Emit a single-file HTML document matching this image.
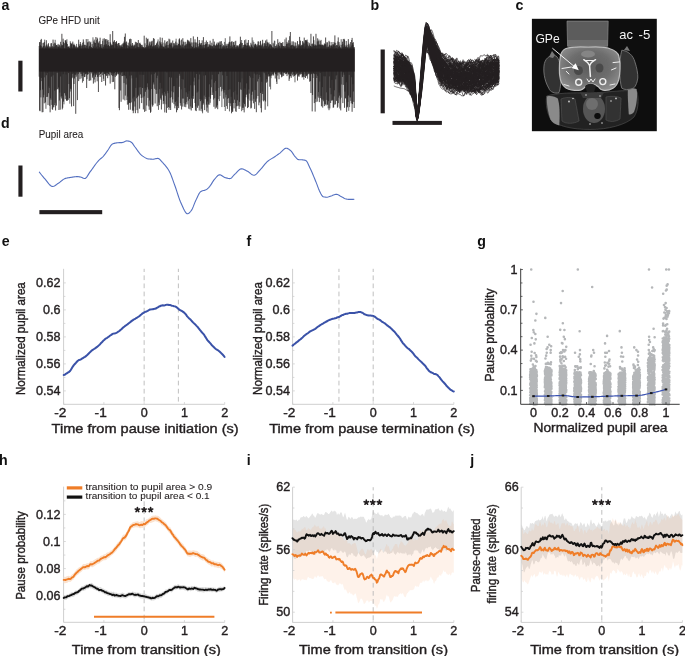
<!DOCTYPE html><html><head><meta charset="utf-8"><style>html,body{margin:0;padding:0;background:#fff;width:685px;height:656px;overflow:hidden;position:relative}</style></head><body><svg width="685" height="656" viewBox="0 0 685 656" style="position:absolute;left:0;top:0;font-family:'Liberation Sans', sans-serif;will-change:transform">
<rect width="685" height="656" fill="#fff"/>
<text x="1.60" y="10.20" font-size="14.2" text-anchor="start" font-weight="bold" fill="#111">a</text>
<text x="370.60" y="10.00" font-size="14.2" text-anchor="start" font-weight="bold" fill="#111">b</text>
<text x="515.50" y="10.20" font-size="14.2" text-anchor="start" font-weight="bold" fill="#111">c</text>
<text x="0.90" y="128.20" font-size="14.2" text-anchor="start" font-weight="bold" fill="#111">d</text>
<text x="1.80" y="246.30" font-size="14.2" text-anchor="start" font-weight="bold" fill="#111">e</text>
<text x="246.40" y="246.30" font-size="14.2" text-anchor="start" font-weight="bold" fill="#111">f</text>
<text x="477.20" y="246.30" font-size="14.2" text-anchor="start" font-weight="bold" fill="#111">g</text>
<text x="-1.00" y="464.80" font-size="14.2" text-anchor="start" font-weight="bold" fill="#111">h</text>
<text x="246.80" y="464.80" font-size="14.2" text-anchor="start" font-weight="bold" fill="#111">i</text>
<text x="470.20" y="464.80" font-size="14.2" text-anchor="start" font-weight="bold" fill="#111">j</text>
<text x="38.40" y="24.10" font-size="10" text-anchor="start" font-weight="normal" fill="#231f20" textLength="61.3" lengthAdjust="spacingAndGlyphs" stroke="#231f20" stroke-width="0.08">GPe HFD unit</text>
<rect x="18.3" y="60.7" width="4.2" height="30.8" fill="#231f20"/>
<path d="M39.20,46.0V76.7M41.72,46.1V81.1M43.82,43.1V94.8M44.66,39.6V77.4M45.08,45.5V72.9M45.92,45.9V108.8M48.86,48.3V86.5M49.28,46.4V88.0M50.54,47.4V98.3M51.80,46.8V104.9M53.48,46.9V107.3M53.90,44.0V107.2M55.16,39.8V102.8M56.00,45.8V89.8M56.84,45.0V72.9M57.68,45.5V72.8M61.46,44.5V98.5M63.98,43.3V104.3M64.40,43.3V93.0M66.08,40.1V74.5M66.92,39.2V100.3M68.18,46.6V100.0M69.86,46.8V103.7M70.28,41.2V91.6M72.38,47.4V73.9M74.90,45.3V74.4M76.58,43.9V73.5M77.00,47.6V75.4M81.20,47.4V78.4M81.62,45.4V73.9M82.46,42.7V82.7M83.72,41.8V72.9M87.08,48.1V79.2M87.92,39.0V74.2M88.34,46.6V74.2M88.76,41.8V71.7M90.86,41.7V80.4M92.96,37.3V75.8M97.58,38.8V77.1M98.00,46.0V76.6M102.20,47.5V72.6M102.62,40.8V75.2M103.46,46.9V78.8M108.92,42.1V71.8M118.16,47.2V74.5M119.84,45.3V72.6M122.78,43.4V72.2M125.72,42.3V76.1M127.40,45.3V104.7M131.18,39.1V102.1M132.02,45.2V78.4M132.86,45.3V98.5M134.54,45.4V101.4M145.04,43.3V87.9M150.08,45.9V90.5M158.06,39.4V93.7M158.48,44.7V109.9M163.10,42.6V104.2M164.36,47.3V91.9M165.62,45.7V93.7M166.04,45.6V104.3M166.88,45.2V72.6M171.92,46.1V91.4M174.44,43.2V86.1M176.12,38.7V101.0M176.96,42.7V78.1M178.22,43.9V97.2M181.16,46.3V89.4M184.10,42.2V103.2M184.52,46.1V106.8M186.62,45.4V102.2M187.88,41.2V93.8M190.40,44.1V106.5M193.76,45.4V81.6M194.18,42.3V85.4M198.80,46.0V79.5M200.90,43.2V110.8M202.58,45.3V113.3M203.84,44.9V75.6M209.72,44.4V104.7M211.40,45.6V87.3M213.50,44.6V99.6M215.60,45.7V80.9M216.86,42.7V106.4M218.96,43.0V88.0M219.38,41.5V101.1M219.80,45.2V96.0M221.06,44.8V86.2M221.48,41.1V91.4M221.90,46.7V107.1M222.32,43.7V89.1M224.42,41.9V107.0M225.26,38.2V111.0M225.68,45.6V97.5M226.52,45.6V106.1M229.46,41.7V111.4M230.30,42.2V106.2M231.14,47.6V96.8M232.82,45.3V111.6M233.66,42.2V92.2M234.92,41.5V90.8M235.34,47.0V103.0M236.18,47.1V112.0M237.02,47.0V94.5M238.28,47.4V105.5M241.64,40.0V111.2M242.06,47.5V78.4M242.48,43.0V107.8M250.46,47.3V77.5M252.14,37.4V100.7M252.98,40.4V78.1M253.82,42.0V98.9M258.44,41.4V78.9M260.12,41.7V77.1M262.22,43.5V91.7M263.06,43.5V100.4M263.48,47.1V101.4M264.74,43.6V73.3M266.00,43.7V75.2M267.68,42.9V106.3M270.62,44.5V89.4M271.04,45.0V78.2M272.30,46.8V75.5M273.98,44.1V73.3M274.40,40.7V72.4M274.82,40.9V72.2M276.50,44.4V81.7M277.34,46.5V72.7M280.28,47.7V71.6M282.38,45.4V76.6M284.06,48.0V72.5M284.90,39.3V72.1M289.52,36.2V78.7M290.78,45.6V76.3M292.46,45.2V75.3M292.88,44.8V72.0M294.98,42.2V82.3M295.40,46.3V74.8M296.66,48.4V74.2M297.92,47.6V72.6M303.80,41.7V79.7M304.64,43.4V72.1M307.58,44.5V78.7M308.00,42.1V72.1M313.04,44.6V78.0M316.40,45.4V74.3M318.50,41.2V92.1M319.76,44.6V81.6M323.54,46.1V101.3M326.06,44.5V105.5M326.48,46.7V92.4M328.16,47.1V108.4M329.42,45.0V76.4M334.46,43.1V90.3M336.98,45.0V74.9M337.40,45.5V107.9M340.34,47.3V99.4M341.18,39.2V97.7M341.60,44.9V84.5M342.02,47.1V74.6M348.74,43.5V110.8M349.58,46.5V107.1" stroke="#444" stroke-width="0.8" fill="none"/>
<path d="M39.62,42.2V110.6M40.04,42.0V111.2M40.46,45.3V90.2M40.88,40.0V97.4M41.30,38.9V77.9M42.14,47.8V112.3M42.56,47.4V89.6M42.98,42.9V112.1M43.40,46.1V97.4M44.24,42.0V103.3M45.50,47.3V102.5M46.34,40.2V75.3M46.76,44.6V97.0M47.18,47.1V73.0M47.60,46.3V96.8M48.02,44.5V105.1M48.44,43.2V93.2M49.70,47.4V105.8M50.12,46.4V112.3M50.96,43.4V99.8M51.38,43.1V76.7M52.22,47.6V109.2M52.64,46.2V109.8M53.06,39.6V75.4M54.32,42.7V105.1M54.74,46.6V90.6M55.58,43.4V110.5M56.42,45.0V105.6M57.26,46.8V89.1M58.10,43.9V89.4M58.52,47.0V87.6M58.94,45.4V110.0M59.36,44.7V100.5M59.78,46.4V92.6M60.20,47.7V109.7M60.62,41.8V76.5M61.04,46.2V96.7M61.88,33.8V96.1M62.30,45.6V109.4M62.72,45.0V107.8M63.14,38.7V74.2M63.56,41.9V101.6M64.82,48.2V93.3M65.24,40.2V99.2M65.66,40.7V95.6M66.50,42.4V100.7M67.34,44.0V100.8M67.76,47.0V99.4M68.60,46.9V73.1M69.02,45.9V84.0M69.44,48.0V98.2M70.70,42.8V88.7M71.12,44.5V89.4M71.54,44.0V106.5M71.96,43.1V78.3M72.80,41.6V77.5M73.22,44.5V73.4M73.64,45.2V106.1M74.06,43.7V84.0M74.48,45.2V78.5M75.32,47.6V74.8M75.74,46.5V113.8M76.16,46.5V76.8M77.42,48.1V100.1M77.84,46.8V72.4M78.26,47.4V73.9M78.68,39.7V81.1M79.10,44.2V71.7M79.52,46.0V72.3M79.94,45.6V79.2M80.36,42.0V71.8M80.78,44.0V73.7M82.04,46.1V76.2M82.88,45.0V75.7M83.30,39.4V81.1M84.14,47.7V72.4M84.56,44.8V77.1M84.98,44.8V76.8M85.40,47.5V74.3M85.82,45.2V73.6M86.24,39.1V73.6M86.66,45.7V88.0M87.50,42.3V74.7M89.18,41.3V81.0M89.60,46.3V72.6M90.02,45.7V80.3M90.44,42.5V71.8M91.28,47.0V73.4M91.70,47.6V71.9M92.12,44.1V71.9M92.54,48.0V77.7M93.38,46.4V83.6M93.80,41.3V75.1M94.22,39.6V79.5M94.64,42.5V73.5M95.06,47.8V82.4M95.48,42.9V76.9M95.90,37.0V73.6M96.32,46.6V74.9M96.74,40.1V73.4M97.16,37.7V81.3M98.42,42.5V92.0M98.84,43.6V72.4M99.26,41.2V75.1M99.68,47.1V72.0M100.10,37.7V77.0M100.52,44.2V74.0M100.94,45.6V73.7M101.36,47.6V72.7M101.78,44.0V82.0M103.04,38.7V71.9M103.88,45.3V81.0M104.30,38.3V73.5M104.72,44.6V74.1M105.14,40.2V73.9M105.56,39.1V85.5M105.98,45.9V75.2M106.40,44.2V75.9M106.82,39.1V72.9M107.24,40.7V73.1M107.66,45.6V78.2M108.08,40.0V75.6M108.50,45.1V74.0M109.34,46.3V75.6M109.76,46.2V72.2M110.18,34.2V83.6M110.60,42.4V72.2M111.02,43.9V73.3M111.44,45.3V75.2M111.86,45.5V73.1M112.28,45.0V82.1M112.70,31.0V76.1M113.12,45.3V73.5M113.54,41.8V81.9M113.96,41.5V75.5M114.38,40.1V73.2M114.80,47.6V89.3M115.22,44.1V77.0M115.64,42.2V71.9M116.06,42.3V75.2M116.48,41.1V75.7M116.90,43.8V74.4M117.32,45.7V72.1M117.74,43.7V73.6M118.58,43.0V73.8M119.00,43.0V108.0M119.42,45.4V110.2M120.26,47.2V74.7M120.68,45.7V90.5M121.10,45.1V101.8M121.52,46.5V72.5M121.94,44.3V76.1M122.36,46.9V76.0M123.20,44.5V99.5M123.62,43.2V75.7M124.04,41.6V83.1M124.46,36.8V75.5M124.88,43.1V100.4M125.30,33.5V95.6M126.14,44.2V84.5M126.56,41.5V78.5M126.98,45.3V100.0M127.82,47.9V96.6M128.24,42.6V104.3M128.66,45.6V109.8M129.08,46.4V102.7M129.50,39.2V102.9M129.92,47.1V75.7M130.34,38.7V109.7M130.76,44.4V103.1M131.60,46.0V75.4M132.44,43.0V110.6M133.28,45.8V113.2M133.70,46.7V110.6M134.12,44.5V96.7M134.96,45.3V106.6M135.38,41.8V113.2M135.80,47.9V87.9M136.22,43.5V77.6M136.64,42.2V98.3M137.06,46.7V110.1M137.48,43.0V97.1M137.90,46.8V113.2M138.32,40.0V94.9M138.74,47.2V96.3M139.16,47.2V87.4M139.58,43.2V108.7M140.00,42.7V74.7M140.42,44.0V94.4M140.84,45.4V87.1M141.26,46.9V98.0M141.68,44.9V103.1M142.10,44.8V74.8M142.52,46.5V88.0M142.94,47.4V97.6M143.36,47.3V109.4M143.78,47.3V74.9M144.20,35.7V96.3M144.62,48.2V111.9M145.46,47.4V91.8M145.88,47.2V111.1M146.30,37.7V89.8M146.72,45.2V105.5M147.14,46.9V87.3M147.56,39.2V83.4M147.98,38.6V97.9M148.40,45.5V89.5M148.82,46.7V106.4M149.24,43.5V109.8M149.66,41.6V100.5M150.50,45.3V112.8M150.92,41.7V111.8M151.34,43.6V74.5M151.76,41.4V89.0M152.18,40.7V104.5M152.60,46.4V106.6M153.02,46.5V105.2M153.44,38.1V82.5M153.86,45.6V84.5M154.28,38.8V73.9M154.70,46.3V88.8M155.12,45.2V103.5M155.54,45.1V72.6M155.96,47.2V89.9M156.38,43.9V93.9M156.80,42.8V78.1M157.22,46.6V106.2M157.64,41.5V75.7M158.90,47.6V102.6M159.32,46.3V105.1M159.74,41.3V89.1M160.16,37.4V82.9M160.58,43.3V98.5M161.00,42.2V100.0M161.42,45.6V109.5M161.84,44.2V88.3M162.26,37.8V93.5M162.68,46.3V95.4M163.52,46.9V101.0M163.94,46.5V103.6M164.78,40.3V112.4M165.20,43.4V95.8M166.46,41.9V112.8M167.30,41.1V107.9M167.72,47.5V91.1M168.14,45.0V93.2M168.56,47.7V107.0M168.98,38.7V109.9M169.40,43.6V77.2M169.82,39.4V107.8M170.24,44.8V97.9M170.66,42.7V110.0M171.08,44.1V97.2M171.50,42.7V77.6M172.34,47.7V102.7M172.76,40.5V99.4M173.18,47.1V92.3M173.60,43.2V86.3M174.02,45.9V104.2M174.86,44.5V108.3M175.28,45.4V102.0M175.70,41.6V105.8M176.54,45.3V112.3M177.38,45.1V110.1M177.80,46.2V106.1M178.64,43.8V108.1M179.06,39.4V86.8M179.48,38.4V73.8M179.90,40.5V75.7M180.32,45.8V103.1M180.74,44.8V105.7M181.58,39.6V109.5M182.00,47.4V78.9M182.42,44.4V98.6M182.84,38.2V106.6M183.26,47.3V79.5M183.68,41.5V98.6M184.94,45.2V87.9M185.36,45.4V104.4M185.78,41.8V107.2M186.20,44.1V92.3M187.04,43.6V104.4M187.46,39.8V96.9M188.30,41.5V100.7M188.72,40.3V108.7M189.14,43.9V91.2M189.56,41.5V99.0M189.98,42.8V109.3M190.82,38.1V85.3M191.24,42.4V110.5M191.66,46.1V98.5M192.08,47.7V107.6M192.50,46.8V108.0M192.92,42.5V96.0M193.34,36.4V98.8M194.60,47.7V77.7M195.02,39.3V103.0M195.44,42.4V110.5M195.86,46.9V106.5M196.28,47.3V111.1M196.70,42.5V74.0M197.12,47.6V92.6M197.54,36.9V107.8M197.96,43.8V91.6M198.38,47.2V105.7M199.22,40.0V110.6M199.64,42.7V74.5M200.06,44.2V99.1M200.48,44.9V101.2M201.32,43.0V108.8M201.74,45.4V99.7M202.16,40.3V111.5M203.00,47.3V104.9M203.42,37.1V103.5M204.26,44.9V95.6M204.68,47.6V110.1M205.10,42.1V99.2M205.52,44.4V75.3M205.94,43.9V97.2M206.36,40.5V104.7M206.78,43.8V111.5M207.20,47.3V107.6M207.62,42.0V101.5M208.04,46.9V112.8M208.46,46.6V104.6M208.88,44.2V96.8M209.30,45.3V84.3M210.14,40.7V102.8M210.56,45.3V98.7M210.98,46.3V95.0M211.82,42.7V79.5M212.24,46.5V74.8M212.66,46.1V95.0M213.08,38.9V92.5M213.92,47.6V106.8M214.34,41.6V82.7M214.76,44.7V98.3M215.18,45.7V108.7M216.02,45.5V91.0M216.44,44.1V107.7M217.28,45.5V105.1M217.70,44.7V109.2M218.12,42.3V99.2M218.54,43.4V74.2M220.22,44.9V72.1M220.64,41.4V87.0M222.74,46.3V75.3M223.16,47.5V90.7M223.58,45.2V98.7M224.00,45.7V92.6M224.84,46.6V90.0M226.10,43.8V94.8M226.94,45.9V76.0M227.36,48.2V108.9M227.78,43.8V98.9M228.20,45.2V89.9M228.62,43.8V98.0M229.04,42.3V103.0M229.88,36.4V89.3M230.72,45.7V103.4M231.56,41.8V113.3M231.98,41.1V109.7M232.40,46.7V111.8M233.24,41.9V103.0M234.08,45.5V108.4M234.50,44.8V99.7M235.76,40.8V111.2M236.60,45.4V106.3M237.44,45.7V100.3M237.86,45.4V106.1M238.70,46.4V81.9M239.12,45.2V109.0M239.54,43.9V101.9M239.96,45.7V106.5M240.38,36.7V82.4M240.80,42.3V89.3M241.22,43.2V89.9M242.90,47.5V110.0M243.32,45.1V107.8M243.74,46.9V102.7M244.16,44.9V112.4M244.58,40.2V104.1M245.00,44.5V88.5M245.42,44.6V106.6M245.84,39.5V97.3M246.26,46.1V94.7M246.68,45.3V83.4M247.10,42.8V94.4M247.52,45.5V108.1M247.94,42.8V98.8M248.36,40.0V107.2M248.78,45.3V89.5M249.20,47.1V93.6M249.62,45.6V75.9M250.04,46.8V100.6M250.88,42.8V108.5M251.30,45.4V107.8M251.72,44.4V94.9M252.56,46.6V91.7M253.40,47.5V103.3M254.24,44.7V73.6M254.66,45.8V108.9M255.08,44.0V90.1M255.50,43.7V101.8M255.92,44.9V74.7M256.34,46.8V112.2M256.76,45.4V98.6M257.18,44.3V74.2M257.60,46.4V81.5M258.02,41.5V96.0M258.86,45.4V105.3M259.28,45.3V74.8M259.70,45.5V102.5M260.54,40.8V93.0M260.96,45.6V108.1M261.38,46.3V112.4M261.80,44.7V81.8M262.64,39.8V94.0M263.90,45.9V72.6M264.32,42.9V100.4M265.16,45.6V109.8M265.58,40.5V101.5M266.42,46.1V82.7M266.84,39.5V79.1M267.26,41.9V81.7M268.10,43.3V76.3M268.52,46.6V74.4M268.94,42.4V76.6M269.36,45.4V76.1M269.78,44.1V86.7M270.20,44.2V76.3M271.46,45.7V75.6M271.88,31.0V72.0M272.72,47.5V73.9M273.14,42.8V74.4M273.56,47.6V75.5M275.24,46.0V78.5M275.66,47.7V74.1M276.08,45.9V74.4M276.92,47.8V84.0M277.76,39.2V75.6M278.18,44.9V71.6M278.60,42.8V72.6M279.02,47.3V79.2M279.44,45.8V72.1M279.86,41.8V73.5M280.70,43.0V74.7M281.12,46.2V73.9M281.54,43.1V77.3M281.96,43.2V75.5M282.80,42.0V71.5M283.22,46.1V72.8M283.64,46.1V75.9M284.48,46.4V72.9M285.32,45.9V74.2M285.74,47.5V72.5M286.16,37.6V73.7M286.58,44.1V73.7M287.00,41.9V76.1M287.42,43.5V72.4M287.84,46.7V72.4M288.26,43.2V74.3M288.68,40.3V74.4M289.10,47.1V80.9M289.94,43.2V73.9M290.36,32.0V76.1M291.20,45.9V77.9M291.62,44.9V73.7M292.04,41.4V71.8M293.30,41.4V76.6M293.72,46.1V73.9M294.14,45.5V74.8M294.56,46.6V76.0M295.82,42.7V75.2M296.24,45.6V73.7M297.08,47.5V73.0M297.50,41.1V80.6M298.34,45.7V76.4M298.76,44.3V75.0M299.18,44.7V76.7M299.60,36.9V74.3M300.02,46.3V72.6M300.44,40.6V74.5M300.86,45.8V73.5M301.28,46.3V72.2M301.70,44.8V74.1M302.12,45.1V77.5M302.54,41.1V76.9M302.96,45.5V74.9M303.38,43.3V76.6M304.22,37.6V77.0M305.06,46.6V74.3M305.48,40.2V78.0M305.90,40.3V72.4M306.32,40.2V76.2M306.74,41.4V75.7M307.16,39.6V74.7M308.42,45.8V74.2M308.84,47.3V72.9M309.26,42.8V73.7M309.68,44.5V81.7M310.10,46.5V74.5M310.52,45.9V81.1M310.94,33.8V93.0M311.36,46.6V74.2M311.78,43.8V73.5M312.20,46.6V111.4M312.62,43.6V95.0M313.46,36.4V73.2M313.88,40.2V73.9M314.30,44.4V103.1M314.72,45.9V74.1M315.14,46.0V111.6M315.56,44.6V98.8M315.98,33.8V102.1M316.82,45.7V78.0M317.24,41.4V101.6M317.66,38.3V75.8M318.08,44.9V96.6M318.92,39.6V97.9M319.34,44.5V102.1M320.18,41.0V73.0M320.60,44.8V98.1M321.02,39.9V95.9M321.44,44.7V106.3M321.86,46.3V99.3M322.28,44.6V87.2M322.70,45.1V107.6M323.12,44.8V99.7M323.96,45.4V76.2M324.38,43.4V106.1M324.80,44.6V104.0M325.22,44.0V76.4M325.64,37.5V104.5M326.90,42.4V99.9M327.32,42.3V104.5M327.74,47.2V104.8M328.58,46.5V101.2M329.00,40.8V110.2M329.84,41.9V108.4M330.26,45.7V87.9M330.68,47.5V103.0M331.10,45.4V94.3M331.52,45.5V100.6M331.94,42.0V79.9M332.36,46.5V100.5M332.78,44.6V99.8M333.20,44.0V107.8M333.62,45.1V107.3M334.04,42.0V96.4M334.88,35.4V104.8M335.30,46.1V104.1M335.72,42.8V79.4M336.14,48.0V75.6M336.56,45.2V100.9M337.82,41.4V106.8M338.24,37.4V103.1M338.66,46.8V97.6M339.08,42.1V92.6M339.50,46.2V95.7M339.92,44.7V108.5M340.76,47.7V110.4M342.44,41.7V76.9M342.86,44.1V103.1M343.28,39.0V84.9M343.70,46.7V72.5M344.12,38.8V74.8M344.54,39.7V107.8M344.96,45.2V91.6M345.38,46.6V98.0M345.80,47.1V98.6M346.22,41.0V82.3M346.64,46.3V111.9M347.06,44.8V107.5M347.48,47.5V106.8M347.90,47.2V102.0M348.32,39.1V95.6M349.16,44.4V74.9M350.00,48.2V97.4M350.42,42.1V97.4M350.84,47.0V100.9M351.26,45.6V103.4M351.68,40.0V77.3M352.10,37.9V111.8M352.52,43.1V104.1M352.94,45.0V84.3M353.36,42.2V91.5M353.78,47.3V101.9M354.20,47.1V108.0" stroke="#231f20" stroke-width="0.8" fill="none"/>
<rect x="39.2" y="48.6" width="315.4" height="23" fill="#231f20"/>
<rect x="380.6" y="49.5" width="4.2" height="63.8" fill="#231f20"/>
<rect x="392.5" y="120.9" width="49.4" height="4.0" fill="#231f20"/>
<path d="M393.8,71.8 L394.7,71.6 L395.6,72.9 L396.5,73.3 L397.4,73.3 L398.3,74.0 L399.2,72.6 L400.1,74.1 L401.0,77.5 L401.9,79.2 L402.8,77.7 L403.7,75.1 L404.6,74.9 L405.5,74.1 L406.4,77.7 L407.3,79.5 L408.2,78.8 L409.1,80.6 L410.0,84.7 L410.9,87.6 L411.8,86.7 L412.7,87.8 L413.6,93.5 L414.5,97.3 L415.4,102.4 L416.3,113.7 L417.2,119.2 L418.1,115.6 L419.0,107.7 L419.9,97.8 L420.8,90.0 L421.7,78.4 L422.6,69.2 L423.5,61.7 L424.4,54.5 L425.3,47.1 L426.2,40.0 L427.1,40.5 L428.0,44.9 L428.9,43.8 L429.8,45.9 L430.7,49.8 L431.6,52.0 L432.5,54.8 L433.4,55.5 L434.3,57.0 L435.2,62.7 L436.1,65.9 L437.0,68.3 L437.9,71.6 L438.8,72.7 L439.7,72.6 L440.6,74.4 L441.5,73.9 L442.4,73.8 L443.3,73.3 L444.2,75.0 L445.1,79.0 L446.0,78.6 L446.9,80.1 L447.8,79.9 L448.7,79.0 L449.6,80.1 L450.5,79.1 L451.4,79.4 L452.3,82.8 L453.2,80.3 L454.1,80.0 L455.0,82.0 L455.9,83.2 L456.8,84.8 L457.7,84.1 L458.6,85.0 L459.5,84.5 L460.4,82.4 L461.3,84.3 L462.2,85.4 L463.1,85.4 L464.0,87.6 L464.9,86.5 L465.8,85.5 L466.7,87.8 L467.6,87.5 L468.5,84.4 L469.4,82.1 L470.3,82.1 L471.2,84.8 L472.1,85.7 L473.0,85.2 L473.9,86.1 L474.8,86.0 L475.7,84.5 L476.6,85.2 L477.5,84.0 L478.4,83.4 L479.3,86.7 L480.2,88.9 L481.1,82.7 L482.0,81.7 L482.9,82.8 L483.8,84.0 L484.7,83.7 L485.6,81.2 L486.5,79.9 L487.4,80.9 L488.3,83.2 L489.2,82.0 L490.1,81.4 L491.0,81.3 L491.9,81.3 L492.8,80.1 L493.7,78.7 L494.6,81.2 L495.5,80.7 L496.4,78.1 L497.3,78.7 L498.2,77.8 L499.1,76.0 M393.8,56.7 L394.7,59.4 L395.6,59.0 L396.5,60.0 L397.4,60.1 L398.3,58.4 L399.2,59.2 L400.1,56.7 L401.0,55.5 L401.9,58.3 L402.8,57.7 L403.7,57.4 L404.6,58.2 L405.5,57.8 L406.4,62.0 L407.3,64.3 L408.2,61.5 L409.1,63.5 L410.0,64.3 L410.9,65.9 L411.8,67.9 L412.7,71.3 L413.6,72.5 L414.5,74.9 L415.4,86.2 L416.3,104.3 L417.2,114.2 L418.1,107.4 L419.0,97.5 L419.9,88.5 L420.8,76.9 L421.7,66.2 L422.6,56.4 L423.5,44.5 L424.4,35.5 L425.3,29.9 L426.2,27.1 L427.1,29.2 L428.0,32.4 L428.9,33.1 L429.8,36.0 L430.7,41.1 L431.6,39.7 L432.5,39.1 L433.4,42.0 L434.3,46.2 L435.2,50.4 L436.1,49.0 L437.0,47.7 L437.9,49.9 L438.8,51.1 L439.7,52.5 L440.6,55.0 L441.5,56.1 L442.4,58.7 L443.3,61.8 L444.2,59.3 L445.1,57.7 L446.0,58.8 L446.9,62.3 L447.8,62.0 L448.7,59.2 L449.6,61.2 L450.5,62.9 L451.4,62.8 L452.3,64.4 L453.2,65.2 L454.1,63.6 L455.0,63.4 L455.9,63.8 L456.8,65.8 L457.7,65.2 L458.6,66.1 L459.5,67.3 L460.4,66.7 L461.3,66.8 L462.2,69.0 L463.1,70.4 L464.0,69.9 L464.9,70.5 L465.8,68.6 L466.7,65.0 L467.6,66.6 L468.5,70.5 L469.4,70.4 L470.3,69.3 L471.2,69.8 L472.1,67.0 L473.0,64.9 L473.9,68.0 L474.8,66.8 L475.7,61.6 L476.6,62.9 L477.5,63.7 L478.4,64.3 L479.3,62.6 L480.2,61.6 L481.1,60.8 L482.0,61.3 L482.9,64.9 L483.8,65.4 L484.7,60.8 L485.6,59.3 L486.5,57.4 L487.4,57.0 L488.3,60.9 L489.2,60.0 L490.1,59.7 L491.0,61.2 L491.9,61.2 L492.8,61.6 L493.7,61.0 L494.6,57.9 L495.5,55.8 L496.4,57.6 L497.3,59.1 L498.2,59.9 L499.1,61.4 M393.8,56.1 L394.7,54.5 L395.6,56.2 L396.5,59.7 L397.4,56.9 L398.3,56.3 L399.2,60.1 L400.1,59.2 L401.0,60.5 L401.9,62.0 L402.8,60.9 L403.7,63.2 L404.6,64.8 L405.5,62.9 L406.4,64.6 L407.3,65.2 L408.2,67.7 L409.1,70.0 L410.0,69.9 L410.9,71.9 L411.8,74.1 L412.7,77.1 L413.6,79.1 L414.5,83.4 L415.4,91.6 L416.3,106.6 L417.2,115.1 L418.1,108.4 L419.0,97.6 L419.9,88.8 L420.8,78.2 L421.7,67.6 L422.6,58.7 L423.5,45.5 L424.4,35.0 L425.3,27.3 L426.2,26.1 L427.1,26.5 L428.0,27.1 L428.9,30.2 L429.8,30.7 L430.7,29.8 L431.6,34.3 L432.5,40.6 L433.4,43.1 L434.3,42.9 L435.2,45.0 L436.1,47.7 L437.0,51.1 L437.9,51.6 L438.8,52.0 L439.7,54.1 L440.6,58.3 L441.5,61.2 L442.4,64.5 L443.3,63.8 L444.2,61.8 L445.1,62.8 L446.0,63.7 L446.9,64.2 L447.8,64.7 L448.7,64.8 L449.6,66.8 L450.5,66.6 L451.4,66.6 L452.3,65.0 L453.2,66.3 L454.1,66.9 L455.0,67.3 L455.9,68.0 L456.8,71.0 L457.7,69.6 L458.6,67.6 L459.5,65.5 L460.4,66.4 L461.3,70.3 L462.2,68.7 L463.1,67.0 L464.0,69.9 L464.9,68.1 L465.8,65.8 L466.7,66.3 L467.6,65.7 L468.5,64.3 L469.4,67.0 L470.3,63.6 L471.2,62.1 L472.1,63.9 L473.0,65.9 L473.9,66.7 L474.8,66.4 L475.7,63.8 L476.6,60.9 L477.5,61.0 L478.4,62.5 L479.3,62.3 L480.2,61.4 L481.1,62.7 L482.0,63.8 L482.9,63.1 L483.8,63.1 L484.7,61.9 L485.6,61.4 L486.5,62.9 L487.4,65.0 L488.3,68.4 L489.2,67.1 L490.1,64.5 L491.0,66.1 L491.9,64.2 L492.8,62.7 L493.7,62.8 L494.6,63.2 L495.5,65.9 L496.4,64.5 L497.3,61.8 L498.2,62.8 L499.1,63.3 M393.8,62.6 L394.7,61.8 L395.6,59.3 L396.5,60.6 L397.4,62.3 L398.3,60.6 L399.2,62.4 L400.1,61.6 L401.0,59.8 L401.9,59.2 L402.8,61.2 L403.7,64.4 L404.6,65.9 L405.5,66.0 L406.4,67.7 L407.3,67.4 L408.2,68.2 L409.1,71.9 L410.0,74.7 L410.9,71.9 L411.8,72.0 L412.7,78.7 L413.6,82.9 L414.5,85.5 L415.4,95.4 L416.3,108.8 L417.2,116.3 L418.1,111.3 L419.0,101.6 L419.9,91.6 L420.8,82.3 L421.7,71.0 L422.6,62.8 L423.5,53.9 L424.4,44.2 L425.3,37.3 L426.2,31.9 L427.1,30.3 L428.0,33.2 L428.9,37.2 L429.8,41.8 L430.7,43.6 L431.6,43.7 L432.5,44.5 L433.4,48.1 L434.3,47.5 L435.2,48.2 L436.1,52.9 L437.0,56.8 L437.9,57.9 L438.8,60.1 L439.7,62.4 L440.6,63.7 L441.5,64.0 L442.4,64.2 L443.3,65.8 L444.2,68.0 L445.1,70.7 L446.0,72.3 L446.9,70.4 L447.8,70.5 L448.7,71.1 L449.6,70.6 L450.5,70.8 L451.4,72.3 L452.3,72.6 L453.2,72.4 L454.1,72.6 L455.0,75.0 L455.9,73.1 L456.8,72.5 L457.7,73.6 L458.6,74.0 L459.5,73.6 L460.4,72.2 L461.3,74.1 L462.2,75.0 L463.1,72.1 L464.0,74.9 L464.9,73.0 L465.8,73.1 L466.7,75.7 L467.6,75.4 L468.5,74.4 L469.4,72.1 L470.3,68.8 L471.2,72.5 L472.1,72.7 L473.0,70.7 L473.9,71.5 L474.8,71.1 L475.7,69.2 L476.6,70.4 L477.5,70.3 L478.4,69.9 L479.3,68.6 L480.2,71.0 L481.1,71.5 L482.0,66.3 L482.9,63.5 L483.8,67.2 L484.7,68.6 L485.6,68.9 L486.5,69.1 L487.4,68.5 L488.3,69.0 L489.2,70.3 L490.1,70.3 L491.0,71.0 L491.9,71.4 L492.8,71.6 L493.7,69.4 L494.6,70.1 L495.5,70.7 L496.4,68.1 L497.3,69.5 L498.2,71.3 L499.1,70.4 M393.8,79.6 L394.7,80.3 L395.6,79.5 L396.5,76.9 L397.4,76.8 L398.3,78.0 L399.2,80.3 L400.1,81.0 L401.0,80.3 L401.9,80.8 L402.8,82.2 L403.7,82.5 L404.6,81.5 L405.5,80.5 L406.4,83.7 L407.3,85.1 L408.2,85.3 L409.1,87.9 L410.0,89.3 L410.9,90.7 L411.8,92.6 L412.7,95.2 L413.6,99.7 L414.5,102.3 L415.4,108.5 L416.3,116.3 L417.2,120.0 L418.1,116.9 L419.0,110.5 L419.9,103.3 L420.8,96.6 L421.7,89.2 L422.6,79.9 L423.5,72.4 L424.4,65.9 L425.3,54.3 L426.2,48.2 L427.1,50.6 L428.0,49.6 L428.9,50.2 L429.8,53.2 L430.7,53.2 L431.6,60.7 L432.5,64.6 L433.4,66.1 L434.3,68.1 L435.2,68.0 L436.1,70.6 L437.0,72.1 L437.9,74.3 L438.8,76.7 L439.7,79.3 L440.6,80.3 L441.5,79.3 L442.4,79.7 L443.3,80.4 L444.2,80.9 L445.1,81.5 L446.0,83.3 L446.9,83.0 L447.8,84.4 L448.7,86.4 L449.6,87.8 L450.5,86.4 L451.4,87.4 L452.3,87.4 L453.2,88.1 L454.1,88.5 L455.0,88.9 L455.9,91.0 L456.8,90.4 L457.7,87.7 L458.6,89.3 L459.5,93.1 L460.4,91.2 L461.3,88.3 L462.2,87.9 L463.1,89.9 L464.0,90.8 L464.9,91.1 L465.8,89.7 L466.7,88.8 L467.6,92.3 L468.5,92.8 L469.4,90.6 L470.3,91.5 L471.2,92.2 L472.1,91.7 L473.0,91.5 L473.9,90.4 L474.8,90.5 L475.7,90.7 L476.6,89.9 L477.5,89.6 L478.4,89.5 L479.3,90.5 L480.2,89.2 L481.1,88.8 L482.0,86.4 L482.9,84.1 L483.8,85.4 L484.7,87.1 L485.6,88.2 L486.5,85.6 L487.4,84.8 L488.3,86.7 L489.2,86.1 L490.1,84.8 L491.0,83.1 L491.9,79.7 L492.8,81.2 L493.7,84.9 L494.6,83.4 L495.5,81.0 L496.4,80.2 L497.3,80.1 L498.2,79.4 L499.1,77.9 M393.8,61.1 L394.7,60.5 L395.6,59.7 L396.5,61.9 L397.4,62.9 L398.3,62.7 L399.2,62.5 L400.1,61.2 L401.0,62.1 L401.9,60.6 L402.8,60.3 L403.7,61.5 L404.6,63.6 L405.5,65.6 L406.4,65.8 L407.3,68.3 L408.2,70.0 L409.1,73.3 L410.0,73.6 L410.9,73.9 L411.8,77.0 L412.7,81.3 L413.6,84.0 L414.5,87.8 L415.4,95.8 L416.3,109.6 L417.2,116.6 L418.1,111.0 L419.0,100.9 L419.9,93.4 L420.8,82.8 L421.7,72.2 L422.6,62.9 L423.5,50.8 L424.4,42.6 L425.3,34.4 L426.2,29.8 L427.1,33.5 L428.0,37.8 L428.9,39.7 L429.8,38.0 L430.7,39.3 L431.6,45.4 L432.5,46.2 L433.4,47.0 L434.3,47.8 L435.2,46.1 L436.1,47.7 L437.0,49.8 L437.9,54.2 L438.8,55.5 L439.7,56.4 L440.6,59.1 L441.5,59.8 L442.4,59.4 L443.3,59.5 L444.2,62.9 L445.1,62.3 L446.0,62.8 L446.9,67.2 L447.8,67.0 L448.7,68.3 L449.6,64.5 L450.5,62.7 L451.4,66.1 L452.3,65.9 L453.2,68.1 L454.1,69.9 L455.0,70.0 L455.9,71.4 L456.8,70.2 L457.7,70.6 L458.6,71.8 L459.5,69.2 L460.4,67.2 L461.3,67.6 L462.2,69.1 L463.1,71.4 L464.0,73.6 L464.9,74.0 L465.8,71.6 L466.7,68.5 L467.6,69.7 L468.5,69.9 L469.4,70.0 L470.3,71.0 L471.2,74.2 L472.1,72.1 L473.0,69.3 L473.9,73.6 L474.8,73.0 L475.7,69.4 L476.6,71.6 L477.5,69.4 L478.4,64.5 L479.3,63.6 L480.2,65.3 L481.1,67.7 L482.0,67.9 L482.9,68.6 L483.8,68.5 L484.7,66.4 L485.6,66.7 L486.5,67.0 L487.4,67.6 L488.3,65.3 L489.2,66.9 L490.1,69.5 L491.0,69.7 L491.9,67.8 L492.8,67.4 L493.7,68.5 L494.6,68.5 L495.5,67.2 L496.4,67.6 L497.3,68.2 L498.2,66.5 L499.1,65.9 M393.8,74.9 L394.7,75.7 L395.6,75.2 L396.5,76.4 L397.4,75.4 L398.3,75.2 L399.2,76.1 L400.1,76.5 L401.0,76.7 L401.9,77.1 L402.8,78.0 L403.7,76.3 L404.6,76.5 L405.5,76.6 L406.4,78.7 L407.3,80.7 L408.2,79.3 L409.1,83.9 L410.0,85.5 L410.9,84.0 L411.8,84.4 L412.7,87.9 L413.6,92.2 L414.5,96.7 L415.4,103.5 L416.3,112.9 L417.2,118.5 L418.1,114.7 L419.0,107.2 L419.9,101.6 L420.8,94.0 L421.7,82.5 L422.6,76.3 L423.5,65.3 L424.4,55.4 L425.3,46.6 L426.2,42.6 L427.1,40.7 L428.0,41.3 L428.9,45.6 L429.8,47.2 L430.7,50.3 L431.6,53.9 L432.5,55.7 L433.4,58.1 L434.3,61.4 L435.2,62.0 L436.1,62.2 L437.0,66.6 L437.9,69.1 L438.8,70.7 L439.7,74.1 L440.6,74.6 L441.5,77.7 L442.4,80.8 L443.3,79.8 L444.2,77.1 L445.1,77.3 L446.0,78.0 L446.9,80.0 L447.8,83.9 L448.7,81.6 L449.6,83.2 L450.5,83.9 L451.4,79.8 L452.3,82.2 L453.2,84.6 L454.1,83.5 L455.0,81.2 L455.9,82.3 L456.8,82.9 L457.7,81.7 L458.6,82.6 L459.5,83.6 L460.4,82.7 L461.3,80.0 L462.2,82.8 L463.1,81.0 L464.0,81.5 L464.9,84.4 L465.8,83.8 L466.7,83.9 L467.6,83.7 L468.5,84.4 L469.4,82.6 L470.3,81.1 L471.2,82.6 L472.1,81.3 L473.0,80.0 L473.9,83.0 L474.8,85.1 L475.7,82.3 L476.6,82.0 L477.5,82.0 L478.4,82.9 L479.3,85.2 L480.2,81.8 L481.1,79.5 L482.0,82.7 L482.9,85.0 L483.8,82.9 L484.7,80.2 L485.6,80.3 L486.5,81.5 L487.4,81.4 L488.3,80.3 L489.2,80.1 L490.1,81.5 L491.0,81.7 L491.9,79.0 L492.8,74.4 L493.7,73.2 L494.6,75.8 L495.5,75.7 L496.4,74.8 L497.3,78.2 L498.2,76.1 L499.1,73.6 M393.8,68.2 L394.7,67.9 L395.6,66.0 L396.5,63.4 L397.4,66.2 L398.3,68.7 L399.2,67.8 L400.1,66.8 L401.0,65.9 L401.9,70.1 L402.8,71.7 L403.7,68.7 L404.6,69.2 L405.5,71.9 L406.4,73.5 L407.3,72.8 L408.2,75.1 L409.1,75.7 L410.0,78.9 L410.9,79.0 L411.8,79.0 L412.7,82.7 L413.6,84.9 L414.5,88.4 L415.4,97.0 L416.3,110.3 L417.2,116.8 L418.1,111.5 L419.0,102.4 L419.9,93.3 L420.8,84.8 L421.7,75.4 L422.6,65.9 L423.5,56.7 L424.4,47.5 L425.3,39.5 L426.2,35.8 L427.1,33.7 L428.0,37.6 L428.9,39.9 L429.8,40.8 L430.7,43.3 L431.6,48.4 L432.5,51.3 L433.4,52.3 L434.3,54.1 L435.2,58.3 L436.1,60.6 L437.0,62.3 L437.9,66.8 L438.8,68.4 L439.7,67.6 L440.6,69.1 L441.5,70.4 L442.4,71.4 L443.3,71.3 L444.2,73.3 L445.1,75.1 L446.0,76.2 L446.9,76.1 L447.8,77.2 L448.7,76.3 L449.6,78.6 L450.5,83.5 L451.4,81.2 L452.3,79.7 L453.2,80.2 L454.1,79.9 L455.0,79.3 L455.9,77.1 L456.8,79.0 L457.7,80.0 L458.6,79.6 L459.5,79.7 L460.4,78.1 L461.3,79.1 L462.2,82.1 L463.1,80.5 L464.0,78.3 L464.9,78.6 L465.8,77.7 L466.7,76.2 L467.6,76.4 L468.5,75.8 L469.4,75.0 L470.3,76.6 L471.2,76.3 L472.1,74.4 L473.0,73.5 L473.9,76.0 L474.8,79.2 L475.7,79.4 L476.6,78.5 L477.5,76.5 L478.4,76.4 L479.3,78.5 L480.2,76.8 L481.1,78.5 L482.0,77.1 L482.9,78.3 L483.8,78.1 L484.7,75.4 L485.6,76.2 L486.5,74.6 L487.4,74.4 L488.3,75.3 L489.2,72.9 L490.1,71.9 L491.0,71.1 L491.9,71.7 L492.8,73.4 L493.7,72.8 L494.6,71.0 L495.5,72.0 L496.4,70.3 L497.3,70.1 L498.2,69.6 L499.1,68.6 M393.8,64.5 L394.7,65.0 L395.6,66.2 L396.5,68.1 L397.4,66.9 L398.3,65.7 L399.2,68.9 L400.1,70.3 L401.0,69.4 L401.9,67.1 L402.8,65.1 L403.7,66.4 L404.6,68.9 L405.5,70.5 L406.4,74.2 L407.3,73.7 L408.2,71.7 L409.1,75.5 L410.0,77.6 L410.9,80.4 L411.8,81.6 L412.7,81.2 L413.6,85.7 L414.5,93.0 L415.4,97.3 L416.3,110.7 L417.2,117.5 L418.1,111.7 L419.0,103.9 L419.9,97.6 L420.8,86.7 L421.7,76.0 L422.6,68.7 L423.5,60.9 L424.4,50.2 L425.3,38.9 L426.2,34.1 L427.1,39.5 L428.0,43.1 L428.9,42.8 L429.8,40.5 L430.7,43.6 L431.6,49.5 L432.5,52.9 L433.4,54.9 L434.3,56.5 L435.2,57.9 L436.1,59.1 L437.0,61.9 L437.9,63.9 L438.8,66.5 L439.7,70.0 L440.6,68.8 L441.5,70.5 L442.4,71.2 L443.3,70.3 L444.2,74.3 L445.1,72.3 L446.0,68.9 L446.9,70.6 L447.8,73.8 L448.7,75.8 L449.6,76.3 L450.5,74.5 L451.4,73.9 L452.3,75.3 L453.2,77.5 L454.1,77.8 L455.0,78.4 L455.9,78.7 L456.8,77.9 L457.7,77.0 L458.6,75.7 L459.5,75.9 L460.4,75.4 L461.3,75.8 L462.2,75.2 L463.1,76.8 L464.0,78.9 L464.9,80.0 L465.8,79.1 L466.7,78.3 L467.6,78.4 L468.5,78.9 L469.4,78.2 L470.3,79.0 L471.2,77.8 L472.1,76.7 L473.0,76.1 L473.9,78.2 L474.8,79.5 L475.7,77.7 L476.6,79.2 L477.5,78.5 L478.4,75.5 L479.3,73.7 L480.2,75.6 L481.1,79.8 L482.0,80.2 L482.9,79.5 L483.8,80.7 L484.7,77.8 L485.6,74.9 L486.5,74.9 L487.4,76.8 L488.3,75.3 L489.2,74.3 L490.1,74.3 L491.0,73.8 L491.9,72.0 L492.8,71.7 L493.7,73.1 L494.6,72.6 L495.5,69.4 L496.4,68.6 L497.3,68.7 L498.2,69.7 L499.1,69.7 M393.8,66.6 L394.7,66.9 L395.6,67.9 L396.5,67.3 L397.4,64.8 L398.3,63.7 L399.2,63.4 L400.1,64.4 L401.0,65.7 L401.9,68.7 L402.8,71.1 L403.7,71.5 L404.6,69.5 L405.5,68.7 L406.4,73.1 L407.3,76.0 L408.2,76.4 L409.1,78.0 L410.0,80.8 L410.9,83.2 L411.8,85.6 L412.7,88.7 L413.6,91.9 L414.5,95.9 L415.4,102.1 L416.3,112.9 L417.2,118.0 L418.1,113.2 L419.0,105.6 L419.9,97.6 L420.8,87.2 L421.7,76.6 L422.6,67.2 L423.5,56.4 L424.4,50.2 L425.3,43.3 L426.2,38.1 L427.1,38.9 L428.0,40.2 L428.9,41.2 L429.8,45.4 L430.7,50.6 L431.6,51.0 L432.5,53.2 L433.4,56.6 L434.3,56.0 L435.2,58.4 L436.1,62.5 L437.0,64.3 L437.9,63.8 L438.8,64.5 L439.7,62.6 L440.6,67.1 L441.5,69.5 L442.4,69.5 L443.3,71.8 L444.2,72.6 L445.1,75.5 L446.0,72.9 L446.9,71.6 L447.8,73.9 L448.7,76.6 L449.6,77.3 L450.5,74.5 L451.4,74.4 L452.3,77.5 L453.2,78.4 L454.1,75.6 L455.0,77.1 L455.9,76.3 L456.8,74.7 L457.7,72.9 L458.6,72.8 L459.5,74.9 L460.4,75.3 L461.3,72.5 L462.2,73.8 L463.1,74.7 L464.0,72.8 L464.9,76.7 L465.8,78.3 L466.7,75.9 L467.6,76.7 L468.5,77.6 L469.4,76.8 L470.3,75.6 L471.2,75.7 L472.1,76.7 L473.0,79.3 L473.9,79.3 L474.8,78.6 L475.7,76.3 L476.6,74.5 L477.5,77.9 L478.4,78.3 L479.3,76.9 L480.2,77.6 L481.1,77.5 L482.0,75.0 L482.9,74.0 L483.8,71.8 L484.7,72.9 L485.6,76.5 L486.5,76.9 L487.4,75.1 L488.3,73.2 L489.2,74.7 L490.1,76.3 L491.0,76.6 L491.9,74.5 L492.8,73.2 L493.7,73.1 L494.6,72.4 L495.5,72.4 L496.4,72.7 L497.3,70.3 L498.2,70.3 L499.1,71.6 M393.8,73.0 L394.7,75.9 L395.6,74.8 L396.5,73.1 L397.4,73.1 L398.3,72.4 L399.2,74.8 L400.1,75.4 L401.0,73.6 L401.9,74.3 L402.8,75.1 L403.7,77.7 L404.6,79.8 L405.5,80.0 L406.4,80.2 L407.3,81.3 L408.2,82.6 L409.1,85.1 L410.0,84.2 L410.9,86.9 L411.8,89.7 L412.7,91.8 L413.6,91.9 L414.5,96.4 L415.4,104.9 L416.3,113.2 L417.2,117.6 L418.1,112.9 L419.0,106.1 L419.9,97.2 L420.8,86.6 L421.7,80.0 L422.6,70.7 L423.5,61.7 L424.4,55.2 L425.3,46.2 L426.2,42.2 L427.1,43.5 L428.0,45.8 L428.9,45.6 L429.8,44.5 L430.7,48.6 L431.6,53.6 L432.5,55.1 L433.4,55.6 L434.3,59.5 L435.2,61.3 L436.1,63.1 L437.0,67.9 L437.9,69.3 L438.8,71.8 L439.7,72.9 L440.6,72.8 L441.5,73.4 L442.4,75.0 L443.3,77.3 L444.2,78.6 L445.1,77.4 L446.0,75.5 L446.9,78.2 L447.8,80.9 L448.7,78.9 L449.6,77.1 L450.5,78.4 L451.4,80.0 L452.3,82.4 L453.2,82.9 L454.1,82.9 L455.0,82.8 L455.9,84.9 L456.8,84.5 L457.7,85.1 L458.6,85.1 L459.5,83.0 L460.4,81.6 L461.3,81.2 L462.2,83.1 L463.1,83.1 L464.0,83.9 L464.9,83.8 L465.8,81.9 L466.7,80.7 L467.6,79.3 L468.5,83.0 L469.4,84.7 L470.3,83.6 L471.2,82.4 L472.1,81.4 L473.0,84.1 L473.9,85.4 L474.8,84.3 L475.7,82.9 L476.6,82.1 L477.5,81.8 L478.4,80.6 L479.3,82.9 L480.2,81.9 L481.1,83.0 L482.0,83.6 L482.9,81.2 L483.8,78.3 L484.7,75.7 L485.6,74.8 L486.5,76.4 L487.4,79.2 L488.3,78.9 L489.2,77.6 L490.1,77.9 L491.0,76.8 L491.9,76.1 L492.8,75.4 L493.7,73.8 L494.6,73.4 L495.5,72.4 L496.4,71.0 L497.3,73.7 L498.2,73.6 L499.1,73.9 M393.8,70.5 L394.7,71.6 L395.6,70.9 L396.5,69.7 L397.4,71.3 L398.3,72.0 L399.2,71.0 L400.1,69.2 L401.0,70.1 L401.9,73.5 L402.8,74.4 L403.7,72.3 L404.6,72.5 L405.5,73.0 L406.4,75.1 L407.3,76.5 L408.2,77.0 L409.1,77.7 L410.0,82.6 L410.9,85.5 L411.8,84.9 L412.7,86.6 L413.6,91.9 L414.5,97.0 L415.4,103.0 L416.3,112.7 L417.2,118.2 L418.1,112.7 L419.0,104.1 L419.9,98.1 L420.8,90.3 L421.7,79.9 L422.6,69.1 L423.5,58.2 L424.4,52.0 L425.3,43.7 L426.2,41.1 L427.1,39.7 L428.0,39.6 L428.9,41.3 L429.8,42.1 L430.7,47.3 L431.6,51.5 L432.5,50.9 L433.4,49.0 L434.3,51.1 L435.2,55.5 L436.1,57.0 L437.0,57.1 L437.9,60.7 L438.8,63.2 L439.7,64.2 L440.6,66.6 L441.5,66.8 L442.4,69.9 L443.3,70.0 L444.2,69.2 L445.1,71.4 L446.0,74.0 L446.9,75.7 L447.8,75.7 L448.7,74.9 L449.6,76.3 L450.5,77.8 L451.4,77.1 L452.3,76.4 L453.2,75.7 L454.1,80.2 L455.0,80.3 L455.9,81.2 L456.8,84.3 L457.7,84.7 L458.6,82.6 L459.5,79.2 L460.4,77.7 L461.3,79.7 L462.2,79.3 L463.1,81.1 L464.0,80.8 L464.9,82.2 L465.8,84.0 L466.7,80.6 L467.6,78.9 L468.5,81.6 L469.4,81.7 L470.3,80.5 L471.2,81.1 L472.1,82.6 L473.0,82.4 L473.9,82.1 L474.8,80.2 L475.7,81.7 L476.6,80.1 L477.5,78.2 L478.4,76.9 L479.3,77.4 L480.2,78.7 L481.1,77.3 L482.0,76.4 L482.9,78.1 L483.8,77.9 L484.7,78.0 L485.6,76.1 L486.5,75.3 L487.4,73.4 L488.3,73.7 L489.2,75.8 L490.1,74.1 L491.0,73.7 L491.9,75.9 L492.8,76.9 L493.7,77.4 L494.6,76.6 L495.5,74.5 L496.4,74.7 L497.3,74.9 L498.2,71.5 L499.1,72.6 M393.8,63.5 L394.7,62.1 L395.6,63.2 L396.5,63.9 L397.4,64.4 L398.3,64.5 L399.2,63.9 L400.1,66.4 L401.0,69.3 L401.9,70.1 L402.8,68.4 L403.7,68.8 L404.6,69.8 L405.5,73.1 L406.4,76.1 L407.3,75.9 L408.2,79.5 L409.1,81.8 L410.0,81.5 L410.9,80.2 L411.8,81.3 L412.7,82.9 L413.6,88.9 L414.5,93.9 L415.4,99.8 L416.3,112.5 L417.2,117.8 L418.1,112.6 L419.0,104.2 L419.9,95.6 L420.8,86.0 L421.7,76.8 L422.6,66.6 L423.5,56.5 L424.4,49.3 L425.3,40.5 L426.2,37.1 L427.1,35.7 L428.0,36.2 L428.9,40.1 L429.8,45.4 L430.7,47.8 L431.6,48.5 L432.5,52.6 L433.4,55.6 L434.3,55.6 L435.2,57.4 L436.1,62.9 L437.0,66.4 L437.9,65.9 L438.8,65.2 L439.7,66.9 L440.6,68.7 L441.5,69.4 L442.4,72.9 L443.3,72.1 L444.2,72.2 L445.1,74.2 L446.0,75.0 L446.9,76.5 L447.8,76.7 L448.7,76.7 L449.6,77.0 L450.5,75.4 L451.4,76.1 L452.3,77.9 L453.2,77.7 L454.1,74.8 L455.0,75.2 L455.9,77.4 L456.8,78.5 L457.7,75.8 L458.6,73.7 L459.5,73.6 L460.4,73.5 L461.3,74.6 L462.2,74.7 L463.1,72.6 L464.0,74.9 L464.9,76.2 L465.8,75.8 L466.7,75.1 L467.6,75.1 L468.5,75.8 L469.4,75.4 L470.3,75.9 L471.2,76.8 L472.1,76.4 L473.0,77.5 L473.9,78.0 L474.8,76.5 L475.7,76.7 L476.6,76.8 L477.5,77.8 L478.4,78.8 L479.3,76.1 L480.2,75.4 L481.1,77.5 L482.0,76.1 L482.9,73.1 L483.8,74.1 L484.7,76.1 L485.6,76.1 L486.5,74.6 L487.4,72.7 L488.3,70.8 L489.2,71.5 L490.1,73.3 L491.0,72.7 L491.9,73.5 L492.8,72.5 L493.7,72.5 L494.6,72.4 L495.5,70.1 L496.4,70.5 L497.3,68.6 L498.2,70.3 L499.1,71.9 M393.8,72.9 L394.7,71.6 L395.6,72.8 L396.5,73.6 L397.4,70.0 L398.3,71.3 L399.2,74.7 L400.1,75.0 L401.0,72.0 L401.9,72.8 L402.8,74.3 L403.7,77.1 L404.6,76.2 L405.5,77.2 L406.4,78.9 L407.3,79.5 L408.2,79.1 L409.1,80.7 L410.0,82.0 L410.9,85.4 L411.8,86.4 L412.7,87.7 L413.6,91.0 L414.5,98.3 L415.4,103.5 L416.3,114.3 L417.2,119.3 L418.1,114.2 L419.0,106.0 L419.9,99.2 L420.8,89.8 L421.7,81.2 L422.6,72.1 L423.5,64.8 L424.4,54.3 L425.3,45.2 L426.2,42.4 L427.1,43.7 L428.0,46.0 L428.9,44.5 L429.8,46.8 L430.7,52.0 L431.6,54.4 L432.5,55.7 L433.4,55.7 L434.3,57.9 L435.2,61.1 L436.1,63.2 L437.0,66.4 L437.9,69.7 L438.8,72.2 L439.7,73.3 L440.6,72.8 L441.5,73.1 L442.4,75.1 L443.3,73.9 L444.2,74.7 L445.1,77.2 L446.0,76.4 L446.9,78.3 L447.8,79.6 L448.7,79.6 L449.6,82.6 L450.5,82.7 L451.4,81.6 L452.3,81.5 L453.2,78.9 L454.1,77.4 L455.0,79.7 L455.9,84.9 L456.8,85.3 L457.7,82.7 L458.6,84.0 L459.5,85.9 L460.4,86.3 L461.3,85.2 L462.2,86.3 L463.1,84.8 L464.0,84.5 L464.9,82.9 L465.8,82.4 L466.7,84.2 L467.6,84.9 L468.5,85.2 L469.4,83.4 L470.3,81.3 L471.2,84.1 L472.1,83.6 L473.0,82.6 L473.9,84.1 L474.8,84.6 L475.7,81.7 L476.6,82.1 L477.5,81.4 L478.4,81.4 L479.3,83.4 L480.2,81.0 L481.1,80.3 L482.0,81.2 L482.9,79.3 L483.8,78.0 L484.7,77.0 L485.6,76.7 L486.5,79.2 L487.4,77.1 L488.3,76.4 L489.2,76.1 L490.1,75.9 L491.0,78.5 L491.9,77.3 L492.8,75.7 L493.7,75.2 L494.6,76.8 L495.5,77.9 L496.4,75.6 L497.3,75.6 L498.2,75.9 L499.1,75.7 M393.8,62.5 L394.7,62.0 L395.6,62.2 L396.5,62.6 L397.4,60.4 L398.3,61.9 L399.2,62.2 L400.1,60.6 L401.0,61.3 L401.9,61.2 L402.8,63.5 L403.7,64.9 L404.6,66.0 L405.5,66.4 L406.4,66.8 L407.3,68.7 L408.2,68.9 L409.1,68.9 L410.0,73.3 L410.9,75.4 L411.8,76.6 L412.7,79.1 L413.6,83.1 L414.5,88.1 L415.4,96.4 L416.3,110.3 L417.2,116.8 L418.1,110.8 L419.0,101.3 L419.9,92.5 L420.8,84.1 L421.7,73.1 L422.6,61.8 L423.5,51.4 L424.4,44.7 L425.3,35.5 L426.2,30.8 L427.1,32.6 L428.0,35.1 L428.9,35.6 L429.8,37.1 L430.7,40.0 L431.6,43.3 L432.5,47.2 L433.4,48.2 L434.3,49.5 L435.2,52.9 L436.1,53.5 L437.0,58.1 L437.9,61.0 L438.8,61.5 L439.7,59.8 L440.6,61.0 L441.5,65.6 L442.4,68.0 L443.3,67.3 L444.2,68.9 L445.1,68.6 L446.0,68.4 L446.9,71.4 L447.8,76.6 L448.7,74.0 L449.6,73.1 L450.5,75.2 L451.4,75.1 L452.3,73.5 L453.2,74.8 L454.1,74.3 L455.0,71.8 L455.9,73.3 L456.8,72.9 L457.7,74.2 L458.6,78.4 L459.5,74.8 L460.4,76.1 L461.3,76.3 L462.2,75.0 L463.1,73.3 L464.0,71.7 L464.9,73.6 L465.8,72.5 L466.7,69.6 L467.6,69.9 L468.5,71.6 L469.4,75.1 L470.3,75.3 L471.2,71.2 L472.1,70.4 L473.0,70.9 L473.9,67.8 L474.8,69.0 L475.7,70.5 L476.6,69.8 L477.5,72.8 L478.4,74.5 L479.3,74.1 L480.2,72.3 L481.1,71.7 L482.0,71.9 L482.9,70.8 L483.8,71.5 L484.7,71.7 L485.6,72.9 L486.5,71.7 L487.4,71.8 L488.3,72.8 L489.2,70.2 L490.1,71.1 L491.0,71.5 L491.9,69.8 L492.8,71.3 L493.7,70.3 L494.6,73.3 L495.5,71.8 L496.4,65.4 L497.3,67.1 L498.2,67.1 L499.1,64.9 M393.8,66.5 L394.7,65.9 L395.6,67.4 L396.5,66.7 L397.4,64.6 L398.3,67.4 L399.2,69.3 L400.1,69.2 L401.0,69.5 L401.9,68.4 L402.8,67.6 L403.7,68.9 L404.6,65.3 L405.5,64.7 L406.4,67.5 L407.3,69.5 L408.2,71.1 L409.1,71.1 L410.0,72.2 L410.9,75.3 L411.8,76.4 L412.7,77.6 L413.6,81.8 L414.5,86.8 L415.4,94.9 L416.3,109.9 L417.2,116.3 L418.1,109.9 L419.0,99.7 L419.9,91.5 L420.8,82.5 L421.7,72.9 L422.6,64.1 L423.5,55.9 L424.4,47.4 L425.3,36.5 L426.2,33.3 L427.1,35.6 L428.0,38.9 L428.9,43.2 L429.8,42.1 L430.7,43.0 L431.6,47.4 L432.5,51.1 L433.4,52.6 L434.3,56.5 L435.2,57.1 L436.1,60.4 L437.0,60.8 L437.9,60.7 L438.8,62.4 L439.7,66.5 L440.6,67.2 L441.5,67.4 L442.4,68.4 L443.3,71.3 L444.2,71.4 L445.1,71.3 L446.0,70.5 L446.9,69.1 L447.8,68.8 L448.7,70.5 L449.6,70.0 L450.5,74.8 L451.4,75.6 L452.3,75.2 L453.2,74.1 L454.1,74.9 L455.0,72.5 L455.9,73.3 L456.8,75.4 L457.7,75.9 L458.6,76.9 L459.5,74.5 L460.4,74.2 L461.3,76.1 L462.2,75.7 L463.1,76.7 L464.0,75.5 L464.9,75.7 L465.8,74.9 L466.7,76.4 L467.6,78.9 L468.5,77.6 L469.4,74.3 L470.3,73.3 L471.2,75.5 L472.1,72.8 L473.0,73.4 L473.9,75.2 L474.8,75.4 L475.7,75.6 L476.6,76.7 L477.5,74.0 L478.4,74.9 L479.3,75.0 L480.2,72.7 L481.1,73.1 L482.0,73.5 L482.9,74.4 L483.8,75.8 L484.7,70.2 L485.6,68.5 L486.5,68.2 L487.4,69.8 L488.3,71.4 L489.2,70.3 L490.1,70.0 L491.0,67.9 L491.9,65.9 L492.8,68.9 L493.7,68.2 L494.6,67.4 L495.5,67.7 L496.4,69.2 L497.3,71.7 L498.2,69.1 L499.1,67.0 M393.8,79.3 L394.7,79.4 L395.6,77.7 L396.5,76.5 L397.4,78.1 L398.3,77.2 L399.2,77.7 L400.1,80.6 L401.0,79.7 L401.9,79.9 L402.8,80.5 L403.7,82.0 L404.6,82.6 L405.5,83.5 L406.4,83.9 L407.3,85.6 L408.2,89.4 L409.1,91.4 L410.0,94.6 L410.9,93.9 L411.8,95.5 L412.7,97.3 L413.6,101.2 L414.5,103.4 L415.4,106.0 L416.3,115.8 L417.2,119.9 L418.1,115.4 L419.0,109.0 L419.9,101.8 L420.8,92.9 L421.7,83.9 L422.6,74.9 L423.5,67.5 L424.4,58.8 L425.3,47.2 L426.2,41.3 L427.1,42.8 L428.0,46.0 L428.9,49.6 L429.8,51.3 L430.7,53.7 L431.6,57.3 L432.5,60.3 L433.4,63.3 L434.3,65.6 L435.2,70.2 L436.1,71.6 L437.0,72.9 L437.9,74.7 L438.8,75.4 L439.7,78.2 L440.6,80.1 L441.5,82.1 L442.4,83.3 L443.3,82.5 L444.2,81.8 L445.1,85.3 L446.0,86.0 L446.9,84.8 L447.8,85.9 L448.7,86.8 L449.6,85.5 L450.5,85.9 L451.4,86.9 L452.3,88.9 L453.2,87.0 L454.1,83.6 L455.0,84.7 L455.9,89.2 L456.8,88.4 L457.7,88.7 L458.6,88.9 L459.5,90.1 L460.4,90.5 L461.3,90.1 L462.2,92.9 L463.1,95.3 L464.0,95.6 L464.9,94.4 L465.8,92.0 L466.7,94.5 L467.6,91.5 L468.5,87.8 L469.4,91.4 L470.3,92.3 L471.2,88.8 L472.1,88.5 L473.0,90.5 L473.9,92.5 L474.8,92.7 L475.7,90.2 L476.6,89.0 L477.5,90.2 L478.4,89.2 L479.3,89.3 L480.2,86.7 L481.1,86.8 L482.0,87.7 L482.9,86.3 L483.8,84.6 L484.7,81.3 L485.6,81.9 L486.5,83.0 L487.4,82.4 L488.3,82.2 L489.2,83.7 L490.1,83.0 L491.0,83.7 L491.9,84.1 L492.8,81.5 L493.7,79.8 L494.6,83.4 L495.5,82.6 L496.4,78.7 L497.3,78.3 L498.2,78.7 L499.1,79.7 M393.8,53.0 L394.7,53.5 L395.6,52.4 L396.5,54.7 L397.4,53.4 L398.3,51.0 L399.2,52.4 L400.1,54.7 L401.0,55.4 L401.9,53.6 L402.8,56.3 L403.7,57.6 L404.6,57.5 L405.5,60.5 L406.4,61.9 L407.3,61.1 L408.2,61.0 L409.1,62.6 L410.0,65.7 L410.9,66.0 L411.8,64.7 L412.7,67.1 L413.6,73.5 L414.5,78.7 L415.4,87.7 L416.3,105.5 L417.2,114.4 L418.1,107.2 L419.0,96.4 L419.9,85.7 L420.8,73.9 L421.7,64.0 L422.6,54.6 L423.5,43.4 L424.4,34.9 L425.3,27.1 L426.2,24.3 L427.1,23.4 L428.0,24.1 L428.9,28.4 L429.8,30.6 L430.7,32.6 L431.6,34.1 L432.5,35.0 L433.4,37.8 L434.3,41.5 L435.2,42.1 L436.1,47.2 L437.0,50.7 L437.9,51.6 L438.8,52.1 L439.7,55.0 L440.6,59.2 L441.5,59.1 L442.4,58.4 L443.3,60.5 L444.2,61.8 L445.1,62.5 L446.0,62.3 L446.9,61.3 L447.8,59.4 L448.7,59.4 L449.6,60.0 L450.5,60.0 L451.4,58.2 L452.3,58.4 L453.2,59.9 L454.1,60.3 L455.0,62.6 L455.9,63.5 L456.8,63.9 L457.7,61.8 L458.6,61.9 L459.5,62.4 L460.4,60.7 L461.3,63.0 L462.2,63.7 L463.1,63.1 L464.0,63.5 L464.9,62.2 L465.8,62.3 L466.7,62.0 L467.6,63.8 L468.5,65.2 L469.4,62.5 L470.3,62.2 L471.2,64.2 L472.1,64.8 L473.0,64.3 L473.9,63.9 L474.8,63.0 L475.7,65.0 L476.6,64.5 L477.5,62.5 L478.4,62.5 L479.3,62.4 L480.2,62.5 L481.1,63.6 L482.0,60.0 L482.9,60.3 L483.8,61.4 L484.7,58.4 L485.6,59.9 L486.5,59.9 L487.4,55.0 L488.3,56.5 L489.2,57.9 L490.1,55.1 L491.0,56.0 L491.9,56.4 L492.8,55.2 L493.7,54.6 L494.6,54.6 L495.5,56.8 L496.4,57.5 L497.3,56.9 L498.2,57.6 L499.1,57.1 M393.8,64.5 L394.7,65.7 L395.6,67.8 L396.5,65.6 L397.4,66.3 L398.3,68.0 L399.2,67.9 L400.1,67.0 L401.0,69.1 L401.9,70.8 L402.8,66.9 L403.7,69.6 L404.6,73.3 L405.5,72.3 L406.4,70.6 L407.3,73.1 L408.2,75.4 L409.1,75.3 L410.0,76.7 L410.9,77.3 L411.8,83.0 L412.7,87.3 L413.6,89.4 L414.5,92.8 L415.4,99.8 L416.3,111.0 L417.2,116.5 L418.1,110.4 L419.0,101.7 L419.9,95.8 L420.8,86.6 L421.7,74.4 L422.6,63.9 L423.5,56.3 L424.4,48.6 L425.3,41.1 L426.2,35.6 L427.1,35.1 L428.0,38.4 L428.9,40.5 L429.8,39.9 L430.7,41.1 L431.6,44.5 L432.5,46.5 L433.4,48.3 L434.3,50.6 L435.2,53.6 L436.1,57.5 L437.0,59.6 L437.9,61.6 L438.8,64.5 L439.7,66.3 L440.6,66.0 L441.5,66.0 L442.4,67.5 L443.3,72.0 L444.2,70.8 L445.1,70.8 L446.0,72.7 L446.9,71.2 L447.8,70.0 L448.7,72.3 L449.6,71.0 L450.5,70.9 L451.4,70.5 L452.3,71.8 L453.2,73.4 L454.1,74.5 L455.0,73.3 L455.9,76.3 L456.8,76.6 L457.7,74.5 L458.6,75.2 L459.5,73.5 L460.4,73.9 L461.3,74.5 L462.2,72.4 L463.1,73.6 L464.0,74.1 L464.9,72.2 L465.8,72.6 L466.7,74.7 L467.6,74.4 L468.5,74.1 L469.4,75.4 L470.3,76.0 L471.2,75.9 L472.1,74.0 L473.0,73.7 L473.9,72.6 L474.8,75.0 L475.7,74.9 L476.6,73.7 L477.5,74.3 L478.4,73.7 L479.3,74.0 L480.2,72.8 L481.1,74.0 L482.0,73.5 L482.9,72.4 L483.8,72.8 L484.7,70.1 L485.6,71.1 L486.5,71.6 L487.4,72.0 L488.3,69.2 L489.2,66.4 L490.1,68.6 L491.0,69.1 L491.9,67.0 L492.8,67.6 L493.7,68.0 L494.6,68.7 L495.5,66.8 L496.4,66.6 L497.3,69.7 L498.2,67.9 L499.1,65.6 M393.8,75.1 L394.7,75.1 L395.6,77.4 L396.5,78.1 L397.4,79.9 L398.3,80.7 L399.2,78.3 L400.1,77.6 L401.0,77.6 L401.9,75.6 L402.8,77.5 L403.7,79.5 L404.6,80.9 L405.5,80.6 L406.4,81.4 L407.3,82.3 L408.2,83.5 L409.1,84.7 L410.0,85.9 L410.9,87.5 L411.8,89.1 L412.7,90.7 L413.6,94.6 L414.5,96.4 L415.4,105.5 L416.3,115.3 L417.2,119.3 L418.1,114.8 L419.0,106.0 L419.9,98.9 L420.8,90.6 L421.7,79.5 L422.6,72.2 L423.5,62.8 L424.4,57.0 L425.3,47.6 L426.2,40.9 L427.1,41.3 L428.0,43.2 L428.9,47.4 L429.8,50.7 L430.7,52.0 L431.6,52.8 L432.5,57.1 L433.4,59.4 L434.3,60.1 L435.2,63.7 L436.1,67.9 L437.0,71.2 L437.9,73.2 L438.8,74.4 L439.7,77.4 L440.6,76.4 L441.5,77.7 L442.4,78.4 L443.3,77.0 L444.2,79.6 L445.1,79.7 L446.0,79.9 L446.9,82.1 L447.8,82.5 L448.7,84.1 L449.6,82.0 L450.5,82.2 L451.4,84.5 L452.3,85.0 L453.2,86.5 L454.1,85.0 L455.0,83.4 L455.9,84.0 L456.8,86.4 L457.7,87.4 L458.6,88.4 L459.5,87.2 L460.4,86.0 L461.3,86.0 L462.2,86.0 L463.1,85.9 L464.0,83.7 L464.9,85.4 L465.8,85.1 L466.7,84.7 L467.6,88.9 L468.5,87.3 L469.4,84.2 L470.3,85.6 L471.2,83.7 L472.1,83.2 L473.0,84.3 L473.9,81.5 L474.8,83.1 L475.7,85.5 L476.6,86.6 L477.5,88.4 L478.4,88.1 L479.3,86.7 L480.2,84.2 L481.1,85.3 L482.0,83.5 L482.9,83.5 L483.8,86.0 L484.7,86.8 L485.6,85.7 L486.5,82.4 L487.4,82.4 L488.3,82.0 L489.2,80.9 L490.1,81.0 L491.0,79.1 L491.9,79.0 L492.8,80.3 L493.7,80.7 L494.6,80.3 L495.5,77.5 L496.4,77.4 L497.3,78.2 L498.2,76.9 L499.1,77.9 M393.8,61.8 L394.7,63.2 L395.6,62.3 L396.5,59.2 L397.4,60.5 L398.3,64.3 L399.2,63.9 L400.1,60.2 L401.0,60.0 L401.9,63.3 L402.8,63.1 L403.7,62.0 L404.6,60.2 L405.5,62.2 L406.4,66.3 L407.3,65.5 L408.2,66.0 L409.1,69.1 L410.0,72.2 L410.9,74.3 L411.8,70.8 L412.7,71.9 L413.6,80.2 L414.5,85.1 L415.4,89.7 L416.3,108.0 L417.2,115.8 L418.1,108.7 L419.0,99.4 L419.9,89.5 L420.8,79.1 L421.7,73.4 L422.6,60.5 L423.5,47.1 L424.4,37.7 L425.3,30.2 L426.2,30.1 L427.1,30.9 L428.0,29.8 L428.9,31.2 L429.8,31.5 L430.7,36.0 L431.6,39.8 L432.5,41.2 L433.4,42.0 L434.3,42.8 L435.2,45.4 L436.1,47.4 L437.0,51.3 L437.9,55.5 L438.8,55.0 L439.7,55.9 L440.6,57.7 L441.5,61.2 L442.4,63.2 L443.3,59.6 L444.2,60.2 L445.1,64.1 L446.0,65.1 L446.9,67.4 L447.8,66.9 L448.7,66.3 L449.6,66.2 L450.5,64.4 L451.4,65.1 L452.3,68.6 L453.2,70.3 L454.1,68.7 L455.0,66.7 L455.9,68.8 L456.8,71.0 L457.7,68.9 L458.6,69.5 L459.5,71.3 L460.4,69.5 L461.3,69.0 L462.2,69.3 L463.1,71.6 L464.0,74.1 L464.9,74.1 L465.8,74.6 L466.7,73.1 L467.6,72.8 L468.5,72.7 L469.4,70.0 L470.3,70.2 L471.2,72.0 L472.1,71.0 L473.0,70.3 L473.9,70.8 L474.8,70.9 L475.7,70.2 L476.6,70.9 L477.5,71.4 L478.4,71.1 L479.3,68.3 L480.2,65.0 L481.1,65.0 L482.0,65.4 L482.9,64.7 L483.8,64.7 L484.7,64.4 L485.6,64.2 L486.5,66.2 L487.4,65.5 L488.3,62.6 L489.2,63.6 L490.1,63.8 L491.0,63.0 L491.9,62.9 L492.8,62.2 L493.7,60.6 L494.6,60.9 L495.5,63.3 L496.4,63.0 L497.3,60.0 L498.2,60.7 L499.1,63.0 M393.8,58.6 L394.7,57.0 L395.6,56.1 L396.5,59.5 L397.4,56.8 L398.3,54.9 L399.2,55.5 L400.1,57.5 L401.0,57.5 L401.9,54.3 L402.8,54.4 L403.7,57.0 L404.6,57.7 L405.5,60.0 L406.4,62.9 L407.3,63.7 L408.2,64.1 L409.1,65.0 L410.0,65.7 L410.9,66.1 L411.8,69.0 L412.7,73.3 L413.6,77.4 L414.5,83.8 L415.4,90.7 L416.3,106.3 L417.2,115.5 L418.1,108.9 L419.0,99.8 L419.9,91.0 L420.8,80.5 L421.7,70.4 L422.6,58.7 L423.5,46.3 L424.4,36.9 L425.3,29.2 L426.2,26.2 L427.1,27.9 L428.0,30.4 L428.9,31.3 L429.8,31.5 L430.7,35.9 L431.6,39.5 L432.5,40.2 L433.4,40.8 L434.3,44.2 L435.2,46.5 L436.1,47.2 L437.0,51.1 L437.9,55.4 L438.8,56.3 L439.7,57.7 L440.6,59.5 L441.5,60.7 L442.4,62.1 L443.3,60.0 L444.2,61.2 L445.1,64.2 L446.0,63.8 L446.9,63.8 L447.8,64.2 L448.7,64.1 L449.6,63.6 L450.5,64.2 L451.4,66.2 L452.3,66.1 L453.2,65.1 L454.1,67.4 L455.0,68.4 L455.9,66.9 L456.8,65.4 L457.7,65.0 L458.6,67.6 L459.5,67.2 L460.4,64.0 L461.3,63.8 L462.2,65.4 L463.1,66.9 L464.0,65.9 L464.9,65.6 L465.8,64.9 L466.7,64.4 L467.6,63.4 L468.5,63.3 L469.4,62.1 L470.3,58.9 L471.2,60.8 L472.1,62.8 L473.0,64.5 L473.9,64.3 L474.8,65.1 L475.7,64.9 L476.6,63.7 L477.5,67.2 L478.4,66.1 L479.3,63.7 L480.2,64.7 L481.1,66.3 L482.0,64.9 L482.9,66.2 L483.8,70.7 L484.7,69.0 L485.6,66.5 L486.5,67.8 L487.4,66.5 L488.3,66.1 L489.2,66.7 L490.1,65.5 L491.0,64.2 L491.9,62.7 L492.8,59.7 L493.7,59.4 L494.6,59.9 L495.5,63.0 L496.4,60.5 L497.3,58.8 L498.2,60.0 L499.1,60.3 M393.8,77.8 L394.7,80.1 L395.6,78.4 L396.5,77.1 L397.4,78.9 L398.3,80.1 L399.2,80.8 L400.1,79.3 L401.0,78.6 L401.9,78.1 L402.8,76.5 L403.7,78.4 L404.6,78.2 L405.5,76.6 L406.4,79.5 L407.3,82.3 L408.2,84.1 L409.1,87.7 L410.0,88.9 L410.9,92.0 L411.8,93.3 L412.7,95.2 L413.6,97.3 L414.5,102.9 L415.4,107.5 L416.3,115.9 L417.2,120.4 L418.1,117.6 L419.0,112.2 L419.9,103.0 L420.8,92.6 L421.7,85.7 L422.6,75.9 L423.5,64.2 L424.4,56.2 L425.3,46.7 L426.2,41.2 L427.1,43.7 L428.0,43.1 L428.9,41.8 L429.8,46.8 L430.7,48.8 L431.6,49.9 L432.5,53.7 L433.4,57.0 L434.3,60.0 L435.2,63.0 L436.1,67.4 L437.0,69.5 L437.9,70.3 L438.8,71.3 L439.7,73.9 L440.6,72.9 L441.5,70.8 L442.4,74.1 L443.3,77.4 L444.2,79.5 L445.1,81.9 L446.0,78.8 L446.9,77.4 L447.8,77.6 L448.7,78.8 L449.6,79.9 L450.5,79.8 L451.4,80.9 L452.3,83.4 L453.2,85.3 L454.1,82.8 L455.0,82.8 L455.9,86.2 L456.8,84.5 L457.7,84.0 L458.6,87.8 L459.5,90.4 L460.4,87.3 L461.3,85.8 L462.2,87.0 L463.1,87.9 L464.0,86.0 L464.9,88.0 L465.8,89.7 L466.7,86.3 L467.6,87.9 L468.5,87.9 L469.4,88.1 L470.3,89.2 L471.2,86.9 L472.1,84.8 L473.0,84.7 L473.9,88.8 L474.8,89.4 L475.7,86.6 L476.6,85.2 L477.5,85.8 L478.4,86.5 L479.3,87.2 L480.2,85.9 L481.1,86.0 L482.0,87.0 L482.9,86.2 L483.8,85.7 L484.7,85.0 L485.6,84.6 L486.5,82.1 L487.4,80.7 L488.3,81.1 L489.2,84.3 L490.1,82.9 L491.0,79.3 L491.9,79.5 L492.8,80.1 L493.7,79.2 L494.6,77.2 L495.5,75.7 L496.4,75.3 L497.3,76.6 L498.2,76.8 L499.1,76.2 M393.8,66.5 L394.7,65.0 L395.6,65.5 L396.5,66.8 L397.4,70.3 L398.3,71.7 L399.2,68.8 L400.1,68.4 L401.0,70.3 L401.9,69.8 L402.8,69.1 L403.7,69.9 L404.6,71.4 L405.5,72.6 L406.4,71.4 L407.3,72.1 L408.2,76.4 L409.1,75.8 L410.0,73.8 L410.9,79.4 L411.8,82.5 L412.7,83.5 L413.6,86.5 L414.5,89.9 L415.4,98.1 L416.3,111.4 L417.2,117.4 L418.1,111.4 L419.0,102.1 L419.9,94.2 L420.8,84.6 L421.7,74.8 L422.6,63.6 L423.5,56.1 L424.4,46.0 L425.3,36.8 L426.2,35.4 L427.1,35.8 L428.0,37.6 L428.9,38.3 L429.8,39.2 L430.7,43.7 L431.6,47.1 L432.5,51.0 L433.4,53.5 L434.3,53.0 L435.2,56.5 L436.1,59.7 L437.0,60.7 L437.9,64.2 L438.8,67.3 L439.7,70.5 L440.6,71.0 L441.5,69.4 L442.4,67.1 L443.3,69.3 L444.2,70.1 L445.1,73.9 L446.0,74.6 L446.9,72.6 L447.8,72.4 L448.7,74.8 L449.6,75.2 L450.5,73.6 L451.4,75.8 L452.3,78.0 L453.2,77.9 L454.1,77.4 L455.0,76.9 L455.9,77.3 L456.8,75.9 L457.7,76.1 L458.6,73.5 L459.5,74.9 L460.4,78.9 L461.3,76.7 L462.2,76.6 L463.1,77.4 L464.0,75.5 L464.9,76.5 L465.8,77.5 L466.7,75.8 L467.6,75.4 L468.5,74.7 L469.4,73.7 L470.3,75.6 L471.2,77.8 L472.1,77.7 L473.0,73.7 L473.9,74.1 L474.8,78.5 L475.7,75.5 L476.6,74.6 L477.5,73.9 L478.4,75.5 L479.3,75.6 L480.2,76.2 L481.1,77.0 L482.0,76.7 L482.9,74.9 L483.8,75.2 L484.7,75.6 L485.6,72.3 L486.5,73.3 L487.4,72.0 L488.3,74.3 L489.2,75.2 L490.1,73.8 L491.0,73.7 L491.9,72.5 L492.8,73.4 L493.7,72.7 L494.6,72.9 L495.5,74.9 L496.4,73.2 L497.3,70.6 L498.2,72.5 L499.1,72.7 M393.8,68.1 L394.7,69.7 L395.6,66.2 L396.5,65.8 L397.4,66.6 L398.3,64.9 L399.2,66.2 L400.1,67.7 L401.0,67.1 L401.9,64.8 L402.8,64.4 L403.7,66.1 L404.6,67.7 L405.5,69.0 L406.4,69.2 L407.3,72.4 L408.2,73.8 L409.1,75.9 L410.0,77.4 L410.9,79.9 L411.8,84.2 L412.7,84.1 L413.6,86.2 L414.5,91.3 L415.4,99.8 L416.3,112.3 L417.2,118.5 L418.1,113.7 L419.0,106.3 L419.9,97.3 L420.8,87.1 L421.7,78.9 L422.6,68.3 L423.5,58.9 L424.4,51.5 L425.3,40.3 L426.2,33.8 L427.1,35.8 L428.0,41.6 L428.9,42.1 L429.8,42.7 L430.7,44.7 L431.6,46.9 L432.5,49.8 L433.4,51.0 L434.3,53.7 L435.2,55.5 L436.1,60.6 L437.0,62.3 L437.9,64.2 L438.8,62.8 L439.7,63.9 L440.6,66.0 L441.5,67.1 L442.4,68.8 L443.3,69.5 L444.2,72.9 L445.1,74.8 L446.0,77.0 L446.9,77.0 L447.8,73.3 L448.7,75.1 L449.6,74.7 L450.5,74.4 L451.4,74.6 L452.3,75.2 L453.2,76.4 L454.1,75.1 L455.0,73.8 L455.9,74.4 L456.8,73.8 L457.7,73.5 L458.6,75.0 L459.5,77.8 L460.4,79.1 L461.3,75.7 L462.2,75.8 L463.1,77.6 L464.0,79.1 L464.9,78.9 L465.8,75.9 L466.7,76.3 L467.6,78.7 L468.5,79.7 L469.4,78.3 L470.3,79.8 L471.2,80.3 L472.1,79.6 L473.0,79.9 L473.9,75.5 L474.8,73.3 L475.7,75.1 L476.6,73.2 L477.5,76.1 L478.4,76.1 L479.3,75.4 L480.2,75.4 L481.1,76.2 L482.0,77.8 L482.9,74.2 L483.8,73.0 L484.7,73.7 L485.6,75.1 L486.5,77.0 L487.4,76.3 L488.3,75.8 L489.2,76.7 L490.1,76.3 L491.0,73.0 L491.9,73.7 L492.8,74.2 L493.7,71.7 L494.6,73.8 L495.5,74.1 L496.4,74.7 L497.3,72.3 L498.2,70.6 L499.1,71.6 M393.8,68.6 L394.7,67.0 L395.6,68.6 L396.5,73.1 L397.4,73.1 L398.3,71.1 L399.2,70.1 L400.1,70.0 L401.0,70.3 L401.9,70.4 L402.8,72.4 L403.7,74.0 L404.6,75.7 L405.5,77.6 L406.4,76.9 L407.3,76.8 L408.2,78.9 L409.1,80.3 L410.0,81.8 L410.9,83.0 L411.8,85.8 L412.7,88.7 L413.6,89.8 L414.5,96.0 L415.4,103.1 L416.3,112.5 L417.2,118.1 L418.1,113.5 L419.0,105.1 L419.9,97.0 L420.8,88.2 L421.7,79.9 L422.6,73.7 L423.5,62.5 L424.4,49.4 L425.3,42.1 L426.2,39.6 L427.1,38.7 L428.0,39.7 L428.9,42.4 L429.8,46.4 L430.7,47.3 L431.6,48.7 L432.5,51.4 L433.4,54.5 L434.3,55.6 L435.2,56.6 L436.1,59.6 L437.0,62.3 L437.9,61.8 L438.8,64.0 L439.7,67.6 L440.6,69.9 L441.5,70.6 L442.4,68.6 L443.3,68.0 L444.2,69.8 L445.1,71.8 L446.0,70.9 L446.9,69.0 L447.8,71.1 L448.7,73.0 L449.6,74.9 L450.5,76.4 L451.4,78.0 L452.3,78.9 L453.2,79.4 L454.1,79.2 L455.0,77.4 L455.9,77.6 L456.8,76.6 L457.7,78.2 L458.6,81.9 L459.5,81.3 L460.4,78.0 L461.3,79.4 L462.2,81.4 L463.1,79.9 L464.0,79.9 L464.9,79.4 L465.8,79.4 L466.7,78.8 L467.6,79.1 L468.5,77.6 L469.4,75.1 L470.3,75.9 L471.2,78.5 L472.1,79.1 L473.0,78.4 L473.9,79.3 L474.8,79.5 L475.7,80.7 L476.6,81.4 L477.5,80.1 L478.4,78.9 L479.3,77.4 L480.2,76.9 L481.1,78.6 L482.0,80.6 L482.9,79.3 L483.8,81.4 L484.7,81.7 L485.6,76.5 L486.5,79.2 L487.4,82.3 L488.3,78.7 L489.2,73.2 L490.1,77.3 L491.0,80.2 L491.9,77.6 L492.8,75.3 L493.7,77.3 L494.6,80.1 L495.5,79.0 L496.4,77.5 L497.3,74.5 L498.2,73.6 L499.1,75.3 M393.8,50.0 L394.7,52.2 L395.6,52.6 L396.5,50.3 L397.4,50.9 L398.3,51.0 L399.2,52.1 L400.1,53.0 L401.0,54.2 L401.9,54.8 L402.8,54.2 L403.7,56.1 L404.6,57.0 L405.5,59.2 L406.4,60.5 L407.3,59.9 L408.2,61.8 L409.1,63.6 L410.0,67.2 L410.9,69.4 L411.8,70.6 L412.7,71.6 L413.6,74.6 L414.5,79.1 L415.4,89.7 L416.3,106.8 L417.2,114.3 L418.1,106.9 L419.0,96.7 L419.9,87.9 L420.8,77.5 L421.7,67.2 L422.6,53.9 L423.5,43.8 L424.4,37.0 L425.3,27.9 L426.2,25.5 L427.1,23.6 L428.0,26.0 L428.9,28.9 L429.8,31.5 L430.7,35.1 L431.6,36.1 L432.5,38.3 L433.4,39.3 L434.3,41.3 L435.2,44.6 L436.1,45.6 L437.0,47.4 L437.9,50.4 L438.8,50.7 L439.7,53.4 L440.6,57.6 L441.5,60.5 L442.4,59.1 L443.3,57.1 L444.2,58.3 L445.1,58.5 L446.0,58.2 L446.9,60.1 L447.8,61.2 L448.7,61.3 L449.6,60.0 L450.5,60.3 L451.4,59.8 L452.3,57.5 L453.2,58.3 L454.1,61.6 L455.0,60.9 L455.9,60.0 L456.8,61.7 L457.7,64.3 L458.6,62.9 L459.5,62.2 L460.4,64.4 L461.3,63.5 L462.2,63.7 L463.1,63.2 L464.0,61.9 L464.9,63.3 L465.8,63.5 L466.7,66.0 L467.6,65.0 L468.5,62.2 L469.4,65.3 L470.3,65.7 L471.2,61.5 L472.1,59.7 L473.0,60.8 L473.9,62.4 L474.8,62.2 L475.7,61.9 L476.6,61.4 L477.5,57.8 L478.4,57.5 L479.3,61.3 L480.2,61.9 L481.1,60.9 L482.0,62.0 L482.9,61.6 L483.8,60.8 L484.7,60.6 L485.6,59.1 L486.5,58.9 L487.4,61.1 L488.3,59.4 L489.2,56.8 L490.1,56.8 L491.0,60.6 L491.9,58.3 L492.8,58.1 L493.7,57.9 L494.6,56.4 L495.5,54.2 L496.4,55.6 L497.3,58.7 L498.2,59.0 L499.1,60.5 M393.8,56.2 L394.7,56.6 L395.6,56.6 L396.5,56.0 L397.4,53.9 L398.3,55.0 L399.2,56.8 L400.1,58.1 L401.0,56.7 L401.9,54.6 L402.8,55.6 L403.7,56.4 L404.6,56.5 L405.5,58.1 L406.4,58.7 L407.3,61.4 L408.2,63.0 L409.1,64.1 L410.0,64.6 L410.9,64.9 L411.8,67.5 L412.7,71.2 L413.6,73.6 L414.5,79.2 L415.4,90.5 L416.3,106.7 L417.2,114.5 L418.1,107.5 L419.0,96.6 L419.9,87.0 L420.8,73.9 L421.7,61.6 L422.6,51.8 L423.5,41.6 L424.4,34.6 L425.3,27.7 L426.2,22.3 L427.1,23.8 L428.0,26.4 L428.9,28.1 L429.8,30.3 L430.7,32.0 L431.6,33.4 L432.5,35.3 L433.4,38.2 L434.3,39.4 L435.2,39.1 L436.1,41.2 L437.0,44.1 L437.9,47.6 L438.8,50.0 L439.7,51.5 L440.6,52.5 L441.5,53.2 L442.4,55.6 L443.3,56.9 L444.2,56.4 L445.1,56.0 L446.0,60.0 L446.9,61.0 L447.8,59.1 L448.7,57.2 L449.6,55.7 L450.5,58.8 L451.4,59.8 L452.3,60.6 L453.2,60.6 L454.1,61.5 L455.0,63.1 L455.9,63.5 L456.8,64.1 L457.7,65.8 L458.6,67.4 L459.5,65.1 L460.4,63.3 L461.3,65.8 L462.2,65.6 L463.1,65.1 L464.0,64.4 L464.9,65.2 L465.8,65.3 L466.7,63.4 L467.6,62.7 L468.5,63.0 L469.4,62.2 L470.3,62.5 L471.2,60.5 L472.1,60.3 L473.0,61.3 L473.9,60.3 L474.8,59.4 L475.7,60.2 L476.6,59.8 L477.5,59.7 L478.4,61.3 L479.3,63.2 L480.2,62.8 L481.1,61.6 L482.0,63.3 L482.9,63.9 L483.8,62.2 L484.7,60.7 L485.6,60.4 L486.5,62.5 L487.4,62.3 L488.3,61.9 L489.2,63.0 L490.1,62.1 L491.0,60.6 L491.9,59.5 L492.8,59.0 L493.7,61.5 L494.6,61.8 L495.5,60.0 L496.4,58.7 L497.3,60.3 L498.2,60.7 L499.1,59.1 M393.8,74.7 L394.7,74.5 L395.6,75.3 L396.5,78.2 L397.4,79.6 L398.3,78.6 L399.2,80.4 L400.1,79.2 L401.0,79.4 L401.9,81.1 L402.8,80.4 L403.7,78.5 L404.6,77.0 L405.5,80.0 L406.4,81.3 L407.3,80.6 L408.2,81.7 L409.1,83.0 L410.0,87.2 L410.9,89.0 L411.8,91.0 L412.7,90.9 L413.6,92.0 L414.5,96.6 L415.4,104.3 L416.3,114.6 L417.2,119.0 L418.1,114.4 L419.0,105.9 L419.9,98.2 L420.8,92.0 L421.7,84.3 L422.6,73.6 L423.5,63.5 L424.4,55.8 L425.3,44.6 L426.2,41.2 L427.1,41.6 L428.0,43.0 L428.9,46.7 L429.8,48.5 L430.7,50.9 L431.6,55.6 L432.5,55.5 L433.4,55.6 L434.3,57.4 L435.2,61.9 L436.1,67.3 L437.0,68.0 L437.9,69.4 L438.8,71.7 L439.7,77.2 L440.6,78.9 L441.5,77.1 L442.4,79.2 L443.3,79.3 L444.2,80.2 L445.1,81.0 L446.0,78.2 L446.9,78.3 L447.8,82.7 L448.7,84.9 L449.6,85.6 L450.5,86.2 L451.4,85.4 L452.3,82.4 L453.2,81.4 L454.1,84.9 L455.0,86.4 L455.9,83.4 L456.8,84.8 L457.7,86.0 L458.6,85.8 L459.5,88.0 L460.4,88.9 L461.3,87.3 L462.2,87.3 L463.1,86.0 L464.0,88.0 L464.9,89.5 L465.8,87.9 L466.7,89.3 L467.6,88.0 L468.5,84.8 L469.4,86.7 L470.3,88.4 L471.2,87.5 L472.1,85.5 L473.0,83.8 L473.9,83.5 L474.8,82.3 L475.7,83.2 L476.6,85.1 L477.5,80.4 L478.4,80.9 L479.3,83.9 L480.2,82.5 L481.1,82.9 L482.0,83.1 L482.9,82.8 L483.8,80.5 L484.7,80.2 L485.6,82.7 L486.5,79.2 L487.4,79.2 L488.3,83.4 L489.2,82.6 L490.1,79.9 L491.0,81.6 L491.9,82.5 L492.8,82.4 L493.7,80.3 L494.6,77.4 L495.5,79.4 L496.4,78.2 L497.3,76.6 L498.2,75.7 L499.1,78.6 M393.8,70.8 L394.7,70.0 L395.6,70.1 L396.5,72.1 L397.4,71.9 L398.3,71.4 L399.2,71.8 L400.1,72.3 L401.0,72.3 L401.9,69.9 L402.8,67.8 L403.7,68.7 L404.6,70.1 L405.5,73.3 L406.4,72.7 L407.3,73.7 L408.2,72.6 L409.1,74.6 L410.0,78.8 L410.9,82.8 L411.8,82.7 L412.7,85.3 L413.6,89.8 L414.5,92.2 L415.4,100.5 L416.3,112.7 L417.2,118.1 L418.1,113.0 L419.0,105.1 L419.9,96.0 L420.8,83.2 L421.7,76.0 L422.6,66.8 L423.5,56.3 L424.4,48.8 L425.3,40.4 L426.2,36.3 L427.1,38.3 L428.0,38.8 L428.9,39.5 L429.8,41.2 L430.7,43.0 L431.6,47.5 L432.5,52.8 L433.4,55.6 L434.3,58.2 L435.2,58.6 L436.1,60.5 L437.0,63.3 L437.9,63.7 L438.8,63.4 L439.7,67.5 L440.6,71.7 L441.5,71.3 L442.4,72.1 L443.3,72.0 L444.2,72.8 L445.1,72.0 L446.0,74.5 L446.9,77.7 L447.8,74.5 L448.7,75.1 L449.6,76.8 L450.5,75.8 L451.4,74.3 L452.3,75.9 L453.2,78.3 L454.1,77.3 L455.0,75.8 L455.9,77.2 L456.8,79.2 L457.7,76.2 L458.6,78.2 L459.5,77.7 L460.4,75.1 L461.3,78.9 L462.2,82.4 L463.1,79.3 L464.0,79.0 L464.9,82.0 L465.8,80.7 L466.7,80.2 L467.6,79.7 L468.5,82.5 L469.4,82.1 L470.3,76.5 L471.2,76.8 L472.1,80.7 L473.0,80.1 L473.9,75.6 L474.8,71.7 L475.7,73.2 L476.6,76.7 L477.5,76.3 L478.4,77.5 L479.3,77.6 L480.2,75.1 L481.1,75.3 L482.0,73.7 L482.9,74.4 L483.8,74.1 L484.7,74.4 L485.6,75.4 L486.5,73.4 L487.4,72.5 L488.3,74.2 L489.2,74.2 L490.1,72.2 L491.0,73.9 L491.9,73.0 L492.8,70.8 L493.7,70.6 L494.6,70.1 L495.5,70.0 L496.4,70.1 L497.3,70.9 L498.2,71.2 L499.1,70.1 M393.8,59.9 L394.7,60.2 L395.6,58.6 L396.5,59.9 L397.4,62.6 L398.3,62.0 L399.2,63.3 L400.1,64.9 L401.0,62.1 L401.9,62.6 L402.8,64.3 L403.7,65.6 L404.6,63.7 L405.5,63.1 L406.4,65.8 L407.3,68.6 L408.2,69.8 L409.1,72.7 L410.0,75.2 L410.9,77.8 L411.8,75.7 L412.7,78.7 L413.6,82.7 L414.5,84.6 L415.4,92.4 L416.3,108.6 L417.2,115.8 L418.1,109.4 L419.0,99.9 L419.9,92.3 L420.8,82.0 L421.7,68.2 L422.6,54.7 L423.5,48.6 L424.4,41.4 L425.3,33.9 L426.2,31.8 L427.1,30.4 L428.0,31.5 L428.9,32.5 L429.8,35.2 L430.7,36.1 L431.6,38.6 L432.5,41.1 L433.4,43.0 L434.3,45.4 L435.2,46.3 L436.1,48.5 L437.0,50.5 L437.9,52.9 L438.8,56.7 L439.7,58.1 L440.6,59.8 L441.5,61.4 L442.4,63.1 L443.3,62.5 L444.2,65.4 L445.1,67.1 L446.0,65.5 L446.9,65.7 L447.8,67.2 L448.7,66.3 L449.6,64.8 L450.5,65.6 L451.4,69.4 L452.3,70.5 L453.2,70.9 L454.1,72.1 L455.0,73.5 L455.9,73.9 L456.8,75.6 L457.7,76.0 L458.6,73.8 L459.5,73.6 L460.4,74.2 L461.3,74.6 L462.2,77.4 L463.1,80.2 L464.0,79.5 L464.9,77.2 L465.8,74.8 L466.7,74.0 L467.6,73.0 L468.5,72.7 L469.4,74.2 L470.3,74.9 L471.2,73.8 L472.1,69.6 L473.0,70.2 L473.9,72.5 L474.8,69.2 L475.7,71.2 L476.6,71.7 L477.5,69.8 L478.4,69.9 L479.3,71.3 L480.2,69.4 L481.1,68.4 L482.0,70.2 L482.9,72.0 L483.8,68.8 L484.7,64.8 L485.6,65.5 L486.5,68.3 L487.4,66.4 L488.3,65.3 L489.2,64.3 L490.1,63.8 L491.0,60.6 L491.9,60.6 L492.8,62.7 L493.7,63.7 L494.6,64.5 L495.5,61.0 L496.4,60.4 L497.3,61.2 L498.2,63.7 L499.1,65.6 M393.8,61.5 L394.7,61.6 L395.6,64.3 L396.5,63.3 L397.4,61.5 L398.3,64.8 L399.2,65.2 L400.1,65.3 L401.0,66.2 L401.9,64.6 L402.8,62.9 L403.7,64.0 L404.6,66.0 L405.5,68.3 L406.4,70.4 L407.3,70.9 L408.2,70.3 L409.1,72.6 L410.0,74.9 L410.9,78.5 L411.8,81.8 L412.7,82.2 L413.6,86.0 L414.5,91.4 L415.4,96.9 L416.3,110.2 L417.2,116.6 L418.1,110.6 L419.0,101.4 L419.9,91.6 L420.8,84.0 L421.7,76.2 L422.6,65.4 L423.5,54.1 L424.4,43.1 L425.3,36.3 L426.2,33.1 L427.1,35.6 L428.0,39.3 L428.9,37.7 L429.8,39.6 L430.7,44.8 L431.6,47.2 L432.5,49.7 L433.4,51.3 L434.3,54.3 L435.2,57.5 L436.1,57.8 L437.0,60.1 L437.9,60.5 L438.8,59.1 L439.7,60.6 L440.6,62.7 L441.5,62.3 L442.4,66.7 L443.3,68.5 L444.2,65.8 L445.1,66.1 L446.0,69.3 L446.9,70.9 L447.8,71.1 L448.7,71.6 L449.6,70.8 L450.5,70.4 L451.4,69.6 L452.3,68.6 L453.2,68.9 L454.1,70.0 L455.0,73.1 L455.9,74.0 L456.8,73.5 L457.7,72.9 L458.6,74.1 L459.5,75.4 L460.4,74.3 L461.3,75.0 L462.2,75.1 L463.1,74.5 L464.0,75.7 L464.9,77.4 L465.8,73.9 L466.7,73.8 L467.6,76.8 L468.5,75.5 L469.4,75.2 L470.3,75.3 L471.2,73.2 L472.1,74.2 L473.0,76.8 L473.9,74.2 L474.8,74.2 L475.7,74.8 L476.6,73.8 L477.5,72.3 L478.4,70.9 L479.3,73.1 L480.2,74.1 L481.1,71.6 L482.0,70.0 L482.9,69.3 L483.8,70.4 L484.7,70.4 L485.6,69.9 L486.5,69.6 L487.4,70.5 L488.3,70.4 L489.2,68.4 L490.1,68.1 L491.0,68.0 L491.9,67.2 L492.8,66.9 L493.7,68.2 L494.6,67.0 L495.5,67.6 L496.4,68.4 L497.3,66.7 L498.2,66.8 L499.1,67.8 M393.8,58.4 L394.7,60.3 L395.6,64.0 L396.5,64.3 L397.4,63.7 L398.3,63.9 L399.2,62.6 L400.1,62.2 L401.0,63.5 L401.9,64.2 L402.8,66.3 L403.7,66.4 L404.6,64.6 L405.5,65.9 L406.4,69.4 L407.3,70.6 L408.2,69.8 L409.1,71.1 L410.0,71.4 L410.9,71.4 L411.8,75.5 L412.7,80.2 L413.6,79.9 L414.5,84.3 L415.4,94.4 L416.3,109.4 L417.2,116.4 L418.1,111.4 L419.0,102.9 L419.9,94.1 L420.8,83.9 L421.7,74.8 L422.6,64.4 L423.5,53.1 L424.4,45.0 L425.3,37.3 L426.2,33.3 L427.1,33.2 L428.0,32.4 L428.9,34.0 L429.8,35.6 L430.7,38.4 L431.6,39.0 L432.5,41.1 L433.4,46.1 L434.3,48.2 L435.2,51.6 L436.1,53.9 L437.0,54.9 L437.9,55.2 L438.8,57.2 L439.7,64.5 L440.6,66.2 L441.5,65.7 L442.4,67.4 L443.3,67.5 L444.2,68.7 L445.1,70.0 L446.0,67.9 L446.9,69.8 L447.8,69.5 L448.7,68.7 L449.6,70.7 L450.5,72.0 L451.4,72.4 L452.3,71.0 L453.2,70.9 L454.1,70.8 L455.0,73.2 L455.9,74.7 L456.8,75.7 L457.7,77.3 L458.6,75.0 L459.5,73.4 L460.4,73.6 L461.3,72.1 L462.2,75.2 L463.1,77.5 L464.0,71.9 L464.9,71.5 L465.8,73.5 L466.7,73.0 L467.6,75.2 L468.5,73.7 L469.4,69.1 L470.3,69.4 L471.2,68.2 L472.1,67.0 L473.0,67.8 L473.9,68.6 L474.8,67.8 L475.7,67.8 L476.6,70.4 L477.5,71.6 L478.4,70.9 L479.3,68.2 L480.2,65.8 L481.1,67.3 L482.0,67.9 L482.9,67.5 L483.8,68.6 L484.7,68.9 L485.6,67.0 L486.5,69.1 L487.4,66.6 L488.3,63.4 L489.2,63.6 L490.1,63.3 L491.0,61.2 L491.9,62.0 L492.8,62.4 L493.7,62.4 L494.6,64.5 L495.5,64.6 L496.4,62.4 L497.3,62.2 L498.2,62.1 L499.1,64.4 M393.8,60.2 L394.7,61.0 L395.6,62.2 L396.5,60.5 L397.4,58.9 L398.3,63.7 L399.2,62.9 L400.1,59.4 L401.0,60.1 L401.9,61.9 L402.8,64.1 L403.7,62.1 L404.6,59.9 L405.5,62.9 L406.4,63.7 L407.3,61.7 L408.2,65.0 L409.1,70.0 L410.0,71.2 L410.9,68.5 L411.8,71.9 L412.7,75.6 L413.6,77.3 L414.5,81.8 L415.4,91.6 L416.3,108.5 L417.2,115.6 L418.1,108.8 L419.0,98.5 L419.9,89.6 L420.8,79.2 L421.7,69.2 L422.6,59.3 L423.5,50.6 L424.4,41.4 L425.3,29.4 L426.2,25.4 L427.1,28.2 L428.0,31.6 L428.9,31.6 L429.8,35.9 L430.7,37.4 L431.6,37.8 L432.5,40.2 L433.4,43.4 L434.3,45.3 L435.2,47.6 L436.1,50.6 L437.0,52.3 L437.9,51.1 L438.8,53.7 L439.7,55.9 L440.6,58.1 L441.5,60.2 L442.4,61.7 L443.3,63.4 L444.2,66.1 L445.1,63.3 L446.0,63.6 L446.9,66.4 L447.8,67.3 L448.7,67.4 L449.6,68.4 L450.5,69.4 L451.4,70.9 L452.3,65.5 L453.2,65.5 L454.1,67.1 L455.0,68.6 L455.9,68.6 L456.8,66.8 L457.7,68.5 L458.6,68.5 L459.5,65.9 L460.4,69.0 L461.3,70.5 L462.2,69.4 L463.1,69.8 L464.0,72.2 L464.9,69.8 L465.8,68.8 L466.7,67.2 L467.6,67.5 L468.5,67.7 L469.4,69.4 L470.3,70.9 L471.2,69.4 L472.1,70.7 L473.0,71.9 L473.9,70.3 L474.8,68.9 L475.7,69.0 L476.6,69.7 L477.5,69.2 L478.4,66.1 L479.3,66.8 L480.2,70.3 L481.1,69.7 L482.0,71.2 L482.9,70.5 L483.8,68.9 L484.7,68.4 L485.6,68.5 L486.5,68.5 L487.4,67.5 L488.3,66.2 L489.2,65.4 L490.1,66.3 L491.0,65.4 L491.9,65.4 L492.8,64.4 L493.7,64.4 L494.6,64.4 L495.5,62.5 L496.4,63.1 L497.3,64.2 L498.2,62.8 L499.1,60.7 M393.8,76.7 L394.7,76.8 L395.6,77.9 L396.5,78.6 L397.4,78.7 L398.3,78.3 L399.2,77.6 L400.1,77.7 L401.0,76.3 L401.9,75.2 L402.8,75.1 L403.7,78.4 L404.6,82.3 L405.5,80.1 L406.4,79.6 L407.3,80.0 L408.2,77.5 L409.1,81.0 L410.0,86.1 L410.9,88.3 L411.8,89.7 L412.7,91.0 L413.6,91.1 L414.5,98.0 L415.4,106.0 L416.3,114.9 L417.2,119.3 L418.1,114.6 L419.0,107.2 L419.9,99.6 L420.8,91.8 L421.7,84.5 L422.6,74.4 L423.5,66.5 L424.4,56.3 L425.3,46.7 L426.2,42.9 L427.1,42.3 L428.0,43.4 L428.9,47.0 L429.8,50.7 L430.7,53.0 L431.6,55.0 L432.5,55.0 L433.4,56.2 L434.3,61.3 L435.2,64.2 L436.1,66.5 L437.0,68.7 L437.9,70.7 L438.8,71.3 L439.7,72.1 L440.6,74.1 L441.5,78.2 L442.4,78.9 L443.3,77.6 L444.2,78.2 L445.1,76.8 L446.0,78.5 L446.9,79.5 L447.8,80.8 L448.7,81.2 L449.6,81.3 L450.5,82.0 L451.4,82.8 L452.3,85.6 L453.2,84.0 L454.1,83.6 L455.0,85.5 L455.9,84.0 L456.8,84.3 L457.7,84.9 L458.6,85.3 L459.5,83.9 L460.4,86.4 L461.3,87.5 L462.2,85.6 L463.1,86.5 L464.0,88.8 L464.9,87.7 L465.8,85.9 L466.7,85.2 L467.6,83.6 L468.5,84.6 L469.4,84.5 L470.3,83.2 L471.2,85.3 L472.1,87.0 L473.0,84.8 L473.9,84.0 L474.8,86.2 L475.7,84.1 L476.6,81.8 L477.5,81.4 L478.4,83.6 L479.3,84.2 L480.2,83.7 L481.1,81.5 L482.0,80.7 L482.9,84.1 L483.8,83.8 L484.7,83.3 L485.6,82.7 L486.5,81.7 L487.4,81.0 L488.3,80.1 L489.2,80.5 L490.1,78.4 L491.0,78.6 L491.9,80.8 L492.8,81.5 L493.7,80.6 L494.6,80.7 L495.5,79.3 L496.4,78.9 L497.3,76.3 L498.2,75.8 L499.1,75.8 M393.8,55.6 L394.7,56.7 L395.6,55.5 L396.5,54.1 L397.4,53.2 L398.3,54.0 L399.2,56.0 L400.1,55.4 L401.0,55.9 L401.9,55.6 L402.8,55.3 L403.7,58.4 L404.6,63.5 L405.5,61.6 L406.4,60.1 L407.3,63.8 L408.2,64.4 L409.1,64.3 L410.0,67.6 L410.9,73.7 L411.8,74.3 L412.7,74.2 L413.6,80.3 L414.5,83.5 L415.4,89.4 L416.3,106.4 L417.2,115.5 L418.1,108.2 L419.0,98.7 L419.9,88.2 L420.8,76.4 L421.7,68.2 L422.6,56.9 L423.5,47.2 L424.4,39.5 L425.3,32.0 L426.2,29.3 L427.1,28.8 L428.0,29.6 L428.9,31.9 L429.8,36.0 L430.7,36.4 L431.6,40.0 L432.5,42.3 L433.4,43.7 L434.3,41.8 L435.2,43.0 L436.1,47.5 L437.0,48.1 L437.9,49.6 L438.8,53.7 L439.7,54.0 L440.6,53.9 L441.5,53.8 L442.4,52.8 L443.3,56.9 L444.2,61.2 L445.1,61.9 L446.0,60.2 L446.9,60.5 L447.8,61.5 L448.7,62.6 L449.6,61.9 L450.5,63.7 L451.4,64.5 L452.3,66.1 L453.2,66.4 L454.1,63.9 L455.0,66.1 L455.9,67.0 L456.8,66.0 L457.7,66.7 L458.6,65.4 L459.5,66.2 L460.4,64.8 L461.3,64.3 L462.2,64.9 L463.1,63.5 L464.0,65.1 L464.9,68.1 L465.8,67.7 L466.7,66.8 L467.6,62.4 L468.5,59.5 L469.4,60.9 L470.3,62.5 L471.2,62.9 L472.1,63.2 L473.0,62.3 L473.9,63.0 L474.8,65.0 L475.7,64.1 L476.6,63.9 L477.5,66.1 L478.4,64.1 L479.3,64.5 L480.2,67.7 L481.1,67.9 L482.0,66.6 L482.9,67.2 L483.8,65.6 L484.7,62.4 L485.6,62.7 L486.5,62.9 L487.4,63.5 L488.3,62.7 L489.2,60.3 L490.1,61.7 L491.0,63.5 L491.9,62.1 L492.8,60.9 L493.7,59.0 L494.6,61.3 L495.5,64.3 L496.4,60.8 L497.3,59.3 L498.2,59.7 L499.1,61.2 M393.8,72.4 L394.7,73.9 L395.6,74.6 L396.5,72.6 L397.4,70.4 L398.3,71.6 L399.2,73.4 L400.1,76.8 L401.0,76.7 L401.9,74.9 L402.8,74.7 L403.7,75.8 L404.6,75.8 L405.5,76.2 L406.4,77.3 L407.3,79.2 L408.2,82.3 L409.1,84.6 L410.0,85.5 L410.9,85.9 L411.8,89.2 L412.7,97.0 L413.6,99.1 L414.5,98.1 L415.4,103.6 L416.3,114.1 L417.2,119.2 L418.1,115.4 L419.0,108.2 L419.9,100.1 L420.8,90.8 L421.7,83.8 L422.6,74.6 L423.5,61.1 L424.4,51.3 L425.3,44.8 L426.2,42.3 L427.1,39.6 L428.0,42.9 L428.9,44.8 L429.8,45.4 L430.7,47.9 L431.6,52.2 L432.5,54.3 L433.4,51.9 L434.3,56.1 L435.2,61.9 L436.1,64.6 L437.0,68.6 L437.9,70.2 L438.8,74.2 L439.7,72.0 L440.6,72.2 L441.5,75.2 L442.4,76.6 L443.3,75.9 L444.2,76.4 L445.1,78.1 L446.0,76.1 L446.9,77.6 L447.8,76.8 L448.7,77.8 L449.6,80.7 L450.5,79.7 L451.4,79.8 L452.3,82.3 L453.2,84.2 L454.1,82.6 L455.0,82.9 L455.9,85.7 L456.8,84.6 L457.7,81.8 L458.6,81.7 L459.5,80.0 L460.4,78.2 L461.3,79.6 L462.2,80.5 L463.1,77.6 L464.0,78.0 L464.9,79.8 L465.8,77.8 L466.7,77.6 L467.6,78.1 L468.5,77.2 L469.4,77.0 L470.3,77.5 L471.2,78.1 L472.1,76.7 L473.0,77.8 L473.9,78.2 L474.8,78.3 L475.7,79.5 L476.6,79.1 L477.5,79.3 L478.4,77.2 L479.3,76.3 L480.2,80.1 L481.1,80.6 L482.0,78.8 L482.9,78.7 L483.8,79.8 L484.7,80.8 L485.6,79.1 L486.5,77.8 L487.4,79.8 L488.3,77.5 L489.2,76.9 L490.1,78.6 L491.0,79.0 L491.9,77.4 L492.8,75.0 L493.7,75.8 L494.6,77.5 L495.5,74.7 L496.4,74.4 L497.3,76.0 L498.2,73.2 L499.1,72.3 M393.8,77.6 L394.7,76.7 L395.6,78.1 L396.5,78.7 L397.4,79.5 L398.3,78.9 L399.2,78.0 L400.1,78.1 L401.0,77.5 L401.9,76.8 L402.8,77.0 L403.7,77.5 L404.6,79.3 L405.5,80.3 L406.4,81.4 L407.3,83.3 L408.2,81.5 L409.1,84.0 L410.0,87.7 L410.9,87.1 L411.8,89.5 L412.7,91.3 L413.6,93.0 L414.5,98.5 L415.4,107.9 L416.3,116.9 L417.2,120.0 L418.1,115.7 L419.0,109.1 L419.9,100.6 L420.8,91.1 L421.7,82.3 L422.6,72.1 L423.5,64.2 L424.4,55.7 L425.3,46.4 L426.2,43.2 L427.1,42.3 L428.0,45.2 L428.9,48.9 L429.8,50.7 L430.7,52.3 L431.6,56.1 L432.5,58.7 L433.4,61.1 L434.3,66.3 L435.2,71.8 L436.1,70.4 L437.0,72.1 L437.9,77.4 L438.8,74.7 L439.7,79.6 L440.6,86.0 L441.5,84.5 L442.4,82.3 L443.3,82.4 L444.2,84.3 L445.1,84.5 L446.0,86.4 L446.9,88.2 L447.8,87.0 L448.7,86.1 L449.6,88.3 L450.5,88.3 L451.4,89.4 L452.3,93.2 L453.2,93.3 L454.1,88.3 L455.0,88.2 L455.9,88.6 L456.8,87.0 L457.7,88.4 L458.6,88.4 L459.5,85.9 L460.4,85.8 L461.3,86.1 L462.2,85.3 L463.1,85.7 L464.0,88.8 L464.9,86.7 L465.8,85.7 L466.7,86.6 L467.6,86.6 L468.5,85.3 L469.4,84.3 L470.3,87.2 L471.2,89.8 L472.1,89.7 L473.0,86.7 L473.9,85.9 L474.8,90.5 L475.7,93.2 L476.6,92.2 L477.5,90.5 L478.4,89.3 L479.3,90.5 L480.2,90.8 L481.1,88.4 L482.0,87.3 L482.9,88.0 L483.8,87.4 L484.7,86.9 L485.6,86.4 L486.5,87.6 L487.4,87.7 L488.3,84.8 L489.2,83.8 L490.1,83.9 L491.0,80.7 L491.9,81.1 L492.8,82.5 L493.7,82.3 L494.6,81.5 L495.5,78.8 L496.4,81.0 L497.3,82.9 L498.2,80.1 L499.1,78.1 M393.8,58.4 L394.7,57.9 L395.6,57.0 L396.5,58.1 L397.4,59.4 L398.3,58.9 L399.2,56.5 L400.1,58.0 L401.0,57.8 L401.9,56.7 L402.8,58.8 L403.7,59.8 L404.6,60.8 L405.5,60.0 L406.4,61.7 L407.3,66.5 L408.2,66.2 L409.1,65.2 L410.0,67.1 L410.9,68.5 L411.8,69.5 L412.7,72.4 L413.6,76.2 L414.5,81.2 L415.4,90.3 L416.3,107.4 L417.2,115.3 L418.1,108.3 L419.0,98.4 L419.9,88.7 L420.8,79.0 L421.7,69.6 L422.6,57.3 L423.5,46.0 L424.4,35.9 L425.3,27.8 L426.2,26.8 L427.1,26.7 L428.0,26.8 L428.9,27.4 L429.8,29.6 L430.7,35.2 L431.6,36.9 L432.5,37.9 L433.4,39.0 L434.3,40.0 L435.2,41.5 L436.1,44.3 L437.0,46.4 L437.9,49.6 L438.8,51.9 L439.7,54.2 L440.6,56.1 L441.5,57.3 L442.4,60.2 L443.3,61.2 L444.2,58.6 L445.1,59.4 L446.0,63.4 L446.9,64.2 L447.8,66.3 L448.7,64.5 L449.6,63.4 L450.5,65.0 L451.4,62.0 L452.3,60.8 L453.2,62.2 L454.1,66.4 L455.0,64.8 L455.9,63.5 L456.8,65.4 L457.7,67.3 L458.6,66.9 L459.5,63.9 L460.4,63.8 L461.3,67.2 L462.2,71.5 L463.1,69.8 L464.0,68.4 L464.9,67.2 L465.8,67.5 L466.7,68.5 L467.6,68.1 L468.5,67.3 L469.4,66.0 L470.3,65.0 L471.2,65.6 L472.1,68.6 L473.0,69.2 L473.9,65.8 L474.8,65.6 L475.7,67.1 L476.6,69.7 L477.5,70.0 L478.4,66.3 L479.3,64.7 L480.2,65.1 L481.1,66.7 L482.0,67.2 L482.9,65.4 L483.8,62.2 L484.7,62.9 L485.6,62.1 L486.5,59.6 L487.4,61.5 L488.3,62.3 L489.2,61.2 L490.1,62.9 L491.0,64.1 L491.9,61.4 L492.8,64.6 L493.7,65.3 L494.6,64.5 L495.5,63.5 L496.4,64.0 L497.3,66.1 L498.2,63.1 L499.1,62.9 M393.8,62.2 L394.7,62.3 L395.6,64.6 L396.5,63.4 L397.4,64.3 L398.3,67.0 L399.2,66.9 L400.1,66.7 L401.0,69.5 L401.9,71.0 L402.8,71.2 L403.7,66.8 L404.6,65.5 L405.5,69.5 L406.4,68.6 L407.3,70.0 L408.2,73.2 L409.1,72.1 L410.0,71.5 L410.9,73.9 L411.8,79.3 L412.7,83.0 L413.6,84.3 L414.5,88.0 L415.4,95.2 L416.3,110.0 L417.2,117.2 L418.1,111.6 L419.0,101.9 L419.9,91.9 L420.8,79.5 L421.7,69.3 L422.6,62.7 L423.5,54.2 L424.4,45.1 L425.3,37.3 L426.2,33.3 L427.1,34.1 L428.0,35.5 L428.9,35.7 L429.8,38.2 L430.7,40.4 L431.6,42.4 L432.5,45.6 L433.4,49.0 L434.3,47.9 L435.2,48.1 L436.1,51.8 L437.0,55.6 L437.9,55.0 L438.8,57.3 L439.7,58.1 L440.6,58.9 L441.5,60.1 L442.4,62.4 L443.3,64.3 L444.2,62.0 L445.1,62.5 L446.0,63.3 L446.9,67.1 L447.8,70.1 L448.7,70.2 L449.6,70.4 L450.5,69.5 L451.4,70.6 L452.3,69.7 L453.2,70.6 L454.1,69.8 L455.0,68.4 L455.9,70.6 L456.8,69.9 L457.7,68.4 L458.6,68.7 L459.5,69.8 L460.4,71.8 L461.3,73.5 L462.2,74.2 L463.1,74.1 L464.0,74.6 L464.9,75.6 L465.8,76.3 L466.7,74.1 L467.6,72.1 L468.5,73.4 L469.4,73.5 L470.3,69.7 L471.2,69.7 L472.1,70.6 L473.0,70.1 L473.9,70.2 L474.8,71.4 L475.7,71.9 L476.6,71.7 L477.5,70.7 L478.4,71.1 L479.3,71.9 L480.2,72.6 L481.1,74.0 L482.0,74.0 L482.9,72.1 L483.8,73.5 L484.7,73.9 L485.6,72.5 L486.5,73.0 L487.4,74.4 L488.3,73.3 L489.2,71.9 L490.1,69.7 L491.0,69.8 L491.9,67.0 L492.8,66.6 L493.7,67.1 L494.6,67.9 L495.5,64.6 L496.4,64.9 L497.3,65.9 L498.2,65.4 L499.1,66.8 M393.8,72.1 L394.7,69.5 L395.6,68.8 L396.5,72.8 L397.4,74.5 L398.3,71.6 L399.2,71.2 L400.1,71.9 L401.0,74.2 L401.9,73.5 L402.8,73.4 L403.7,74.4 L404.6,75.5 L405.5,77.1 L406.4,79.3 L407.3,79.6 L408.2,82.5 L409.1,84.4 L410.0,84.4 L410.9,84.6 L411.8,88.0 L412.7,92.6 L413.6,94.9 L414.5,99.8 L415.4,106.5 L416.3,115.0 L417.2,119.5 L418.1,115.3 L419.0,107.2 L419.9,98.4 L420.8,90.1 L421.7,83.7 L422.6,74.1 L423.5,64.9 L424.4,58.0 L425.3,46.3 L426.2,40.4 L427.1,42.7 L428.0,43.1 L428.9,46.4 L429.8,48.7 L430.7,52.6 L431.6,56.5 L432.5,57.4 L433.4,60.8 L434.3,62.7 L435.2,65.6 L436.1,66.3 L437.0,70.0 L437.9,73.1 L438.8,71.4 L439.7,73.5 L440.6,77.0 L441.5,77.6 L442.4,77.2 L443.3,77.6 L444.2,77.9 L445.1,77.5 L446.0,79.5 L446.9,80.2 L447.8,79.8 L448.7,81.8 L449.6,81.9 L450.5,81.2 L451.4,81.1 L452.3,79.9 L453.2,80.7 L454.1,81.8 L455.0,82.2 L455.9,79.6 L456.8,80.6 L457.7,81.1 L458.6,79.9 L459.5,82.2 L460.4,83.7 L461.3,83.1 L462.2,84.8 L463.1,87.5 L464.0,86.4 L464.9,85.5 L465.8,85.1 L466.7,84.4 L467.6,81.7 L468.5,82.0 L469.4,84.6 L470.3,84.3 L471.2,84.7 L472.1,85.6 L473.0,84.7 L473.9,86.1 L474.8,85.8 L475.7,83.4 L476.6,84.0 L477.5,84.8 L478.4,85.1 L479.3,85.4 L480.2,86.0 L481.1,84.9 L482.0,85.0 L482.9,83.9 L483.8,83.1 L484.7,84.5 L485.6,82.0 L486.5,81.0 L487.4,82.9 L488.3,83.9 L489.2,85.6 L490.1,84.6 L491.0,82.6 L491.9,81.1 L492.8,79.9 L493.7,80.1 L494.6,81.1 L495.5,79.3 L496.4,77.0 L497.3,77.7 L498.2,78.3 L499.1,77.4 M393.8,69.7 L394.7,67.7 L395.6,67.1 L396.5,69.2 L397.4,70.5 L398.3,71.1 L399.2,69.6 L400.1,70.5 L401.0,71.0 L401.9,72.3 L402.8,72.7 L403.7,71.5 L404.6,72.9 L405.5,74.2 L406.4,76.3 L407.3,77.9 L408.2,77.7 L409.1,76.2 L410.0,76.6 L410.9,78.2 L411.8,78.3 L412.7,80.2 L413.6,82.3 L414.5,89.2 L415.4,96.9 L416.3,110.5 L417.2,117.4 L418.1,111.3 L419.0,102.2 L419.9,94.0 L420.8,84.8 L421.7,75.2 L422.6,64.7 L423.5,54.7 L424.4,47.9 L425.3,38.6 L426.2,36.0 L427.1,36.4 L428.0,35.9 L428.9,38.4 L429.8,43.4 L430.7,46.8 L431.6,48.0 L432.5,49.8 L433.4,50.9 L434.3,52.5 L435.2,53.9 L436.1,54.1 L437.0,57.4 L437.9,60.1 L438.8,60.1 L439.7,66.6 L440.6,69.1 L441.5,67.0 L442.4,70.7 L443.3,74.0 L444.2,73.9 L445.1,72.1 L446.0,72.5 L446.9,75.8 L447.8,77.4 L448.7,77.2 L449.6,73.5 L450.5,72.9 L451.4,75.3 L452.3,76.9 L453.2,77.9 L454.1,78.9 L455.0,74.8 L455.9,74.4 L456.8,75.8 L457.7,78.7 L458.6,76.5 L459.5,75.7 L460.4,75.9 L461.3,77.0 L462.2,79.2 L463.1,78.3 L464.0,77.3 L464.9,79.6 L465.8,80.1 L466.7,77.1 L467.6,78.0 L468.5,80.6 L469.4,79.6 L470.3,80.2 L471.2,78.9 L472.1,77.8 L473.0,76.5 L473.9,77.7 L474.8,78.5 L475.7,78.5 L476.6,78.6 L477.5,78.4 L478.4,79.4 L479.3,78.3 L480.2,76.4 L481.1,77.1 L482.0,78.5 L482.9,78.9 L483.8,75.7 L484.7,75.2 L485.6,74.4 L486.5,72.5 L487.4,75.1 L488.3,76.0 L489.2,74.1 L490.1,74.1 L491.0,75.7 L491.9,74.1 L492.8,71.7 L493.7,72.5 L494.6,73.1 L495.5,73.0 L496.4,69.9 L497.3,68.5 L498.2,69.8 L499.1,71.3 M393.8,75.5 L394.7,77.3 L395.6,77.7 L396.5,76.6 L397.4,74.5 L398.3,75.7 L399.2,76.5 L400.1,76.5 L401.0,78.7 L401.9,77.0 L402.8,75.0 L403.7,74.5 L404.6,76.9 L405.5,81.0 L406.4,84.7 L407.3,87.8 L408.2,88.3 L409.1,88.2 L410.0,88.8 L410.9,93.6 L411.8,94.6 L412.7,95.1 L413.6,97.4 L414.5,99.3 L415.4,104.9 L416.3,116.1 L417.2,120.5 L418.1,116.0 L419.0,109.4 L419.9,102.9 L420.8,95.3 L421.7,86.4 L422.6,74.0 L423.5,65.3 L424.4,59.5 L425.3,47.2 L426.2,41.9 L427.1,43.6 L428.0,46.9 L428.9,51.1 L429.8,54.1 L430.7,54.5 L431.6,54.8 L432.5,59.2 L433.4,60.1 L434.3,61.2 L435.2,65.9 L436.1,69.5 L437.0,71.4 L437.9,74.8 L438.8,77.4 L439.7,77.8 L440.6,80.8 L441.5,81.8 L442.4,82.1 L443.3,80.6 L444.2,79.6 L445.1,80.9 L446.0,83.8 L446.9,84.1 L447.8,84.3 L448.7,85.7 L449.6,84.4 L450.5,83.5 L451.4,83.7 L452.3,84.1 L453.2,86.0 L454.1,86.2 L455.0,83.7 L455.9,86.0 L456.8,88.3 L457.7,86.8 L458.6,87.2 L459.5,89.3 L460.4,90.4 L461.3,89.4 L462.2,89.0 L463.1,89.2 L464.0,89.0 L464.9,87.8 L465.8,89.1 L466.7,90.7 L467.6,90.3 L468.5,89.9 L469.4,88.8 L470.3,89.8 L471.2,89.9 L472.1,89.0 L473.0,88.3 L473.9,86.6 L474.8,85.2 L475.7,85.9 L476.6,85.5 L477.5,85.2 L478.4,89.0 L479.3,91.0 L480.2,89.1 L481.1,88.9 L482.0,89.4 L482.9,87.6 L483.8,90.3 L484.7,88.8 L485.6,86.5 L486.5,85.0 L487.4,84.2 L488.3,86.3 L489.2,86.9 L490.1,82.5 L491.0,78.9 L491.9,79.3 L492.8,80.5 L493.7,81.5 L494.6,80.5 L495.5,80.7 L496.4,82.2 L497.3,80.3 L498.2,79.4 L499.1,78.5 M393.8,76.7 L394.7,76.9 L395.6,76.5 L396.5,76.8 L397.4,79.9 L398.3,81.0 L399.2,79.7 L400.1,79.1 L401.0,77.9 L401.9,77.1 L402.8,76.8 L403.7,77.4 L404.6,79.3 L405.5,79.1 L406.4,79.9 L407.3,79.9 L408.2,80.5 L409.1,83.9 L410.0,86.2 L410.9,87.9 L411.8,88.6 L412.7,88.5 L413.6,91.2 L414.5,96.5 L415.4,102.1 L416.3,113.6 L417.2,119.2 L418.1,114.3 L419.0,105.8 L419.9,98.9 L420.8,92.4 L421.7,82.8 L422.6,72.4 L423.5,65.8 L424.4,55.7 L425.3,45.4 L426.2,41.9 L427.1,44.0 L428.0,45.6 L428.9,46.1 L429.8,49.0 L430.7,52.7 L431.6,55.9 L432.5,57.5 L433.4,61.4 L434.3,61.9 L435.2,64.5 L436.1,68.9 L437.0,70.0 L437.9,73.8 L438.8,74.7 L439.7,72.1 L440.6,74.4 L441.5,78.8 L442.4,81.1 L443.3,79.7 L444.2,79.2 L445.1,80.8 L446.0,82.4 L446.9,83.3 L447.8,82.0 L448.7,82.1 L449.6,83.6 L450.5,86.4 L451.4,87.9 L452.3,83.4 L453.2,79.8 L454.1,82.1 L455.0,81.9 L455.9,81.7 L456.8,81.8 L457.7,81.3 L458.6,80.8 L459.5,82.5 L460.4,85.0 L461.3,84.4 L462.2,83.7 L463.1,81.8 L464.0,80.3 L464.9,83.2 L465.8,86.5 L466.7,84.6 L467.6,83.8 L468.5,84.7 L469.4,84.2 L470.3,84.2 L471.2,85.2 L472.1,82.8 L473.0,84.0 L473.9,85.2 L474.8,85.1 L475.7,83.3 L476.6,82.0 L477.5,84.6 L478.4,85.2 L479.3,84.3 L480.2,83.1 L481.1,81.7 L482.0,82.6 L482.9,82.8 L483.8,82.4 L484.7,81.0 L485.6,80.9 L486.5,78.7 L487.4,77.7 L488.3,79.8 L489.2,78.6 L490.1,79.1 L491.0,79.8 L491.9,80.8 L492.8,81.9 L493.7,80.8 L494.6,75.5 L495.5,74.0 L496.4,78.8 L497.3,79.3 L498.2,77.2 L499.1,76.0 M393.8,60.3 L394.7,60.6 L395.6,56.0 L396.5,54.6 L397.4,57.2 L398.3,57.7 L399.2,56.6 L400.1,59.0 L401.0,60.8 L401.9,61.0 L402.8,60.9 L403.7,61.2 L404.6,61.5 L405.5,63.0 L406.4,66.1 L407.3,66.5 L408.2,64.9 L409.1,64.7 L410.0,69.0 L410.9,70.4 L411.8,74.5 L412.7,79.9 L413.6,80.8 L414.5,85.5 L415.4,94.1 L416.3,108.6 L417.2,116.1 L418.1,110.9 L419.0,102.9 L419.9,92.9 L420.8,82.9 L421.7,71.3 L422.6,60.7 L423.5,49.6 L424.4,42.1 L425.3,36.1 L426.2,31.7 L427.1,34.7 L428.0,36.9 L428.9,36.2 L429.8,35.7 L430.7,35.1 L431.6,39.2 L432.5,39.8 L433.4,42.6 L434.3,45.0 L435.2,45.0 L436.1,46.4 L437.0,48.7 L437.9,54.2 L438.8,56.0 L439.7,55.3 L440.6,56.9 L441.5,58.9 L442.4,61.4 L443.3,63.1 L444.2,66.0 L445.1,66.0 L446.0,66.0 L446.9,67.0 L447.8,65.7 L448.7,65.8 L449.6,67.0 L450.5,66.9 L451.4,68.3 L452.3,71.3 L453.2,71.2 L454.1,68.7 L455.0,70.2 L455.9,72.8 L456.8,73.9 L457.7,73.5 L458.6,71.7 L459.5,73.0 L460.4,74.6 L461.3,73.3 L462.2,74.6 L463.1,75.5 L464.0,72.0 L464.9,72.3 L465.8,72.2 L466.7,72.8 L467.6,70.5 L468.5,69.3 L469.4,69.5 L470.3,71.3 L471.2,70.5 L472.1,69.8 L473.0,69.0 L473.9,68.6 L474.8,68.1 L475.7,67.9 L476.6,67.2 L477.5,66.8 L478.4,66.3 L479.3,67.9 L480.2,66.8 L481.1,67.9 L482.0,69.8 L482.9,68.0 L483.8,66.6 L484.7,67.8 L485.6,64.9 L486.5,65.5 L487.4,66.3 L488.3,68.5 L489.2,67.8 L490.1,64.2 L491.0,64.4 L491.9,64.6 L492.8,61.8 L493.7,63.3 L494.6,60.9 L495.5,59.6 L496.4,59.9 L497.3,60.5 L498.2,60.5 L499.1,63.3 M393.8,59.1 L394.7,59.8 L395.6,61.1 L396.5,61.7 L397.4,60.0 L398.3,58.6 L399.2,59.3 L400.1,60.6 L401.0,63.4 L401.9,61.3 L402.8,58.5 L403.7,59.3 L404.6,60.5 L405.5,60.9 L406.4,60.3 L407.3,61.6 L408.2,64.5 L409.1,65.9 L410.0,64.7 L410.9,69.3 L411.8,71.9 L412.7,70.7 L413.6,75.9 L414.5,81.8 L415.4,91.0 L416.3,106.8 L417.2,114.8 L418.1,107.7 L419.0,98.1 L419.9,89.6 L420.8,77.9 L421.7,67.8 L422.6,57.3 L423.5,46.9 L424.4,37.8 L425.3,27.6 L426.2,28.4 L427.1,31.0 L428.0,32.7 L428.9,34.8 L429.8,35.4 L430.7,39.5 L431.6,42.8 L432.5,43.4 L433.4,44.2 L434.3,44.9 L435.2,46.7 L436.1,50.7 L437.0,53.3 L437.9,53.1 L438.8,53.9 L439.7,52.8 L440.6,56.2 L441.5,59.7 L442.4,59.1 L443.3,59.5 L444.2,60.8 L445.1,63.0 L446.0,63.8 L446.9,63.5 L447.8,62.6 L448.7,63.4 L449.6,63.2 L450.5,64.0 L451.4,66.5 L452.3,68.1 L453.2,66.8 L454.1,69.5 L455.0,72.0 L455.9,71.3 L456.8,71.1 L457.7,70.0 L458.6,69.8 L459.5,70.8 L460.4,71.0 L461.3,70.1 L462.2,68.2 L463.1,70.8 L464.0,69.8 L464.9,69.6 L465.8,67.9 L466.7,67.8 L467.6,70.2 L468.5,69.6 L469.4,68.6 L470.3,67.7 L471.2,68.7 L472.1,68.7 L473.0,67.2 L473.9,67.9 L474.8,69.8 L475.7,67.7 L476.6,67.2 L477.5,68.0 L478.4,69.9 L479.3,72.0 L480.2,69.1 L481.1,70.0 L482.0,71.0 L482.9,69.0 L483.8,65.6 L484.7,65.2 L485.6,67.8 L486.5,66.7 L487.4,64.3 L488.3,62.1 L489.2,63.7 L490.1,68.0 L491.0,67.1 L491.9,65.9 L492.8,63.8 L493.7,63.0 L494.6,65.1 L495.5,66.6 L496.4,64.7 L497.3,65.1 L498.2,66.1 L499.1,66.4 M393.8,61.6 L394.7,63.2 L395.6,64.7 L396.5,64.1 L397.4,64.6 L398.3,62.7 L399.2,62.9 L400.1,63.5 L401.0,63.2 L401.9,64.3 L402.8,64.5 L403.7,65.8 L404.6,65.0 L405.5,65.0 L406.4,67.5 L407.3,66.1 L408.2,68.9 L409.1,70.7 L410.0,72.7 L410.9,73.7 L411.8,75.5 L412.7,76.6 L413.6,80.0 L414.5,85.1 L415.4,94.3 L416.3,108.8 L417.2,115.6 L418.1,108.1 L419.0,97.8 L419.9,91.0 L420.8,81.1 L421.7,69.5 L422.6,60.6 L423.5,47.4 L424.4,41.5 L425.3,35.7 L426.2,30.2 L427.1,30.0 L428.0,33.6 L428.9,32.3 L429.8,34.4 L430.7,38.6 L431.6,39.4 L432.5,41.7 L433.4,40.0 L434.3,42.7 L435.2,47.6 L436.1,46.9 L437.0,48.9 L437.9,52.5 L438.8,56.7 L439.7,56.3 L440.6,55.7 L441.5,59.8 L442.4,61.6 L443.3,62.3 L444.2,63.9 L445.1,63.8 L446.0,66.7 L446.9,70.0 L447.8,69.9 L448.7,69.9 L449.6,71.2 L450.5,72.3 L451.4,70.9 L452.3,69.7 L453.2,71.7 L454.1,73.3 L455.0,73.3 L455.9,72.7 L456.8,72.1 L457.7,71.4 L458.6,70.9 L459.5,71.0 L460.4,71.1 L461.3,73.3 L462.2,72.6 L463.1,68.8 L464.0,70.0 L464.9,72.4 L465.8,72.1 L466.7,73.1 L467.6,73.7 L468.5,72.9 L469.4,74.4 L470.3,76.0 L471.2,74.1 L472.1,70.4 L473.0,70.8 L473.9,71.4 L474.8,70.7 L475.7,71.0 L476.6,70.0 L477.5,69.7 L478.4,69.9 L479.3,68.9 L480.2,68.2 L481.1,69.9 L482.0,69.9 L482.9,68.5 L483.8,70.3 L484.7,68.1 L485.6,67.9 L486.5,71.0 L487.4,71.3 L488.3,70.0 L489.2,69.9 L490.1,69.6 L491.0,68.3 L491.9,67.2 L492.8,67.7 L493.7,68.0 L494.6,67.6 L495.5,67.2 L496.4,66.4 L497.3,66.6 L498.2,67.0 L499.1,65.9 M393.8,74.5 L394.7,74.5 L395.6,74.2 L396.5,74.7 L397.4,76.8 L398.3,77.0 L399.2,76.5 L400.1,78.6 L401.0,80.7 L401.9,81.9 L402.8,82.6 L403.7,79.8 L404.6,81.2 L405.5,84.2 L406.4,86.9 L407.3,90.3 L408.2,91.4 L409.1,89.8 L410.0,90.9 L410.9,94.1 L411.8,93.6 L412.7,96.0 L413.6,99.1 L414.5,101.0 L415.4,105.6 L416.3,115.9 L417.2,120.0 L418.1,114.4 L419.0,107.3 L419.9,102.7 L420.8,97.5 L421.7,88.1 L422.6,78.8 L423.5,68.3 L424.4,57.8 L425.3,50.8 L426.2,45.5 L427.1,48.1 L428.0,49.3 L428.9,51.0 L429.8,54.1 L430.7,57.6 L431.6,62.5 L432.5,62.9 L433.4,65.2 L434.3,67.1 L435.2,71.3 L436.1,75.8 L437.0,76.8 L437.9,77.6 L438.8,80.3 L439.7,81.7 L440.6,79.1 L441.5,82.3 L442.4,83.2 L443.3,84.6 L444.2,85.2 L445.1,83.6 L446.0,83.9 L446.9,86.8 L447.8,87.9 L448.7,86.0 L449.6,89.7 L450.5,89.5 L451.4,86.3 L452.3,87.7 L453.2,86.0 L454.1,84.6 L455.0,89.1 L455.9,90.4 L456.8,89.8 L457.7,90.5 L458.6,88.3 L459.5,88.0 L460.4,88.2 L461.3,87.4 L462.2,87.4 L463.1,89.5 L464.0,90.9 L464.9,90.0 L465.8,90.0 L466.7,86.7 L467.6,86.9 L468.5,87.7 L469.4,86.2 L470.3,86.0 L471.2,85.5 L472.1,86.7 L473.0,85.5 L473.9,86.9 L474.8,90.4 L475.7,90.5 L476.6,87.6 L477.5,86.1 L478.4,85.0 L479.3,83.1 L480.2,82.9 L481.1,86.2 L482.0,83.8 L482.9,82.0 L483.8,84.7 L484.7,85.6 L485.6,86.6 L486.5,88.2 L487.4,86.4 L488.3,83.3 L489.2,82.8 L490.1,81.8 L491.0,81.6 L491.9,83.8 L492.8,82.6 L493.7,80.6 L494.6,81.2 L495.5,82.7 L496.4,81.8 L497.3,80.6 L498.2,83.2 L499.1,82.6 M393.8,70.7 L394.7,69.1 L395.6,68.2 L396.5,69.8 L397.4,69.5 L398.3,69.2 L399.2,70.2 L400.1,70.5 L401.0,71.1 L401.9,72.3 L402.8,71.9 L403.7,70.6 L404.6,73.0 L405.5,75.4 L406.4,74.9 L407.3,76.2 L408.2,77.6 L409.1,80.6 L410.0,82.7 L410.9,84.3 L411.8,84.4 L412.7,87.1 L413.6,92.7 L414.5,98.6 L415.4,104.5 L416.3,115.3 L417.2,119.3 L418.1,115.4 L419.0,109.2 L419.9,100.3 L420.8,89.9 L421.7,81.6 L422.6,73.3 L423.5,61.5 L424.4,52.8 L425.3,44.1 L426.2,37.8 L427.1,38.6 L428.0,41.8 L428.9,42.5 L429.8,42.7 L430.7,46.9 L431.6,52.6 L432.5,54.8 L433.4,56.3 L434.3,57.5 L435.2,60.3 L436.1,62.1 L437.0,63.0 L437.9,67.0 L438.8,67.0 L439.7,67.1 L440.6,69.8 L441.5,71.3 L442.4,72.3 L443.3,72.5 L444.2,74.2 L445.1,75.0 L446.0,76.5 L446.9,76.4 L447.8,78.2 L448.7,78.7 L449.6,76.1 L450.5,78.3 L451.4,81.6 L452.3,80.1 L453.2,77.8 L454.1,78.4 L455.0,80.8 L455.9,80.5 L456.8,83.2 L457.7,84.5 L458.6,83.1 L459.5,83.4 L460.4,81.9 L461.3,81.3 L462.2,80.3 L463.1,79.6 L464.0,80.5 L464.9,80.3 L465.8,79.1 L466.7,80.7 L467.6,80.0 L468.5,77.5 L469.4,79.4 L470.3,78.8 L471.2,76.6 L472.1,79.2 L473.0,81.2 L473.9,79.1 L474.8,77.5 L475.7,78.6 L476.6,77.9 L477.5,79.4 L478.4,81.4 L479.3,81.2 L480.2,81.8 L481.1,83.3 L482.0,83.3 L482.9,82.9 L483.8,83.0 L484.7,80.1 L485.6,78.9 L486.5,81.8 L487.4,78.5 L488.3,76.1 L489.2,76.2 L490.1,77.3 L491.0,77.5 L491.9,74.9 L492.8,74.6 L493.7,75.2 L494.6,76.4 L495.5,76.0 L496.4,74.0 L497.3,73.3 L498.2,74.7 L499.1,72.7 M393.8,70.5 L394.7,70.2 L395.6,73.4 L396.5,72.1 L397.4,71.5 L398.3,72.2 L399.2,72.9 L400.1,73.1 L401.0,72.0 L401.9,74.8 L402.8,74.9 L403.7,71.7 L404.6,70.2 L405.5,74.1 L406.4,78.2 L407.3,78.4 L408.2,78.9 L409.1,77.1 L410.0,79.7 L410.9,83.3 L411.8,87.3 L412.7,89.0 L413.6,88.9 L414.5,94.0 L415.4,101.8 L416.3,112.8 L417.2,118.1 L418.1,112.8 L419.0,105.3 L419.9,97.3 L420.8,87.5 L421.7,80.9 L422.6,73.3 L423.5,64.2 L424.4,56.1 L425.3,46.5 L426.2,39.8 L427.1,43.7 L428.0,43.4 L428.9,42.7 L429.8,47.2 L430.7,50.5 L431.6,52.2 L432.5,52.5 L433.4,53.7 L434.3,56.3 L435.2,60.1 L436.1,62.7 L437.0,65.8 L437.9,69.7 L438.8,68.9 L439.7,68.6 L440.6,70.6 L441.5,74.6 L442.4,76.1 L443.3,76.6 L444.2,76.5 L445.1,76.8 L446.0,76.5 L446.9,76.7 L447.8,77.1 L448.7,79.2 L449.6,79.1 L450.5,79.8 L451.4,78.9 L452.3,79.2 L453.2,79.2 L454.1,77.8 L455.0,78.6 L455.9,79.9 L456.8,80.5 L457.7,79.0 L458.6,79.2 L459.5,81.0 L460.4,79.7 L461.3,80.6 L462.2,82.7 L463.1,81.8 L464.0,81.9 L464.9,80.5 L465.8,78.1 L466.7,79.4 L467.6,81.4 L468.5,79.8 L469.4,79.7 L470.3,79.3 L471.2,81.2 L472.1,79.8 L473.0,77.9 L473.9,79.3 L474.8,79.4 L475.7,80.4 L476.6,80.6 L477.5,79.6 L478.4,81.7 L479.3,83.2 L480.2,81.2 L481.1,79.3 L482.0,79.3 L482.9,78.0 L483.8,77.4 L484.7,79.5 L485.6,80.9 L486.5,78.4 L487.4,78.0 L488.3,78.6 L489.2,78.0 L490.1,76.6 L491.0,74.2 L491.9,76.0 L492.8,76.6 L493.7,74.9 L494.6,75.3 L495.5,76.3 L496.4,75.4 L497.3,72.8 L498.2,74.2 L499.1,74.3 M393.8,62.0 L394.7,59.9 L395.6,61.7 L396.5,62.7 L397.4,59.2 L398.3,59.2 L399.2,60.7 L400.1,60.4 L401.0,60.9 L401.9,63.9 L402.8,63.5 L403.7,63.9 L404.6,64.5 L405.5,63.0 L406.4,63.3 L407.3,65.4 L408.2,68.2 L409.1,71.0 L410.0,71.4 L410.9,69.2 L411.8,74.5 L412.7,78.1 L413.6,79.2 L414.5,82.4 L415.4,92.3 L416.3,108.9 L417.2,115.8 L418.1,109.7 L419.0,99.7 L419.9,91.7 L420.8,81.4 L421.7,70.4 L422.6,60.6 L423.5,49.9 L424.4,43.2 L425.3,34.8 L426.2,32.2 L427.1,33.0 L428.0,34.9 L428.9,34.5 L429.8,36.6 L430.7,40.5 L431.6,43.7 L432.5,47.2 L433.4,47.4 L434.3,49.3 L435.2,52.4 L436.1,56.5 L437.0,58.1 L437.9,56.5 L438.8,58.0 L439.7,59.6 L440.6,64.7 L441.5,67.0 L442.4,68.9 L443.3,68.9 L444.2,69.0 L445.1,73.9 L446.0,74.0 L446.9,71.8 L447.8,72.3 L448.7,76.0 L449.6,75.3 L450.5,73.2 L451.4,74.1 L452.3,74.8 L453.2,76.0 L454.1,72.2 L455.0,72.0 L455.9,73.3 L456.8,72.7 L457.7,76.5 L458.6,79.5 L459.5,77.0 L460.4,75.5 L461.3,76.1 L462.2,75.5 L463.1,75.1 L464.0,74.5 L464.9,73.3 L465.8,72.8 L466.7,71.7 L467.6,73.3 L468.5,76.6 L469.4,73.8 L470.3,70.9 L471.2,70.8 L472.1,71.1 L473.0,70.2 L473.9,71.2 L474.8,73.3 L475.7,73.2 L476.6,71.1 L477.5,71.8 L478.4,72.6 L479.3,72.1 L480.2,69.7 L481.1,67.9 L482.0,66.4 L482.9,69.6 L483.8,69.7 L484.7,69.0 L485.6,69.2 L486.5,70.4 L487.4,71.4 L488.3,70.1 L489.2,69.1 L490.1,68.6 L491.0,68.9 L491.9,70.9 L492.8,74.3 L493.7,75.7 L494.6,72.2 L495.5,70.6 L496.4,70.0 L497.3,68.8 L498.2,69.5 L499.1,70.8 M393.8,82.2 L394.7,82.8 L395.6,83.5 L396.5,83.5 L397.4,84.2 L398.3,83.2 L399.2,81.1 L400.1,80.7 L401.0,83.2 L401.9,85.6 L402.8,83.6 L403.7,83.5 L404.6,84.2 L405.5,83.6 L406.4,84.2 L407.3,86.9 L408.2,88.4 L409.1,89.6 L410.0,90.7 L410.9,94.5 L411.8,97.5 L412.7,98.8 L413.6,101.1 L414.5,102.2 L415.4,105.7 L416.3,115.8 L417.2,120.0 L418.1,117.5 L419.0,111.4 L419.9,104.6 L420.8,98.9 L421.7,92.8 L422.6,82.8 L423.5,74.0 L424.4,64.7 L425.3,55.3 L426.2,50.8 L427.1,52.6 L428.0,52.7 L428.9,52.8 L429.8,55.6 L430.7,58.0 L431.6,59.7 L432.5,60.2 L433.4,64.9 L434.3,69.0 L435.2,68.3 L436.1,69.1 L437.0,71.2 L437.9,72.9 L438.8,77.4 L439.7,80.6 L440.6,79.6 L441.5,84.7 L442.4,87.1 L443.3,88.3 L444.2,88.7 L445.1,89.9 L446.0,91.4 L446.9,87.5 L447.8,89.9 L448.7,93.0 L449.6,93.2 L450.5,91.1 L451.4,91.7 L452.3,91.8 L453.2,92.0 L454.1,93.9 L455.0,94.1 L455.9,95.0 L456.8,92.4 L457.7,91.5 L458.6,91.0 L459.5,91.7 L460.4,92.3 L461.3,90.4 L462.2,89.7 L463.1,88.9 L464.0,91.5 L464.9,91.2 L465.8,89.2 L466.7,87.7 L467.6,87.6 L468.5,88.3 L469.4,88.2 L470.3,88.3 L471.2,91.2 L472.1,91.1 L473.0,89.1 L473.9,90.9 L474.8,91.3 L475.7,92.5 L476.6,94.8 L477.5,92.9 L478.4,92.5 L479.3,90.5 L480.2,91.7 L481.1,92.8 L482.0,94.2 L482.9,94.7 L483.8,94.0 L484.7,92.5 L485.6,90.1 L486.5,89.8 L487.4,89.4 L488.3,88.4 L489.2,88.9 L490.1,86.6 L491.0,87.4 L491.9,85.8 L492.8,86.2 L493.7,87.1 L494.6,85.6 L495.5,85.1 L496.4,86.0 L497.3,85.3 L498.2,81.3 L499.1,79.6 M393.8,59.1 L394.7,58.5 L395.6,60.6 L396.5,59.6 L397.4,59.7 L398.3,62.0 L399.2,62.6 L400.1,64.1 L401.0,64.3 L401.9,64.2 L402.8,62.6 L403.7,63.2 L404.6,62.5 L405.5,62.2 L406.4,62.2 L407.3,64.9 L408.2,66.1 L409.1,66.6 L410.0,69.8 L410.9,72.5 L411.8,74.7 L412.7,75.4 L413.6,76.1 L414.5,81.5 L415.4,90.8 L416.3,108.5 L417.2,115.8 L418.1,109.3 L419.0,99.4 L419.9,90.2 L420.8,83.2 L421.7,72.2 L422.6,61.6 L423.5,52.4 L424.4,42.5 L425.3,35.9 L426.2,32.1 L427.1,31.8 L428.0,33.7 L428.9,36.1 L429.8,40.1 L430.7,40.6 L431.6,41.1 L432.5,43.1 L433.4,44.1 L434.3,44.3 L435.2,46.5 L436.1,49.6 L437.0,49.9 L437.9,52.4 L438.8,56.8 L439.7,56.2 L440.6,57.6 L441.5,62.3 L442.4,61.1 L443.3,61.4 L444.2,62.6 L445.1,65.0 L446.0,63.8 L446.9,64.0 L447.8,64.4 L448.7,67.6 L449.6,68.3 L450.5,68.6 L451.4,68.2 L452.3,69.1 L453.2,70.8 L454.1,70.1 L455.0,66.6 L455.9,67.4 L456.8,69.6 L457.7,70.4 L458.6,70.7 L459.5,70.9 L460.4,68.8 L461.3,69.6 L462.2,70.5 L463.1,71.2 L464.0,70.4 L464.9,71.0 L465.8,72.5 L466.7,72.2 L467.6,70.0 L468.5,71.3 L469.4,69.4 L470.3,70.1 L471.2,73.5 L472.1,71.4 L473.0,70.6 L473.9,74.0 L474.8,72.6 L475.7,71.7 L476.6,72.3 L477.5,73.0 L478.4,73.7 L479.3,76.0 L480.2,74.9 L481.1,71.1 L482.0,73.5 L482.9,73.1 L483.8,71.7 L484.7,72.0 L485.6,73.4 L486.5,71.4 L487.4,68.8 L488.3,69.4 L489.2,69.5 L490.1,67.4 L491.0,64.6 L491.9,65.4 L492.8,64.5 L493.7,62.0 L494.6,65.4 L495.5,67.2 L496.4,65.7 L497.3,64.2 L498.2,62.5 L499.1,62.3 M393.8,63.5 L394.7,62.8 L395.6,63.7 L396.5,64.3 L397.4,65.5 L398.3,67.9 L399.2,66.1 L400.1,64.0 L401.0,64.8 L401.9,65.9 L402.8,68.8 L403.7,70.5 L404.6,71.5 L405.5,69.2 L406.4,70.5 L407.3,73.2 L408.2,75.7 L409.1,76.3 L410.0,77.8 L410.9,78.4 L411.8,80.6 L412.7,82.4 L413.6,84.3 L414.5,87.1 L415.4,95.1 L416.3,109.8 L417.2,116.7 L418.1,111.0 L419.0,101.4 L419.9,91.2 L420.8,81.1 L421.7,71.0 L422.6,62.8 L423.5,54.6 L424.4,45.8 L425.3,38.2 L426.2,35.8 L427.1,35.6 L428.0,37.8 L428.9,38.8 L429.8,40.1 L430.7,45.8 L431.6,48.5 L432.5,47.0 L433.4,46.6 L434.3,50.5 L435.2,54.5 L436.1,57.1 L437.0,60.2 L437.9,61.9 L438.8,62.6 L439.7,65.7 L440.6,69.5 L441.5,67.9 L442.4,67.9 L443.3,71.7 L444.2,71.7 L445.1,71.0 L446.0,74.2 L446.9,74.3 L447.8,71.3 L448.7,73.2 L449.6,74.1 L450.5,71.7 L451.4,73.6 L452.3,75.5 L453.2,77.6 L454.1,78.7 L455.0,75.4 L455.9,74.7 L456.8,75.9 L457.7,75.9 L458.6,76.6 L459.5,75.2 L460.4,78.4 L461.3,78.7 L462.2,75.5 L463.1,75.3 L464.0,75.8 L464.9,76.0 L465.8,76.6 L466.7,75.5 L467.6,75.4 L468.5,77.0 L469.4,76.3 L470.3,74.7 L471.2,74.7 L472.1,76.4 L473.0,77.5 L473.9,75.9 L474.8,72.7 L475.7,71.5 L476.6,75.9 L477.5,78.7 L478.4,77.6 L479.3,73.2 L480.2,71.5 L481.1,71.8 L482.0,71.2 L482.9,72.5 L483.8,71.9 L484.7,70.4 L485.6,70.2 L486.5,67.4 L487.4,66.6 L488.3,69.7 L489.2,75.0 L490.1,72.6 L491.0,67.6 L491.9,68.2 L492.8,71.3 L493.7,72.8 L494.6,69.8 L495.5,68.2 L496.4,67.2 L497.3,67.0 L498.2,68.2 L499.1,67.5 M393.8,63.1 L394.7,62.8 L395.6,62.8 L396.5,64.2 L397.4,65.1 L398.3,65.1 L399.2,65.9 L400.1,65.0 L401.0,63.4 L401.9,63.4 L402.8,65.5 L403.7,65.1 L404.6,63.3 L405.5,64.4 L406.4,67.2 L407.3,67.2 L408.2,69.9 L409.1,71.1 L410.0,70.9 L410.9,72.2 L411.8,72.3 L412.7,75.1 L413.6,80.5 L414.5,85.7 L415.4,93.3 L416.3,108.7 L417.2,116.0 L418.1,110.3 L419.0,100.8 L419.9,91.1 L420.8,82.2 L421.7,72.7 L422.6,61.2 L423.5,50.9 L424.4,46.5 L425.3,39.8 L426.2,35.6 L427.1,37.0 L428.0,38.0 L428.9,39.8 L429.8,38.5 L430.7,41.5 L431.6,44.6 L432.5,46.4 L433.4,48.5 L434.3,48.9 L435.2,52.4 L436.1,56.5 L437.0,57.9 L437.9,56.9 L438.8,57.3 L439.7,59.2 L440.6,64.7 L441.5,68.5 L442.4,66.4 L443.3,66.1 L444.2,68.1 L445.1,67.5 L446.0,68.2 L446.9,67.9 L447.8,67.6 L448.7,69.1 L449.6,68.8 L450.5,70.5 L451.4,73.0 L452.3,71.7 L453.2,70.5 L454.1,69.0 L455.0,70.6 L455.9,71.5 L456.8,70.9 L457.7,70.1 L458.6,71.5 L459.5,71.3 L460.4,71.2 L461.3,70.3 L462.2,68.5 L463.1,70.2 L464.0,71.9 L464.9,71.7 L465.8,70.4 L466.7,68.9 L467.6,73.6 L468.5,75.1 L469.4,73.0 L470.3,71.0 L471.2,67.6 L472.1,70.0 L473.0,72.9 L473.9,71.7 L474.8,72.5 L475.7,73.0 L476.6,73.9 L477.5,72.8 L478.4,70.8 L479.3,69.9 L480.2,72.3 L481.1,73.1 L482.0,74.3 L482.9,75.1 L483.8,73.0 L484.7,71.5 L485.6,68.8 L486.5,69.6 L487.4,69.6 L488.3,68.0 L489.2,68.6 L490.1,66.8 L491.0,68.1 L491.9,68.0 L492.8,69.3 L493.7,68.8 L494.6,67.4 L495.5,68.2 L496.4,68.3 L497.3,65.3 L498.2,63.3 L499.1,64.0 M393.8,58.7 L394.7,59.7 L395.6,59.4 L396.5,58.3 L397.4,55.6 L398.3,57.7 L399.2,60.6 L400.1,60.9 L401.0,57.9 L401.9,58.0 L402.8,59.5 L403.7,59.6 L404.6,58.7 L405.5,58.5 L406.4,59.2 L407.3,56.1 L408.2,61.0 L409.1,63.5 L410.0,62.0 L410.9,67.6 L411.8,68.6 L412.7,71.8 L413.6,77.7 L414.5,84.1 L415.4,90.5 L416.3,107.1 L417.2,115.5 L418.1,109.4 L419.0,100.6 L419.9,92.3 L420.8,82.6 L421.7,69.5 L422.6,58.3 L423.5,50.3 L424.4,41.2 L425.3,32.5 L426.2,28.8 L427.1,29.2 L428.0,29.4 L428.9,29.0 L429.8,31.1 L430.7,33.1 L431.6,34.0 L432.5,35.9 L433.4,39.7 L434.3,43.0 L435.2,45.2 L436.1,44.7 L437.0,45.7 L437.9,47.7 L438.8,51.0 L439.7,53.0 L440.6,53.1 L441.5,55.6 L442.4,56.6 L443.3,55.6 L444.2,54.5 L445.1,56.3 L446.0,58.2 L446.9,58.6 L447.8,60.1 L448.7,61.6 L449.6,62.4 L450.5,65.2 L451.4,66.1 L452.3,64.4 L453.2,61.9 L454.1,61.3 L455.0,66.0 L455.9,66.9 L456.8,64.4 L457.7,64.5 L458.6,63.3 L459.5,64.2 L460.4,65.0 L461.3,66.5 L462.2,63.9 L463.1,61.2 L464.0,64.0 L464.9,65.8 L465.8,65.8 L466.7,62.2 L467.6,60.4 L468.5,64.0 L469.4,63.8 L470.3,62.3 L471.2,61.8 L472.1,63.4 L473.0,61.8 L473.9,62.5 L474.8,62.1 L475.7,60.2 L476.6,59.3 L477.5,60.6 L478.4,61.6 L479.3,59.1 L480.2,60.6 L481.1,64.7 L482.0,65.1 L482.9,65.0 L483.8,64.5 L484.7,62.1 L485.6,59.9 L486.5,60.9 L487.4,61.5 L488.3,63.2 L489.2,63.0 L490.1,64.8 L491.0,67.2 L491.9,65.2 L492.8,63.6 L493.7,63.4 L494.6,63.5 L495.5,63.9 L496.4,64.6 L497.3,64.9 L498.2,63.7 L499.1,62.3 M393.8,75.1 L394.7,75.8 L395.6,77.3 L396.5,76.6 L397.4,75.9 L398.3,80.9 L399.2,82.3 L400.1,80.4 L401.0,79.6 L401.9,78.3 L402.8,78.0 L403.7,78.5 L404.6,78.9 L405.5,81.6 L406.4,83.0 L407.3,82.7 L408.2,84.4 L409.1,84.2 L410.0,82.9 L410.9,86.1 L411.8,86.8 L412.7,89.2 L413.6,93.8 L414.5,100.0 L415.4,104.2 L416.3,114.3 L417.2,119.1 L418.1,115.1 L419.0,109.8 L419.9,100.4 L420.8,91.1 L421.7,85.1 L422.6,76.6 L423.5,66.7 L424.4,56.0 L425.3,44.8 L426.2,40.0 L427.1,42.9 L428.0,46.6 L428.9,49.3 L429.8,48.4 L430.7,51.4 L431.6,56.6 L432.5,55.5 L433.4,54.3 L434.3,57.1 L435.2,63.8 L436.1,66.3 L437.0,69.4 L437.9,71.2 L438.8,71.1 L439.7,71.3 L440.6,70.5 L441.5,73.5 L442.4,74.4 L443.3,73.1 L444.2,73.4 L445.1,75.2 L446.0,79.6 L446.9,78.0 L447.8,80.9 L448.7,83.4 L449.6,83.1 L450.5,82.1 L451.4,82.7 L452.3,85.8 L453.2,86.2 L454.1,85.6 L455.0,86.7 L455.9,87.3 L456.8,87.0 L457.7,88.0 L458.6,87.7 L459.5,85.5 L460.4,84.1 L461.3,87.0 L462.2,86.8 L463.1,83.9 L464.0,85.0 L464.9,86.2 L465.8,85.5 L466.7,82.6 L467.6,81.2 L468.5,82.2 L469.4,82.1 L470.3,82.0 L471.2,82.3 L472.1,82.8 L473.0,80.2 L473.9,79.7 L474.8,80.9 L475.7,79.5 L476.6,78.4 L477.5,81.0 L478.4,81.7 L479.3,82.4 L480.2,80.9 L481.1,80.9 L482.0,79.2 L482.9,80.8 L483.8,81.6 L484.7,80.1 L485.6,80.5 L486.5,81.1 L487.4,80.3 L488.3,79.3 L489.2,78.4 L490.1,76.3 L491.0,76.7 L491.9,74.6 L492.8,72.2 L493.7,74.3 L494.6,74.7 L495.5,75.7 L496.4,76.6 L497.3,78.1 L498.2,77.2 L499.1,74.0 M393.8,78.3 L394.7,77.9 L395.6,80.1 L396.5,81.1 L397.4,80.7 L398.3,80.5 L399.2,80.0 L400.1,80.3 L401.0,82.4 L401.9,83.3 L402.8,83.8 L403.7,82.5 L404.6,82.7 L405.5,85.0 L406.4,85.0 L407.3,84.4 L408.2,85.5 L409.1,88.6 L410.0,90.5 L410.9,93.6 L411.8,95.0 L412.7,95.8 L413.6,98.7 L414.5,102.1 L415.4,106.6 L416.3,115.5 L417.2,119.5 L418.1,115.5 L419.0,110.1 L419.9,104.2 L420.8,95.8 L421.7,87.0 L422.6,78.4 L423.5,70.0 L424.4,59.8 L425.3,52.1 L426.2,46.8 L427.1,46.0 L428.0,45.8 L428.9,46.3 L429.8,51.2 L430.7,56.3 L431.6,58.0 L432.5,61.6 L433.4,64.5 L434.3,65.7 L435.2,69.8 L436.1,70.8 L437.0,72.5 L437.9,76.9 L438.8,76.1 L439.7,78.8 L440.6,81.4 L441.5,79.4 L442.4,80.8 L443.3,83.9 L444.2,84.1 L445.1,84.7 L446.0,86.9 L446.9,85.2 L447.8,86.4 L448.7,89.7 L449.6,88.6 L450.5,87.1 L451.4,88.8 L452.3,87.9 L453.2,87.8 L454.1,88.7 L455.0,87.9 L455.9,86.2 L456.8,86.1 L457.7,89.2 L458.6,89.2 L459.5,86.7 L460.4,86.7 L461.3,86.3 L462.2,86.1 L463.1,87.3 L464.0,86.3 L464.9,84.6 L465.8,84.0 L466.7,88.2 L467.6,88.6 L468.5,85.7 L469.4,87.1 L470.3,87.7 L471.2,84.3 L472.1,87.7 L473.0,89.6 L473.9,87.4 L474.8,86.2 L475.7,85.4 L476.6,84.3 L477.5,86.7 L478.4,86.3 L479.3,88.4 L480.2,87.8 L481.1,86.2 L482.0,84.2 L482.9,84.3 L483.8,84.4 L484.7,84.3 L485.6,83.5 L486.5,84.1 L487.4,86.1 L488.3,82.9 L489.2,82.5 L490.1,85.4 L491.0,87.3 L491.9,86.9 L492.8,84.6 L493.7,82.9 L494.6,82.6 L495.5,81.8 L496.4,79.9 L497.3,77.8 L498.2,78.5 L499.1,79.2 M393.8,54.3 L394.7,55.2 L395.6,54.4 L396.5,52.8 L397.4,54.3 L398.3,57.6 L399.2,56.2 L400.1,56.9 L401.0,56.8 L401.9,52.6 L402.8,54.3 L403.7,56.4 L404.6,56.8 L405.5,57.4 L406.4,59.4 L407.3,62.7 L408.2,62.4 L409.1,62.4 L410.0,64.1 L410.9,67.9 L411.8,72.8 L412.7,78.1 L413.6,79.2 L414.5,83.2 L415.4,93.1 L416.3,108.8 L417.2,116.2 L418.1,109.8 L419.0,98.8 L419.9,90.0 L420.8,80.6 L421.7,70.5 L422.6,60.3 L423.5,50.4 L424.4,40.2 L425.3,32.9 L426.2,27.5 L427.1,25.4 L428.0,28.2 L428.9,29.5 L429.8,30.6 L430.7,35.1 L431.6,38.4 L432.5,38.4 L433.4,43.0 L434.3,46.2 L435.2,43.9 L436.1,45.2 L437.0,49.9 L437.9,49.6 L438.8,51.3 L439.7,56.1 L440.6,58.6 L441.5,59.0 L442.4,60.5 L443.3,60.2 L444.2,60.8 L445.1,61.5 L446.0,62.0 L446.9,61.8 L447.8,60.9 L448.7,62.8 L449.6,65.1 L450.5,64.4 L451.4,64.0 L452.3,64.0 L453.2,62.9 L454.1,62.0 L455.0,61.6 L455.9,65.0 L456.8,64.5 L457.7,62.9 L458.6,64.9 L459.5,63.6 L460.4,63.8 L461.3,64.3 L462.2,62.5 L463.1,64.5 L464.0,66.5 L464.9,68.1 L465.8,66.0 L466.7,66.0 L467.6,67.8 L468.5,66.4 L469.4,65.2 L470.3,65.2 L471.2,65.9 L472.1,63.1 L473.0,61.8 L473.9,62.1 L474.8,62.0 L475.7,60.0 L476.6,60.9 L477.5,61.5 L478.4,59.4 L479.3,63.3 L480.2,66.3 L481.1,61.7 L482.0,61.0 L482.9,60.0 L483.8,61.8 L484.7,63.3 L485.6,63.9 L486.5,63.8 L487.4,62.0 L488.3,62.6 L489.2,62.4 L490.1,63.2 L491.0,63.8 L491.9,63.2 L492.8,61.9 L493.7,62.8 L494.6,63.4 L495.5,63.5 L496.4,62.4 L497.3,60.0 L498.2,61.5 L499.1,60.4 M393.8,59.7 L394.7,59.3 L395.6,57.9 L396.5,56.1 L397.4,57.7 L398.3,58.7 L399.2,59.4 L400.1,58.9 L401.0,58.0 L401.9,59.8 L402.8,57.5 L403.7,57.8 L404.6,59.5 L405.5,60.4 L406.4,62.9 L407.3,64.2 L408.2,67.4 L409.1,69.3 L410.0,72.1 L410.9,73.6 L411.8,72.0 L412.7,75.9 L413.6,83.5 L414.5,85.8 L415.4,91.6 L416.3,108.9 L417.2,116.8 L418.1,112.0 L419.0,103.7 L419.9,93.8 L420.8,85.5 L421.7,75.4 L422.6,63.6 L423.5,54.6 L424.4,47.3 L425.3,37.9 L426.2,33.5 L427.1,36.3 L428.0,36.5 L428.9,36.5 L429.8,37.2 L430.7,41.7 L431.6,44.1 L432.5,43.6 L433.4,43.8 L434.3,47.2 L435.2,49.9 L436.1,51.2 L437.0,52.6 L437.9,55.4 L438.8,58.4 L439.7,58.1 L440.6,59.0 L441.5,62.5 L442.4,63.4 L443.3,65.9 L444.2,66.4 L445.1,66.7 L446.0,67.3 L446.9,69.6 L447.8,68.5 L448.7,69.3 L449.6,70.5 L450.5,71.9 L451.4,73.8 L452.3,72.8 L453.2,68.9 L454.1,68.4 L455.0,70.8 L455.9,72.2 L456.8,73.0 L457.7,71.8 L458.6,69.5 L459.5,69.9 L460.4,70.7 L461.3,68.4 L462.2,66.9 L463.1,68.1 L464.0,67.6 L464.9,65.7 L465.8,65.7 L466.7,68.4 L467.6,67.5 L468.5,68.5 L469.4,68.6 L470.3,66.8 L471.2,65.5 L472.1,67.4 L473.0,69.2 L473.9,68.2 L474.8,70.0 L475.7,72.5 L476.6,72.1 L477.5,71.3 L478.4,70.9 L479.3,71.3 L480.2,70.8 L481.1,68.5 L482.0,67.8 L482.9,68.7 L483.8,66.8 L484.7,69.2 L485.6,70.7 L486.5,65.8 L487.4,62.2 L488.3,64.8 L489.2,65.5 L490.1,62.3 L491.0,61.9 L491.9,64.5 L492.8,67.7 L493.7,68.4 L494.6,65.8 L495.5,64.4 L496.4,64.7 L497.3,68.6 L498.2,68.6 L499.1,64.9 M393.8,78.3 L394.7,81.8 L395.6,82.0 L396.5,80.3 L397.4,80.1 L398.3,77.7 L399.2,77.0 L400.1,79.2 L401.0,81.4 L401.9,81.4 L402.8,80.3 L403.7,78.8 L404.6,81.1 L405.5,82.6 L406.4,83.3 L407.3,83.9 L408.2,85.5 L409.1,87.6 L410.0,86.5 L410.9,88.7 L411.8,90.7 L412.7,93.8 L413.6,95.6 L414.5,97.9 L415.4,105.6 L416.3,116.0 L417.2,119.2 L418.1,113.9 L419.0,106.4 L419.9,97.4 L420.8,88.5 L421.7,83.7 L422.6,74.0 L423.5,66.0 L424.4,57.7 L425.3,47.9 L426.2,43.5 L427.1,46.1 L428.0,47.7 L428.9,44.8 L429.8,47.8 L430.7,54.1 L431.6,56.2 L432.5,56.9 L433.4,58.5 L434.3,62.0 L435.2,66.8 L436.1,71.1 L437.0,71.4 L437.9,71.6 L438.8,74.0 L439.7,75.5 L440.6,78.0 L441.5,79.2 L442.4,82.1 L443.3,82.2 L444.2,80.4 L445.1,82.5 L446.0,83.9 L446.9,82.7 L447.8,80.9 L448.7,83.0 L449.6,86.1 L450.5,82.4 L451.4,82.5 L452.3,84.8 L453.2,87.0 L454.1,88.3 L455.0,87.8 L455.9,86.4 L456.8,88.0 L457.7,89.2 L458.6,91.3 L459.5,91.3 L460.4,88.4 L461.3,86.5 L462.2,87.4 L463.1,88.0 L464.0,88.5 L464.9,88.5 L465.8,87.8 L466.7,88.4 L467.6,89.0 L468.5,86.0 L469.4,86.2 L470.3,86.0 L471.2,86.7 L472.1,88.8 L473.0,86.4 L473.9,85.3 L474.8,86.4 L475.7,89.5 L476.6,88.8 L477.5,90.0 L478.4,88.9 L479.3,88.7 L480.2,88.9 L481.1,87.3 L482.0,89.8 L482.9,90.3 L483.8,88.0 L484.7,86.8 L485.6,86.2 L486.5,84.9 L487.4,84.8 L488.3,85.7 L489.2,85.7 L490.1,85.5 L491.0,85.6 L491.9,86.2 L492.8,84.0 L493.7,83.4 L494.6,83.9 L495.5,83.2 L496.4,83.8 L497.3,85.2 L498.2,83.2 L499.1,80.6 M393.8,67.0 L394.7,65.8 L395.6,66.8 L396.5,67.3 L397.4,67.6 L398.3,69.3 L399.2,69.6 L400.1,67.3 L401.0,68.7 L401.9,69.0 L402.8,64.9 L403.7,67.2 L404.6,69.2 L405.5,69.4 L406.4,68.4 L407.3,71.4 L408.2,74.9 L409.1,74.7 L410.0,74.6 L410.9,78.6 L411.8,79.6 L412.7,83.4 L413.6,87.2 L414.5,88.9 L415.4,98.8 L416.3,114.2 L417.2,118.9 L418.1,114.2 L419.0,105.7 L419.9,97.1 L420.8,88.5 L421.7,80.7 L422.6,69.0 L423.5,58.1 L424.4,51.5 L425.3,44.2 L426.2,38.9 L427.1,39.7 L428.0,40.2 L428.9,42.8 L429.8,44.8 L430.7,47.0 L431.6,50.3 L432.5,50.6 L433.4,53.6 L434.3,57.4 L435.2,60.3 L436.1,62.0 L437.0,62.1 L437.9,64.6 L438.8,66.2 L439.7,68.7 L440.6,70.9 L441.5,69.9 L442.4,69.6 L443.3,71.0 L444.2,70.8 L445.1,72.7 L446.0,73.7 L446.9,76.6 L447.8,75.9 L448.7,74.7 L449.6,79.5 L450.5,77.6 L451.4,76.2 L452.3,79.4 L453.2,79.7 L454.1,80.3 L455.0,81.2 L455.9,82.7 L456.8,81.2 L457.7,79.9 L458.6,82.3 L459.5,83.3 L460.4,81.1 L461.3,80.5 L462.2,81.4 L463.1,82.6 L464.0,84.9 L464.9,81.3 L465.8,79.1 L466.7,80.3 L467.6,79.5 L468.5,79.3 L469.4,79.1 L470.3,79.6 L471.2,79.3 L472.1,78.6 L473.0,78.9 L473.9,78.2 L474.8,78.3 L475.7,78.4 L476.6,80.1 L477.5,78.3 L478.4,78.2 L479.3,77.3 L480.2,78.8 L481.1,82.2 L482.0,80.6 L482.9,80.6 L483.8,83.3 L484.7,82.5 L485.6,80.5 L486.5,78.7 L487.4,76.1 L488.3,75.9 L489.2,77.8 L490.1,77.1 L491.0,78.5 L491.9,78.0 L492.8,75.6 L493.7,77.4 L494.6,76.3 L495.5,72.8 L496.4,72.9 L497.3,71.5 L498.2,69.0 L499.1,69.8 M393.8,69.9 L394.7,68.7 L395.6,70.5 L396.5,70.5 L397.4,68.8 L398.3,70.0 L399.2,70.3 L400.1,70.4 L401.0,73.5 L401.9,72.5 L402.8,74.2 L403.7,76.3 L404.6,75.0 L405.5,70.4 L406.4,72.2 L407.3,74.1 L408.2,73.5 L409.1,75.1 L410.0,79.0 L410.9,80.7 L411.8,80.8 L412.7,82.0 L413.6,84.1 L414.5,88.7 L415.4,96.1 L416.3,109.9 L417.2,116.1 L418.1,109.3 L419.0,100.8 L419.9,92.5 L420.8,82.5 L421.7,72.0 L422.6,62.1 L423.5,54.1 L424.4,46.1 L425.3,36.4 L426.2,33.8 L427.1,38.5 L428.0,38.0 L428.9,38.2 L429.8,41.4 L430.7,43.7 L431.6,46.0 L432.5,48.5 L433.4,49.7 L434.3,51.9 L435.2,53.4 L436.1,51.8 L437.0,55.9 L437.9,60.3 L438.8,60.2 L439.7,63.4 L440.6,66.7 L441.5,67.1 L442.4,68.6 L443.3,70.1 L444.2,71.8 L445.1,75.0 L446.0,73.3 L446.9,71.7 L447.8,75.2 L448.7,73.3 L449.6,72.4 L450.5,73.7 L451.4,75.8 L452.3,75.4 L453.2,75.7 L454.1,77.6 L455.0,77.8 L455.9,76.5 L456.8,76.9 L457.7,76.1 L458.6,77.8 L459.5,77.8 L460.4,76.6 L461.3,80.6 L462.2,80.0 L463.1,79.3 L464.0,81.7 L464.9,81.5 L465.8,78.9 L466.7,78.3 L467.6,81.1 L468.5,81.1 L469.4,78.1 L470.3,79.8 L471.2,80.3 L472.1,78.8 L473.0,79.9 L473.9,78.7 L474.8,79.7 L475.7,78.9 L476.6,75.3 L477.5,78.9 L478.4,76.8 L479.3,73.2 L480.2,74.9 L481.1,74.7 L482.0,74.9 L482.9,75.6 L483.8,74.6 L484.7,76.0 L485.6,76.0 L486.5,76.5 L487.4,75.8 L488.3,74.0 L489.2,74.3 L490.1,71.8 L491.0,72.8 L491.9,73.5 L492.8,72.6 L493.7,73.9 L494.6,72.7 L495.5,72.7 L496.4,73.0 L497.3,73.5 L498.2,72.7 L499.1,71.4 M393.8,75.3 L394.7,74.7 L395.6,73.4 L396.5,74.2 L397.4,78.0 L398.3,78.1 L399.2,73.0 L400.1,68.8 L401.0,72.1 L401.9,76.2 L402.8,75.0 L403.7,76.5 L404.6,77.4 L405.5,76.3 L406.4,75.8 L407.3,77.1 L408.2,79.3 L409.1,81.1 L410.0,80.9 L410.9,82.1 L411.8,87.4 L412.7,91.8 L413.6,96.1 L414.5,101.4 L415.4,107.4 L416.3,115.0 L417.2,119.2 L418.1,115.6 L419.0,107.0 L419.9,99.2 L420.8,93.2 L421.7,82.9 L422.6,75.1 L423.5,67.6 L424.4,57.1 L425.3,46.3 L426.2,40.4 L427.1,41.0 L428.0,42.0 L428.9,44.2 L429.8,46.8 L430.7,49.0 L431.6,49.9 L432.5,54.0 L433.4,60.6 L434.3,63.4 L435.2,65.7 L436.1,70.1 L437.0,73.0 L437.9,72.3 L438.8,71.9 L439.7,75.0 L440.6,76.6 L441.5,77.0 L442.4,77.0 L443.3,78.3 L444.2,79.8 L445.1,79.2 L446.0,79.2 L446.9,80.3 L447.8,82.0 L448.7,81.6 L449.6,80.4 L450.5,78.3 L451.4,80.6 L452.3,83.3 L453.2,82.5 L454.1,83.3 L455.0,86.7 L455.9,84.5 L456.8,81.9 L457.7,84.2 L458.6,84.7 L459.5,85.0 L460.4,82.8 L461.3,82.4 L462.2,86.9 L463.1,85.1 L464.0,83.2 L464.9,84.0 L465.8,83.3 L466.7,85.3 L467.6,83.2 L468.5,82.5 L469.4,84.8 L470.3,86.2 L471.2,87.5 L472.1,86.5 L473.0,85.1 L473.9,84.3 L474.8,81.5 L475.7,82.8 L476.6,83.6 L477.5,81.6 L478.4,82.2 L479.3,83.4 L480.2,84.8 L481.1,85.2 L482.0,84.6 L482.9,83.7 L483.8,81.8 L484.7,81.9 L485.6,80.6 L486.5,78.9 L487.4,80.3 L488.3,81.1 L489.2,79.7 L490.1,78.6 L491.0,80.9 L491.9,82.7 L492.8,81.8 L493.7,80.0 L494.6,79.0 L495.5,77.2 L496.4,74.9 L497.3,78.1 L498.2,79.4 L499.1,77.9 M393.8,59.1 L394.7,59.1 L395.6,59.8 L396.5,60.7 L397.4,65.3 L398.3,64.7 L399.2,63.4 L400.1,62.1 L401.0,60.2 L401.9,58.3 L402.8,60.0 L403.7,62.5 L404.6,63.6 L405.5,67.1 L406.4,66.9 L407.3,65.2 L408.2,66.4 L409.1,67.5 L410.0,69.0 L410.9,72.4 L411.8,75.4 L412.7,77.7 L413.6,79.6 L414.5,85.3 L415.4,95.2 L416.3,108.8 L417.2,115.3 L418.1,108.9 L419.0,98.3 L419.9,88.8 L420.8,79.0 L421.7,67.6 L422.6,58.8 L423.5,50.6 L424.4,39.4 L425.3,31.0 L426.2,26.5 L427.1,29.8 L428.0,30.6 L428.9,31.2 L429.8,35.3 L430.7,36.9 L431.6,38.2 L432.5,38.7 L433.4,41.0 L434.3,46.1 L435.2,49.6 L436.1,49.9 L437.0,50.8 L437.9,53.2 L438.8,55.8 L439.7,57.5 L440.6,57.6 L441.5,60.4 L442.4,61.6 L443.3,61.7 L444.2,63.0 L445.1,64.5 L446.0,65.6 L446.9,63.0 L447.8,63.9 L448.7,63.4 L449.6,62.9 L450.5,66.6 L451.4,67.9 L452.3,66.8 L453.2,70.4 L454.1,73.1 L455.0,73.8 L455.9,70.0 L456.8,70.1 L457.7,73.7 L458.6,74.0 L459.5,73.6 L460.4,72.0 L461.3,72.8 L462.2,72.5 L463.1,71.3 L464.0,71.3 L464.9,71.7 L465.8,72.0 L466.7,70.9 L467.6,68.6 L468.5,67.7 L469.4,69.5 L470.3,69.8 L471.2,66.3 L472.1,67.0 L473.0,67.7 L473.9,69.0 L474.8,68.0 L475.7,66.3 L476.6,67.4 L477.5,67.2 L478.4,67.8 L479.3,68.6 L480.2,70.9 L481.1,72.4 L482.0,69.9 L482.9,68.2 L483.8,69.2 L484.7,69.4 L485.6,68.2 L486.5,68.5 L487.4,68.6 L488.3,67.9 L489.2,68.0 L490.1,67.6 L491.0,63.8 L491.9,63.3 L492.8,63.1 L493.7,64.3 L494.6,65.0 L495.5,64.0 L496.4,64.6 L497.3,63.8 L498.2,65.3 L499.1,63.5 M393.8,68.0 L394.7,66.9 L395.6,63.6 L396.5,65.7 L397.4,67.5 L398.3,67.3 L399.2,67.3 L400.1,67.5 L401.0,67.3 L401.9,67.2 L402.8,67.2 L403.7,67.9 L404.6,68.7 L405.5,67.9 L406.4,69.1 L407.3,70.5 L408.2,69.1 L409.1,71.3 L410.0,75.2 L410.9,79.4 L411.8,82.1 L412.7,82.4 L413.6,84.8 L414.5,87.8 L415.4,95.8 L416.3,110.9 L417.2,117.1 L418.1,111.3 L419.0,102.8 L419.9,93.1 L420.8,82.5 L421.7,73.9 L422.6,62.3 L423.5,51.6 L424.4,44.2 L425.3,33.5 L426.2,29.4 L427.1,30.9 L428.0,33.3 L428.9,31.2 L429.8,31.3 L430.7,37.2 L431.6,40.9 L432.5,44.0 L433.4,44.8 L434.3,45.4 L435.2,49.9 L436.1,50.9 L437.0,52.3 L437.9,56.3 L438.8,57.1 L439.7,57.5 L440.6,59.5 L441.5,59.5 L442.4,63.0 L443.3,64.6 L444.2,63.8 L445.1,63.0 L446.0,63.4 L446.9,66.2 L447.8,68.4 L448.7,66.0 L449.6,65.9 L450.5,69.1 L451.4,71.3 L452.3,69.5 L453.2,68.7 L454.1,67.8 L455.0,67.1 L455.9,68.6 L456.8,71.7 L457.7,70.1 L458.6,69.8 L459.5,71.7 L460.4,71.7 L461.3,70.1 L462.2,72.2 L463.1,71.4 L464.0,69.2 L464.9,67.7 L465.8,68.8 L466.7,69.0 L467.6,67.3 L468.5,68.3 L469.4,70.0 L470.3,69.1 L471.2,69.7 L472.1,69.0 L473.0,70.4 L473.9,73.9 L474.8,73.4 L475.7,73.7 L476.6,74.9 L477.5,74.6 L478.4,72.7 L479.3,74.4 L480.2,74.1 L481.1,69.9 L482.0,71.0 L482.9,72.5 L483.8,70.5 L484.7,69.0 L485.6,69.2 L486.5,65.8 L487.4,66.9 L488.3,69.0 L489.2,66.7 L490.1,69.0 L491.0,68.7 L491.9,66.7 L492.8,65.8 L493.7,63.9 L494.6,63.9 L495.5,65.8 L496.4,66.3 L497.3,65.1 L498.2,64.8 L499.1,64.1 M393.8,74.2 L394.7,74.1 L395.6,74.9 L396.5,75.7 L397.4,76.2 L398.3,79.9 L399.2,82.6 L400.1,81.2 L401.0,79.2 L401.9,78.9 L402.8,80.1 L403.7,80.6 L404.6,78.3 L405.5,79.1 L406.4,81.1 L407.3,79.0 L408.2,81.5 L409.1,85.4 L410.0,85.7 L410.9,87.6 L411.8,91.3 L412.7,93.6 L413.6,97.2 L414.5,101.3 L415.4,105.4 L416.3,114.6 L417.2,119.2 L418.1,115.5 L419.0,110.0 L419.9,103.8 L420.8,94.0 L421.7,87.0 L422.6,78.7 L423.5,70.3 L424.4,60.5 L425.3,48.6 L426.2,46.8 L427.1,47.0 L428.0,49.2 L428.9,50.9 L429.8,52.1 L430.7,53.6 L431.6,57.1 L432.5,58.4 L433.4,61.1 L434.3,64.0 L435.2,61.8 L436.1,66.6 L437.0,72.0 L437.9,74.6 L438.8,74.3 L439.7,75.2 L440.6,78.2 L441.5,76.8 L442.4,75.6 L443.3,79.0 L444.2,81.3 L445.1,82.0 L446.0,83.1 L446.9,82.3 L447.8,83.5 L448.7,83.3 L449.6,82.7 L450.5,82.1 L451.4,82.8 L452.3,83.8 L453.2,84.9 L454.1,85.0 L455.0,85.3 L455.9,87.3 L456.8,87.2 L457.7,87.6 L458.6,87.1 L459.5,85.4 L460.4,87.0 L461.3,90.2 L462.2,89.5 L463.1,88.2 L464.0,88.3 L464.9,88.5 L465.8,86.1 L466.7,85.8 L467.6,85.6 L468.5,86.3 L469.4,89.8 L470.3,90.8 L471.2,88.3 L472.1,88.4 L473.0,89.0 L473.9,88.3 L474.8,88.4 L475.7,87.0 L476.6,86.0 L477.5,87.9 L478.4,91.2 L479.3,90.7 L480.2,86.7 L481.1,89.4 L482.0,90.8 L482.9,87.6 L483.8,86.1 L484.7,88.0 L485.6,89.0 L486.5,89.8 L487.4,89.9 L488.3,89.1 L489.2,85.9 L490.1,84.8 L491.0,84.5 L491.9,82.1 L492.8,80.7 L493.7,82.0 L494.6,80.7 L495.5,80.6 L496.4,81.1 L497.3,79.5 L498.2,79.3 L499.1,78.8 M393.8,64.2 L394.7,64.8 L395.6,65.4 L396.5,63.9 L397.4,64.2 L398.3,66.3 L399.2,65.6 L400.1,62.4 L401.0,61.0 L401.9,61.9 L402.8,63.3 L403.7,63.0 L404.6,59.3 L405.5,61.7 L406.4,62.8 L407.3,62.2 L408.2,64.1 L409.1,66.4 L410.0,68.6 L410.9,72.9 L411.8,75.0 L412.7,77.6 L413.6,82.8 L414.5,87.6 L415.4,93.4 L416.3,108.8 L417.2,116.0 L418.1,109.7 L419.0,99.7 L419.9,93.1 L420.8,83.9 L421.7,74.0 L422.6,65.4 L423.5,55.0 L424.4,45.1 L425.3,38.6 L426.2,33.4 L427.1,34.5 L428.0,37.9 L428.9,40.4 L429.8,39.6 L430.7,39.2 L431.6,41.3 L432.5,47.4 L433.4,50.9 L434.3,53.6 L435.2,53.9 L436.1,56.0 L437.0,56.0 L437.9,57.7 L438.8,59.6 L439.7,60.9 L440.6,62.3 L441.5,65.4 L442.4,65.0 L443.3,64.8 L444.2,66.0 L445.1,67.4 L446.0,67.3 L446.9,65.9 L447.8,64.9 L448.7,68.1 L449.6,67.5 L450.5,65.1 L451.4,64.9 L452.3,67.2 L453.2,68.1 L454.1,66.9 L455.0,68.3 L455.9,71.9 L456.8,72.8 L457.7,73.7 L458.6,72.9 L459.5,72.2 L460.4,73.8 L461.3,74.6 L462.2,75.3 L463.1,75.5 L464.0,72.3 L464.9,73.7 L465.8,76.7 L466.7,74.5 L467.6,75.1 L468.5,74.3 L469.4,74.7 L470.3,79.5 L471.2,79.4 L472.1,78.7 L473.0,75.6 L473.9,73.7 L474.8,76.1 L475.7,74.4 L476.6,71.5 L477.5,70.7 L478.4,72.1 L479.3,72.2 L480.2,72.8 L481.1,69.8 L482.0,65.5 L482.9,65.3 L483.8,67.5 L484.7,67.5 L485.6,64.4 L486.5,65.5 L487.4,65.5 L488.3,64.5 L489.2,65.9 L490.1,65.1 L491.0,65.1 L491.9,65.0 L492.8,65.4 L493.7,64.0 L494.6,63.3 L495.5,64.1 L496.4,63.6 L497.3,63.0 L498.2,63.6 L499.1,65.1 M393.8,70.9 L394.7,71.7 L395.6,74.7 L396.5,72.4 L397.4,71.0 L398.3,73.9 L399.2,74.9 L400.1,75.3 L401.0,77.8 L401.9,76.4 L402.8,75.1 L403.7,77.8 L404.6,78.7 L405.5,75.8 L406.4,76.8 L407.3,80.1 L408.2,79.2 L409.1,81.7 L410.0,81.6 L410.9,83.0 L411.8,87.6 L412.7,89.4 L413.6,92.9 L414.5,95.6 L415.4,101.3 L416.3,114.1 L417.2,120.0 L418.1,115.7 L419.0,107.0 L419.9,99.2 L420.8,88.7 L421.7,79.8 L422.6,69.1 L423.5,60.8 L424.4,52.0 L425.3,41.7 L426.2,39.3 L427.1,40.8 L428.0,41.0 L428.9,40.9 L429.8,44.3 L430.7,48.0 L431.6,50.2 L432.5,54.3 L433.4,58.5 L434.3,59.5 L435.2,60.2 L436.1,62.6 L437.0,64.9 L437.9,68.5 L438.8,70.8 L439.7,71.5 L440.6,73.3 L441.5,75.4 L442.4,77.3 L443.3,77.2 L444.2,76.2 L445.1,78.4 L446.0,77.6 L446.9,78.6 L447.8,81.5 L448.7,81.9 L449.6,81.6 L450.5,80.8 L451.4,82.2 L452.3,80.5 L453.2,79.8 L454.1,82.6 L455.0,82.3 L455.9,81.5 L456.8,82.8 L457.7,82.7 L458.6,82.5 L459.5,85.2 L460.4,85.3 L461.3,84.3 L462.2,84.7 L463.1,88.2 L464.0,87.6 L464.9,84.4 L465.8,83.6 L466.7,83.9 L467.6,84.3 L468.5,84.9 L469.4,83.9 L470.3,82.5 L471.2,83.2 L472.1,87.2 L473.0,85.8 L473.9,81.5 L474.8,81.3 L475.7,80.0 L476.6,79.6 L477.5,80.9 L478.4,80.0 L479.3,81.6 L480.2,81.4 L481.1,80.1 L482.0,80.0 L482.9,82.1 L483.8,80.9 L484.7,79.7 L485.6,79.9 L486.5,77.5 L487.4,80.0 L488.3,79.6 L489.2,78.6 L490.1,77.2 L491.0,74.4 L491.9,74.7 L492.8,75.4 L493.7,76.1 L494.6,75.9 L495.5,74.0 L496.4,73.6 L497.3,74.2 L498.2,72.0 L499.1,73.4 M393.8,79.5 L394.7,79.6 L395.6,78.6 L396.5,78.8 L397.4,80.9 L398.3,82.8 L399.2,82.9 L400.1,85.4 L401.0,86.8 L401.9,83.4 L402.8,80.7 L403.7,79.9 L404.6,82.9 L405.5,86.9 L406.4,86.5 L407.3,86.6 L408.2,87.0 L409.1,87.3 L410.0,90.6 L410.9,94.1 L411.8,96.1 L412.7,96.2 L413.6,97.7 L414.5,102.0 L415.4,109.0 L416.3,117.0 L417.2,120.5 L418.1,116.5 L419.0,110.6 L419.9,104.7 L420.8,96.8 L421.7,91.1 L422.6,83.2 L423.5,72.6 L424.4,64.6 L425.3,55.3 L426.2,52.0 L427.1,51.9 L428.0,53.2 L428.9,53.8 L429.8,55.8 L430.7,58.5 L431.6,61.1 L432.5,62.7 L433.4,63.9 L434.3,68.7 L435.2,71.9 L436.1,72.6 L437.0,72.2 L437.9,72.9 L438.8,77.0 L439.7,80.1 L440.6,80.3 L441.5,81.1 L442.4,84.6 L443.3,86.0 L444.2,87.2 L445.1,87.5 L446.0,88.6 L446.9,88.4 L447.8,86.7 L448.7,85.4 L449.6,90.2 L450.5,92.2 L451.4,90.4 L452.3,90.0 L453.2,92.4 L454.1,92.5 L455.0,89.8 L455.9,88.8 L456.8,88.6 L457.7,87.6 L458.6,84.9 L459.5,85.2 L460.4,87.2 L461.3,89.1 L462.2,90.1 L463.1,86.5 L464.0,87.0 L464.9,91.7 L465.8,90.5 L466.7,86.9 L467.6,88.5 L468.5,89.3 L469.4,88.9 L470.3,89.3 L471.2,89.3 L472.1,92.1 L473.0,91.8 L473.9,90.4 L474.8,90.8 L475.7,91.9 L476.6,91.4 L477.5,88.9 L478.4,90.2 L479.3,93.2 L480.2,91.1 L481.1,92.3 L482.0,94.6 L482.9,92.2 L483.8,90.7 L484.7,91.1 L485.6,89.4 L486.5,88.5 L487.4,86.7 L488.3,83.9 L489.2,84.8 L490.1,86.9 L491.0,85.8 L491.9,83.0 L492.8,82.8 L493.7,81.3 L494.6,78.8 L495.5,81.5 L496.4,83.0 L497.3,80.6 L498.2,79.5 L499.1,79.6 M393.8,66.1 L394.7,69.3 L395.6,70.9 L396.5,67.1 L397.4,64.4 L398.3,66.0 L399.2,67.2 L400.1,66.6 L401.0,64.7 L401.9,65.7 L402.8,68.2 L403.7,66.7 L404.6,66.4 L405.5,70.7 L406.4,74.6 L407.3,72.7 L408.2,71.9 L409.1,75.2 L410.0,77.1 L410.9,77.1 L411.8,80.1 L412.7,83.8 L413.6,85.6 L414.5,90.0 L415.4,94.9 L416.3,109.2 L417.2,116.7 L418.1,110.2 L419.0,99.5 L419.9,91.3 L420.8,81.9 L421.7,69.7 L422.6,58.9 L423.5,49.4 L424.4,41.5 L425.3,35.6 L426.2,32.3 L427.1,32.2 L428.0,36.1 L428.9,36.1 L429.8,36.8 L430.7,42.2 L431.6,43.4 L432.5,42.1 L433.4,46.6 L434.3,50.5 L435.2,53.1 L436.1,56.1 L437.0,55.6 L437.9,57.3 L438.8,61.5 L439.7,65.2 L440.6,68.1 L441.5,68.9 L442.4,72.2 L443.3,73.4 L444.2,72.1 L445.1,71.8 L446.0,72.9 L446.9,73.0 L447.8,71.1 L448.7,72.4 L449.6,73.4 L450.5,71.0 L451.4,70.8 L452.3,70.7 L453.2,72.5 L454.1,73.1 L455.0,73.9 L455.9,75.2 L456.8,75.7 L457.7,78.8 L458.6,77.7 L459.5,74.9 L460.4,75.5 L461.3,76.0 L462.2,75.2 L463.1,75.3 L464.0,74.7 L464.9,74.9 L465.8,74.7 L466.7,73.7 L467.6,72.3 L468.5,73.2 L469.4,74.1 L470.3,77.4 L471.2,77.4 L472.1,76.5 L473.0,75.7 L473.9,75.2 L474.8,72.9 L475.7,73.6 L476.6,76.3 L477.5,77.5 L478.4,75.4 L479.3,77.5 L480.2,76.4 L481.1,74.7 L482.0,73.9 L482.9,73.2 L483.8,73.3 L484.7,73.9 L485.6,74.0 L486.5,71.8 L487.4,72.6 L488.3,72.7 L489.2,70.1 L490.1,69.4 L491.0,68.7 L491.9,71.3 L492.8,69.5 L493.7,67.6 L494.6,69.3 L495.5,67.3 L496.4,66.3 L497.3,67.1 L498.2,67.6 L499.1,68.7 M393.8,60.8 L394.7,60.1 L395.6,58.4 L396.5,58.4 L397.4,58.6 L398.3,58.9 L399.2,59.7 L400.1,60.6 L401.0,63.7 L401.9,63.5 L402.8,62.4 L403.7,65.8 L404.6,65.3 L405.5,64.6 L406.4,66.4 L407.3,66.8 L408.2,66.7 L409.1,66.7 L410.0,71.3 L410.9,75.6 L411.8,77.3 L412.7,80.5 L413.6,82.8 L414.5,86.7 L415.4,94.9 L416.3,109.1 L417.2,116.0 L418.1,109.3 L419.0,99.0 L419.9,89.1 L420.8,77.8 L421.7,66.7 L422.6,55.9 L423.5,47.3 L424.4,41.7 L425.3,34.5 L426.2,29.4 L427.1,28.9 L428.0,29.4 L428.9,32.6 L429.8,35.9 L430.7,36.7 L431.6,40.3 L432.5,43.1 L433.4,45.6 L434.3,47.1 L435.2,47.9 L436.1,48.9 L437.0,49.4 L437.9,52.2 L438.8,55.6 L439.7,56.3 L440.6,57.8 L441.5,60.7 L442.4,61.4 L443.3,62.5 L444.2,62.9 L445.1,61.7 L446.0,63.8 L446.9,62.5 L447.8,61.3 L448.7,61.6 L449.6,62.2 L450.5,59.4 L451.4,58.6 L452.3,60.6 L453.2,62.2 L454.1,64.6 L455.0,61.4 L455.9,58.8 L456.8,64.0 L457.7,66.7 L458.6,65.9 L459.5,63.1 L460.4,63.1 L461.3,65.7 L462.2,66.5 L463.1,66.3 L464.0,68.3 L464.9,67.0 L465.8,65.5 L466.7,67.4 L467.6,69.0 L468.5,70.1 L469.4,69.4 L470.3,69.1 L471.2,69.0 L472.1,69.0 L473.0,68.9 L473.9,69.7 L474.8,70.2 L475.7,69.7 L476.6,71.1 L477.5,69.6 L478.4,68.5 L479.3,67.2 L480.2,64.8 L481.1,65.8 L482.0,66.7 L482.9,66.8 L483.8,66.0 L484.7,63.3 L485.6,62.7 L486.5,64.3 L487.4,64.4 L488.3,64.9 L489.2,64.8 L490.1,64.5 L491.0,65.5 L491.9,66.1 L492.8,65.9 L493.7,65.4 L494.6,64.8 L495.5,63.2 L496.4,61.9 L497.3,63.1 L498.2,64.1 L499.1,64.7 M393.8,78.1 L394.7,80.0 L395.6,80.2 L396.5,80.4 L397.4,83.3 L398.3,83.5 L399.2,82.3 L400.1,84.9 L401.0,85.7 L401.9,82.2 L402.8,79.4 L403.7,81.1 L404.6,81.6 L405.5,78.0 L406.4,76.1 L407.3,77.6 L408.2,81.6 L409.1,82.1 L410.0,82.8 L410.9,86.3 L411.8,85.3 L412.7,85.9 L413.6,89.1 L414.5,93.0 L415.4,102.8 L416.3,114.2 L417.2,118.2 L418.1,113.5 L419.0,107.0 L419.9,99.4 L420.8,92.6 L421.7,83.5 L422.6,71.8 L423.5,62.2 L424.4,56.2 L425.3,50.2 L426.2,43.5 L427.1,41.2 L428.0,43.8 L428.9,50.3 L429.8,54.4 L430.7,55.8 L431.6,58.9 L432.5,61.4 L433.4,61.1 L434.3,61.3 L435.2,61.8 L436.1,62.5 L437.0,67.4 L437.9,68.7 L438.8,69.7 L439.7,71.5 L440.6,67.4 L441.5,70.8 L442.4,75.4 L443.3,75.7 L444.2,75.2 L445.1,76.5 L446.0,79.1 L446.9,79.3 L447.8,77.8 L448.7,81.7 L449.6,85.5 L450.5,84.1 L451.4,82.5 L452.3,83.3 L453.2,84.0 L454.1,83.7 L455.0,83.9 L455.9,83.7 L456.8,83.9 L457.7,84.4 L458.6,85.0 L459.5,88.5 L460.4,90.1 L461.3,88.0 L462.2,85.3 L463.1,87.6 L464.0,87.2 L464.9,88.1 L465.8,86.2 L466.7,85.2 L467.6,86.7 L468.5,85.8 L469.4,87.0 L470.3,87.6 L471.2,83.9 L472.1,85.8 L473.0,86.0 L473.9,85.4 L474.8,86.2 L475.7,84.1 L476.6,82.2 L477.5,81.8 L478.4,82.3 L479.3,84.4 L480.2,81.8 L481.1,82.3 L482.0,82.0 L482.9,81.7 L483.8,80.9 L484.7,79.5 L485.6,80.0 L486.5,78.6 L487.4,78.3 L488.3,78.9 L489.2,78.7 L490.1,74.9 L491.0,75.9 L491.9,79.2 L492.8,79.1 L493.7,79.3 L494.6,78.4 L495.5,76.4 L496.4,78.5 L497.3,80.4 L498.2,79.5 L499.1,80.2 M393.8,68.2 L394.7,69.0 L395.6,69.9 L396.5,69.2 L397.4,70.7 L398.3,69.7 L399.2,67.8 L400.1,71.6 L401.0,74.6 L401.9,72.8 L402.8,73.0 L403.7,73.8 L404.6,74.9 L405.5,76.3 L406.4,77.5 L407.3,79.7 L408.2,78.7 L409.1,75.9 L410.0,79.3 L410.9,83.9 L411.8,84.2 L412.7,86.5 L413.6,91.4 L414.5,94.4 L415.4,99.9 L416.3,112.4 L417.2,118.1 L418.1,112.3 L419.0,105.1 L419.9,96.0 L420.8,86.0 L421.7,79.8 L422.6,70.8 L423.5,59.0 L424.4,50.3 L425.3,40.6 L426.2,35.0 L427.1,37.0 L428.0,41.2 L428.9,41.6 L429.8,41.4 L430.7,45.8 L431.6,49.5 L432.5,49.7 L433.4,52.3 L434.3,55.9 L435.2,60.3 L436.1,64.3 L437.0,64.3 L437.9,64.4 L438.8,64.0 L439.7,64.2 L440.6,66.0 L441.5,67.2 L442.4,70.1 L443.3,70.6 L444.2,70.0 L445.1,73.5 L446.0,73.3 L446.9,70.6 L447.8,74.8 L448.7,77.3 L449.6,75.8 L450.5,72.8 L451.4,71.9 L452.3,75.2 L453.2,77.5 L454.1,77.8 L455.0,76.8 L455.9,74.2 L456.8,74.1 L457.7,77.9 L458.6,78.8 L459.5,78.3 L460.4,80.7 L461.3,80.1 L462.2,79.5 L463.1,79.7 L464.0,77.0 L464.9,78.5 L465.8,81.1 L466.7,80.3 L467.6,80.4 L468.5,80.2 L469.4,78.1 L470.3,78.6 L471.2,81.8 L472.1,83.7 L473.0,82.0 L473.9,81.8 L474.8,80.1 L475.7,76.7 L476.6,76.3 L477.5,78.9 L478.4,79.2 L479.3,80.9 L480.2,80.4 L481.1,78.6 L482.0,77.6 L482.9,77.8 L483.8,77.9 L484.7,77.2 L485.6,75.6 L486.5,73.5 L487.4,71.2 L488.3,71.8 L489.2,73.6 L490.1,72.7 L491.0,71.7 L491.9,72.3 L492.8,73.0 L493.7,72.7 L494.6,73.1 L495.5,75.2 L496.4,76.9 L497.3,72.2 L498.2,70.4 L499.1,73.0 M393.8,62.0 L394.7,62.1 L395.6,62.9 L396.5,63.4 L397.4,63.1 L398.3,64.1 L399.2,64.3 L400.1,62.7 L401.0,62.5 L401.9,64.6 L402.8,66.6 L403.7,65.2 L404.6,66.2 L405.5,66.2 L406.4,65.4 L407.3,67.2 L408.2,68.3 L409.1,69.0 L410.0,70.4 L410.9,71.1 L411.8,75.0 L412.7,77.2 L413.6,83.4 L414.5,87.5 L415.4,93.0 L416.3,109.8 L417.2,116.4 L418.1,110.7 L419.0,102.9 L419.9,94.0 L420.8,84.5 L421.7,73.1 L422.6,64.8 L423.5,56.1 L424.4,45.5 L425.3,37.0 L426.2,34.7 L427.1,35.4 L428.0,35.3 L428.9,34.1 L429.8,37.0 L430.7,41.0 L431.6,43.1 L432.5,46.1 L433.4,48.5 L434.3,48.3 L435.2,50.9 L436.1,54.7 L437.0,56.6 L437.9,58.0 L438.8,60.9 L439.7,62.3 L440.6,64.4 L441.5,64.8 L442.4,68.1 L443.3,66.9 L444.2,68.5 L445.1,70.6 L446.0,68.9 L446.9,70.6 L447.8,70.7 L448.7,70.7 L449.6,71.7 L450.5,71.0 L451.4,70.6 L452.3,72.5 L453.2,73.0 L454.1,72.3 L455.0,71.4 L455.9,73.2 L456.8,74.2 L457.7,73.0 L458.6,74.6 L459.5,76.7 L460.4,76.7 L461.3,79.0 L462.2,78.4 L463.1,74.1 L464.0,71.2 L464.9,70.8 L465.8,72.4 L466.7,73.1 L467.6,73.5 L468.5,73.0 L469.4,71.8 L470.3,69.7 L471.2,68.8 L472.1,68.2 L473.0,67.8 L473.9,70.7 L474.8,70.7 L475.7,68.8 L476.6,69.7 L477.5,70.0 L478.4,69.2 L479.3,70.3 L480.2,71.4 L481.1,69.1 L482.0,67.9 L482.9,68.9 L483.8,69.4 L484.7,69.4 L485.6,70.4 L486.5,67.1 L487.4,66.1 L488.3,68.0 L489.2,68.2 L490.1,69.1 L491.0,68.9 L491.9,69.2 L492.8,67.1 L493.7,62.4 L494.6,63.9 L495.5,65.1 L496.4,66.0 L497.3,67.8 L498.2,67.4 L499.1,64.2 M393.8,79.9 L394.7,80.3 L395.6,78.4 L396.5,77.6 L397.4,78.7 L398.3,78.5 L399.2,80.3 L400.1,80.0 L401.0,80.8 L401.9,82.9 L402.8,83.2 L403.7,84.7 L404.6,83.8 L405.5,81.7 L406.4,82.2 L407.3,83.5 L408.2,84.9 L409.1,89.7 L410.0,93.2 L410.9,92.2 L411.8,94.0 L412.7,96.3 L413.6,97.3 L414.5,100.9 L415.4,108.6 L416.3,116.1 L417.2,119.3 L418.1,115.8 L419.0,109.5 L419.9,102.6 L420.8,95.6 L421.7,85.4 L422.6,75.7 L423.5,66.1 L424.4,60.7 L425.3,52.9 L426.2,50.1 L427.1,51.2 L428.0,50.3 L428.9,51.9 L429.8,54.7 L430.7,57.1 L431.6,61.6 L432.5,63.7 L433.4,65.2 L434.3,68.1 L435.2,69.8 L436.1,72.6 L437.0,76.4 L437.9,76.7 L438.8,79.2 L439.7,79.9 L440.6,81.3 L441.5,83.8 L442.4,86.2 L443.3,86.5 L444.2,84.3 L445.1,86.5 L446.0,87.1 L446.9,87.2 L447.8,89.4 L448.7,90.4 L449.6,90.6 L450.5,90.8 L451.4,91.5 L452.3,91.7 L453.2,89.7 L454.1,88.8 L455.0,86.7 L455.9,88.0 L456.8,91.2 L457.7,89.4 L458.6,87.6 L459.5,89.5 L460.4,88.3 L461.3,88.1 L462.2,89.7 L463.1,90.2 L464.0,90.0 L464.9,88.8 L465.8,88.1 L466.7,86.9 L467.6,87.8 L468.5,85.7 L469.4,85.0 L470.3,88.3 L471.2,88.8 L472.1,88.1 L473.0,87.1 L473.9,88.5 L474.8,90.4 L475.7,91.0 L476.6,90.4 L477.5,90.3 L478.4,90.9 L479.3,90.4 L480.2,92.9 L481.1,92.3 L482.0,91.5 L482.9,93.3 L483.8,92.4 L484.7,89.5 L485.6,88.1 L486.5,88.2 L487.4,89.7 L488.3,91.4 L489.2,89.7 L490.1,89.3 L491.0,90.7 L491.9,87.2 L492.8,84.1 L493.7,84.5 L494.6,85.4 L495.5,84.3 L496.4,82.2 L497.3,82.0 L498.2,81.1 L499.1,82.0 M393.8,65.9 L394.7,68.0 L395.6,70.3 L396.5,67.9 L397.4,67.2 L398.3,69.1 L399.2,70.1 L400.1,70.1 L401.0,67.0 L401.9,68.2 L402.8,71.1 L403.7,71.5 L404.6,71.4 L405.5,72.1 L406.4,74.5 L407.3,76.4 L408.2,78.2 L409.1,80.0 L410.0,81.8 L410.9,82.7 L411.8,85.2 L412.7,87.3 L413.6,88.7 L414.5,92.5 L415.4,98.7 L416.3,110.6 L417.2,116.9 L418.1,111.1 L419.0,102.3 L419.9,94.1 L420.8,85.5 L421.7,76.6 L422.6,67.1 L423.5,57.7 L424.4,49.5 L425.3,41.4 L426.2,37.5 L427.1,38.4 L428.0,39.2 L428.9,42.8 L429.8,47.1 L430.7,48.6 L431.6,51.3 L432.5,54.0 L433.4,55.6 L434.3,56.5 L435.2,59.6 L436.1,61.5 L437.0,62.7 L437.9,65.8 L438.8,67.2 L439.7,68.5 L440.6,70.2 L441.5,72.9 L442.4,72.7 L443.3,72.6 L444.2,74.8 L445.1,76.1 L446.0,74.9 L446.9,73.8 L447.8,74.5 L448.7,75.4 L449.6,72.2 L450.5,71.2 L451.4,70.7 L452.3,72.0 L453.2,75.2 L454.1,74.8 L455.0,77.2 L455.9,77.5 L456.8,75.3 L457.7,72.0 L458.6,74.4 L459.5,76.5 L460.4,77.2 L461.3,77.5 L462.2,77.4 L463.1,77.3 L464.0,77.8 L464.9,77.7 L465.8,78.4 L466.7,78.6 L467.6,78.8 L468.5,76.4 L469.4,78.4 L470.3,78.0 L471.2,76.5 L472.1,77.5 L473.0,79.8 L473.9,77.9 L474.8,77.7 L475.7,78.6 L476.6,76.2 L477.5,75.8 L478.4,76.3 L479.3,72.9 L480.2,75.1 L481.1,79.1 L482.0,77.0 L482.9,74.9 L483.8,74.7 L484.7,77.2 L485.6,80.7 L486.5,79.6 L487.4,77.9 L488.3,79.3 L489.2,79.6 L490.1,78.3 L491.0,76.2 L491.9,75.3 L492.8,75.1 L493.7,74.0 L494.6,73.8 L495.5,71.1 L496.4,69.0 L497.3,71.1 L498.2,71.5 L499.1,70.6 M393.8,57.6 L394.7,58.3 L395.6,62.1 L396.5,60.2 L397.4,57.4 L398.3,57.8 L399.2,57.4 L400.1,61.1 L401.0,63.6 L401.9,63.3 L402.8,62.1 L403.7,60.8 L404.6,61.9 L405.5,62.0 L406.4,62.7 L407.3,68.1 L408.2,70.2 L409.1,69.6 L410.0,70.2 L410.9,74.1 L411.8,77.6 L412.7,79.2 L413.6,79.1 L414.5,83.4 L415.4,93.8 L416.3,108.2 L417.2,115.7 L418.1,109.7 L419.0,100.9 L419.9,90.6 L420.8,78.7 L421.7,67.5 L422.6,55.4 L423.5,47.6 L424.4,41.6 L425.3,35.6 L426.2,30.0 L427.1,30.5 L428.0,31.6 L428.9,31.6 L429.8,36.2 L430.7,40.7 L431.6,40.3 L432.5,44.1 L433.4,47.9 L434.3,48.1 L435.2,47.7 L436.1,48.9 L437.0,48.0 L437.9,51.5 L438.8,56.8 L439.7,57.7 L440.6,58.3 L441.5,59.6 L442.4,61.1 L443.3,64.2 L444.2,64.8 L445.1,64.8 L446.0,65.8 L446.9,69.7 L447.8,70.7 L448.7,69.1 L449.6,68.5 L450.5,67.0 L451.4,66.5 L452.3,67.4 L453.2,67.1 L454.1,67.6 L455.0,67.6 L455.9,69.9 L456.8,70.2 L457.7,69.1 L458.6,68.7 L459.5,70.8 L460.4,73.1 L461.3,70.9 L462.2,69.0 L463.1,69.6 L464.0,70.3 L464.9,68.6 L465.8,68.5 L466.7,70.0 L467.6,69.6 L468.5,68.9 L469.4,70.1 L470.3,69.5 L471.2,66.7 L472.1,67.5 L473.0,65.7 L473.9,64.0 L474.8,66.4 L475.7,65.9 L476.6,62.9 L477.5,62.4 L478.4,61.9 L479.3,61.3 L480.2,65.6 L481.1,65.9 L482.0,63.8 L482.9,64.5 L483.8,64.7 L484.7,64.5 L485.6,66.3 L486.5,66.9 L487.4,65.0 L488.3,65.6 L489.2,66.7 L490.1,64.5 L491.0,62.5 L491.9,62.7 L492.8,64.3 L493.7,65.8 L494.6,63.6 L495.5,63.1 L496.4,63.6 L497.3,63.3 L498.2,63.0 L499.1,62.1 M393.8,55.8 L394.7,55.2 L395.6,52.4 L396.5,52.4 L397.4,52.5 L398.3,54.4 L399.2,54.3 L400.1,56.8 L401.0,58.5 L401.9,58.4 L402.8,59.4 L403.7,58.3 L404.6,57.0 L405.5,59.8 L406.4,61.6 L407.3,62.2 L408.2,61.6 L409.1,63.4 L410.0,65.9 L410.9,65.0 L411.8,67.1 L412.7,71.5 L413.6,75.0 L414.5,81.6 L415.4,90.6 L416.3,108.4 L417.2,116.1 L418.1,109.1 L419.0,97.1 L419.9,87.5 L420.8,80.6 L421.7,72.0 L422.6,62.3 L423.5,53.2 L424.4,42.4 L425.3,34.9 L426.2,33.0 L427.1,32.7 L428.0,34.2 L428.9,33.5 L429.8,33.1 L430.7,37.9 L431.6,40.0 L432.5,42.3 L433.4,43.1 L434.3,44.1 L435.2,46.0 L436.1,49.8 L437.0,51.9 L437.9,53.4 L438.8,54.8 L439.7,54.4 L440.6,55.3 L441.5,58.2 L442.4,59.4 L443.3,60.9 L444.2,61.1 L445.1,62.0 L446.0,62.7 L446.9,63.4 L447.8,66.1 L448.7,66.8 L449.6,65.5 L450.5,62.8 L451.4,63.2 L452.3,65.0 L453.2,66.3 L454.1,67.0 L455.0,67.5 L455.9,63.7 L456.8,62.4 L457.7,64.4 L458.6,66.7 L459.5,65.7 L460.4,63.5 L461.3,63.4 L462.2,66.0 L463.1,66.9 L464.0,66.2 L464.9,66.1 L465.8,63.8 L466.7,62.7 L467.6,65.3 L468.5,66.0 L469.4,66.9 L470.3,67.0 L471.2,67.2 L472.1,65.9 L473.0,64.9 L473.9,66.6 L474.8,66.9 L475.7,66.2 L476.6,65.8 L477.5,63.5 L478.4,61.6 L479.3,61.8 L480.2,63.1 L481.1,64.5 L482.0,63.3 L482.9,63.7 L483.8,65.0 L484.7,63.4 L485.6,62.7 L486.5,61.8 L487.4,61.6 L488.3,60.1 L489.2,60.7 L490.1,60.0 L491.0,58.7 L491.9,58.3 L492.8,57.7 L493.7,55.0 L494.6,58.5 L495.5,61.1 L496.4,58.2 L497.3,59.7 L498.2,59.9 L499.1,58.1 M393.8,68.1 L394.7,69.6 L395.6,69.2 L396.5,67.8 L397.4,68.4 L398.3,68.9 L399.2,67.5 L400.1,66.8 L401.0,68.8 L401.9,70.2 L402.8,67.3 L403.7,68.1 L404.6,70.7 L405.5,73.0 L406.4,74.8 L407.3,75.9 L408.2,74.7 L409.1,76.0 L410.0,81.2 L410.9,80.2 L411.8,80.6 L412.7,84.8 L413.6,84.3 L414.5,87.2 L415.4,97.9 L416.3,111.7 L417.2,117.4 L418.1,111.3 L419.0,101.4 L419.9,94.4 L420.8,84.9 L421.7,72.6 L422.6,64.5 L423.5,54.4 L424.4,48.1 L425.3,37.2 L426.2,32.4 L427.1,31.7 L428.0,32.6 L428.9,36.6 L429.8,39.2 L430.7,40.8 L431.6,44.0 L432.5,48.4 L433.4,50.6 L434.3,53.9 L435.2,56.1 L436.1,57.6 L437.0,61.0 L437.9,64.9 L438.8,66.8 L439.7,67.0 L440.6,68.0 L441.5,68.5 L442.4,69.0 L443.3,69.5 L444.2,69.2 L445.1,70.1 L446.0,72.5 L446.9,72.0 L447.8,71.8 L448.7,71.9 L449.6,71.7 L450.5,70.8 L451.4,74.1 L452.3,76.1 L453.2,75.8 L454.1,75.4 L455.0,74.3 L455.9,74.9 L456.8,76.8 L457.7,77.3 L458.6,77.6 L459.5,78.8 L460.4,78.5 L461.3,79.8 L462.2,78.3 L463.1,77.1 L464.0,79.3 L464.9,81.4 L465.8,81.0 L466.7,79.5 L467.6,75.8 L468.5,74.5 L469.4,77.7 L470.3,78.3 L471.2,78.4 L472.1,77.9 L473.0,76.6 L473.9,72.4 L474.8,73.1 L475.7,74.6 L476.6,69.4 L477.5,70.4 L478.4,72.5 L479.3,72.7 L480.2,74.5 L481.1,75.8 L482.0,72.2 L482.9,70.5 L483.8,69.8 L484.7,68.2 L485.6,71.1 L486.5,73.4 L487.4,73.9 L488.3,74.2 L489.2,76.3 L490.1,74.9 L491.0,73.2 L491.9,74.0 L492.8,74.9 L493.7,73.8 L494.6,72.6 L495.5,74.1 L496.4,72.5 L497.3,72.7 L498.2,72.1 L499.1,68.4 M393.8,73.8 L394.7,74.6 L395.6,72.7 L396.5,72.7 L397.4,76.7 L398.3,76.3 L399.2,76.3 L400.1,76.9 L401.0,75.0 L401.9,75.2 L402.8,75.4 L403.7,75.9 L404.6,77.0 L405.5,77.6 L406.4,78.5 L407.3,78.5 L408.2,80.8 L409.1,84.0 L410.0,85.8 L410.9,85.1 L411.8,87.8 L412.7,91.0 L413.6,92.4 L414.5,98.0 L415.4,106.7 L416.3,114.9 L417.2,119.5 L418.1,115.4 L419.0,106.3 L419.9,99.1 L420.8,92.8 L421.7,83.0 L422.6,74.2 L423.5,65.0 L424.4,54.7 L425.3,44.4 L426.2,39.6 L427.1,41.0 L428.0,45.1 L428.9,47.9 L429.8,48.2 L430.7,50.6 L431.6,53.3 L432.5,54.7 L433.4,59.2 L434.3,64.4 L435.2,65.2 L436.1,65.2 L437.0,67.2 L437.9,70.3 L438.8,71.6 L439.7,72.5 L440.6,72.8 L441.5,75.4 L442.4,79.3 L443.3,77.1 L444.2,77.4 L445.1,80.7 L446.0,79.5 L446.9,77.3 L447.8,80.2 L448.7,82.9 L449.6,82.0 L450.5,84.0 L451.4,83.0 L452.3,80.4 L453.2,83.3 L454.1,81.9 L455.0,82.3 L455.9,83.9 L456.8,85.1 L457.7,85.7 L458.6,84.5 L459.5,87.0 L460.4,89.2 L461.3,85.3 L462.2,81.5 L463.1,84.3 L464.0,87.0 L464.9,86.0 L465.8,84.6 L466.7,82.4 L467.6,84.3 L468.5,86.1 L469.4,83.9 L470.3,81.8 L471.2,82.6 L472.1,83.4 L473.0,81.3 L473.9,79.8 L474.8,82.0 L475.7,80.2 L476.6,82.0 L477.5,83.6 L478.4,86.5 L479.3,86.9 L480.2,84.2 L481.1,83.9 L482.0,83.9 L482.9,84.0 L483.8,87.0 L484.7,86.3 L485.6,86.8 L486.5,84.3 L487.4,84.8 L488.3,86.0 L489.2,87.6 L490.1,86.4 L491.0,83.1 L491.9,81.3 L492.8,82.9 L493.7,82.6 L494.6,83.4 L495.5,80.8 L496.4,78.7 L497.3,77.4 L498.2,78.1 L499.1,79.0 M393.8,63.0 L394.7,63.9 L395.6,61.9 L396.5,62.1 L397.4,63.6 L398.3,63.1 L399.2,62.0 L400.1,64.0 L401.0,65.5 L401.9,62.3 L402.8,63.9 L403.7,66.8 L404.6,67.1 L405.5,66.7 L406.4,68.3 L407.3,70.8 L408.2,71.1 L409.1,72.5 L410.0,76.5 L410.9,80.0 L411.8,79.7 L412.7,82.9 L413.6,89.5 L414.5,90.1 L415.4,98.9 L416.3,111.5 L417.2,117.2 L418.1,111.6 L419.0,102.8 L419.9,94.1 L420.8,83.7 L421.7,73.9 L422.6,63.7 L423.5,52.0 L424.4,43.6 L425.3,34.6 L426.2,30.0 L427.1,33.5 L428.0,37.0 L428.9,38.4 L429.8,41.6 L430.7,43.3 L431.6,43.7 L432.5,44.1 L433.4,47.0 L434.3,50.5 L435.2,54.1 L436.1,55.5 L437.0,59.1 L437.9,62.6 L438.8,61.6 L439.7,61.9 L440.6,67.4 L441.5,68.0 L442.4,66.1 L443.3,69.3 L444.2,68.8 L445.1,68.7 L446.0,71.1 L446.9,71.6 L447.8,68.1 L448.7,67.6 L449.6,69.2 L450.5,68.8 L451.4,71.4 L452.3,69.4 L453.2,68.8 L454.1,69.2 L455.0,68.7 L455.9,72.2 L456.8,73.2 L457.7,73.1 L458.6,69.7 L459.5,67.7 L460.4,70.4 L461.3,73.7 L462.2,70.9 L463.1,68.1 L464.0,71.6 L464.9,72.0 L465.8,72.1 L466.7,73.5 L467.6,71.9 L468.5,69.9 L469.4,69.3 L470.3,71.5 L471.2,71.6 L472.1,70.7 L473.0,72.7 L473.9,72.7 L474.8,72.3 L475.7,73.5 L476.6,74.9 L477.5,73.1 L478.4,72.2 L479.3,72.3 L480.2,72.3 L481.1,72.4 L482.0,73.4 L482.9,71.5 L483.8,69.1 L484.7,71.8 L485.6,74.4 L486.5,72.6 L487.4,74.2 L488.3,73.2 L489.2,69.8 L490.1,72.0 L491.0,71.9 L491.9,69.3 L492.8,69.5 L493.7,68.7 L494.6,67.9 L495.5,67.6 L496.4,68.9 L497.3,70.1 L498.2,67.9 L499.1,66.7 M393.8,73.7 L394.7,72.1 L395.6,74.3 L396.5,75.8 L397.4,76.4 L398.3,77.3 L399.2,78.1 L400.1,77.2 L401.0,77.3 L401.9,80.7 L402.8,78.0 L403.7,76.9 L404.6,75.5 L405.5,75.1 L406.4,78.6 L407.3,79.6 L408.2,84.3 L409.1,86.6 L410.0,84.7 L410.9,87.5 L411.8,90.7 L412.7,91.4 L413.6,93.4 L414.5,99.6 L415.4,106.1 L416.3,116.6 L417.2,120.1 L418.1,115.7 L419.0,109.5 L419.9,102.6 L420.8,93.8 L421.7,86.5 L422.6,76.8 L423.5,65.1 L424.4,58.7 L425.3,51.3 L426.2,47.1 L427.1,46.5 L428.0,45.7 L428.9,46.4 L429.8,49.2 L430.7,51.1 L431.6,53.4 L432.5,57.1 L433.4,59.4 L434.3,64.2 L435.2,68.7 L436.1,69.8 L437.0,69.9 L437.9,72.7 L438.8,75.8 L439.7,75.1 L440.6,76.9 L441.5,80.8 L442.4,81.7 L443.3,80.0 L444.2,78.6 L445.1,82.0 L446.0,85.8 L446.9,86.7 L447.8,85.5 L448.7,84.0 L449.6,83.7 L450.5,81.5 L451.4,81.1 L452.3,82.8 L453.2,81.6 L454.1,81.7 L455.0,83.9 L455.9,84.7 L456.8,84.2 L457.7,83.3 L458.6,81.7 L459.5,84.5 L460.4,88.2 L461.3,85.8 L462.2,87.2 L463.1,86.8 L464.0,86.9 L464.9,87.7 L465.8,87.1 L466.7,89.0 L467.6,90.0 L468.5,92.0 L469.4,94.8 L470.3,94.8 L471.2,93.0 L472.1,90.9 L473.0,90.3 L473.9,90.3 L474.8,92.6 L475.7,93.7 L476.6,92.3 L477.5,90.9 L478.4,91.3 L479.3,91.6 L480.2,88.6 L481.1,88.0 L482.0,87.8 L482.9,87.5 L483.8,88.4 L484.7,88.1 L485.6,88.1 L486.5,88.6 L487.4,86.9 L488.3,87.4 L489.2,85.6 L490.1,84.1 L491.0,84.0 L491.9,84.5 L492.8,83.3 L493.7,79.7 L494.6,81.1 L495.5,81.5 L496.4,80.4 L497.3,80.2 L498.2,79.4 L499.1,78.6 M393.8,63.3 L394.7,63.0 L395.6,62.9 L396.5,63.3 L397.4,64.1 L398.3,66.3 L399.2,66.4 L400.1,65.5 L401.0,65.7 L401.9,66.2 L402.8,64.0 L403.7,64.4 L404.6,65.7 L405.5,66.8 L406.4,69.8 L407.3,71.2 L408.2,70.0 L409.1,70.6 L410.0,74.2 L410.9,75.2 L411.8,76.1 L412.7,78.1 L413.6,81.3 L414.5,85.5 L415.4,94.6 L416.3,110.0 L417.2,116.1 L418.1,109.3 L419.0,101.2 L419.9,94.2 L420.8,82.6 L421.7,71.9 L422.6,63.6 L423.5,52.4 L424.4,45.6 L425.3,39.5 L426.2,33.8 L427.1,34.8 L428.0,37.1 L428.9,36.0 L429.8,35.8 L430.7,40.1 L431.6,43.0 L432.5,46.3 L433.4,47.6 L434.3,48.7 L435.2,50.3 L436.1,53.2 L437.0,55.6 L437.9,55.2 L438.8,56.3 L439.7,59.0 L440.6,62.3 L441.5,66.9 L442.4,64.5 L443.3,64.2 L444.2,69.4 L445.1,69.7 L446.0,67.6 L446.9,68.1 L447.8,66.6 L448.7,67.2 L449.6,70.4 L450.5,71.2 L451.4,70.2 L452.3,70.6 L453.2,68.8 L454.1,67.9 L455.0,69.5 L455.9,68.7 L456.8,70.2 L457.7,71.8 L458.6,71.3 L459.5,72.3 L460.4,72.8 L461.3,74.3 L462.2,73.0 L463.1,73.5 L464.0,76.3 L464.9,74.8 L465.8,74.3 L466.7,74.4 L467.6,75.0 L468.5,73.2 L469.4,72.9 L470.3,72.0 L471.2,72.1 L472.1,73.6 L473.0,70.7 L473.9,69.7 L474.8,71.1 L475.7,71.3 L476.6,71.9 L477.5,72.0 L478.4,70.2 L479.3,69.0 L480.2,71.4 L481.1,69.3 L482.0,68.9 L482.9,69.7 L483.8,70.6 L484.7,72.3 L485.6,73.2 L486.5,73.3 L487.4,72.3 L488.3,72.1 L489.2,69.8 L490.1,66.8 L491.0,66.3 L491.9,69.2 L492.8,70.5 L493.7,70.6 L494.6,69.4 L495.5,67.5 L496.4,67.5 L497.3,68.3 L498.2,70.7 L499.1,67.6 M393.8,62.0 L394.7,61.9 L395.6,62.4 L396.5,62.2 L397.4,62.4 L398.3,65.0 L399.2,64.5 L400.1,62.5 L401.0,61.0 L401.9,61.5 L402.8,61.9 L403.7,63.2 L404.6,63.8 L405.5,66.4 L406.4,68.3 L407.3,66.3 L408.2,70.0 L409.1,72.7 L410.0,72.3 L410.9,73.2 L411.8,74.4 L412.7,78.1 L413.6,83.2 L414.5,87.8 L415.4,94.4 L416.3,109.2 L417.2,116.6 L418.1,110.8 L419.0,101.6 L419.9,94.4 L420.8,83.6 L421.7,71.8 L422.6,61.3 L423.5,49.7 L424.4,42.0 L425.3,35.0 L426.2,31.7 L427.1,33.9 L428.0,36.0 L428.9,38.2 L429.8,41.8 L430.7,40.7 L431.6,40.3 L432.5,46.3 L433.4,47.5 L434.3,48.4 L435.2,52.5 L436.1,53.4 L437.0,55.0 L437.9,57.5 L438.8,57.8 L439.7,59.0 L440.6,62.8 L441.5,63.6 L442.4,63.7 L443.3,65.8 L444.2,65.1 L445.1,64.3 L446.0,66.4 L446.9,65.3 L447.8,67.1 L448.7,69.2 L449.6,68.1 L450.5,66.3 L451.4,66.5 L452.3,67.7 L453.2,69.3 L454.1,70.9 L455.0,70.1 L455.9,68.6 L456.8,68.9 L457.7,69.7 L458.6,68.5 L459.5,67.4 L460.4,70.7 L461.3,71.9 L462.2,74.1 L463.1,72.5 L464.0,69.0 L464.9,69.6 L465.8,70.2 L466.7,71.0 L467.6,71.3 L468.5,70.3 L469.4,69.4 L470.3,69.2 L471.2,69.1 L472.1,66.4 L473.0,68.4 L473.9,68.4 L474.8,68.7 L475.7,67.6 L476.6,68.5 L477.5,68.2 L478.4,69.3 L479.3,68.1 L480.2,64.0 L481.1,66.0 L482.0,67.5 L482.9,70.4 L483.8,71.1 L484.7,71.8 L485.6,68.9 L486.5,66.7 L487.4,69.0 L488.3,66.0 L489.2,64.0 L490.1,64.6 L491.0,66.2 L491.9,64.9 L492.8,64.8 L493.7,65.7 L494.6,66.7 L495.5,67.2 L496.4,65.4 L497.3,64.3 L498.2,62.8 L499.1,62.8 M393.8,62.9 L394.7,61.2 L395.6,59.2 L396.5,61.8 L397.4,64.4 L398.3,63.8 L399.2,64.3 L400.1,65.9 L401.0,66.2 L401.9,65.6 L402.8,64.5 L403.7,65.1 L404.6,66.9 L405.5,67.5 L406.4,69.1 L407.3,72.3 L408.2,71.6 L409.1,71.5 L410.0,73.9 L410.9,77.0 L411.8,80.5 L412.7,80.9 L413.6,79.7 L414.5,85.9 L415.4,95.4 L416.3,109.9 L417.2,116.7 L418.1,111.3 L419.0,101.3 L419.9,89.3 L420.8,79.7 L421.7,71.6 L422.6,65.1 L423.5,55.9 L424.4,45.7 L425.3,39.1 L426.2,36.3 L427.1,37.3 L428.0,38.8 L428.9,39.8 L429.8,41.1 L430.7,42.1 L431.6,44.4 L432.5,48.5 L433.4,51.1 L434.3,51.2 L435.2,54.5 L436.1,56.3 L437.0,58.8 L437.9,60.8 L438.8,61.9 L439.7,63.6 L440.6,61.8 L441.5,62.7 L442.4,67.3 L443.3,66.8 L444.2,68.0 L445.1,70.3 L446.0,73.0 L446.9,74.8 L447.8,73.6 L448.7,71.3 L449.6,71.5 L450.5,75.2 L451.4,77.3 L452.3,76.2 L453.2,76.3 L454.1,76.0 L455.0,75.8 L455.9,72.5 L456.8,70.6 L457.7,74.8 L458.6,78.6 L459.5,80.1 L460.4,77.0 L461.3,73.8 L462.2,74.9 L463.1,76.6 L464.0,77.2 L464.9,76.7 L465.8,76.0 L466.7,72.4 L467.6,72.6 L468.5,72.9 L469.4,72.0 L470.3,73.0 L471.2,74.3 L472.1,73.5 L473.0,70.3 L473.9,70.8 L474.8,74.9 L475.7,78.0 L476.6,75.5 L477.5,73.6 L478.4,71.9 L479.3,70.8 L480.2,71.0 L481.1,71.1 L482.0,71.3 L482.9,73.2 L483.8,74.6 L484.7,72.8 L485.6,71.0 L486.5,70.2 L487.4,68.8 L488.3,70.3 L489.2,71.1 L490.1,70.4 L491.0,70.2 L491.9,66.6 L492.8,65.5 L493.7,67.9 L494.6,64.9 L495.5,65.9 L496.4,66.1 L497.3,67.4 L498.2,69.0 L499.1,65.9 M393.8,72.7 L394.7,75.3 L395.6,75.0 L396.5,74.7 L397.4,75.2 L398.3,75.1 L399.2,75.8 L400.1,76.3 L401.0,75.4 L401.9,77.4 L402.8,76.2 L403.7,76.4 L404.6,76.1 L405.5,74.6 L406.4,77.1 L407.3,77.3 L408.2,78.8 L409.1,79.9 L410.0,79.5 L410.9,81.9 L411.8,83.1 L412.7,85.6 L413.6,91.7 L414.5,96.1 L415.4,100.7 L416.3,112.0 L417.2,117.9 L418.1,113.7 L419.0,106.0 L419.9,96.6 L420.8,90.1 L421.7,81.6 L422.6,72.3 L423.5,60.9 L424.4,53.1 L425.3,45.3 L426.2,41.9 L427.1,42.0 L428.0,40.0 L428.9,39.0 L429.8,42.8 L430.7,45.6 L431.6,49.5 L432.5,50.8 L433.4,53.9 L434.3,57.7 L435.2,59.6 L436.1,61.8 L437.0,64.5 L437.9,67.0 L438.8,68.0 L439.7,70.8 L440.6,72.5 L441.5,74.7 L442.4,76.9 L443.3,74.6 L444.2,73.9 L445.1,76.3 L446.0,75.5 L446.9,74.6 L447.8,76.6 L448.7,74.7 L449.6,75.7 L450.5,77.4 L451.4,76.9 L452.3,77.6 L453.2,76.9 L454.1,75.7 L455.0,76.0 L455.9,78.4 L456.8,78.3 L457.7,78.4 L458.6,79.0 L459.5,77.7 L460.4,77.9 L461.3,80.4 L462.2,83.3 L463.1,83.6 L464.0,84.0 L464.9,86.0 L465.8,84.3 L466.7,80.9 L467.6,82.7 L468.5,82.5 L469.4,81.1 L470.3,82.2 L471.2,81.4 L472.1,80.3 L473.0,84.3 L473.9,87.3 L474.8,83.6 L475.7,80.9 L476.6,80.2 L477.5,77.7 L478.4,79.6 L479.3,81.0 L480.2,80.5 L481.1,82.3 L482.0,82.5 L482.9,82.4 L483.8,81.1 L484.7,77.6 L485.6,78.2 L486.5,80.8 L487.4,78.6 L488.3,77.5 L489.2,79.3 L490.1,77.6 L491.0,76.7 L491.9,77.0 L492.8,74.8 L493.7,73.7 L494.6,76.3 L495.5,75.8 L496.4,73.4 L497.3,73.4 L498.2,73.3 L499.1,70.9 M393.8,64.4 L394.7,64.7 L395.6,67.8 L396.5,68.1 L397.4,67.5 L398.3,67.7 L399.2,63.5 L400.1,63.5 L401.0,65.3 L401.9,66.3 L402.8,66.9 L403.7,66.5 L404.6,67.0 L405.5,67.7 L406.4,66.9 L407.3,68.2 L408.2,70.8 L409.1,73.7 L410.0,72.8 L410.9,75.8 L411.8,78.9 L412.7,78.6 L413.6,84.7 L414.5,89.7 L415.4,95.0 L416.3,110.8 L417.2,117.8 L418.1,113.6 L419.0,104.6 L419.9,96.3 L420.8,86.4 L421.7,77.5 L422.6,66.9 L423.5,56.1 L424.4,48.3 L425.3,41.5 L426.2,34.7 L427.1,33.9 L428.0,36.2 L428.9,38.5 L429.8,40.3 L430.7,43.1 L431.6,46.1 L432.5,48.2 L433.4,49.4 L434.3,52.5 L435.2,56.3 L436.1,58.9 L437.0,58.9 L437.9,61.0 L438.8,61.9 L439.7,62.0 L440.6,63.3 L441.5,65.4 L442.4,69.0 L443.3,69.8 L444.2,70.2 L445.1,72.8 L446.0,72.6 L446.9,72.0 L447.8,71.1 L448.7,73.6 L449.6,74.4 L450.5,74.3 L451.4,74.1 L452.3,73.4 L453.2,73.4 L454.1,74.5 L455.0,78.3 L455.9,79.0 L456.8,78.9 L457.7,79.9 L458.6,78.2 L459.5,77.7 L460.4,76.7 L461.3,76.4 L462.2,79.2 L463.1,81.2 L464.0,82.0 L464.9,81.6 L465.8,79.4 L466.7,78.1 L467.6,77.4 L468.5,75.4 L469.4,75.1 L470.3,75.0 L471.2,75.5 L472.1,75.3 L473.0,74.6 L473.9,73.6 L474.8,73.6 L475.7,74.4 L476.6,69.7 L477.5,68.1 L478.4,69.1 L479.3,68.8 L480.2,68.3 L481.1,67.5 L482.0,67.7 L482.9,67.7 L483.8,68.2 L484.7,69.7 L485.6,69.8 L486.5,69.2 L487.4,68.7 L488.3,68.4 L489.2,68.2 L490.1,67.1 L491.0,65.9 L491.9,66.0 L492.8,66.9 L493.7,68.4 L494.6,69.8 L495.5,69.8 L496.4,68.9 L497.3,68.2 L498.2,67.8 L499.1,67.8 M393.8,54.7 L394.7,55.9 L395.6,55.9 L396.5,56.6 L397.4,57.3 L398.3,57.7 L399.2,58.4 L400.1,57.3 L401.0,56.3 L401.9,58.2 L402.8,56.9 L403.7,58.4 L404.6,60.7 L405.5,61.2 L406.4,62.1 L407.3,61.0 L408.2,63.3 L409.1,66.2 L410.0,67.5 L410.9,70.0 L411.8,71.1 L412.7,74.4 L413.6,76.2 L414.5,79.1 L415.4,88.1 L416.3,106.2 L417.2,114.8 L418.1,107.3 L419.0,96.2 L419.9,87.2 L420.8,78.1 L421.7,64.1 L422.6,51.3 L423.5,42.9 L424.4,34.2 L425.3,26.5 L426.2,24.8 L427.1,23.3 L428.0,23.8 L428.9,26.4 L429.8,29.9 L430.7,32.7 L431.6,34.7 L432.5,37.3 L433.4,37.7 L434.3,40.5 L435.2,41.9 L436.1,41.4 L437.0,44.0 L437.9,45.5 L438.8,48.4 L439.7,51.6 L440.6,54.1 L441.5,53.8 L442.4,55.7 L443.3,55.1 L444.2,55.9 L445.1,59.9 L446.0,61.2 L446.9,61.7 L447.8,63.2 L448.7,63.6 L449.6,64.7 L450.5,67.0 L451.4,67.5 L452.3,66.6 L453.2,64.9 L454.1,64.7 L455.0,66.3 L455.9,65.6 L456.8,65.4 L457.7,66.4 L458.6,69.5 L459.5,68.1 L460.4,66.2 L461.3,67.0 L462.2,66.9 L463.1,67.6 L464.0,69.0 L464.9,67.2 L465.8,63.9 L466.7,64.4 L467.6,65.0 L468.5,66.4 L469.4,66.0 L470.3,65.8 L471.2,65.7 L472.1,65.4 L473.0,65.7 L473.9,63.6 L474.8,62.2 L475.7,63.5 L476.6,64.1 L477.5,63.3 L478.4,63.8 L479.3,66.7 L480.2,64.9 L481.1,62.1 L482.0,62.2 L482.9,62.5 L483.8,62.0 L484.7,60.2 L485.6,59.8 L486.5,61.6 L487.4,63.0 L488.3,59.7 L489.2,57.4 L490.1,56.6 L491.0,55.1 L491.9,57.4 L492.8,59.5 L493.7,60.1 L494.6,59.6 L495.5,59.3 L496.4,60.4 L497.3,59.1 L498.2,58.5 L499.1,58.9 M393.8,74.8 L394.7,75.7 L395.6,73.5 L396.5,73.7 L397.4,75.5 L398.3,75.4 L399.2,74.9 L400.1,77.3 L401.0,76.1 L401.9,74.3 L402.8,76.4 L403.7,78.0 L404.6,77.1 L405.5,76.9 L406.4,79.3 L407.3,81.0 L408.2,80.1 L409.1,79.6 L410.0,81.6 L410.9,84.9 L411.8,85.7 L412.7,87.4 L413.6,89.0 L414.5,93.4 L415.4,100.5 L416.3,111.5 L417.2,118.2 L418.1,114.2 L419.0,106.1 L419.9,96.7 L420.8,85.7 L421.7,80.2 L422.6,74.5 L423.5,63.8 L424.4,54.9 L425.3,45.4 L426.2,41.5 L427.1,40.6 L428.0,43.3 L428.9,46.8 L429.8,49.8 L430.7,53.2 L431.6,52.9 L432.5,55.1 L433.4,58.4 L434.3,61.3 L435.2,62.0 L436.1,64.3 L437.0,65.6 L437.9,65.9 L438.8,69.8 L439.7,70.6 L440.6,74.2 L441.5,77.7 L442.4,76.6 L443.3,78.5 L444.2,80.8 L445.1,79.3 L446.0,79.9 L446.9,83.1 L447.8,84.5 L448.7,85.1 L449.6,84.1 L450.5,84.7 L451.4,87.6 L452.3,87.2 L453.2,84.9 L454.1,84.4 L455.0,83.1 L455.9,83.7 L456.8,86.4 L457.7,87.6 L458.6,87.6 L459.5,83.5 L460.4,83.2 L461.3,84.2 L462.2,81.9 L463.1,82.1 L464.0,83.0 L464.9,83.3 L465.8,83.1 L466.7,83.6 L467.6,84.2 L468.5,84.3 L469.4,82.5 L470.3,83.7 L471.2,84.2 L472.1,82.9 L473.0,84.8 L473.9,85.6 L474.8,86.8 L475.7,87.2 L476.6,87.6 L477.5,86.9 L478.4,86.4 L479.3,85.9 L480.2,85.6 L481.1,87.7 L482.0,88.1 L482.9,86.7 L483.8,86.0 L484.7,83.5 L485.6,80.1 L486.5,81.4 L487.4,80.2 L488.3,79.3 L489.2,81.7 L490.1,80.8 L491.0,79.7 L491.9,81.0 L492.8,80.8 L493.7,80.4 L494.6,81.0 L495.5,78.8 L496.4,76.1 L497.3,75.0 L498.2,75.4 L499.1,76.2 M393.8,68.6 L394.7,67.2 L395.6,69.5 L396.5,71.3 L397.4,70.7 L398.3,72.7 L399.2,71.5 L400.1,71.6 L401.0,70.9 L401.9,69.6 L402.8,68.1 L403.7,67.7 L404.6,69.2 L405.5,69.7 L406.4,71.5 L407.3,74.8 L408.2,76.0 L409.1,78.3 L410.0,79.0 L410.9,77.9 L411.8,81.2 L412.7,85.2 L413.6,86.9 L414.5,90.1 L415.4,97.4 L416.3,111.1 L417.2,117.4 L418.1,111.9 L419.0,102.6 L419.9,95.2 L420.8,84.9 L421.7,75.9 L422.6,70.5 L423.5,61.2 L424.4,50.9 L425.3,41.2 L426.2,39.4 L427.1,38.2 L428.0,40.7 L428.9,44.6 L429.8,46.7 L430.7,49.1 L431.6,48.7 L432.5,53.6 L433.4,58.0 L434.3,59.8 L435.2,62.1 L436.1,66.1 L437.0,68.9 L437.9,68.2 L438.8,67.7 L439.7,66.9 L440.6,70.3 L441.5,70.3 L442.4,70.8 L443.3,75.7 L444.2,75.6 L445.1,74.5 L446.0,73.5 L446.9,72.0 L447.8,75.1 L448.7,75.1 L449.6,76.2 L450.5,75.3 L451.4,74.4 L452.3,76.7 L453.2,79.7 L454.1,79.3 L455.0,79.5 L455.9,83.6 L456.8,81.9 L457.7,79.1 L458.6,81.9 L459.5,83.1 L460.4,83.8 L461.3,81.9 L462.2,78.1 L463.1,79.5 L464.0,79.6 L464.9,77.4 L465.8,79.5 L466.7,79.1 L467.6,80.6 L468.5,81.6 L469.4,79.1 L470.3,79.5 L471.2,77.8 L472.1,77.6 L473.0,78.6 L473.9,77.4 L474.8,76.5 L475.7,79.9 L476.6,80.0 L477.5,77.6 L478.4,77.2 L479.3,78.2 L480.2,78.1 L481.1,77.6 L482.0,78.9 L482.9,77.7 L483.8,78.5 L484.7,79.7 L485.6,79.8 L486.5,77.6 L487.4,77.0 L488.3,75.9 L489.2,74.9 L490.1,74.7 L491.0,73.7 L491.9,76.6 L492.8,78.8 L493.7,77.7 L494.6,77.8 L495.5,76.4 L496.4,75.7 L497.3,72.5 L498.2,72.7 L499.1,72.2 M393.8,68.2 L394.7,70.2 L395.6,69.6 L396.5,69.3 L397.4,70.7 L398.3,70.3 L399.2,73.4 L400.1,73.0 L401.0,69.2 L401.9,71.8 L402.8,73.4 L403.7,74.7 L404.6,76.2 L405.5,73.1 L406.4,73.0 L407.3,74.3 L408.2,75.8 L409.1,77.9 L410.0,81.2 L410.9,81.4 L411.8,82.3 L412.7,84.7 L413.6,87.6 L414.5,90.6 L415.4,96.6 L416.3,109.6 L417.2,117.3 L418.1,112.9 L419.0,103.6 L419.9,93.8 L420.8,87.5 L421.7,78.3 L422.6,69.9 L423.5,59.2 L424.4,49.7 L425.3,42.1 L426.2,38.1 L427.1,38.6 L428.0,40.9 L428.9,44.4 L429.8,49.1 L430.7,50.2 L431.6,50.9 L432.5,56.3 L433.4,57.2 L434.3,55.6 L435.2,57.1 L436.1,59.2 L437.0,61.9 L437.9,67.1 L438.8,68.5 L439.7,67.0 L440.6,68.7 L441.5,70.6 L442.4,72.0 L443.3,73.5 L444.2,73.7 L445.1,72.9 L446.0,74.9 L446.9,76.3 L447.8,75.6 L448.7,77.5 L449.6,79.9 L450.5,82.8 L451.4,81.2 L452.3,81.7 L453.2,80.4 L454.1,80.3 L455.0,82.6 L455.9,83.5 L456.8,81.8 L457.7,78.8 L458.6,83.7 L459.5,82.2 L460.4,80.5 L461.3,81.8 L462.2,81.3 L463.1,80.2 L464.0,78.7 L464.9,79.1 L465.8,79.9 L466.7,80.4 L467.6,81.5 L468.5,82.9 L469.4,84.0 L470.3,81.8 L471.2,79.3 L472.1,79.1 L473.0,80.2 L473.9,78.7 L474.8,78.1 L475.7,77.0 L476.6,79.8 L477.5,78.7 L478.4,79.1 L479.3,82.4 L480.2,81.9 L481.1,78.4 L482.0,77.0 L482.9,77.1 L483.8,78.1 L484.7,79.6 L485.6,79.7 L486.5,76.8 L487.4,74.9 L488.3,73.2 L489.2,73.3 L490.1,76.1 L491.0,74.5 L491.9,70.8 L492.8,71.2 L493.7,72.8 L494.6,74.7 L495.5,75.6 L496.4,72.2 L497.3,69.9 L498.2,70.7 L499.1,71.2 M393.8,80.2 L394.7,82.1 L395.6,81.5 L396.5,80.4 L397.4,79.1 L398.3,80.7 L399.2,82.1 L400.1,81.3 L401.0,77.6 L401.9,78.2 L402.8,79.7 L403.7,80.9 L404.6,81.3 L405.5,82.7 L406.4,86.0 L407.3,86.2 L408.2,85.8 L409.1,86.4 L410.0,88.0 L410.9,91.4 L411.8,94.9 L412.7,97.7 L413.6,99.0 L414.5,102.8 L415.4,108.9 L416.3,117.1 L417.2,120.1 L418.1,116.8 L419.0,112.8 L419.9,106.1 L420.8,97.6 L421.7,88.9 L422.6,78.1 L423.5,69.7 L424.4,61.6 L425.3,51.3 L426.2,42.9 L427.1,40.3 L428.0,44.3 L428.9,45.2 L429.8,48.2 L430.7,53.4 L431.6,59.0 L432.5,60.5 L433.4,60.9 L434.3,63.7 L435.2,69.7 L436.1,72.5 L437.0,70.4 L437.9,70.9 L438.8,73.9 L439.7,76.6 L440.6,79.1 L441.5,81.0 L442.4,78.8 L443.3,77.6 L444.2,80.3 L445.1,81.5 L446.0,84.7 L446.9,84.7 L447.8,83.8 L448.7,82.5 L449.6,82.8 L450.5,84.6 L451.4,85.5 L452.3,87.3 L453.2,86.5 L454.1,87.3 L455.0,87.6 L455.9,89.2 L456.8,90.8 L457.7,88.5 L458.6,90.2 L459.5,92.1 L460.4,89.4 L461.3,88.8 L462.2,89.5 L463.1,90.1 L464.0,89.0 L464.9,89.0 L465.8,88.5 L466.7,89.5 L467.6,91.1 L468.5,88.9 L469.4,87.5 L470.3,86.4 L471.2,88.3 L472.1,87.2 L473.0,85.8 L473.9,89.0 L474.8,89.2 L475.7,89.3 L476.6,89.8 L477.5,90.4 L478.4,89.5 L479.3,89.0 L480.2,90.3 L481.1,87.8 L482.0,87.1 L482.9,89.2 L483.8,90.5 L484.7,90.2 L485.6,87.1 L486.5,85.5 L487.4,86.7 L488.3,89.4 L489.2,85.7 L490.1,83.7 L491.0,83.8 L491.9,85.0 L492.8,84.8 L493.7,81.6 L494.6,81.6 L495.5,81.4 L496.4,80.9 L497.3,81.6 L498.2,78.8 L499.1,75.8 M393.8,68.4 L394.7,69.1 L395.6,71.7 L396.5,71.7 L397.4,69.1 L398.3,68.9 L399.2,72.5 L400.1,74.6 L401.0,73.4 L401.9,72.0 L402.8,74.3 L403.7,70.9 L404.6,68.8 L405.5,72.7 L406.4,76.8 L407.3,77.7 L408.2,78.0 L409.1,79.6 L410.0,80.5 L410.9,82.7 L411.8,84.7 L412.7,87.3 L413.6,91.8 L414.5,93.4 L415.4,100.7 L416.3,112.4 L417.2,117.8 L418.1,112.5 L419.0,104.5 L419.9,94.8 L420.8,82.7 L421.7,74.2 L422.6,66.5 L423.5,58.0 L424.4,50.4 L425.3,39.0 L426.2,34.2 L427.1,35.6 L428.0,37.4 L428.9,37.0 L429.8,38.6 L430.7,43.7 L431.6,48.2 L432.5,50.6 L433.4,52.9 L434.3,56.0 L435.2,58.8 L436.1,60.8 L437.0,62.1 L437.9,64.6 L438.8,67.3 L439.7,67.5 L440.6,70.2 L441.5,72.1 L442.4,72.7 L443.3,73.7 L444.2,73.5 L445.1,73.5 L446.0,76.7 L446.9,78.6 L447.8,78.4 L448.7,77.1 L449.6,77.8 L450.5,78.5 L451.4,77.7 L452.3,78.4 L453.2,78.0 L454.1,78.3 L455.0,78.7 L455.9,76.6 L456.8,75.5 L457.7,78.5 L458.6,78.7 L459.5,79.2 L460.4,80.2 L461.3,79.6 L462.2,80.4 L463.1,81.2 L464.0,81.0 L464.9,82.1 L465.8,83.0 L466.7,83.2 L467.6,82.8 L468.5,81.6 L469.4,77.5 L470.3,78.2 L471.2,81.1 L472.1,80.7 L473.0,82.1 L473.9,82.5 L474.8,78.6 L475.7,76.4 L476.6,76.5 L477.5,76.7 L478.4,77.3 L479.3,78.1 L480.2,75.9 L481.1,75.6 L482.0,75.6 L482.9,75.4 L483.8,76.2 L484.7,77.7 L485.6,76.4 L486.5,71.9 L487.4,70.6 L488.3,73.8 L489.2,75.8 L490.1,75.0 L491.0,74.1 L491.9,74.3 L492.8,76.6 L493.7,75.1 L494.6,74.4 L495.5,74.0 L496.4,74.2 L497.3,73.0 L498.2,72.6 L499.1,73.6 M393.8,69.7 L394.7,71.1 L395.6,71.1 L396.5,70.5 L397.4,71.2 L398.3,71.0 L399.2,70.7 L400.1,70.3 L401.0,68.9 L401.9,70.8 L402.8,73.5 L403.7,71.2 L404.6,70.2 L405.5,73.4 L406.4,76.6 L407.3,76.9 L408.2,77.5 L409.1,78.5 L410.0,81.2 L410.9,83.6 L411.8,85.6 L412.7,89.9 L413.6,93.8 L414.5,99.5 L415.4,104.2 L416.3,113.2 L417.2,118.7 L418.1,114.0 L419.0,107.8 L419.9,101.1 L420.8,89.5 L421.7,78.7 L422.6,70.3 L423.5,60.1 L424.4,52.9 L425.3,44.1 L426.2,38.6 L427.1,43.9 L428.0,45.3 L428.9,45.2 L429.8,47.5 L430.7,48.1 L431.6,51.0 L432.5,52.6 L433.4,52.8 L434.3,56.4 L435.2,58.9 L436.1,59.3 L437.0,64.6 L437.9,69.5 L438.8,69.8 L439.7,69.5 L440.6,68.8 L441.5,69.8 L442.4,73.0 L443.3,73.9 L444.2,75.3 L445.1,75.4 L446.0,74.8 L446.9,77.3 L447.8,77.3 L448.7,78.1 L449.6,80.3 L450.5,77.7 L451.4,76.7 L452.3,78.9 L453.2,78.6 L454.1,78.5 L455.0,77.1 L455.9,77.0 L456.8,82.3 L457.7,82.9 L458.6,81.5 L459.5,81.7 L460.4,83.0 L461.3,83.1 L462.2,80.3 L463.1,78.3 L464.0,79.6 L464.9,83.2 L465.8,82.6 L466.7,80.0 L467.6,78.4 L468.5,81.5 L469.4,81.9 L470.3,81.1 L471.2,79.2 L472.1,77.6 L473.0,78.4 L473.9,78.4 L474.8,78.5 L475.7,76.6 L476.6,74.9 L477.5,77.4 L478.4,79.4 L479.3,81.9 L480.2,80.4 L481.1,77.0 L482.0,78.5 L482.9,79.3 L483.8,78.1 L484.7,81.4 L485.6,79.6 L486.5,77.3 L487.4,76.8 L488.3,76.2 L489.2,75.3 L490.1,74.8 L491.0,76.2 L491.9,78.1 L492.8,75.6 L493.7,73.7 L494.6,73.9 L495.5,74.2 L496.4,72.1 L497.3,70.1 L498.2,69.9 L499.1,70.1 M393.8,61.9 L394.7,64.3 L395.6,61.9 L396.5,60.3 L397.4,62.0 L398.3,62.6 L399.2,62.9 L400.1,62.9 L401.0,63.5 L401.9,66.1 L402.8,66.1 L403.7,64.2 L404.6,67.6 L405.5,67.3 L406.4,66.3 L407.3,70.2 L408.2,73.5 L409.1,73.1 L410.0,74.0 L410.9,74.8 L411.8,76.4 L412.7,79.5 L413.6,81.3 L414.5,86.6 L415.4,95.1 L416.3,108.9 L417.2,115.6 L418.1,108.7 L419.0,98.8 L419.9,90.9 L420.8,80.4 L421.7,70.1 L422.6,63.3 L423.5,53.1 L424.4,44.1 L425.3,37.9 L426.2,33.6 L427.1,34.5 L428.0,35.1 L428.9,38.4 L429.8,42.9 L430.7,46.7 L431.6,49.2 L432.5,49.1 L433.4,47.8 L434.3,51.6 L435.2,57.5 L436.1,60.3 L437.0,60.4 L437.9,62.9 L438.8,63.7 L439.7,66.3 L440.6,65.5 L441.5,66.6 L442.4,69.0 L443.3,73.5 L444.2,71.8 L445.1,67.7 L446.0,68.2 L446.9,68.0 L447.8,69.4 L448.7,71.6 L449.6,73.6 L450.5,72.8 L451.4,74.3 L452.3,73.9 L453.2,69.7 L454.1,71.2 L455.0,70.6 L455.9,68.4 L456.8,70.4 L457.7,73.4 L458.6,74.0 L459.5,74.5 L460.4,74.9 L461.3,74.3 L462.2,72.1 L463.1,73.1 L464.0,75.7 L464.9,73.8 L465.8,73.0 L466.7,74.4 L467.6,74.8 L468.5,74.9 L469.4,75.3 L470.3,73.5 L471.2,73.9 L472.1,78.1 L473.0,78.9 L473.9,75.4 L474.8,72.4 L475.7,72.1 L476.6,71.4 L477.5,70.4 L478.4,72.0 L479.3,73.1 L480.2,71.4 L481.1,73.2 L482.0,73.1 L482.9,70.6 L483.8,70.0 L484.7,69.8 L485.6,73.3 L486.5,74.6 L487.4,69.4 L488.3,66.6 L489.2,67.6 L490.1,69.1 L491.0,70.3 L491.9,68.9 L492.8,71.1 L493.7,70.5 L494.6,66.1 L495.5,66.9 L496.4,67.7 L497.3,67.9 L498.2,71.1 L499.1,68.9 M393.8,73.5 L394.7,74.3 L395.6,71.8 L396.5,72.8 L397.4,74.7 L398.3,77.8 L399.2,76.5 L400.1,74.3 L401.0,74.2 L401.9,78.3 L402.8,80.3 L403.7,76.7 L404.6,78.0 L405.5,77.3 L406.4,78.6 L407.3,81.9 L408.2,80.8 L409.1,82.2 L410.0,84.8 L410.9,89.0 L411.8,88.7 L412.7,89.7 L413.6,92.4 L414.5,95.8 L415.4,102.7 L416.3,113.0 L417.2,118.3 L418.1,113.1 L419.0,106.2 L419.9,100.0 L420.8,90.6 L421.7,83.1 L422.6,74.5 L423.5,64.7 L424.4,55.6 L425.3,44.7 L426.2,42.5 L427.1,44.6 L428.0,45.2 L428.9,45.2 L429.8,50.0 L430.7,53.3 L431.6,53.5 L432.5,56.4 L433.4,61.1 L434.3,62.2 L435.2,65.3 L436.1,70.6 L437.0,72.5 L437.9,75.2 L438.8,76.8 L439.7,78.6 L440.6,82.4 L441.5,83.5 L442.4,82.4 L443.3,83.2 L444.2,83.0 L445.1,80.2 L446.0,82.4 L446.9,81.1 L447.8,80.2 L448.7,85.5 L449.6,86.7 L450.5,83.2 L451.4,81.6 L452.3,82.8 L453.2,81.2 L454.1,82.2 L455.0,79.6 L455.9,78.4 L456.8,82.0 L457.7,80.7 L458.6,81.6 L459.5,83.2 L460.4,82.5 L461.3,83.5 L462.2,84.5 L463.1,83.6 L464.0,84.7 L464.9,87.9 L465.8,86.0 L466.7,84.5 L467.6,83.2 L468.5,82.5 L469.4,83.4 L470.3,83.9 L471.2,84.0 L472.1,82.0 L473.0,81.5 L473.9,82.3 L474.8,83.4 L475.7,81.5 L476.6,81.9 L477.5,83.9 L478.4,83.8 L479.3,85.8 L480.2,83.9 L481.1,80.8 L482.0,81.4 L482.9,83.7 L483.8,82.1 L484.7,81.7 L485.6,82.8 L486.5,81.7 L487.4,78.0 L488.3,77.5 L489.2,80.1 L490.1,78.0 L491.0,77.0 L491.9,75.4 L492.8,73.6 L493.7,75.5 L494.6,75.7 L495.5,76.1 L496.4,76.8 L497.3,76.1 L498.2,73.5 L499.1,73.2 M393.8,66.6 L394.7,65.4 L395.6,68.9 L396.5,68.7 L397.4,65.4 L398.3,66.8 L399.2,67.1 L400.1,67.3 L401.0,68.4 L401.9,67.1 L402.8,68.8 L403.7,71.9 L404.6,71.5 L405.5,73.4 L406.4,73.4 L407.3,71.7 L408.2,74.9 L409.1,76.9 L410.0,77.3 L410.9,80.7 L411.8,82.8 L412.7,85.4 L413.6,88.2 L414.5,91.9 L415.4,99.5 L416.3,111.5 L417.2,117.8 L418.1,113.6 L419.0,104.7 L419.9,96.7 L420.8,87.1 L421.7,75.6 L422.6,64.3 L423.5,57.9 L424.4,50.9 L425.3,40.4 L426.2,38.4 L427.1,39.9 L428.0,43.3 L428.9,46.7 L429.8,45.8 L430.7,45.6 L431.6,51.0 L432.5,52.6 L433.4,54.8 L434.3,58.4 L435.2,60.1 L436.1,63.5 L437.0,64.4 L437.9,62.1 L438.8,63.9 L439.7,65.7 L440.6,67.0 L441.5,68.3 L442.4,68.3 L443.3,66.9 L444.2,73.0 L445.1,75.1 L446.0,72.2 L446.9,71.8 L447.8,71.9 L448.7,76.0 L449.6,76.4 L450.5,73.8 L451.4,71.7 L452.3,73.0 L453.2,75.4 L454.1,75.7 L455.0,77.9 L455.9,78.5 L456.8,75.0 L457.7,76.8 L458.6,78.2 L459.5,77.9 L460.4,79.2 L461.3,78.2 L462.2,76.3 L463.1,79.1 L464.0,79.9 L464.9,80.4 L465.8,77.2 L466.7,76.8 L467.6,79.6 L468.5,79.0 L469.4,77.5 L470.3,78.6 L471.2,77.3 L472.1,78.2 L473.0,80.0 L473.9,79.4 L474.8,77.6 L475.7,77.7 L476.6,78.5 L477.5,77.7 L478.4,77.7 L479.3,78.0 L480.2,78.5 L481.1,78.1 L482.0,77.3 L482.9,77.6 L483.8,76.5 L484.7,78.3 L485.6,77.2 L486.5,76.1 L487.4,79.4 L488.3,78.3 L489.2,77.3 L490.1,77.7 L491.0,78.9 L491.9,78.2 L492.8,77.7 L493.7,74.9 L494.6,71.6 L495.5,73.8 L496.4,77.2 L497.3,76.5 L498.2,75.2 L499.1,74.9 M393.8,69.3 L394.7,68.0 L395.6,62.7 L396.5,65.3 L397.4,71.0 L398.3,67.3 L399.2,67.0 L400.1,69.6 L401.0,68.2 L401.9,66.4 L402.8,67.4 L403.7,68.4 L404.6,70.1 L405.5,70.5 L406.4,69.6 L407.3,71.9 L408.2,75.6 L409.1,76.5 L410.0,79.9 L410.9,82.5 L411.8,83.1 L412.7,84.0 L413.6,88.4 L414.5,92.0 L415.4,100.1 L416.3,112.5 L417.2,118.2 L418.1,113.9 L419.0,105.8 L419.9,97.1 L420.8,87.6 L421.7,77.7 L422.6,71.3 L423.5,61.7 L424.4,51.0 L425.3,41.2 L426.2,37.1 L427.1,38.4 L428.0,39.2 L428.9,39.9 L429.8,42.6 L430.7,44.4 L431.6,47.0 L432.5,49.9 L433.4,52.6 L434.3,51.0 L435.2,52.8 L436.1,57.4 L437.0,61.2 L437.9,61.0 L438.8,61.9 L439.7,64.0 L440.6,67.6 L441.5,66.3 L442.4,66.5 L443.3,69.1 L444.2,70.9 L445.1,70.1 L446.0,70.8 L446.9,72.9 L447.8,74.8 L448.7,75.7 L449.6,74.4 L450.5,72.0 L451.4,73.2 L452.3,75.7 L453.2,76.6 L454.1,75.6 L455.0,76.4 L455.9,77.3 L456.8,75.0 L457.7,76.5 L458.6,75.7 L459.5,76.1 L460.4,79.4 L461.3,78.4 L462.2,77.7 L463.1,78.3 L464.0,76.3 L464.9,73.5 L465.8,73.5 L466.7,76.3 L467.6,75.4 L468.5,73.1 L469.4,74.6 L470.3,76.1 L471.2,73.5 L472.1,74.3 L473.0,76.7 L473.9,75.5 L474.8,75.3 L475.7,74.2 L476.6,74.7 L477.5,76.0 L478.4,77.5 L479.3,76.8 L480.2,73.8 L481.1,75.0 L482.0,77.6 L482.9,77.7 L483.8,76.2 L484.7,72.9 L485.6,73.1 L486.5,75.8 L487.4,77.3 L488.3,76.6 L489.2,75.9 L490.1,74.3 L491.0,73.3 L491.9,73.2 L492.8,71.7 L493.7,70.4 L494.6,70.3 L495.5,70.6 L496.4,73.5 L497.3,75.1 L498.2,72.6 L499.1,69.8 M393.8,78.4 L394.7,76.3 L395.6,78.0 L396.5,80.5 L397.4,82.4 L398.3,80.1 L399.2,78.2 L400.1,79.8 L401.0,78.2 L401.9,78.5 L402.8,80.2 L403.7,80.2 L404.6,82.4 L405.5,80.9 L406.4,79.4 L407.3,82.7 L408.2,86.4 L409.1,86.7 L410.0,88.3 L410.9,90.9 L411.8,95.2 L412.7,100.2 L413.6,102.1 L414.5,103.8 L415.4,109.4 L416.3,117.4 L417.2,120.3 L418.1,116.2 L419.0,109.4 L419.9,103.6 L420.8,95.5 L421.7,85.3 L422.6,77.3 L423.5,71.3 L424.4,61.8 L425.3,49.8 L426.2,46.6 L427.1,50.8 L428.0,52.3 L428.9,55.2 L429.8,59.2 L430.7,60.7 L431.6,61.1 L432.5,64.9 L433.4,66.8 L434.3,68.2 L435.2,72.1 L436.1,75.3 L437.0,77.3 L437.9,78.5 L438.8,81.0 L439.7,84.1 L440.6,83.6 L441.5,85.6 L442.4,84.8 L443.3,85.4 L444.2,88.3 L445.1,89.2 L446.0,88.8 L446.9,89.4 L447.8,86.5 L448.7,87.0 L449.6,88.8 L450.5,87.9 L451.4,88.5 L452.3,90.1 L453.2,88.6 L454.1,90.2 L455.0,90.4 L455.9,92.2 L456.8,93.3 L457.7,90.8 L458.6,90.1 L459.5,90.9 L460.4,90.8 L461.3,89.7 L462.2,88.0 L463.1,88.6 L464.0,89.5 L464.9,91.9 L465.8,90.8 L466.7,88.5 L467.6,88.7 L468.5,90.1 L469.4,90.4 L470.3,90.4 L471.2,89.5 L472.1,91.5 L473.0,91.9 L473.9,88.5 L474.8,88.9 L475.7,88.9 L476.6,89.0 L477.5,88.8 L478.4,88.4 L479.3,89.8 L480.2,88.8 L481.1,88.8 L482.0,89.5 L482.9,88.6 L483.8,88.9 L484.7,89.6 L485.6,88.9 L486.5,88.4 L487.4,86.0 L488.3,86.2 L489.2,86.6 L490.1,87.3 L491.0,88.2 L491.9,88.3 L492.8,88.5 L493.7,87.0 L494.6,85.3 L495.5,86.5 L496.4,84.2 L497.3,83.9 L498.2,85.1 L499.1,83.5 M393.8,79.3 L394.7,79.7 L395.6,81.3 L396.5,80.5 L397.4,78.7 L398.3,78.5 L399.2,77.4 L400.1,79.4 L401.0,79.8 L401.9,78.1 L402.8,75.7 L403.7,77.8 L404.6,79.1 L405.5,79.2 L406.4,77.3 L407.3,77.7 L408.2,79.7 L409.1,82.2 L410.0,88.1 L410.9,90.9 L411.8,89.7 L412.7,91.9 L413.6,94.5 L414.5,97.7 L415.4,102.9 L416.3,114.1 L417.2,119.2 L418.1,114.3 L419.0,107.2 L419.9,99.7 L420.8,91.4 L421.7,80.3 L422.6,70.1 L423.5,64.2 L424.4,55.0 L425.3,43.7 L426.2,41.3 L427.1,42.9 L428.0,46.1 L428.9,49.1 L429.8,51.5 L430.7,54.7 L431.6,57.5 L432.5,59.9 L433.4,61.8 L434.3,62.7 L435.2,65.8 L436.1,69.5 L437.0,72.0 L437.9,73.7 L438.8,74.3 L439.7,72.1 L440.6,75.9 L441.5,79.8 L442.4,81.1 L443.3,79.9 L444.2,82.0 L445.1,86.7 L446.0,86.8 L446.9,88.8 L447.8,87.0 L448.7,84.3 L449.6,87.5 L450.5,88.8 L451.4,86.6 L452.3,85.1 L453.2,87.7 L454.1,88.1 L455.0,86.7 L455.9,86.0 L456.8,84.5 L457.7,89.4 L458.6,89.9 L459.5,88.3 L460.4,88.1 L461.3,89.3 L462.2,89.6 L463.1,91.7 L464.0,91.7 L464.9,92.1 L465.8,92.6 L466.7,90.7 L467.6,89.5 L468.5,90.2 L469.4,91.9 L470.3,90.7 L471.2,91.1 L472.1,91.9 L473.0,90.3 L473.9,90.1 L474.8,90.2 L475.7,90.8 L476.6,88.1 L477.5,88.3 L478.4,89.0 L479.3,89.0 L480.2,89.9 L481.1,88.0 L482.0,87.1 L482.9,87.6 L483.8,89.7 L484.7,89.4 L485.6,88.5 L486.5,89.6 L487.4,86.4 L488.3,89.2 L489.2,88.7 L490.1,86.5 L491.0,87.0 L491.9,86.1 L492.8,84.3 L493.7,84.8 L494.6,85.6 L495.5,83.0 L496.4,80.6 L497.3,79.1 L498.2,77.3 L499.1,75.8 M393.8,72.8 L394.7,73.0 L395.6,74.5 L396.5,74.5 L397.4,74.2 L398.3,76.2 L399.2,75.4 L400.1,75.0 L401.0,75.7 L401.9,76.0 L402.8,76.9 L403.7,78.3 L404.6,76.7 L405.5,78.2 L406.4,80.6 L407.3,79.4 L408.2,78.7 L409.1,82.5 L410.0,85.0 L410.9,87.4 L411.8,89.9 L412.7,91.2 L413.6,96.5 L414.5,98.5 L415.4,103.8 L416.3,113.2 L417.2,118.3 L418.1,114.7 L419.0,107.8 L419.9,99.4 L420.8,91.5 L421.7,81.6 L422.6,70.2 L423.5,60.2 L424.4,50.5 L425.3,41.5 L426.2,38.0 L427.1,39.7 L428.0,42.5 L428.9,44.5 L429.8,48.2 L430.7,49.6 L431.6,49.5 L432.5,52.4 L433.4,57.2 L434.3,59.5 L435.2,63.6 L436.1,68.6 L437.0,70.2 L437.9,70.2 L438.8,69.5 L439.7,70.3 L440.6,72.5 L441.5,73.9 L442.4,77.4 L443.3,78.7 L444.2,77.6 L445.1,77.6 L446.0,77.7 L446.9,78.5 L447.8,80.6 L448.7,80.1 L449.6,80.7 L450.5,78.7 L451.4,79.2 L452.3,81.6 L453.2,81.5 L454.1,81.4 L455.0,79.3 L455.9,79.9 L456.8,80.9 L457.7,83.4 L458.6,82.7 L459.5,82.3 L460.4,84.5 L461.3,84.6 L462.2,84.9 L463.1,85.3 L464.0,84.9 L464.9,81.6 L465.8,81.1 L466.7,77.4 L467.6,77.5 L468.5,82.2 L469.4,82.4 L470.3,80.9 L471.2,81.3 L472.1,81.7 L473.0,82.5 L473.9,83.2 L474.8,81.4 L475.7,82.4 L476.6,85.8 L477.5,84.7 L478.4,83.9 L479.3,83.3 L480.2,85.7 L481.1,86.8 L482.0,83.5 L482.9,82.9 L483.8,80.8 L484.7,80.5 L485.6,79.8 L486.5,80.0 L487.4,82.1 L488.3,83.2 L489.2,85.0 L490.1,82.9 L491.0,82.3 L491.9,80.0 L492.8,79.9 L493.7,79.9 L494.6,77.4 L495.5,76.7 L496.4,75.0 L497.3,77.5 L498.2,78.8 L499.1,77.7 M393.8,72.0 L394.7,73.1 L395.6,74.1 L396.5,75.8 L397.4,78.0 L398.3,75.8 L399.2,75.0 L400.1,76.7 L401.0,75.2 L401.9,74.2 L402.8,76.1 L403.7,77.7 L404.6,79.1 L405.5,78.4 L406.4,77.3 L407.3,81.0 L408.2,81.9 L409.1,81.9 L410.0,83.1 L410.9,83.2 L411.8,85.0 L412.7,86.2 L413.6,89.9 L414.5,98.0 L415.4,103.0 L416.3,113.3 L417.2,118.5 L418.1,112.8 L419.0,105.9 L419.9,101.4 L420.8,94.2 L421.7,83.6 L422.6,69.3 L423.5,61.8 L424.4,56.9 L425.3,48.7 L426.2,44.2 L427.1,43.4 L428.0,45.1 L428.9,47.3 L429.8,47.5 L430.7,49.4 L431.6,55.7 L432.5,57.8 L433.4,57.1 L434.3,59.5 L435.2,64.7 L436.1,67.3 L437.0,68.1 L437.9,69.4 L438.8,69.6 L439.7,73.6 L440.6,75.7 L441.5,75.1 L442.4,74.9 L443.3,79.2 L444.2,81.4 L445.1,80.0 L446.0,79.1 L446.9,79.7 L447.8,77.7 L448.7,77.7 L449.6,79.9 L450.5,81.0 L451.4,80.3 L452.3,79.0 L453.2,80.4 L454.1,82.5 L455.0,81.4 L455.9,79.3 L456.8,81.7 L457.7,83.4 L458.6,82.3 L459.5,80.2 L460.4,80.4 L461.3,83.5 L462.2,84.2 L463.1,83.7 L464.0,84.0 L464.9,83.9 L465.8,81.7 L466.7,81.4 L467.6,84.7 L468.5,85.2 L469.4,83.9 L470.3,83.1 L471.2,81.3 L472.1,81.1 L473.0,81.8 L473.9,83.5 L474.8,82.3 L475.7,83.6 L476.6,83.3 L477.5,83.9 L478.4,85.2 L479.3,83.5 L480.2,82.6 L481.1,84.4 L482.0,84.6 L482.9,82.2 L483.8,82.3 L484.7,82.1 L485.6,81.7 L486.5,82.4 L487.4,80.9 L488.3,81.4 L489.2,80.2 L490.1,79.2 L491.0,77.9 L491.9,77.5 L492.8,78.0 L493.7,78.1 L494.6,77.1 L495.5,75.1 L496.4,74.9 L497.3,74.6 L498.2,74.6 L499.1,74.7 M393.8,67.8 L394.7,69.6 L395.6,71.4 L396.5,70.1 L397.4,70.5 L398.3,72.2 L399.2,72.9 L400.1,70.8 L401.0,70.0 L401.9,72.3 L402.8,72.9 L403.7,71.7 L404.6,74.4 L405.5,75.7 L406.4,75.4 L407.3,78.8 L408.2,83.2 L409.1,83.5 L410.0,82.7 L410.9,86.1 L411.8,85.7 L412.7,86.6 L413.6,93.7 L414.5,98.6 L415.4,102.7 L416.3,113.4 L417.2,118.2 L418.1,113.1 L419.0,105.1 L419.9,96.2 L420.8,86.1 L421.7,76.0 L422.6,68.2 L423.5,61.1 L424.4,55.3 L425.3,47.3 L426.2,40.5 L427.1,39.6 L428.0,41.7 L428.9,44.7 L429.8,50.1 L430.7,54.3 L431.6,52.2 L432.5,51.3 L433.4,54.9 L434.3,57.8 L435.2,59.4 L436.1,64.0 L437.0,65.9 L437.9,68.7 L438.8,70.7 L439.7,69.4 L440.6,73.4 L441.5,75.1 L442.4,71.0 L443.3,71.6 L444.2,72.8 L445.1,74.3 L446.0,74.5 L446.9,77.3 L447.8,80.3 L448.7,78.3 L449.6,77.3 L450.5,79.4 L451.4,81.5 L452.3,80.6 L453.2,83.2 L454.1,86.1 L455.0,85.4 L455.9,85.4 L456.8,87.3 L457.7,88.0 L458.6,88.6 L459.5,89.2 L460.4,88.5 L461.3,88.0 L462.2,88.4 L463.1,85.1 L464.0,83.9 L464.9,84.0 L465.8,83.6 L466.7,84.3 L467.6,86.0 L468.5,88.1 L469.4,86.7 L470.3,86.0 L471.2,87.4 L472.1,87.8 L473.0,87.3 L473.9,86.7 L474.8,86.3 L475.7,85.9 L476.6,86.4 L477.5,87.0 L478.4,84.9 L479.3,81.4 L480.2,83.0 L481.1,84.6 L482.0,83.6 L482.9,84.9 L483.8,83.0 L484.7,80.1 L485.6,78.8 L486.5,80.6 L487.4,80.0 L488.3,76.1 L489.2,77.0 L490.1,77.1 L491.0,73.9 L491.9,74.2 L492.8,75.1 L493.7,74.9 L494.6,74.4 L495.5,75.1 L496.4,74.4 L497.3,73.9 L498.2,73.6 L499.1,72.9 M393.8,68.4 L394.7,68.0 L395.6,68.4 L396.5,69.2 L397.4,67.5 L398.3,66.8 L399.2,68.6 L400.1,68.0 L401.0,68.0 L401.9,71.0 L402.8,70.9 L403.7,68.5 L404.6,71.0 L405.5,71.8 L406.4,69.5 L407.3,68.7 L408.2,70.9 L409.1,73.6 L410.0,76.4 L410.9,79.7 L411.8,82.5 L412.7,83.6 L413.6,82.4 L414.5,89.9 L415.4,98.6 L416.3,110.4 L417.2,117.3 L418.1,111.5 L419.0,102.0 L419.9,93.9 L420.8,85.0 L421.7,74.8 L422.6,62.6 L423.5,53.4 L424.4,48.6 L425.3,40.6 L426.2,34.7 L427.1,36.0 L428.0,37.6 L428.9,38.1 L429.8,40.4 L430.7,45.5 L431.6,49.4 L432.5,50.5 L433.4,54.6 L434.3,57.5 L435.2,58.9 L436.1,61.7 L437.0,64.9 L437.9,66.7 L438.8,66.8 L439.7,69.8 L440.6,68.4 L441.5,69.2 L442.4,71.5 L443.3,71.5 L444.2,73.2 L445.1,71.8 L446.0,71.9 L446.9,70.9 L447.8,69.6 L448.7,70.6 L449.6,71.4 L450.5,71.8 L451.4,73.1 L452.3,74.6 L453.2,74.8 L454.1,74.6 L455.0,73.1 L455.9,75.3 L456.8,75.8 L457.7,76.2 L458.6,76.5 L459.5,76.5 L460.4,76.5 L461.3,78.0 L462.2,81.8 L463.1,78.7 L464.0,76.0 L464.9,75.4 L465.8,77.7 L466.7,78.4 L467.6,76.1 L468.5,77.6 L469.4,77.1 L470.3,75.9 L471.2,75.1 L472.1,74.9 L473.0,74.8 L473.9,76.1 L474.8,77.0 L475.7,76.2 L476.6,76.4 L477.5,77.0 L478.4,77.5 L479.3,75.8 L480.2,77.6 L481.1,77.1 L482.0,76.8 L482.9,78.3 L483.8,78.2 L484.7,77.1 L485.6,73.6 L486.5,73.2 L487.4,72.4 L488.3,72.2 L489.2,71.7 L490.1,70.9 L491.0,72.0 L491.9,71.6 L492.8,72.0 L493.7,73.1 L494.6,70.2 L495.5,70.4 L496.4,71.3 L497.3,70.1 L498.2,70.3 L499.1,72.6 M393.8,62.0 L394.7,62.7 L395.6,60.5 L396.5,60.4 L397.4,62.3 L398.3,60.9 L399.2,62.6 L400.1,61.5 L401.0,59.8 L401.9,61.4 L402.8,63.6 L403.7,64.9 L404.6,64.4 L405.5,64.2 L406.4,65.3 L407.3,65.9 L408.2,66.5 L409.1,68.3 L410.0,69.5 L410.9,72.6 L411.8,74.8 L412.7,76.5 L413.6,81.4 L414.5,85.3 L415.4,93.3 L416.3,110.1 L417.2,116.8 L418.1,110.4 L419.0,100.7 L419.9,92.0 L420.8,81.8 L421.7,72.5 L422.6,63.0 L423.5,54.6 L424.4,44.8 L425.3,36.9 L426.2,37.4 L427.1,40.3 L428.0,38.7 L428.9,38.5 L429.8,40.6 L430.7,43.0 L431.6,44.7 L432.5,44.5 L433.4,46.0 L434.3,49.7 L435.2,52.3 L436.1,54.2 L437.0,55.5 L437.9,56.8 L438.8,58.9 L439.7,59.8 L440.6,61.1 L441.5,63.4 L442.4,66.9 L443.3,67.3 L444.2,64.1 L445.1,64.6 L446.0,65.2 L446.9,66.3 L447.8,69.2 L448.7,68.2 L449.6,69.7 L450.5,72.7 L451.4,74.4 L452.3,72.1 L453.2,73.2 L454.1,74.2 L455.0,71.7 L455.9,74.1 L456.8,74.7 L457.7,72.6 L458.6,71.7 L459.5,72.8 L460.4,73.0 L461.3,73.0 L462.2,71.5 L463.1,71.2 L464.0,70.6 L464.9,69.6 L465.8,70.5 L466.7,70.7 L467.6,71.4 L468.5,72.0 L469.4,73.5 L470.3,71.7 L471.2,73.0 L472.1,71.1 L473.0,67.8 L473.9,68.8 L474.8,67.4 L475.7,65.9 L476.6,67.8 L477.5,67.7 L478.4,68.6 L479.3,69.9 L480.2,70.4 L481.1,68.0 L482.0,65.9 L482.9,65.0 L483.8,64.6 L484.7,64.0 L485.6,65.1 L486.5,62.9 L487.4,61.4 L488.3,65.0 L489.2,66.4 L490.1,64.2 L491.0,63.4 L491.9,64.1 L492.8,64.0 L493.7,65.3 L494.6,64.7 L495.5,64.3 L496.4,63.9 L497.3,66.1 L498.2,67.0 L499.1,65.8 M393.8,51.0 L394.7,52.3 L395.6,51.8 L396.5,52.3 L397.4,53.1 L398.3,53.0 L399.2,52.6 L400.1,52.9 L401.0,54.6 L401.9,55.1 L402.8,54.3 L403.7,56.8 L404.6,57.4 L405.5,55.0 L406.4,55.5 L407.3,56.2 L408.2,56.3 L409.1,59.4 L410.0,63.6 L410.9,62.7 L411.8,63.4 L412.7,68.3 L413.6,71.7 L414.5,74.5 L415.4,83.5 L416.3,104.6 L417.2,114.0 L418.1,106.4 L419.0,94.4 L419.9,82.2 L420.8,71.9 L421.7,59.5 L422.6,48.8 L423.5,39.6 L424.4,31.3 L425.3,25.0 L426.2,22.6 L427.1,24.2 L428.0,25.1 L428.9,25.9 L429.8,30.2 L430.7,30.6 L431.6,29.9 L432.5,31.8 L433.4,34.9 L434.3,37.9 L435.2,41.2 L436.1,42.9 L437.0,43.1 L437.9,45.8 L438.8,46.9 L439.7,49.1 L440.6,52.5 L441.5,53.8 L442.4,54.6 L443.3,53.7 L444.2,55.2 L445.1,54.5 L446.0,53.2 L446.9,54.1 L447.8,55.1 L448.7,56.1 L449.6,55.9 L450.5,56.8 L451.4,59.5 L452.3,58.9 L453.2,58.8 L454.1,59.0 L455.0,61.6 L455.9,61.9 L456.8,57.9 L457.7,59.8 L458.6,61.7 L459.5,62.2 L460.4,62.9 L461.3,62.5 L462.2,61.9 L463.1,59.7 L464.0,60.9 L464.9,61.9 L465.8,62.3 L466.7,64.7 L467.6,66.1 L468.5,64.0 L469.4,60.2 L470.3,63.0 L471.2,65.7 L472.1,63.6 L473.0,62.5 L473.9,63.6 L474.8,63.3 L475.7,61.3 L476.6,60.1 L477.5,62.0 L478.4,61.7 L479.3,59.2 L480.2,55.9 L481.1,55.6 L482.0,56.2 L482.9,55.7 L483.8,55.0 L484.7,54.8 L485.6,56.2 L486.5,55.2 L487.4,54.4 L488.3,55.0 L489.2,58.3 L490.1,58.2 L491.0,56.1 L491.9,60.2 L492.8,60.9 L493.7,59.4 L494.6,59.4 L495.5,60.1 L496.4,59.3 L497.3,58.2 L498.2,55.8 L499.1,57.5 M393.8,57.9 L394.7,58.9 L395.6,60.7 L396.5,62.0 L397.4,59.4 L398.3,59.6 L399.2,63.8 L400.1,63.1 L401.0,60.7 L401.9,61.5 L402.8,64.1 L403.7,62.9 L404.6,61.2 L405.5,61.1 L406.4,64.4 L407.3,64.6 L408.2,63.5 L409.1,66.5 L410.0,68.5 L410.9,68.3 L411.8,70.3 L412.7,73.8 L413.6,76.4 L414.5,81.4 L415.4,91.3 L416.3,107.2 L417.2,115.3 L418.1,109.0 L419.0,98.1 L419.9,89.7 L420.8,80.4 L421.7,69.3 L422.6,61.3 L423.5,50.2 L424.4,40.8 L425.3,31.2 L426.2,26.8 L427.1,27.0 L428.0,27.6 L428.9,30.5 L429.8,35.1 L430.7,38.9 L431.6,39.8 L432.5,38.0 L433.4,37.3 L434.3,40.9 L435.2,44.2 L436.1,47.3 L437.0,50.2 L437.9,48.9 L438.8,50.1 L439.7,54.0 L440.6,54.3 L441.5,55.7 L442.4,58.1 L443.3,59.9 L444.2,60.6 L445.1,63.2 L446.0,65.0 L446.9,65.3 L447.8,66.5 L448.7,66.6 L449.6,66.2 L450.5,64.7 L451.4,64.9 L452.3,64.2 L453.2,66.3 L454.1,67.1 L455.0,65.7 L455.9,66.4 L456.8,69.8 L457.7,66.8 L458.6,64.2 L459.5,68.1 L460.4,68.7 L461.3,66.2 L462.2,69.3 L463.1,69.3 L464.0,68.2 L464.9,67.9 L465.8,67.7 L466.7,67.0 L467.6,68.3 L468.5,67.6 L469.4,68.2 L470.3,68.6 L471.2,65.8 L472.1,64.3 L473.0,66.5 L473.9,66.5 L474.8,68.8 L475.7,68.4 L476.6,65.8 L477.5,65.2 L478.4,65.8 L479.3,63.0 L480.2,61.9 L481.1,64.6 L482.0,66.3 L482.9,66.7 L483.8,65.5 L484.7,63.4 L485.6,63.6 L486.5,61.9 L487.4,61.7 L488.3,61.3 L489.2,62.0 L490.1,62.6 L491.0,64.0 L491.9,67.7 L492.8,69.5 L493.7,68.1 L494.6,64.3 L495.5,62.9 L496.4,62.5 L497.3,62.9 L498.2,62.4 L499.1,61.2 M393.8,70.4 L394.7,73.4 L395.6,73.4 L396.5,72.2 L397.4,71.8 L398.3,71.9 L399.2,71.2 L400.1,70.1 L401.0,70.4 L401.9,72.8 L402.8,71.0 L403.7,72.3 L404.6,75.0 L405.5,73.5 L406.4,70.6 L407.3,71.2 L408.2,75.7 L409.1,77.3 L410.0,74.6 L410.9,77.7 L411.8,81.6 L412.7,81.6 L413.6,84.4 L414.5,88.3 L415.4,94.2 L416.3,110.5 L417.2,117.2 L418.1,112.3 L419.0,103.9 L419.9,95.1 L420.8,84.7 L421.7,74.5 L422.6,68.0 L423.5,58.7 L424.4,48.5 L425.3,39.3 L426.2,34.9 L427.1,39.5 L428.0,41.5 L428.9,41.4 L429.8,44.6 L430.7,48.0 L431.6,49.6 L432.5,50.0 L433.4,49.8 L434.3,51.7 L435.2,56.9 L436.1,60.7 L437.0,62.0 L437.9,64.4 L438.8,67.0 L439.7,67.4 L440.6,67.3 L441.5,70.3 L442.4,72.6 L443.3,71.1 L444.2,71.4 L445.1,74.4 L446.0,72.7 L446.9,74.8 L447.8,78.7 L448.7,77.6 L449.6,79.6 L450.5,77.9 L451.4,74.0 L452.3,74.0 L453.2,75.5 L454.1,78.6 L455.0,79.6 L455.9,77.7 L456.8,77.9 L457.7,78.6 L458.6,80.5 L459.5,81.2 L460.4,77.1 L461.3,77.0 L462.2,79.3 L463.1,82.5 L464.0,79.7 L464.9,80.4 L465.8,81.9 L466.7,79.2 L467.6,78.5 L468.5,77.5 L469.4,78.7 L470.3,79.5 L471.2,79.0 L472.1,80.0 L473.0,81.2 L473.9,80.6 L474.8,80.9 L475.7,82.8 L476.6,81.1 L477.5,78.9 L478.4,79.0 L479.3,78.4 L480.2,75.9 L481.1,76.2 L482.0,75.2 L482.9,73.6 L483.8,72.0 L484.7,74.7 L485.6,74.0 L486.5,72.8 L487.4,74.7 L488.3,73.1 L489.2,72.8 L490.1,71.2 L491.0,69.9 L491.9,71.9 L492.8,75.3 L493.7,75.3 L494.6,70.7 L495.5,70.1 L496.4,75.3 L497.3,74.0 L498.2,69.5 L499.1,69.4 M393.8,80.3 L394.7,80.6 L395.6,79.8 L396.5,80.2 L397.4,81.7 L398.3,79.7 L399.2,77.2 L400.1,78.9 L401.0,81.4 L401.9,79.3 L402.8,78.7 L403.7,82.3 L404.6,83.0 L405.5,82.5 L406.4,83.8 L407.3,84.3 L408.2,86.8 L409.1,86.9 L410.0,89.5 L410.9,92.0 L411.8,92.1 L412.7,95.7 L413.6,99.4 L414.5,100.9 L415.4,108.1 L416.3,116.3 L417.2,119.9 L418.1,116.0 L419.0,109.4 L419.9,102.2 L420.8,93.0 L421.7,85.1 L422.6,78.8 L423.5,69.8 L424.4,59.7 L425.3,50.4 L426.2,45.3 L427.1,45.4 L428.0,47.9 L428.9,48.6 L429.8,50.8 L430.7,53.9 L431.6,57.7 L432.5,61.0 L433.4,63.9 L434.3,66.2 L435.2,65.8 L436.1,68.0 L437.0,72.8 L437.9,73.1 L438.8,72.8 L439.7,76.1 L440.6,80.8 L441.5,82.8 L442.4,83.6 L443.3,82.8 L444.2,84.1 L445.1,84.9 L446.0,84.9 L446.9,86.0 L447.8,86.3 L448.7,87.3 L449.6,88.3 L450.5,88.4 L451.4,88.1 L452.3,87.5 L453.2,87.9 L454.1,87.9 L455.0,88.3 L455.9,86.7 L456.8,87.5 L457.7,87.9 L458.6,88.6 L459.5,87.9 L460.4,88.2 L461.3,88.6 L462.2,88.3 L463.1,87.8 L464.0,88.7 L464.9,90.6 L465.8,90.5 L466.7,92.5 L467.6,91.9 L468.5,88.1 L469.4,91.3 L470.3,90.7 L471.2,89.1 L472.1,90.0 L473.0,90.4 L473.9,92.1 L474.8,90.6 L475.7,88.7 L476.6,90.1 L477.5,90.3 L478.4,92.6 L479.3,89.6 L480.2,87.4 L481.1,88.2 L482.0,87.1 L482.9,86.2 L483.8,86.5 L484.7,86.1 L485.6,86.2 L486.5,83.8 L487.4,85.5 L488.3,85.5 L489.2,83.3 L490.1,82.2 L491.0,84.9 L491.9,83.4 L492.8,83.3 L493.7,83.5 L494.6,82.1 L495.5,84.8 L496.4,82.7 L497.3,79.1 L498.2,81.8 L499.1,82.6 M393.8,86.0 L394.7,86.3 L395.6,86.7 L396.5,87.0 L397.4,87.3 L398.3,87.5 L399.2,87.8 L400.1,88.0 L401.0,88.2 L401.9,88.3 L402.8,88.5 L403.7,88.6 L404.6,88.9 L405.5,89.3 L406.4,90.2 L407.3,90.0 L408.2,90.9 L409.1,91.6 L410.0,92.1 L410.9,95.5 L411.8,95.9 L412.7,100.0 L413.6,104.9 L414.5,107.2 L415.4,112.5 L416.3,118.5 L417.2,121.0 L418.1,118.1 L419.0,111.9 L419.9,105.1 L420.8,96.7 L421.7,90.8 L422.6,83.9 L423.5,75.8 L424.4,66.6 L425.3,55.2 L426.2,47.8 L427.1,50.1 L428.0,52.4 L428.9,52.4 L429.8,53.5 L430.7,58.8 L431.6,61.5 L432.5,61.6 L433.4,67.2 L434.3,70.9 L435.2,72.7 L436.1,75.0 L437.0,78.1 L437.9,80.4 L438.8,84.3 L439.7,85.5 L440.6,87.2 L441.5,88.3 L442.4,89.2 L443.3,89.1 L444.2,89.9 L445.1,90.3 L446.0,91.7 L446.9,92.2 L447.8,91.6 L448.7,92.7 L449.6,93.5 L450.5,93.8 L451.4,94.1 L452.3,92.5 L453.2,93.2 L454.1,91.5 L455.0,93.6 L455.9,95.0 L456.8,95.0 L457.7,92.6 L458.6,94.1 L459.5,94.3 L460.4,94.5 L461.3,95.7 L462.2,95.8 L463.1,95.8 L464.0,95.8 L464.9,92.6 L465.8,92.8 L466.7,93.6 L467.6,92.9 L468.5,91.4 L469.4,92.4 L470.3,94.0 L471.2,95.5 L472.1,94.4 L473.0,93.1 L473.9,93.4 L474.8,92.2 L475.7,89.5 L476.6,88.4 L477.5,90.9 L478.4,92.1 L479.3,91.5 L480.2,93.3 L481.1,95.2 L482.0,94.9 L482.9,94.7 L483.8,94.4 L484.7,93.4 L485.6,89.8 L486.5,90.8 L487.4,93.1 L488.3,92.7 L489.2,91.3 L490.1,89.0 L491.0,88.8 L491.9,88.5 L492.8,89.9 L493.7,88.2 L494.6,84.5 L495.5,83.8 L496.4,83.2 L497.3,82.6 L498.2,82.1 L499.1,81.3 M393.8,58.7 L394.7,58.6 L395.6,57.8 L396.5,58.5 L397.4,57.4 L398.3,58.1 L399.2,60.3 L400.1,60.9 L401.0,61.6 L401.9,63.7 L402.8,65.2 L403.7,66.4 L404.6,66.5 L405.5,65.7 L406.4,64.3 L407.3,68.0 L408.2,69.5 L409.1,73.0 L410.0,74.3 L410.9,76.9 L411.8,78.9 L412.7,81.5 L413.6,83.0 L414.5,84.6 L415.4,91.0 L416.3,108.2 L417.2,115.7 L418.1,109.4 L419.0,100.4 L419.9,91.1 L420.8,79.2 L421.7,66.6 L422.6,58.0 L423.5,51.9 L424.4,45.0 L425.3,36.8 L426.2,34.0 L427.1,34.3 L428.0,31.0 L428.9,35.7 L429.8,40.0 L430.7,40.6 L431.6,43.6 L432.5,45.2 L433.4,48.9 L434.3,52.8 L435.2,54.6 L436.1,57.5 L437.0,57.7 L437.9,57.6 L438.8,57.8 L439.7,58.8 L440.6,60.4 L441.5,63.6 L442.4,65.8 L443.3,65.5 L444.2,64.9 L445.1,65.8 L446.0,70.5 L446.9,73.4 L447.8,70.6 L448.7,69.3 L449.6,69.3 L450.5,70.8 L451.4,71.0 L452.3,71.3 L453.2,73.4 L454.1,72.2 L455.0,71.1 L455.9,73.5 L456.8,73.2 L457.7,74.0 L458.6,72.1 L459.5,70.7 L460.4,70.8 L461.3,71.3 L462.2,71.7 L463.1,71.5 L464.0,72.3 L464.9,73.6 L465.8,75.3 L466.7,76.5 L467.6,75.2 L468.5,74.7 L469.4,74.1 L470.3,76.8 L471.2,76.5 L472.1,76.2 L473.0,75.1 L473.9,72.9 L474.8,75.5 L475.7,78.7 L476.6,78.5 L477.5,76.3 L478.4,74.7 L479.3,73.8 L480.2,72.4 L481.1,72.8 L482.0,73.3 L482.9,72.6 L483.8,72.3 L484.7,69.3 L485.6,69.0 L486.5,68.9 L487.4,67.5 L488.3,66.0 L489.2,66.8 L490.1,68.4 L491.0,69.2 L491.9,67.3 L492.8,67.6 L493.7,66.1 L494.6,62.2 L495.5,63.1 L496.4,63.6 L497.3,61.6 L498.2,63.3 L499.1,63.0 M393.8,73.2 L394.7,73.0 L395.6,72.7 L396.5,75.4 L397.4,74.1 L398.3,73.9 L399.2,74.9 L400.1,74.2 L401.0,73.4 L401.9,75.7 L402.8,76.5 L403.7,73.7 L404.6,74.5 L405.5,76.7 L406.4,78.9 L407.3,78.7 L408.2,76.4 L409.1,77.3 L410.0,79.8 L410.9,83.8 L411.8,86.4 L412.7,89.1 L413.6,91.5 L414.5,93.6 L415.4,99.0 L416.3,112.5 L417.2,118.1 L418.1,113.0 L419.0,106.3 L419.9,99.8 L420.8,90.1 L421.7,76.9 L422.6,67.8 L423.5,62.0 L424.4,56.1 L425.3,44.3 L426.2,39.0 L427.1,42.6 L428.0,42.0 L428.9,43.5 L429.8,49.0 L430.7,51.9 L431.6,53.2 L432.5,54.8 L433.4,56.1 L434.3,57.5 L435.2,62.3 L436.1,64.2 L437.0,65.5 L437.9,69.0 L438.8,68.6 L439.7,68.9 L440.6,72.4 L441.5,73.0 L442.4,72.7 L443.3,71.0 L444.2,72.0 L445.1,74.4 L446.0,77.2 L446.9,79.2 L447.8,81.8 L448.7,81.7 L449.6,81.3 L450.5,81.7 L451.4,83.1 L452.3,82.8 L453.2,83.4 L454.1,84.8 L455.0,83.1 L455.9,81.1 L456.8,80.4 L457.7,83.8 L458.6,86.8 L459.5,82.8 L460.4,80.2 L461.3,78.3 L462.2,77.8 L463.1,78.0 L464.0,81.3 L464.9,78.3 L465.8,76.8 L466.7,78.6 L467.6,79.4 L468.5,79.8 L469.4,79.5 L470.3,80.5 L471.2,79.2 L472.1,77.4 L473.0,79.6 L473.9,81.3 L474.8,84.7 L475.7,86.1 L476.6,81.2 L477.5,82.5 L478.4,82.0 L479.3,81.5 L480.2,81.4 L481.1,79.0 L482.0,79.9 L482.9,81.8 L483.8,80.3 L484.7,81.8 L485.6,82.7 L486.5,80.5 L487.4,80.7 L488.3,77.5 L489.2,75.3 L490.1,76.5 L491.0,76.4 L491.9,76.8 L492.8,78.9 L493.7,79.9 L494.6,74.2 L495.5,74.1 L496.4,75.9 L497.3,75.3 L498.2,73.8 L499.1,72.6 M393.8,60.4 L394.7,60.1 L395.6,60.3 L396.5,62.7 L397.4,63.4 L398.3,64.1 L399.2,67.2 L400.1,67.4 L401.0,66.1 L401.9,67.3 L402.8,67.4 L403.7,66.9 L404.6,66.5 L405.5,67.4 L406.4,66.9 L407.3,68.8 L408.2,72.0 L409.1,72.0 L410.0,71.4 L410.9,73.7 L411.8,78.0 L412.7,81.0 L413.6,82.9 L414.5,87.4 L415.4,95.5 L416.3,109.0 L417.2,116.0 L418.1,110.8 L419.0,101.3 L419.9,91.3 L420.8,81.2 L421.7,71.5 L422.6,63.7 L423.5,54.2 L424.4,46.2 L425.3,40.2 L426.2,35.3 L427.1,33.1 L428.0,35.2 L428.9,37.5 L429.8,40.0 L430.7,42.7 L431.6,45.2 L432.5,46.7 L433.4,49.0 L434.3,50.7 L435.2,52.8 L436.1,55.2 L437.0,59.7 L437.9,63.6 L438.8,63.7 L439.7,64.8 L440.6,65.3 L441.5,63.7 L442.4,63.4 L443.3,67.4 L444.2,69.2 L445.1,68.4 L446.0,70.0 L446.9,72.7 L447.8,71.5 L448.7,72.2 L449.6,72.6 L450.5,71.0 L451.4,73.6 L452.3,72.4 L453.2,72.2 L454.1,72.3 L455.0,71.4 L455.9,74.4 L456.8,73.9 L457.7,75.3 L458.6,75.7 L459.5,73.1 L460.4,73.9 L461.3,74.8 L462.2,75.1 L463.1,75.4 L464.0,73.4 L464.9,73.0 L465.8,72.2 L466.7,72.1 L467.6,73.5 L468.5,73.3 L469.4,73.4 L470.3,73.0 L471.2,73.4 L472.1,70.9 L473.0,70.3 L473.9,68.6 L474.8,70.0 L475.7,71.4 L476.6,71.8 L477.5,74.0 L478.4,73.8 L479.3,70.4 L480.2,71.7 L481.1,74.1 L482.0,75.1 L482.9,73.6 L483.8,74.2 L484.7,74.9 L485.6,73.5 L486.5,74.4 L487.4,74.0 L488.3,70.2 L489.2,68.7 L490.1,69.5 L491.0,70.6 L491.9,70.5 L492.8,70.7 L493.7,69.5 L494.6,68.7 L495.5,68.9 L496.4,68.9 L497.3,69.3 L498.2,70.4 L499.1,68.5 M393.8,56.5 L394.7,55.9 L395.6,57.2 L396.5,59.2 L397.4,59.7 L398.3,57.8 L399.2,60.6 L400.1,63.3 L401.0,64.0 L401.9,63.3 L402.8,60.7 L403.7,61.8 L404.6,63.0 L405.5,61.1 L406.4,63.2 L407.3,63.4 L408.2,64.8 L409.1,69.5 L410.0,69.0 L410.9,68.0 L411.8,71.1 L412.7,75.1 L413.6,76.7 L414.5,81.1 L415.4,92.4 L416.3,107.6 L417.2,115.0 L418.1,108.1 L419.0,99.6 L419.9,90.7 L420.8,80.1 L421.7,70.6 L422.6,61.1 L423.5,49.4 L424.4,39.3 L425.3,30.7 L426.2,27.6 L427.1,27.9 L428.0,28.3 L428.9,30.6 L429.8,32.8 L430.7,35.6 L431.6,39.0 L432.5,38.0 L433.4,41.3 L434.3,43.7 L435.2,42.7 L436.1,46.5 L437.0,47.8 L437.9,48.6 L438.8,50.8 L439.7,50.2 L440.6,52.7 L441.5,52.9 L442.4,53.8 L443.3,55.5 L444.2,54.5 L445.1,54.1 L446.0,54.7 L446.9,58.1 L447.8,57.7 L448.7,56.4 L449.6,60.1 L450.5,61.7 L451.4,58.6 L452.3,58.6 L453.2,62.0 L454.1,65.1 L455.0,64.9 L455.9,64.8 L456.8,65.2 L457.7,62.2 L458.6,63.9 L459.5,68.4 L460.4,68.4 L461.3,67.4 L462.2,69.4 L463.1,70.7 L464.0,69.1 L464.9,65.9 L465.8,68.8 L466.7,70.0 L467.6,68.4 L468.5,67.7 L469.4,65.8 L470.3,66.4 L471.2,67.3 L472.1,66.7 L473.0,65.1 L473.9,64.0 L474.8,65.5 L475.7,66.6 L476.6,68.9 L477.5,71.1 L478.4,69.8 L479.3,64.8 L480.2,62.5 L481.1,65.4 L482.0,64.4 L482.9,62.3 L483.8,63.8 L484.7,62.5 L485.6,58.4 L486.5,57.9 L487.4,60.6 L488.3,61.3 L489.2,60.7 L490.1,57.7 L491.0,56.9 L491.9,58.9 L492.8,61.3 L493.7,59.8 L494.6,59.6 L495.5,59.5 L496.4,58.4 L497.3,58.6 L498.2,60.4 L499.1,60.6 M393.8,77.7 L394.7,79.5 L395.6,77.2 L396.5,77.5 L397.4,78.6 L398.3,79.5 L399.2,79.0 L400.1,78.1 L401.0,79.2 L401.9,77.2 L402.8,78.0 L403.7,82.0 L404.6,81.1 L405.5,80.9 L406.4,83.3 L407.3,82.8 L408.2,82.9 L409.1,88.7 L410.0,90.1 L410.9,91.4 L411.8,96.9 L412.7,96.1 L413.6,97.6 L414.5,103.2 L415.4,108.3 L416.3,116.1 L417.2,120.0 L418.1,116.2 L419.0,110.0 L419.9,102.6 L420.8,94.1 L421.7,87.9 L422.6,79.2 L423.5,69.4 L424.4,60.7 L425.3,51.0 L426.2,46.8 L427.1,45.4 L428.0,46.4 L428.9,48.9 L429.8,54.2 L430.7,55.0 L431.6,57.3 L432.5,59.1 L433.4,60.1 L434.3,63.7 L435.2,65.9 L436.1,66.2 L437.0,70.5 L437.9,73.4 L438.8,75.5 L439.7,78.1 L440.6,78.0 L441.5,75.1 L442.4,77.2 L443.3,79.0 L444.2,79.8 L445.1,80.6 L446.0,81.7 L446.9,83.1 L447.8,84.4 L448.7,83.4 L449.6,84.5 L450.5,86.2 L451.4,85.1 L452.3,83.4 L453.2,87.4 L454.1,87.8 L455.0,88.5 L455.9,89.4 L456.8,87.0 L457.7,87.6 L458.6,90.9 L459.5,92.3 L460.4,89.5 L461.3,88.6 L462.2,87.7 L463.1,87.0 L464.0,87.9 L464.9,85.1 L465.8,84.2 L466.7,90.1 L467.6,90.2 L468.5,88.4 L469.4,89.3 L470.3,89.0 L471.2,88.1 L472.1,88.5 L473.0,87.6 L473.9,86.0 L474.8,84.5 L475.7,84.9 L476.6,84.8 L477.5,86.9 L478.4,87.4 L479.3,83.4 L480.2,82.5 L481.1,84.8 L482.0,81.8 L482.9,81.9 L483.8,83.8 L484.7,84.2 L485.6,83.6 L486.5,87.1 L487.4,86.6 L488.3,82.9 L489.2,82.5 L490.1,83.7 L491.0,82.7 L491.9,80.4 L492.8,82.7 L493.7,83.9 L494.6,80.1 L495.5,80.1 L496.4,79.7 L497.3,78.5 L498.2,76.2 L499.1,78.2 M393.8,66.5 L394.7,63.7 L395.6,64.9 L396.5,67.7 L397.4,66.4 L398.3,67.3 L399.2,69.5 L400.1,69.7 L401.0,70.4 L401.9,68.6 L402.8,68.3 L403.7,71.1 L404.6,70.8 L405.5,70.7 L406.4,71.8 L407.3,74.2 L408.2,76.5 L409.1,76.7 L410.0,78.1 L410.9,83.1 L411.8,82.9 L412.7,82.7 L413.6,85.7 L414.5,91.8 L415.4,99.6 L416.3,110.9 L417.2,117.7 L418.1,112.4 L419.0,103.9 L419.9,95.7 L420.8,86.9 L421.7,77.4 L422.6,70.4 L423.5,62.3 L424.4,51.9 L425.3,43.4 L426.2,40.3 L427.1,38.9 L428.0,41.3 L428.9,43.9 L429.8,43.3 L430.7,45.6 L431.6,48.4 L432.5,50.7 L433.4,52.2 L434.3,52.5 L435.2,56.7 L436.1,63.7 L437.0,64.7 L437.9,65.5 L438.8,66.3 L439.7,67.7 L440.6,70.7 L441.5,72.2 L442.4,71.1 L443.3,70.4 L444.2,73.0 L445.1,72.6 L446.0,72.5 L446.9,74.6 L447.8,74.1 L448.7,73.7 L449.6,73.4 L450.5,74.6 L451.4,75.8 L452.3,74.9 L453.2,75.6 L454.1,77.8 L455.0,76.9 L455.9,75.2 L456.8,76.3 L457.7,76.8 L458.6,76.1 L459.5,76.5 L460.4,77.5 L461.3,75.8 L462.2,74.6 L463.1,78.2 L464.0,79.9 L464.9,80.2 L465.8,78.2 L466.7,78.2 L467.6,78.8 L468.5,78.2 L469.4,78.6 L470.3,78.3 L471.2,76.5 L472.1,75.1 L473.0,78.4 L473.9,79.5 L474.8,75.9 L475.7,75.2 L476.6,77.3 L477.5,76.1 L478.4,77.3 L479.3,79.5 L480.2,78.6 L481.1,78.7 L482.0,78.1 L482.9,74.8 L483.8,76.9 L484.7,78.9 L485.6,78.4 L486.5,78.3 L487.4,77.4 L488.3,77.4 L489.2,75.6 L490.1,75.2 L491.0,76.7 L491.9,76.5 L492.8,75.6 L493.7,75.1 L494.6,74.0 L495.5,75.0 L496.4,75.6 L497.3,73.3 L498.2,72.6 L499.1,71.8 M393.8,55.2 L394.7,54.9 L395.6,56.6 L396.5,56.6 L397.4,58.9 L398.3,59.9 L399.2,59.8 L400.1,60.9 L401.0,60.9 L401.9,60.6 L402.8,62.6 L403.7,63.6 L404.6,62.8 L405.5,62.8 L406.4,63.9 L407.3,63.9 L408.2,65.3 L409.1,68.8 L410.0,69.3 L410.9,68.9 L411.8,69.5 L412.7,71.1 L413.6,75.3 L414.5,83.1 L415.4,91.5 L416.3,107.7 L417.2,115.3 L418.1,109.7 L419.0,100.6 L419.9,90.2 L420.8,79.9 L421.7,66.4 L422.6,55.0 L423.5,48.9 L424.4,40.2 L425.3,33.1 L426.2,29.3 L427.1,30.9 L428.0,31.8 L428.9,30.3 L429.8,31.6 L430.7,34.9 L431.6,38.6 L432.5,40.9 L433.4,41.7 L434.3,43.2 L435.2,44.0 L436.1,45.6 L437.0,50.1 L437.9,50.3 L438.8,49.1 L439.7,50.7 L440.6,54.5 L441.5,57.3 L442.4,55.5 L443.3,55.3 L444.2,57.9 L445.1,59.3 L446.0,58.5 L446.9,59.4 L447.8,59.8 L448.7,60.2 L449.6,61.4 L450.5,63.6 L451.4,61.6 L452.3,59.0 L453.2,62.9 L454.1,63.2 L455.0,62.1 L455.9,63.3 L456.8,61.4 L457.7,61.0 L458.6,61.5 L459.5,64.3 L460.4,62.2 L461.3,64.2 L462.2,63.2 L463.1,61.2 L464.0,63.5 L464.9,66.2 L465.8,67.7 L466.7,66.6 L467.6,64.1 L468.5,64.6 L469.4,64.5 L470.3,66.9 L471.2,67.3 L472.1,66.6 L473.0,66.9 L473.9,66.1 L474.8,66.9 L475.7,68.0 L476.6,67.7 L477.5,70.2 L478.4,67.1 L479.3,66.8 L480.2,65.1 L481.1,62.8 L482.0,63.7 L482.9,64.7 L483.8,64.3 L484.7,66.3 L485.6,68.3 L486.5,65.7 L487.4,62.0 L488.3,61.8 L489.2,63.4 L490.1,63.3 L491.0,63.0 L491.9,63.3 L492.8,65.1 L493.7,62.9 L494.6,60.8 L495.5,63.9 L496.4,64.6 L497.3,63.4 L498.2,62.7 L499.1,62.6" stroke="#231f20" stroke-width="0.65" fill="none" stroke-linejoin="round"/>
<defs><filter id="bl1" x="-20%" y="-20%" width="140%" height="140%"><feGaussianBlur stdDeviation="0.75"/></filter><filter id="bl2" x="-20%" y="-20%" width="140%" height="140%"><feGaussianBlur stdDeviation="1.1"/></filter><radialGradient id="brg" cx="0.5" cy="0.45" r="0.6"><stop offset="0" stop-color="#5c5c5c"/><stop offset="0.6" stop-color="#6e6e6e"/><stop offset="1" stop-color="#8e8e8e"/></radialGradient><clipPath id="mriclip"><rect x="531.9" y="18.8" width="124.9" height="112.4"/></clipPath></defs>
<rect x="531.9" y="18.8" width="124.9" height="112.4" fill="#0e0e0e"/>
<g clip-path="url(#mriclip)"><g filter="url(#bl1)">
<path d="M546.6,96 C556,93 572,92.5 590,93 C608,92.5 626,89 637,91.5 C639,100 638.5,110 634,117 C626,125 608,129.5 590,129.5 C572,129.5 558,126 551,120 C547,113 545.5,104 546.6,96Z" fill="#242424" stroke="#4a4a4a" stroke-width="0.7"/>
<path d="M546.8,96.5 C551,95.5 555,96.5 557.8,98.5 C559.5,104 560,112 559.3,125.5 C555,124.5 552,122.5 550.5,119.5 C548,113 546.5,104 546.8,96.5Z" fill="#8a8a8a"/>
<path d="M627.8,88.6 C631,88 634.5,88 636.6,89 C637.6,95 637,104 634,112 C632.5,114 630.5,114.8 628.8,114.2 C628.2,106 627.6,96 627.8,88.6Z" fill="#8a8a8a"/>
<path d="M561,99 C566,97 572,97 575,99 L579,121 C573,124 566,124 562,121Z" fill="#303030" stroke="#555" stroke-width="0.6"/>
<path d="M606,97 C611,96 617,96 621,98 L620,119 C615,122 610,122 606,120Z" fill="#303030" stroke="#555" stroke-width="0.6"/>
<ellipse cx="594" cy="109" rx="11" ry="14" fill="#555"/>
<ellipse cx="592" cy="104" rx="6" ry="6" fill="#6e6e6e"/>
<ellipse cx="597.5" cy="116" rx="3.2" ry="3" fill="#080808"/>
<path d="M580,92.5 L604,92.5 L601,98 L583,98Z" fill="#3a3a3a"/>
<path d="M544.4,63.4 C546,57 552,54 556,56 C559,58 561,66 561,75 C561,84 560,90 559,92.6 C555,94 550,92 548.8,88.2 C544,80 543,70 544.4,63.4Z" fill="#333" stroke="#777" stroke-width="0.9"/>
<path d="M621.8,50.2 C628,51 633,55 634.9,61.9 C637,68 638,74 637.8,78 C637,84 635,87 633.4,88.2 C629,90 624,90 621.8,88.2 C619,80 619,60 621.8,50.2Z" fill="#333" stroke="#777" stroke-width="0.9"/>
<path d="M549,57 L552,51 L555,55 L553,58Z" fill="#777"/>
<path d="M624,50 L627,46 L630,51Z" fill="#777"/>
<path d="M567,21.1 L608.2,21.1 L607.6,46.3 L567.6,46.3 Z" fill="#5c5c5c"/>
<path d="M567.6,40 L607.6,40 L607.6,46.3 L567.6,46.3Z" fill="#6e6e6e"/>
<path d="M567,21.1 L608.2,21.1 L607.6,46.3 L567.6,46.3 Z" fill="none" stroke="#8a8a8a" stroke-width="0.7"/>
<path d="M565.5,48.8 C572,46.5 582,46.8 588.2,47.2 C595,46.8 604,46.5 610,48.8 C615,50.5 618,53 618.8,56 C620,61 620.4,65 620,69.2 C619.8,73 619.6,76 618.8,79.4 C617.5,84 615.5,87 613,88.2 C610,90 607,90.6 604.2,90.4 C601,90 599.5,88.5 598.4,86.7 C596,84.5 593.5,83.8 591,83.8 C588.5,83.8 586.5,85 585.3,86.7 C583.5,89 581,90.6 578,90.4 C573,90.4 569,89.6 566.3,88.2 C563,86 561.2,83 560.4,79.4 C559.6,76 559.2,73 559.4,69.2 C559.3,64 559.7,60 560.4,56 C561.2,52.5 563,50 565.5,48.8Z" fill="url(#brg)" stroke="#bdbdbd" stroke-width="1.2"/>
<ellipse cx="588" cy="54" rx="7" ry="3.6" fill="#858585"/>


<ellipse cx="578.5" cy="70.5" rx="4.5" ry="4.5" fill="#4a4a4a"/>
<ellipse cx="599.5" cy="68" rx="4" ry="4.5" fill="#4a4a4a"/>


<path d="M585,86 C588,83 593,83 596,86 L594,92 L587,92Z" fill="#202020"/>
</g>
<g filter="url(#bl1)" fill="none" stroke="#f0f0f0" stroke-width="1.5" stroke-linecap="round">
<path d="M583.8,59.7 C586,61 588,62.5 589.6,65.5 C591,62.5 593,61 595.5,59.7"/>
<path d="M589.6,65.5 L590.4,76.5"/>
<path d="M585,60.5 L594.5,60.5" stroke-width="1.0"/>
<circle cx="578.7" cy="82.3" r="3.0" stroke-width="1.4"/>
<circle cx="602.8" cy="81.6" r="3.0" stroke-width="1.4"/>
<path d="M562,68.5 L571.4,67 M566.3,71.4 L569,74" stroke-width="1.0"/>
<path d="M613,62.6 L619.6,61.9 M611.5,69.9 L616,68" stroke-width="1.0"/>
<path d="M587,79 L589,82 L591,79 L593,82 L595,79" stroke-width="1.0"/>
<path d="M564,84.5 L569,86 M610,85 L615,84" stroke-width="0.9"/>
</g>
<g filter="url(#bl1)" fill="#cfcfcf">
<circle cx="569" cy="101.5" r="0.9"/><circle cx="573" cy="98.5" r="0.8"/><circle cx="616" cy="98.4" r="0.9"/><circle cx="611" cy="101" r="0.8"/><circle cx="586" cy="95" r="0.8"/><circle cx="600" cy="96" r="0.8"/><circle cx="590" cy="124" r="0.8"/><circle cx="602" cy="123" r="0.8"/>
</g></g>
<text x="535.40" y="43.00" font-size="13.5" text-anchor="start" font-weight="normal" fill="#f4f4f4" textLength="24.3" lengthAdjust="spacingAndGlyphs">GPe</text>
<text x="619.30" y="39.00" font-size="13.6" text-anchor="start" font-weight="normal" fill="#f4f4f4" textLength="13.6" lengthAdjust="spacingAndGlyphs">ac</text>
<text x="638.60" y="39.00" font-size="13.6" text-anchor="start" font-weight="normal" fill="#f4f4f4" textLength="11.8" lengthAdjust="spacingAndGlyphs">-5</text>
<path d="M552.4,48.2 L575.6,67.6" stroke="#fff" stroke-width="0.9"/>
<path d="M578.8,70.3 L571.6,67.9 L575.6,63.2Z" fill="#fff"/>
<text x="38.80" y="137.70" font-size="10" text-anchor="start" font-weight="normal" fill="#231f20" textLength="44.4" lengthAdjust="spacingAndGlyphs" stroke="#231f20" stroke-width="0.08">Pupil area</text>
<rect x="18.4" y="165.5" width="4.1" height="31.2" fill="#231f20"/>
<rect x="39.4" y="210.1" width="62.8" height="4.1" fill="#231f20"/>
<path d="M39.40,172.20 L40.19,173.23 L40.98,174.23 L41.77,175.22 L42.55,176.18 L43.34,177.12 L44.13,178.03 L44.92,178.91 L45.71,179.82 L46.50,180.81 L47.28,181.85 L48.07,182.88 L48.86,183.86 L49.65,184.75 L50.44,185.51 L51.23,186.08 L52.02,186.42 L52.80,186.49 L53.59,186.32 L54.38,185.97 L55.17,185.50 L55.96,184.94 L56.75,184.36 L57.53,183.80 L58.32,183.30 L59.11,182.75 L59.90,182.15 L60.69,181.51 L61.48,180.87 L62.27,180.24 L63.05,179.66 L63.84,179.14 L64.63,178.70 L65.42,178.38 L66.21,178.17 L67.00,178.01 L67.78,177.86 L68.57,177.74 L69.36,177.63 L70.15,177.52 L70.94,177.41 L71.73,177.29 L72.52,177.16 L73.30,177.03 L74.09,176.90 L74.88,176.79 L75.67,176.69 L76.46,176.63 L77.25,176.60 L78.04,176.63 L78.82,176.73 L79.61,176.88 L80.40,177.06 L81.19,177.25 L81.98,177.56 L82.77,177.96 L83.55,178.34 L84.34,178.57 L85.13,178.52 L85.92,177.99 L86.71,177.09 L87.50,175.93 L88.29,174.64 L89.07,173.35 L89.86,172.18 L90.65,171.14 L91.44,170.07 L92.23,168.96 L93.02,167.84 L93.80,166.72 L94.59,165.61 L95.38,164.52 L96.17,163.48 L96.96,162.49 L97.75,161.56 L98.54,160.72 L99.32,159.95 L100.11,159.22 L100.90,158.52 L101.69,157.82 L102.48,157.09 L103.27,156.30 L104.05,155.44 L104.84,154.46 L105.63,153.38 L106.42,152.25 L107.21,151.11 L108.00,150.00 L108.79,148.81 L109.57,147.50 L110.36,146.21 L111.15,145.08 L111.94,144.27 L112.73,143.87 L113.52,143.59 L114.30,143.35 L115.09,143.14 L115.88,142.97 L116.67,142.84 L117.46,142.75 L118.25,142.70 L119.04,142.67 L119.82,142.66 L120.61,142.64 L121.40,142.62 L122.19,142.58 L122.98,142.40 L123.77,142.08 L124.55,141.69 L125.34,141.32 L126.13,141.03 L126.92,140.90 L127.71,140.94 L128.50,141.09 L129.29,141.31 L130.07,141.60 L130.86,141.94 L131.65,142.45 L132.44,143.33 L133.23,144.43 L134.02,145.62 L134.81,146.75 L135.59,147.77 L136.38,148.86 L137.17,149.98 L137.96,151.11 L138.75,152.20 L139.54,153.22 L140.32,154.13 L141.11,154.91 L141.90,155.52 L142.69,156.09 L143.48,156.63 L144.27,157.15 L145.06,157.63 L145.84,158.05 L146.63,158.41 L147.42,158.70 L148.21,158.90 L149.00,159.01 L149.79,159.07 L150.57,159.12 L151.36,159.16 L152.15,159.19 L152.94,159.20 L153.73,159.15 L154.52,159.00 L155.31,158.81 L156.09,158.62 L156.88,158.46 L157.67,158.40 L158.46,158.56 L159.25,159.01 L160.04,159.69 L160.82,160.52 L161.61,161.43 L162.40,162.35 L163.19,163.20 L163.98,164.04 L164.77,164.92 L165.56,165.85 L166.34,166.84 L167.13,167.90 L167.92,169.05 L168.71,170.30 L169.50,171.66 L170.29,173.27 L171.07,175.14 L171.86,177.19 L172.65,179.38 L173.44,181.62 L174.23,183.87 L175.02,186.05 L175.81,188.27 L176.59,190.63 L177.38,193.05 L178.17,195.47 L178.96,197.81 L179.75,200.00 L180.54,201.97 L181.32,203.69 L182.11,205.45 L182.90,207.23 L183.69,208.96 L184.48,210.55 L185.27,211.91 L186.06,212.96 L186.84,213.62 L187.63,213.79 L188.42,213.52 L189.21,212.94 L190.00,212.14 L190.79,211.24 L191.57,210.20 L192.36,208.70 L193.15,206.88 L193.94,204.90 L194.73,202.89 L195.52,201.02 L196.31,199.38 L197.09,197.70 L197.88,195.98 L198.67,194.37 L199.46,192.99 L200.25,191.97 L201.04,191.41 L201.83,191.04 L202.61,190.77 L203.40,190.55 L204.19,190.36 L204.98,190.13 L205.77,189.85 L206.56,189.47 L207.34,188.90 L208.13,188.15 L208.92,187.28 L209.71,186.35 L210.50,185.35 L211.29,184.16 L212.08,182.86 L212.86,181.58 L213.65,180.43 L214.44,179.47 L215.23,178.49 L216.02,177.50 L216.81,176.58 L217.59,175.79 L218.38,175.19 L219.17,174.85 L219.96,174.83 L220.75,175.06 L221.54,175.46 L222.33,175.96 L223.11,176.50 L223.90,177.00 L224.69,177.39 L225.48,177.65 L226.27,177.90 L227.06,178.13 L227.84,178.34 L228.63,178.49 L229.42,178.58 L230.21,178.57 L231.00,178.21 L231.79,177.55 L232.58,176.70 L233.36,175.76 L234.15,174.84 L234.94,174.05 L235.73,173.33 L236.52,172.52 L237.31,171.68 L238.09,170.86 L238.88,170.11 L239.67,169.49 L240.46,169.04 L241.25,168.81 L242.04,168.84 L242.83,169.01 L243.61,169.29 L244.40,169.65 L245.19,170.06 L245.98,170.48 L246.77,170.89 L247.56,171.30 L248.34,171.81 L249.13,172.40 L249.92,173.03 L250.71,173.64 L251.50,174.21 L252.29,174.68 L253.08,175.02 L253.86,175.19 L254.65,175.12 L255.44,174.75 L256.23,174.14 L257.02,173.36 L257.81,172.47 L258.59,171.55 L259.38,170.65 L260.17,169.83 L260.96,168.99 L261.75,168.08 L262.54,167.13 L263.33,166.15 L264.11,165.17 L264.90,164.21 L265.69,163.29 L266.48,162.43 L267.27,161.66 L268.06,160.99 L268.85,160.40 L269.63,159.85 L270.42,159.35 L271.21,158.87 L272.00,158.40 L272.79,157.94 L273.58,157.47 L274.36,156.98 L275.15,156.46 L275.94,155.92 L276.73,155.37 L277.52,154.81 L278.31,154.24 L279.10,153.67 L279.88,153.09 L280.67,152.45 L281.46,151.69 L282.25,150.89 L283.04,150.09 L283.83,149.36 L284.61,148.76 L285.40,148.35 L286.19,148.20 L286.98,148.31 L287.77,148.62 L288.56,149.07 L289.35,149.64 L290.13,150.28 L290.92,150.94 L291.71,151.75 L292.50,152.85 L293.29,154.09 L294.08,155.31 L294.86,156.35 L295.65,157.24 L296.44,158.14 L297.23,158.93 L298.02,159.46 L298.81,159.63 L299.60,159.68 L300.38,159.71 L301.17,159.75 L301.96,159.80 L302.75,159.87 L303.54,159.98 L304.33,160.11 L305.11,160.30 L305.90,160.54 L306.69,161.25 L307.48,162.53 L308.27,164.16 L309.06,165.95 L309.85,167.68 L310.63,169.31 L311.42,171.03 L312.21,172.83 L313.00,174.69 L313.79,176.59 L314.58,178.52 L315.36,180.45 L316.15,182.38 L316.94,184.42 L317.73,186.57 L318.52,188.67 L319.31,190.58 L320.10,192.18 L320.88,193.68 L321.67,195.11 L322.46,196.22 L323.25,196.79 L324.04,196.94 L324.83,197.06 L325.62,197.14 L326.40,197.19 L327.19,197.19 L327.98,197.07 L328.77,196.84 L329.56,196.54 L330.35,196.23 L331.13,195.96 L331.92,195.67 L332.71,195.35 L333.50,195.02 L334.29,194.72 L335.08,194.48 L335.87,194.33 L336.65,194.31 L337.44,194.50 L338.23,194.86 L339.02,195.32 L339.81,195.82 L340.60,196.29 L341.38,196.69 L342.17,197.11 L342.96,197.56 L343.75,198.00 L344.54,198.41 L345.33,198.76 L346.12,199.01 L346.90,199.14 L347.69,199.24 L348.48,199.33 L349.27,199.38 L350.06,199.40 L350.85,199.40 L351.63,199.39 L352.42,199.38 L353.21,199.35 L354.00,199.30" stroke="#5470c0" stroke-width="1.1" fill="none" stroke-linejoin="round" stroke-linecap="round"/>
<path d="M63.6,268.8 V404.3 H224.7" stroke="#cfcfcf" stroke-width="1.0" fill="none"/>
<text x="60.60" y="287.15" font-size="13.0" text-anchor="end" font-weight="normal" fill="#231f20" textLength="24.5" lengthAdjust="spacingAndGlyphs" stroke="#231f20" stroke-width="0.4">0.62</text>
<text x="60.60" y="314.15" font-size="13.0" text-anchor="end" font-weight="normal" fill="#231f20" textLength="17.5" lengthAdjust="spacingAndGlyphs" stroke="#231f20" stroke-width="0.4">0.6</text>
<text x="60.60" y="341.15" font-size="13.0" text-anchor="end" font-weight="normal" fill="#231f20" textLength="24.5" lengthAdjust="spacingAndGlyphs" stroke="#231f20" stroke-width="0.4">0.58</text>
<text x="60.60" y="368.15" font-size="13.0" text-anchor="end" font-weight="normal" fill="#231f20" textLength="24.5" lengthAdjust="spacingAndGlyphs" stroke="#231f20" stroke-width="0.4">0.56</text>
<text x="60.60" y="395.15" font-size="13.0" text-anchor="end" font-weight="normal" fill="#231f20" textLength="24.5" lengthAdjust="spacingAndGlyphs" stroke="#231f20" stroke-width="0.4">0.54</text>
<text x="60.40" y="416.90" font-size="13.0" text-anchor="middle" font-weight="normal" fill="#231f20" textLength="12.1" lengthAdjust="spacingAndGlyphs" stroke="#231f20" stroke-width="0.4">-2</text>
<text x="100.67" y="416.90" font-size="13.0" text-anchor="middle" font-weight="normal" fill="#231f20" textLength="12.1" lengthAdjust="spacingAndGlyphs" stroke="#231f20" stroke-width="0.4">-1</text>
<text x="144.15" y="416.90" font-size="13.0" text-anchor="middle" font-weight="normal" fill="#231f20" textLength="7.0" lengthAdjust="spacingAndGlyphs" stroke="#231f20" stroke-width="0.4">0</text>
<text x="184.42" y="416.90" font-size="13.0" text-anchor="middle" font-weight="normal" fill="#231f20" textLength="7.0" lengthAdjust="spacingAndGlyphs" stroke="#231f20" stroke-width="0.4">1</text>
<text x="224.70" y="416.90" font-size="13.0" text-anchor="middle" font-weight="normal" fill="#231f20" textLength="7.0" lengthAdjust="spacingAndGlyphs" stroke="#231f20" stroke-width="0.4">2</text>
<path d="M63.6,282.90h2.2M63.6,309.90h2.2M63.6,336.90h2.2M63.6,363.90h2.2M63.6,390.90h2.2M63.6,296.40h1.7600000000000002M63.6,323.40h1.7600000000000002M63.6,350.40h1.7600000000000002M63.6,377.40h1.7600000000000002M63.6,404.40h1.7600000000000002M63.60,404.3v-2.2M103.88,404.3v-2.2M144.15,404.3v-2.2M184.42,404.3v-2.2M224.70,404.3v-2.2" stroke="#cfcfcf" stroke-width="0.8" fill="none"/>
<path d="M144.15,268.8 V404.3" stroke="#b9b9b9" stroke-width="0.9" stroke-dasharray="4.7 3.4" stroke-dashoffset="1.5" fill="none"/>
<path d="M178.38,268.8 V404.3" stroke="#b9b9b9" stroke-width="0.9" stroke-dasharray="4.7 3.4" stroke-dashoffset="1.5" fill="none"/>
<path d="M63.70,375.07 L64.71,374.86 L65.72,373.95 L66.74,373.40 L67.75,372.69 L68.76,372.13 L69.77,371.28 L70.78,370.00 L71.80,368.29 L72.81,366.58 L73.82,365.14 L74.83,364.02 L75.84,362.95 L76.86,361.78 L77.87,360.71 L78.88,360.03 L79.89,359.75 L80.90,359.33 L81.92,358.63 L82.93,358.03 L83.94,357.40 L84.95,356.87 L85.96,356.10 L86.97,355.31 L87.99,354.28 L89.00,353.22 L90.01,352.15 L91.02,351.27 L92.03,350.36 L93.05,349.72 L94.06,349.01 L95.07,348.38 L96.08,347.65 L97.09,346.93 L98.11,346.06 L99.12,345.12 L100.13,344.20 L101.14,342.92 L102.15,341.99 L103.17,340.84 L104.18,340.03 L105.19,339.05 L106.20,338.30 L107.21,337.81 L108.23,336.98 L109.24,336.30 L110.25,335.53 L111.26,334.83 L112.27,334.08 L113.29,333.62 L114.30,333.43 L115.31,333.26 L116.32,332.80 L117.33,332.28 L118.35,331.60 L119.36,330.99 L120.37,330.06 L121.38,329.18 L122.39,328.20 L123.41,327.24 L124.42,326.58 L125.43,325.65 L126.44,325.04 L127.45,324.35 L128.46,323.57 L129.48,322.75 L130.49,321.92 L131.50,321.15 L132.51,320.44 L133.52,319.61 L134.54,319.09 L135.55,318.53 L136.56,317.84 L137.57,317.27 L138.58,316.65 L139.60,316.02 L140.61,315.10 L141.62,314.23 L142.63,313.28 L143.64,312.81 L144.66,312.10 L145.67,311.84 L146.68,311.39 L147.69,310.92 L148.70,310.24 L149.72,309.58 L150.73,309.54 L151.74,309.37 L152.75,309.31 L153.76,309.02 L154.78,308.86 L155.79,308.55 L156.80,307.89 L157.81,307.34 L158.82,306.68 L159.84,306.31 L160.85,305.66 L161.86,305.47 L162.87,305.29 L163.88,305.42 L164.89,305.20 L165.91,304.88 L166.92,304.66 L167.93,304.73 L168.94,304.95 L169.95,305.09 L170.97,305.31 L171.98,305.71 L172.99,305.88 L174.00,306.26 L175.01,306.38 L176.03,306.91 L177.04,307.60 L178.05,308.57 L179.06,309.51 L180.07,310.02 L181.09,310.58 L182.10,311.18 L183.11,311.85 L184.12,312.58 L185.13,313.59 L186.15,314.76 L187.16,316.36 L188.17,317.39 L189.18,318.47 L190.19,319.23 L191.21,320.34 L192.22,321.52 L193.23,322.60 L194.24,323.57 L195.25,324.46 L196.27,325.61 L197.28,326.67 L198.29,327.78 L199.30,329.05 L200.31,330.47 L201.33,331.74 L202.34,332.78 L203.35,333.98 L204.36,335.24 L205.37,336.91 L206.38,338.47 L207.40,340.12 L208.41,341.21 L209.42,342.29 L210.43,343.46 L211.44,344.73 L212.46,345.79 L213.47,346.78 L214.48,347.81 L215.49,348.70 L216.50,349.46 L217.52,350.02 L218.53,350.67 L219.54,351.52 L220.55,352.45 L221.56,353.56 L222.58,354.48 L223.59,355.63 L224.60,357.04" stroke="#3a52a8" stroke-width="2.0" fill="none" stroke-linejoin="round" stroke-linecap="round"/>
<text x="24.90" y="338.60" font-size="13.4" text-anchor="middle" font-weight="normal" fill="#231f20" textLength="112.8" lengthAdjust="spacingAndGlyphs" transform="rotate(-90 24.90 338.60)" stroke="#231f20" stroke-width="0.4">Normalized pupil area</text>
<text x="51.60" y="432.50" font-size="13.4" text-anchor="start" font-weight="normal" fill="#231f20" textLength="187.0" lengthAdjust="spacingAndGlyphs" stroke="#231f20" stroke-width="0.4">Time from pause initiation (s)</text>
<path d="M292.6,268.8 V404.3 H453.8" stroke="#cfcfcf" stroke-width="1.0" fill="none"/>
<text x="290.00" y="287.15" font-size="13.0" text-anchor="end" font-weight="normal" fill="#231f20" textLength="24.5" lengthAdjust="spacingAndGlyphs" stroke="#231f20" stroke-width="0.4">0.62</text>
<text x="290.00" y="314.15" font-size="13.0" text-anchor="end" font-weight="normal" fill="#231f20" textLength="17.5" lengthAdjust="spacingAndGlyphs" stroke="#231f20" stroke-width="0.4">0.6</text>
<text x="290.00" y="341.15" font-size="13.0" text-anchor="end" font-weight="normal" fill="#231f20" textLength="24.5" lengthAdjust="spacingAndGlyphs" stroke="#231f20" stroke-width="0.4">0.58</text>
<text x="290.00" y="368.15" font-size="13.0" text-anchor="end" font-weight="normal" fill="#231f20" textLength="24.5" lengthAdjust="spacingAndGlyphs" stroke="#231f20" stroke-width="0.4">0.56</text>
<text x="290.00" y="395.15" font-size="13.0" text-anchor="end" font-weight="normal" fill="#231f20" textLength="24.5" lengthAdjust="spacingAndGlyphs" stroke="#231f20" stroke-width="0.4">0.54</text>
<text x="289.40" y="416.90" font-size="13.0" text-anchor="middle" font-weight="normal" fill="#231f20" textLength="12.1" lengthAdjust="spacingAndGlyphs" stroke="#231f20" stroke-width="0.4">-2</text>
<text x="329.70" y="416.90" font-size="13.0" text-anchor="middle" font-weight="normal" fill="#231f20" textLength="12.1" lengthAdjust="spacingAndGlyphs" stroke="#231f20" stroke-width="0.4">-1</text>
<text x="373.20" y="416.90" font-size="13.0" text-anchor="middle" font-weight="normal" fill="#231f20" textLength="7.0" lengthAdjust="spacingAndGlyphs" stroke="#231f20" stroke-width="0.4">0</text>
<text x="413.50" y="416.90" font-size="13.0" text-anchor="middle" font-weight="normal" fill="#231f20" textLength="7.0" lengthAdjust="spacingAndGlyphs" stroke="#231f20" stroke-width="0.4">1</text>
<text x="453.80" y="416.90" font-size="13.0" text-anchor="middle" font-weight="normal" fill="#231f20" textLength="7.0" lengthAdjust="spacingAndGlyphs" stroke="#231f20" stroke-width="0.4">2</text>
<path d="M292.6,282.90h2.2M292.6,309.90h2.2M292.6,336.90h2.2M292.6,363.90h2.2M292.6,390.90h2.2M292.6,296.40h1.7600000000000002M292.6,323.40h1.7600000000000002M292.6,350.40h1.7600000000000002M292.6,377.40h1.7600000000000002M292.6,404.40h1.7600000000000002M292.60,404.3v-2.2M332.90,404.3v-2.2M373.20,404.3v-2.2M413.50,404.3v-2.2M453.80,404.3v-2.2" stroke="#cfcfcf" stroke-width="0.8" fill="none"/>
<path d="M338.94,268.8 V404.3" stroke="#b9b9b9" stroke-width="0.9" stroke-dasharray="4.7 3.4" stroke-dashoffset="1.5" fill="none"/>
<path d="M373.20,268.8 V404.3" stroke="#b9b9b9" stroke-width="0.9" stroke-dasharray="4.7 3.4" stroke-dashoffset="1.5" fill="none"/>
<path d="M292.50,345.58 L293.51,344.88 L294.53,343.89 L295.54,343.29 L296.56,342.29 L297.57,341.67 L298.59,340.69 L299.60,339.86 L300.62,339.24 L301.63,338.23 L302.64,337.44 L303.66,336.33 L304.67,335.42 L305.69,334.74 L306.70,333.86 L307.72,333.39 L308.73,332.44 L309.75,331.66 L310.76,331.04 L311.77,330.59 L312.79,330.14 L313.80,329.54 L314.82,329.05 L315.83,328.41 L316.85,327.58 L317.86,326.78 L318.88,326.10 L319.89,325.39 L320.91,324.73 L321.92,324.07 L322.93,323.54 L323.95,322.92 L324.96,322.33 L325.98,321.76 L326.99,321.24 L328.01,320.69 L329.02,320.18 L330.04,319.75 L331.05,319.38 L332.06,319.01 L333.08,318.63 L334.09,318.53 L335.11,318.33 L336.12,318.00 L337.14,317.46 L338.15,317.07 L339.17,316.98 L340.18,316.21 L341.19,315.77 L342.21,315.00 L343.22,314.95 L344.24,314.27 L345.25,314.08 L346.27,313.79 L347.28,313.73 L348.30,313.40 L349.31,313.11 L350.32,313.06 L351.34,312.96 L352.35,313.08 L353.37,313.03 L354.38,312.90 L355.40,312.71 L356.41,312.56 L357.43,312.43 L358.44,312.06 L359.45,312.07 L360.47,312.03 L361.48,312.44 L362.50,312.80 L363.51,313.55 L364.53,314.35 L365.54,314.58 L366.56,314.97 L367.57,315.23 L368.58,315.57 L369.60,315.57 L370.61,315.51 L371.63,315.72 L372.64,315.86 L373.66,316.08 L374.67,316.59 L375.69,317.33 L376.70,318.37 L377.72,318.96 L378.73,319.38 L379.74,319.89 L380.76,320.62 L381.77,321.57 L382.79,322.17 L383.80,322.75 L384.82,323.33 L385.83,324.18 L386.85,325.10 L387.86,325.84 L388.87,326.67 L389.89,327.32 L390.90,328.29 L391.92,329.18 L392.93,330.20 L393.95,331.18 L394.96,332.25 L395.98,333.53 L396.99,334.80 L398.00,336.00 L399.02,337.24 L400.03,338.59 L401.05,340.43 L402.06,341.89 L403.08,343.50 L404.09,344.31 L405.11,345.66 L406.12,346.68 L407.13,347.81 L408.15,348.55 L409.16,349.21 L410.18,350.24 L411.19,351.18 L412.21,352.25 L413.22,353.42 L414.24,354.86 L415.25,356.14 L416.26,357.07 L417.28,357.94 L418.29,359.08 L419.31,360.12 L420.32,361.05 L421.34,361.92 L422.35,363.00 L423.37,363.98 L424.38,364.97 L425.39,366.02 L426.41,367.58 L427.42,368.99 L428.44,370.22 L429.45,371.33 L430.47,371.99 L431.48,372.50 L432.50,372.85 L433.51,373.51 L434.53,374.05 L435.54,374.06 L436.55,374.52 L437.57,375.17 L438.58,376.32 L439.60,377.42 L440.61,378.80 L441.63,380.19 L442.64,381.38 L443.66,382.29 L444.67,383.49 L445.68,384.73 L446.70,386.07 L447.71,387.02 L448.73,388.08 L449.74,389.03 L450.76,389.95 L451.77,390.46 L452.79,391.05 L453.80,391.47" stroke="#3a52a8" stroke-width="2.0" fill="none" stroke-linejoin="round" stroke-linecap="round"/>
<text x="261.50" y="338.50" font-size="13.4" text-anchor="middle" font-weight="normal" fill="#231f20" textLength="112.8" lengthAdjust="spacingAndGlyphs" transform="rotate(-90 261.50 338.50)" stroke="#231f20" stroke-width="0.4">Normalized pupil area</text>
<text x="269.20" y="432.50" font-size="13.4" text-anchor="start" font-weight="normal" fill="#231f20" textLength="205.6" lengthAdjust="spacingAndGlyphs" stroke="#231f20" stroke-width="0.4">Time from pause termination (s)</text>
<path d="M533.42,394.54h0M533.63,389.37h0M536.08,390.84h0M532.11,401.50h0M532.04,397.31h0M531.08,401.41h0M530.26,401.00h0M533.61,376.87h0M530.12,388.31h0M532.81,391.94h0M530.30,392.24h0M531.81,401.94h0M534.42,383.69h0M536.31,385.07h0M533.82,378.58h0M531.38,375.15h0M534.44,397.32h0M536.49,382.16h0M533.57,372.44h0M530.18,374.45h0M533.60,379.32h0M530.24,379.15h0M530.47,389.14h0M534.88,397.46h0M532.87,397.53h0M530.66,376.96h0M535.34,394.00h0M534.87,385.14h0M531.73,381.61h0M535.61,398.21h0M530.53,403.74h0M535.59,394.49h0M534.11,400.52h0M536.66,374.49h0M536.81,393.96h0M533.32,397.67h0M532.95,390.89h0M533.48,390.35h0M535.19,397.25h0M532.58,369.49h0M531.90,371.14h0M534.72,394.19h0M533.91,382.17h0M534.10,396.67h0M535.39,392.92h0M532.46,375.29h0M530.51,403.18h0M534.35,400.06h0M533.56,398.63h0M536.82,402.84h0M536.29,380.93h0M531.07,381.64h0M530.10,377.49h0M535.13,377.11h0M532.68,391.17h0M535.15,397.74h0M531.48,391.19h0M531.59,370.02h0M534.95,393.30h0M533.84,400.32h0M536.48,378.67h0M532.99,398.54h0M534.56,387.31h0M532.48,390.71h0M534.65,379.64h0M532.35,390.18h0M533.14,403.45h0M530.61,403.08h0M531.00,403.26h0M533.05,397.12h0M532.66,390.83h0M530.28,374.25h0M530.57,384.40h0M532.11,396.12h0M536.48,394.86h0M531.03,379.13h0M534.54,389.41h0M533.24,379.57h0M531.60,386.83h0M531.44,375.64h0M532.68,392.73h0M534.54,391.43h0M532.28,391.93h0M533.40,394.54h0M533.63,381.61h0M531.28,369.33h0M536.19,382.86h0M536.21,369.98h0M535.26,391.02h0M532.44,391.45h0M534.08,386.91h0M536.60,391.29h0M532.73,372.28h0M534.67,383.04h0M530.42,377.89h0M531.82,390.47h0M534.78,400.26h0M531.48,386.73h0M536.07,395.22h0M530.25,383.96h0M536.37,375.39h0M534.73,397.44h0M534.22,377.12h0M536.73,400.92h0M535.05,368.91h0M534.36,390.38h0M531.39,378.39h0M531.76,379.56h0M535.20,377.40h0M532.52,399.71h0M533.68,404.21h0M532.81,392.20h0M533.69,403.06h0M536.55,384.02h0M532.89,395.25h0M536.24,393.69h0M533.06,388.58h0M534.71,394.09h0M535.31,404.46h0M535.74,371.63h0M531.17,386.45h0M532.51,386.93h0M534.03,382.90h0M533.81,375.58h0M534.97,401.01h0M532.66,377.78h0M534.30,389.17h0M530.66,382.22h0M534.45,388.06h0M532.26,384.06h0M535.72,389.29h0M536.47,385.13h0M536.43,378.09h0M535.43,402.38h0M533.23,369.66h0M530.49,392.63h0M532.98,395.74h0M534.42,397.88h0M532.13,389.77h0M536.55,398.16h0M534.32,382.28h0M533.20,392.35h0M531.55,395.09h0M536.72,404.13h0M531.94,379.87h0M533.56,378.56h0M530.64,373.19h0M530.47,369.29h0M534.49,383.94h0M536.35,375.68h0M531.73,400.83h0M533.70,393.27h0M532.57,381.54h0M535.93,391.53h0M531.16,399.86h0M536.52,399.75h0M535.38,379.92h0M534.20,369.45h0M536.20,404.02h0M533.08,397.21h0M532.75,389.87h0M532.99,388.26h0M530.38,403.81h0M533.83,396.01h0M536.27,400.98h0M530.59,392.42h0M535.54,389.46h0M531.96,398.35h0M535.80,377.84h0M530.88,371.76h0M532.30,392.75h0M533.45,387.94h0M535.91,391.08h0M532.85,401.86h0M533.98,399.10h0M530.45,377.63h0M531.21,391.24h0M534.28,402.13h0M533.60,399.46h0M531.96,393.87h0M534.33,396.27h0M530.92,383.20h0M534.27,400.86h0M531.94,394.58h0M534.88,385.92h0M534.90,390.35h0M533.74,399.95h0M530.42,384.99h0M530.76,382.59h0M531.09,395.15h0M535.40,400.43h0M534.23,399.04h0M531.27,380.00h0M532.93,383.26h0M534.42,382.96h0M534.01,383.85h0M531.47,392.07h0M533.87,397.97h0M536.74,381.05h0M534.73,372.72h0M533.01,403.14h0M532.86,399.65h0M534.27,402.32h0M530.41,384.88h0M533.13,374.19h0M535.51,402.83h0M530.20,398.05h0M535.49,379.10h0M534.80,387.83h0M536.86,395.80h0M532.61,387.02h0M530.90,403.52h0M531.07,387.10h0M535.14,376.41h0M533.73,400.40h0M533.84,394.57h0M532.52,389.90h0M532.74,368.78h0M530.57,389.88h0M530.87,378.28h0M530.87,372.56h0M536.64,385.53h0M531.27,393.14h0M530.90,399.22h0M530.50,375.75h0M533.52,395.54h0M533.43,396.92h0M535.80,376.97h0M533.07,392.71h0M536.01,382.39h0M530.32,398.09h0M533.73,404.25h0M535.67,397.95h0M535.14,385.18h0M536.44,391.27h0M534.42,401.23h0M531.07,378.02h0M535.71,393.13h0M531.92,372.07h0M534.33,378.64h0M534.38,385.24h0M533.54,376.21h0M536.88,400.33h0M530.82,375.35h0M532.20,397.18h0M534.36,374.92h0M533.92,400.36h0M535.70,378.75h0M533.36,374.25h0M535.15,383.70h0M531.27,389.25h0M533.69,404.41h0M533.85,394.43h0M536.63,379.20h0M531.57,394.37h0M532.72,391.23h0M531.93,383.45h0M532.01,390.72h0M532.33,400.81h0M531.41,402.73h0M535.83,387.99h0M535.89,374.78h0M532.12,371.73h0M530.41,378.15h0M532.30,388.85h0M530.47,385.11h0M533.76,375.13h0M535.51,397.72h0M534.03,384.30h0M535.30,389.44h0M535.73,399.88h0M536.45,385.47h0M536.77,398.90h0M531.45,400.21h0M533.67,395.78h0M533.63,393.32h0M530.86,377.57h0M535.57,385.52h0M533.57,388.89h0M535.47,396.82h0M531.04,394.30h0M531.10,385.02h0M536.24,380.54h0M536.62,392.65h0M535.47,381.91h0M531.06,396.59h0M532.62,398.75h0M531.88,389.76h0M535.56,403.26h0M531.11,386.08h0M534.26,385.89h0M530.87,380.04h0M536.30,398.32h0M531.33,380.74h0M536.69,387.58h0M530.80,402.57h0M534.92,394.68h0M531.51,385.81h0M532.32,393.18h0M531.74,384.75h0M530.42,371.53h0M534.75,387.20h0M530.77,390.76h0M530.56,371.59h0M532.27,390.70h0M536.71,381.20h0M533.29,403.96h0M535.38,398.85h0M532.11,381.10h0M536.64,390.14h0M534.55,379.70h0M534.23,398.92h0M534.96,375.06h0M535.96,394.51h0M533.89,376.63h0M535.10,369.56h0M533.84,392.65h0M531.19,402.54h0M532.62,377.44h0M532.98,376.26h0M530.46,395.44h0M535.98,398.59h0M531.29,386.09h0M533.59,386.29h0M533.80,376.87h0M533.04,393.56h0M530.35,399.27h0M534.04,395.72h0M533.57,400.75h0M534.54,384.85h0M536.37,376.04h0M531.12,401.57h0M531.91,402.96h0M531.71,368.98h0M532.96,383.08h0M530.13,395.28h0M533.97,392.75h0M535.85,393.00h0M531.36,395.79h0M531.07,401.49h0M536.05,401.78h0M534.70,386.16h0M536.44,381.16h0M531.07,374.06h0M531.95,372.36h0M536.23,386.44h0M532.16,391.74h0M531.13,393.18h0M534.56,374.67h0M534.04,373.58h0M533.20,400.30h0M536.62,372.30h0M534.59,397.91h0M534.61,396.95h0M530.24,403.82h0M532.64,397.46h0M535.99,402.80h0M533.62,391.72h0M531.72,403.78h0M530.17,375.48h0M533.66,397.92h0M534.71,379.90h0M533.08,380.26h0M535.19,402.77h0M532.83,395.86h0M530.70,395.81h0M534.40,374.38h0M535.11,398.19h0M534.26,394.41h0M535.38,388.46h0M531.67,394.81h0M535.76,376.62h0M532.62,391.74h0M533.64,387.62h0M533.07,400.17h0M534.94,395.58h0M536.62,371.50h0M531.72,386.26h0M534.73,388.88h0M532.86,398.88h0M532.22,401.77h0M534.50,394.83h0M535.97,376.89h0M535.34,397.69h0M535.75,383.99h0M532.49,369.53h0M533.82,378.18h0M533.38,385.68h0M532.92,371.28h0M534.69,379.08h0M532.92,375.43h0M536.16,382.27h0M531.18,375.98h0M535.02,403.57h0M532.43,396.99h0M533.96,373.88h0M535.99,383.12h0M535.39,376.88h0M535.68,387.44h0M531.11,381.74h0M535.40,373.63h0M532.17,392.26h0M535.99,373.52h0M534.22,399.61h0M533.33,379.96h0M535.19,399.49h0M534.46,368.46h0M533.07,399.02h0M536.55,398.43h0M532.83,387.49h0M532.29,389.82h0M532.19,378.87h0M534.31,394.08h0M533.67,390.70h0M533.34,385.76h0M536.10,387.75h0M533.10,391.26h0M532.64,387.10h0M531.63,386.29h0M535.07,392.44h0M534.76,366.64h0M536.88,375.43h0M536.79,361.59h0M531.89,375.29h0M533.96,358.68h0M535.92,375.06h0M535.44,366.03h0M531.54,374.31h0M530.57,344.79h0M532.49,370.43h0M531.52,358.67h0M531.06,373.62h0M531.68,375.18h0M531.51,376.52h0M532.09,375.58h0M535.89,371.09h0M535.88,360.78h0M533.07,372.12h0M535.93,375.47h0M531.68,351.77h0M530.49,374.65h0M536.63,374.35h0M531.30,355.74h0M531.32,371.95h0M533.43,374.55h0M535.63,376.16h0M535.98,373.93h0M534.90,374.19h0M533.12,369.95h0M533.68,366.91h0M533.78,332.29h0M533.62,370.66h0M536.00,375.16h0M530.39,375.69h0M533.08,371.53h0M531.81,338.07h0M535.47,375.44h0M533.91,373.66h0M530.71,371.46h0M531.63,375.39h0M535.16,373.71h0M531.58,374.46h0M534.34,374.65h0M532.25,372.93h0M530.56,374.73h0M536.65,376.16h0M531.79,376.04h0M530.83,360.62h0M532.09,370.93h0M533.22,371.99h0M530.63,371.67h0M535.53,371.31h0M535.95,370.17h0M531.31,376.09h0M530.84,376.24h0M534.44,372.92h0M536.83,376.28h0M531.80,371.32h0M530.50,372.50h0M533.88,374.59h0M533.57,375.99h0M534.97,370.93h0M536.37,356.90h0M532.89,364.54h0M532.81,368.35h0M534.56,375.93h0M530.42,371.71h0M534.06,375.67h0M536.09,355.42h0M534.65,352.95h0M535.33,333.99h0M533.35,329.96h0M535.35,320.56h0M536.43,313.85h0M533.49,301.76h0M531.23,269.53h0M534.40,343.39h0M535.76,339.37h0M545.47,392.56h0M546.26,382.78h0M546.98,381.52h0M550.15,397.36h0M549.14,376.73h0M551.35,386.88h0M549.70,384.46h0M546.41,369.84h0M546.46,403.89h0M545.10,383.12h0M549.77,373.70h0M546.73,373.15h0M549.33,385.24h0M547.60,391.65h0M550.16,383.67h0M546.63,394.17h0M547.22,391.54h0M546.00,403.35h0M547.63,385.15h0M550.91,379.64h0M545.93,390.45h0M550.01,399.59h0M545.79,396.14h0M548.21,376.93h0M550.25,392.45h0M546.37,387.07h0M546.93,402.73h0M550.50,395.99h0M545.44,381.87h0M546.66,400.30h0M549.10,401.79h0M546.04,398.48h0M548.16,389.63h0M549.14,371.04h0M545.19,378.12h0M546.50,388.46h0M551.09,382.09h0M548.48,387.59h0M546.04,388.22h0M546.03,378.68h0M551.24,372.96h0M550.57,377.11h0M547.08,396.89h0M545.84,393.83h0M546.27,377.55h0M547.50,402.18h0M549.75,395.91h0M550.97,372.42h0M546.77,382.46h0M548.51,398.78h0M549.51,395.67h0M545.86,368.82h0M549.61,394.52h0M545.05,383.56h0M551.38,388.21h0M550.20,394.14h0M550.10,368.42h0M545.40,383.74h0M547.87,394.63h0M550.68,400.62h0M545.95,394.09h0M547.09,376.13h0M548.38,383.65h0M548.87,376.84h0M550.45,382.59h0M549.31,391.14h0M547.65,394.82h0M551.42,386.29h0M546.50,396.23h0M546.37,404.09h0M550.99,396.57h0M545.53,371.16h0M544.84,382.10h0M548.70,372.80h0M549.11,379.49h0M549.54,385.76h0M549.13,386.29h0M550.22,391.25h0M550.04,379.44h0M550.51,403.92h0M548.01,375.88h0M545.02,403.27h0M546.65,400.55h0M549.05,368.64h0M548.11,403.91h0M551.02,385.90h0M550.99,395.15h0M548.14,370.76h0M545.24,398.16h0M551.25,375.44h0M545.29,402.47h0M547.06,389.59h0M548.98,390.62h0M545.88,397.54h0M550.55,390.03h0M548.68,371.55h0M548.31,397.54h0M549.70,398.66h0M546.36,391.07h0M549.62,380.58h0M549.94,391.55h0M545.41,398.25h0M548.06,370.01h0M547.86,391.96h0M547.49,386.71h0M548.00,380.17h0M547.07,404.10h0M547.40,381.58h0M546.21,396.08h0M547.44,392.49h0M545.07,370.73h0M549.34,371.97h0M549.08,371.43h0M550.52,379.67h0M548.08,388.41h0M547.89,379.70h0M545.19,395.80h0M546.18,381.21h0M549.38,375.14h0M546.31,387.25h0M547.45,386.36h0M548.12,404.06h0M548.36,382.37h0M547.12,395.76h0M550.47,382.68h0M549.54,375.61h0M548.90,394.99h0M545.45,387.75h0M547.53,401.88h0M548.68,374.49h0M549.25,400.42h0M550.14,389.21h0M545.35,374.75h0M547.59,379.35h0M545.01,372.28h0M548.13,375.81h0M551.28,371.58h0M549.91,385.77h0M546.53,396.30h0M545.47,373.13h0M550.43,402.72h0M547.57,376.66h0M550.55,387.57h0M548.67,386.11h0M549.03,386.07h0M545.88,404.34h0M550.05,399.13h0M546.65,404.29h0M549.89,378.24h0M551.30,385.29h0M551.42,371.41h0M550.28,379.26h0M550.94,393.72h0M546.66,396.74h0M546.26,402.50h0M546.38,377.72h0M545.84,397.01h0M550.40,401.83h0M546.28,371.86h0M545.45,391.00h0M545.36,391.32h0M545.06,378.09h0M546.97,396.34h0M544.93,386.34h0M550.77,374.36h0M546.26,388.78h0M546.52,398.73h0M547.53,400.05h0M548.39,400.59h0M551.42,404.13h0M550.73,392.01h0M546.50,394.98h0M551.44,388.63h0M546.69,378.13h0M545.88,386.48h0M550.00,403.25h0M547.14,381.72h0M549.80,373.48h0M550.18,392.09h0M546.65,387.24h0M550.14,369.97h0M547.07,378.95h0M550.37,398.69h0M547.24,401.80h0M545.25,402.44h0M550.25,396.07h0M547.07,402.41h0M547.45,395.08h0M551.42,403.51h0M550.07,372.89h0M548.38,374.69h0M547.73,382.33h0M550.01,389.07h0M551.23,401.89h0M545.37,369.25h0M547.95,375.60h0M546.34,388.42h0M545.01,391.36h0M551.37,374.68h0M549.75,398.43h0M546.63,376.81h0M549.56,382.16h0M551.55,371.71h0M545.49,393.06h0M547.28,393.34h0M546.93,393.77h0M547.04,404.16h0M548.86,382.46h0M548.94,373.58h0M547.31,376.11h0M548.80,379.16h0M549.77,403.53h0M549.71,381.45h0M546.44,385.62h0M547.55,397.43h0M548.35,369.44h0M546.46,403.33h0M550.05,392.49h0M546.71,388.57h0M548.51,390.85h0M549.65,378.49h0M548.59,379.19h0M545.07,371.65h0M549.56,368.57h0M548.45,370.49h0M548.82,390.08h0M550.40,380.25h0M549.62,384.20h0M545.18,397.90h0M545.79,401.10h0M545.08,381.47h0M551.29,386.50h0M549.15,375.60h0M546.57,396.77h0M545.45,393.89h0M551.30,397.42h0M550.04,370.24h0M548.93,394.64h0M550.20,394.08h0M551.01,401.31h0M549.08,388.73h0M545.22,381.71h0M549.15,383.30h0M549.41,370.43h0M549.91,380.38h0M551.37,401.27h0M549.18,384.97h0M547.56,376.18h0M546.39,377.41h0M550.36,403.12h0M547.52,391.20h0M551.21,403.96h0M549.89,383.86h0M550.47,378.38h0M545.20,391.87h0M545.68,389.91h0M548.69,392.48h0M547.17,394.50h0M550.29,394.64h0M546.95,387.36h0M550.01,401.26h0M549.05,387.86h0M550.51,371.55h0M545.05,396.93h0M548.19,384.23h0M545.64,397.09h0M545.08,384.91h0M547.97,395.23h0M545.98,393.02h0M550.04,390.46h0M549.11,389.53h0M550.80,394.54h0M548.07,376.71h0M548.61,400.02h0M549.83,376.80h0M547.72,401.92h0M551.37,382.71h0M549.86,403.23h0M548.74,394.82h0M549.13,393.15h0M546.67,383.84h0M550.95,398.63h0M545.54,403.79h0M548.51,390.22h0M546.94,393.57h0M549.66,386.46h0M545.40,397.16h0M548.50,404.25h0M551.44,397.45h0M550.40,388.68h0M550.18,389.56h0M546.08,385.48h0M545.12,400.23h0M545.72,375.73h0M550.18,399.78h0M545.64,385.64h0M548.16,389.79h0M549.43,386.72h0M550.51,376.62h0M546.12,386.08h0M546.49,387.67h0M546.78,393.34h0M546.49,382.63h0M549.81,393.19h0M551.03,375.36h0M551.20,404.21h0M545.85,377.67h0M550.33,372.98h0M550.05,385.08h0M547.15,372.51h0M549.04,403.99h0M547.07,381.60h0M546.42,393.34h0M548.81,389.62h0M547.10,376.63h0M551.41,374.92h0M548.38,402.26h0M548.39,389.60h0M547.62,404.07h0M548.19,389.37h0M545.17,386.03h0M550.16,395.57h0M545.17,373.48h0M547.71,390.58h0M545.66,403.80h0M551.35,383.44h0M548.08,378.91h0M547.91,390.81h0M547.58,376.48h0M550.51,373.14h0M548.01,398.15h0M546.22,377.63h0M550.66,397.24h0M546.50,390.34h0M548.19,384.45h0M547.77,390.79h0M549.74,397.48h0M550.98,392.03h0M550.50,376.96h0M551.45,399.99h0M549.73,394.04h0M547.22,384.76h0M550.30,372.17h0M547.58,372.83h0M547.20,401.57h0M547.46,384.13h0M546.84,384.00h0M550.59,403.95h0M546.47,400.90h0M550.23,381.66h0M544.84,395.07h0M550.85,399.26h0M550.66,383.79h0M548.42,381.84h0M549.48,376.03h0M548.35,378.21h0M544.87,387.15h0M551.17,385.57h0M550.11,403.75h0M548.23,387.17h0M548.36,382.23h0M547.63,387.37h0M548.98,374.15h0M545.49,387.61h0M549.74,373.14h0M546.10,374.65h0M549.94,376.20h0M545.80,403.47h0M550.57,402.42h0M544.92,371.18h0M544.94,379.36h0M550.58,381.13h0M548.16,370.17h0M549.50,383.01h0M546.77,401.82h0M549.84,401.23h0M546.63,378.50h0M546.10,396.50h0M545.98,396.77h0M545.36,397.73h0M548.40,387.31h0M551.47,370.42h0M546.62,370.20h0M545.18,386.08h0M551.31,392.11h0M549.32,387.37h0M547.25,402.15h0M544.90,379.97h0M545.77,402.91h0M547.01,395.80h0M549.02,390.21h0M550.33,403.69h0M549.89,384.46h0M549.41,399.54h0M547.03,384.07h0M545.89,386.80h0M545.51,369.64h0M548.52,390.07h0M548.07,370.93h0M547.01,394.14h0M548.69,384.11h0M551.11,393.25h0M548.52,390.25h0M549.57,404.24h0M547.53,394.88h0M550.25,386.63h0M546.31,387.25h0M548.10,403.69h0M548.61,401.25h0M545.50,387.04h0M546.92,404.12h0M548.78,382.58h0M548.68,387.38h0M544.93,400.10h0M547.57,398.28h0M548.97,372.29h0M550.22,382.43h0M545.23,397.86h0M548.21,377.78h0M547.59,387.43h0M551.20,370.38h0M546.78,373.16h0M547.40,367.39h0M546.57,372.96h0M545.05,373.74h0M548.04,375.65h0M548.02,374.93h0M545.52,376.63h0M550.91,375.75h0M546.67,376.15h0M549.28,363.75h0M546.31,372.47h0M546.75,376.38h0M551.40,374.57h0M546.53,373.47h0M545.90,369.45h0M545.44,358.53h0M551.12,372.54h0M548.84,375.76h0M545.27,372.14h0M545.86,363.90h0M551.38,375.49h0M545.20,371.07h0M549.19,369.24h0M550.88,371.37h0M547.01,363.63h0M546.13,355.65h0M547.99,371.71h0M550.72,364.27h0M545.94,367.30h0M546.72,373.40h0M546.77,352.81h0M548.10,368.80h0M547.47,373.68h0M547.36,376.39h0M548.20,374.32h0M546.03,367.10h0M549.14,375.97h0M546.49,375.67h0M551.21,369.83h0M545.18,371.46h0M547.78,363.27h0M551.04,371.76h0M548.56,371.27h0M548.02,369.47h0M546.30,368.76h0M550.04,369.44h0M544.88,371.07h0M546.98,371.59h0M550.99,362.22h0M549.18,368.12h0M548.87,372.87h0M548.74,363.72h0M551.15,346.27h0M548.74,374.30h0M546.99,368.67h0M546.65,349.04h0M549.23,368.15h0M547.87,362.89h0M544.97,371.86h0M547.58,347.42h0M549.27,344.74h0M547.67,336.68h0M545.29,317.88h0M550.66,352.80h0M550.72,350.11h0M559.78,391.22h0M565.56,377.37h0M564.84,371.28h0M565.79,387.54h0M562.19,402.81h0M563.13,398.52h0M566.02,372.77h0M566.09,372.87h0M561.50,400.41h0M562.37,393.72h0M560.83,388.81h0M563.72,396.31h0M563.99,391.19h0M562.85,402.66h0M560.52,395.61h0M566.19,391.78h0M561.99,381.60h0M564.09,380.04h0M561.11,385.09h0M563.34,375.25h0M566.18,380.59h0M563.89,391.71h0M563.71,398.25h0M565.35,381.97h0M564.24,399.65h0M563.10,402.71h0M562.95,385.24h0M564.57,383.84h0M564.55,374.36h0M560.96,397.76h0M560.18,374.95h0M560.21,397.12h0M560.97,398.71h0M563.15,383.15h0M565.06,400.42h0M566.29,390.07h0M561.38,384.76h0M564.96,394.89h0M565.30,372.31h0M565.06,373.30h0M561.06,390.25h0M560.72,377.55h0M559.83,388.92h0M564.46,390.81h0M563.99,392.45h0M563.31,396.91h0M560.52,383.90h0M560.32,390.56h0M559.79,404.01h0M562.75,394.37h0M565.95,386.96h0M561.86,398.92h0M559.94,393.82h0M562.92,389.13h0M564.59,378.86h0M565.83,391.79h0M562.21,398.16h0M563.39,379.49h0M564.56,393.37h0M566.24,382.48h0M562.49,372.23h0M563.81,404.15h0M563.84,393.38h0M565.12,390.99h0M566.28,404.11h0M566.07,378.94h0M561.17,396.43h0M560.87,379.55h0M561.77,387.36h0M563.80,404.07h0M560.48,393.46h0M561.24,400.78h0M562.15,393.82h0M563.20,404.38h0M564.92,393.96h0M564.71,375.28h0M562.40,370.50h0M561.24,398.96h0M562.56,390.79h0M564.24,373.75h0M564.52,390.21h0M563.41,387.36h0M564.49,373.48h0M565.18,369.29h0M565.65,402.42h0M560.44,386.14h0M559.64,385.49h0M564.66,377.04h0M559.94,388.17h0M560.19,398.58h0M563.84,397.59h0M560.51,394.34h0M564.93,386.88h0M565.10,395.05h0M564.40,389.41h0M563.32,373.09h0M563.09,397.74h0M563.78,382.34h0M559.72,394.13h0M560.05,377.37h0M562.48,381.23h0M560.38,396.31h0M560.34,395.99h0M562.51,395.26h0M565.57,369.70h0M564.03,395.42h0M560.88,380.96h0M559.72,385.08h0M561.71,370.04h0M560.12,368.53h0M564.56,386.12h0M562.92,383.77h0M562.79,395.35h0M560.08,392.34h0M562.22,379.49h0M559.92,399.72h0M563.82,390.42h0M563.80,394.40h0M562.52,384.36h0M561.80,370.30h0M565.56,395.46h0M565.45,397.22h0M559.94,381.86h0M562.38,380.06h0M565.80,379.93h0M565.13,377.46h0M564.08,383.24h0M563.39,377.82h0M563.38,368.85h0M563.64,397.20h0M565.89,384.96h0M560.69,379.58h0M559.95,387.54h0M559.65,383.17h0M563.29,394.34h0M565.70,400.21h0M564.37,399.58h0M563.40,381.23h0M563.71,383.71h0M561.83,392.49h0M563.60,398.97h0M565.71,403.59h0M566.19,375.19h0M565.57,378.70h0M559.96,373.57h0M562.97,381.00h0M564.95,376.17h0M565.86,387.02h0M559.99,384.71h0M561.53,385.50h0M563.74,392.34h0M561.86,383.51h0M564.82,382.38h0M560.11,370.00h0M564.57,397.14h0M564.28,396.42h0M562.62,380.46h0M559.80,378.89h0M562.36,403.76h0M564.12,393.11h0M563.93,385.15h0M565.85,377.30h0M564.66,402.68h0M565.54,384.99h0M564.40,396.91h0M563.45,370.25h0M564.69,369.67h0M564.74,378.02h0M562.36,378.99h0M561.56,380.87h0M559.72,397.52h0M565.34,388.66h0M562.54,381.80h0M561.23,378.54h0M565.61,372.03h0M565.32,372.45h0M561.56,385.99h0M563.97,381.28h0M560.31,387.79h0M563.83,391.80h0M563.15,387.35h0M563.53,403.88h0M564.66,386.71h0M563.41,374.94h0M563.51,370.68h0M564.47,397.77h0M564.14,374.13h0M561.73,401.31h0M564.86,394.85h0M562.15,396.48h0M563.34,403.27h0M564.08,400.54h0M563.11,385.48h0M565.23,392.21h0M560.22,376.38h0M563.52,381.85h0M559.60,385.36h0M564.55,377.95h0M565.52,401.09h0M565.18,375.50h0M559.65,400.19h0M565.31,392.29h0M565.11,375.36h0M564.93,394.16h0M565.73,391.29h0M564.25,378.75h0M561.49,373.76h0M565.76,388.57h0M563.50,395.53h0M564.02,396.92h0M563.92,391.67h0M561.64,377.13h0M561.66,369.34h0M565.85,387.65h0M564.99,404.07h0M564.39,383.04h0M564.84,391.38h0M563.26,384.59h0M564.01,403.94h0M559.95,403.84h0M560.86,399.72h0M560.37,376.68h0M564.99,376.63h0M559.63,378.33h0M561.71,376.17h0M559.98,370.16h0M564.54,379.11h0M563.29,388.03h0M562.33,387.16h0M565.12,379.43h0M566.30,400.66h0M564.57,389.45h0M564.41,389.29h0M561.87,397.59h0M561.00,390.27h0M564.08,376.07h0M559.94,401.18h0M563.70,399.94h0M565.67,380.60h0M562.86,396.23h0M559.81,382.35h0M560.18,389.22h0M562.52,399.75h0M563.53,393.41h0M563.38,377.65h0M561.14,402.03h0M562.95,399.84h0M565.02,377.66h0M563.86,375.89h0M564.54,399.90h0M559.61,393.48h0M560.06,390.41h0M561.78,370.83h0M565.96,389.67h0M560.56,378.08h0M564.42,395.04h0M562.42,376.45h0M561.97,390.96h0M564.01,392.74h0M559.77,402.56h0M562.83,391.57h0M565.03,379.82h0M563.14,376.02h0M564.92,378.24h0M561.20,388.87h0M561.77,378.21h0M565.78,374.92h0M560.73,397.00h0M563.84,381.41h0M560.74,372.47h0M562.14,381.35h0M565.74,381.04h0M563.84,396.62h0M561.80,381.19h0M562.57,397.05h0M562.78,387.53h0M566.32,403.91h0M561.82,389.27h0M563.76,392.80h0M563.98,392.99h0M562.47,373.38h0M565.17,389.26h0M560.95,373.65h0M563.40,387.78h0M565.18,384.15h0M563.26,398.88h0M561.53,391.33h0M560.76,400.02h0M562.32,373.01h0M564.26,382.50h0M561.01,391.83h0M561.65,375.13h0M561.93,379.79h0M562.35,399.66h0M564.85,378.07h0M560.48,394.28h0M562.99,390.91h0M566.05,381.36h0M565.00,396.02h0M560.97,382.24h0M562.39,385.46h0M565.63,383.81h0M562.28,372.47h0M561.22,382.91h0M562.05,399.56h0M563.60,389.49h0M561.33,396.39h0M566.26,399.98h0M560.61,399.87h0M565.85,379.04h0M560.72,393.64h0M564.66,384.92h0M560.96,373.46h0M563.53,395.94h0M564.31,384.48h0M561.89,403.51h0M565.72,371.60h0M563.54,384.03h0M566.16,383.80h0M560.00,375.01h0M564.89,403.21h0M562.87,395.08h0M562.86,389.38h0M562.63,374.08h0M562.93,388.60h0M564.98,401.68h0M565.61,401.42h0M562.78,392.21h0M562.63,399.63h0M562.10,399.55h0M561.23,386.62h0M562.09,381.36h0M562.45,383.03h0M559.66,372.25h0M561.91,376.80h0M562.02,394.27h0M561.98,394.49h0M561.43,374.87h0M561.42,389.25h0M564.74,371.87h0M565.08,371.49h0M565.11,404.13h0M564.64,388.10h0M560.46,390.39h0M562.27,374.09h0M563.89,393.71h0M562.97,390.87h0M561.27,395.90h0M560.19,399.17h0M560.33,399.75h0M564.74,370.35h0M564.43,394.72h0M559.77,396.99h0M563.35,382.97h0M565.97,371.39h0M562.25,378.80h0M563.15,371.12h0M562.35,381.31h0M566.12,396.98h0M562.73,393.81h0M566.24,397.18h0M562.19,404.46h0M560.65,397.72h0M563.07,386.22h0M560.90,383.24h0M560.61,385.77h0M564.08,400.66h0M565.52,387.56h0M562.57,378.91h0M562.06,397.79h0M560.61,374.33h0M561.70,377.21h0M561.54,402.74h0M559.70,379.09h0M563.87,403.70h0M564.11,397.03h0M562.78,375.55h0M564.73,394.32h0M560.31,374.84h0M564.04,398.19h0M563.89,398.63h0M565.28,397.16h0M562.83,385.15h0M564.73,401.20h0M562.42,382.43h0M563.86,379.16h0M563.40,396.93h0M564.85,394.30h0M562.18,390.29h0M562.12,374.99h0M565.12,384.07h0M566.00,373.40h0M564.85,371.46h0M564.15,376.29h0M564.80,388.46h0M561.05,380.75h0M565.06,387.49h0M564.41,399.72h0M562.90,371.62h0M561.25,383.28h0M561.77,398.03h0M562.04,392.29h0M562.02,403.00h0M562.47,403.31h0M566.22,378.47h0M560.52,390.68h0M564.35,396.38h0M563.75,373.66h0M562.35,396.65h0M559.91,390.54h0M562.85,390.42h0M562.42,396.59h0M564.12,397.31h0M561.05,381.64h0M565.76,392.20h0M564.83,398.33h0M562.61,396.25h0M560.89,375.89h0M562.52,387.57h0M561.62,372.28h0M560.83,368.11h0M562.67,376.13h0M562.03,352.49h0M565.01,375.20h0M559.74,366.06h0M563.11,368.50h0M560.90,352.34h0M561.42,375.60h0M560.37,360.17h0M564.40,351.57h0M566.04,376.37h0M562.74,356.35h0M560.04,352.93h0M562.12,375.07h0M564.94,373.29h0M565.10,356.69h0M562.66,372.75h0M564.55,370.24h0M561.64,372.26h0M565.44,350.20h0M559.88,373.73h0M560.46,361.56h0M561.53,374.23h0M560.10,356.66h0M566.03,358.80h0M562.99,365.70h0M560.34,370.98h0M566.19,375.45h0M561.21,352.83h0M561.72,375.66h0M566.22,370.34h0M560.57,376.58h0M563.03,350.08h0M564.46,375.59h0M563.59,368.74h0M562.64,365.95h0M560.72,359.90h0M560.23,329.83h0M563.01,357.23h0M562.51,373.06h0M564.88,339.14h0M564.03,374.13h0M562.28,375.87h0M559.72,374.97h0M560.46,368.74h0M565.65,367.31h0M565.33,371.28h0M563.79,360.94h0M566.15,375.17h0M561.45,363.34h0M560.08,367.80h0M561.62,371.13h0M566.21,374.27h0M563.37,375.27h0M563.28,371.59h0M561.86,367.31h0M565.13,372.79h0M560.25,359.44h0M562.43,369.31h0M561.33,374.79h0M561.93,343.05h0M560.38,366.55h0M560.61,374.58h0M564.67,365.85h0M566.25,346.84h0M561.65,359.11h0M565.70,376.49h0M563.61,373.57h0M562.29,366.14h0M564.28,370.78h0M562.70,291.02h0M561.03,303.10h0M562.84,323.25h0M564.43,329.96h0M563.80,336.68h0M562.45,343.39h0M565.28,350.11h0M576.20,396.91h0M578.37,400.02h0M577.57,398.21h0M578.59,376.63h0M576.00,403.98h0M576.63,388.90h0M581.01,381.03h0M578.82,376.63h0M577.72,401.56h0M579.46,398.17h0M579.62,394.73h0M574.56,377.40h0M576.71,372.39h0M580.03,393.95h0M576.52,387.62h0M578.24,381.58h0M576.49,386.80h0M579.33,377.81h0M576.18,390.84h0M578.19,386.15h0M575.68,375.11h0M578.24,383.00h0M580.03,382.83h0M578.06,400.13h0M576.67,395.24h0M575.97,388.86h0M580.47,384.67h0M580.95,398.16h0M578.14,393.82h0M576.92,395.44h0M580.34,390.99h0M575.56,381.48h0M577.03,382.89h0M580.51,385.22h0M574.84,400.07h0M580.47,395.94h0M578.80,375.87h0M574.81,384.62h0M575.01,384.27h0M580.35,390.38h0M575.40,392.79h0M575.42,391.60h0M575.32,373.42h0M577.79,400.47h0M578.23,394.23h0M576.60,397.47h0M578.29,403.00h0M575.75,375.94h0M579.98,386.75h0M580.93,391.04h0M577.52,403.81h0M576.88,387.26h0M577.85,376.86h0M574.98,373.81h0M578.85,399.29h0M578.63,385.44h0M577.95,398.94h0M575.22,399.87h0M574.81,399.36h0M580.97,375.24h0M575.35,397.08h0M576.95,375.21h0M575.47,375.33h0M574.49,393.41h0M575.02,390.38h0M575.63,402.52h0M575.08,401.45h0M579.63,399.74h0M579.57,379.93h0M579.34,380.30h0M580.78,389.32h0M578.74,403.87h0M580.30,390.81h0M580.66,388.83h0M574.98,390.48h0M579.54,393.48h0M579.25,401.43h0M576.29,382.85h0M575.60,388.45h0M577.01,384.70h0M576.17,380.44h0M579.46,400.70h0M580.75,394.97h0M575.04,394.18h0M577.16,403.94h0M577.22,403.40h0M575.23,400.64h0M575.77,403.01h0M579.15,382.35h0M578.53,386.24h0M579.95,399.77h0M576.05,404.50h0M578.42,372.81h0M575.56,392.37h0M576.11,404.36h0M577.04,391.04h0M580.01,397.28h0M577.21,402.42h0M579.07,387.61h0M579.58,378.97h0M575.78,389.28h0M579.21,386.17h0M575.40,378.18h0M579.57,388.32h0M574.47,388.84h0M578.04,403.92h0M580.26,383.70h0M577.60,395.35h0M579.14,399.74h0M578.34,391.29h0M578.64,394.79h0M580.43,388.99h0M577.48,403.37h0M575.12,380.54h0M577.74,375.21h0M579.88,379.67h0M580.92,387.36h0M575.92,398.52h0M576.23,380.69h0M575.19,397.04h0M576.37,389.85h0M574.49,376.77h0M578.94,389.18h0M574.34,381.45h0M576.33,393.10h0M574.89,399.43h0M577.28,387.96h0M576.03,400.86h0M575.13,379.64h0M574.87,401.12h0M578.23,378.26h0M578.41,374.81h0M578.14,387.91h0M580.30,404.01h0M577.97,399.64h0M578.51,399.65h0M574.78,384.89h0M578.43,382.95h0M576.13,377.92h0M578.99,404.04h0M575.26,378.52h0M575.80,373.38h0M580.62,396.58h0M579.98,404.43h0M574.82,397.32h0M579.77,374.46h0M577.35,391.39h0M576.00,399.01h0M574.76,394.73h0M578.67,386.02h0M577.36,393.61h0M574.27,390.91h0M576.15,395.91h0M574.73,378.24h0M578.40,398.68h0M576.21,401.82h0M575.95,402.57h0M577.42,404.07h0M574.91,385.40h0M574.30,388.78h0M574.85,372.36h0M577.39,386.69h0M575.33,386.45h0M579.31,391.21h0M578.44,392.76h0M577.06,391.83h0M576.18,398.31h0M577.43,390.75h0M579.78,397.88h0M575.74,374.36h0M580.07,399.46h0M576.28,378.59h0M576.29,381.82h0M578.69,390.03h0M574.57,401.88h0M579.25,392.23h0M574.27,395.84h0M580.46,401.49h0M578.79,381.02h0M580.48,386.70h0M579.72,379.96h0M577.32,398.72h0M580.72,391.51h0M578.23,373.79h0M576.69,394.71h0M578.57,402.72h0M578.84,397.33h0M576.24,387.65h0M579.79,381.51h0M574.35,399.45h0M580.37,385.99h0M576.75,401.42h0M580.92,389.50h0M579.24,399.53h0M574.89,390.55h0M576.80,404.13h0M580.77,379.58h0M575.70,396.07h0M575.66,394.84h0M577.41,399.65h0M580.50,379.92h0M578.92,372.95h0M577.41,379.16h0M578.23,393.05h0M578.19,393.11h0M578.41,379.33h0M578.89,398.83h0M580.18,391.91h0M580.99,396.66h0M579.73,380.88h0M578.46,390.36h0M579.76,393.92h0M576.06,382.85h0M579.50,382.62h0M576.18,377.00h0M580.89,383.35h0M580.07,402.58h0M580.42,389.00h0M574.43,399.01h0M577.65,388.06h0M579.68,400.95h0M575.45,386.59h0M580.25,389.63h0M576.51,397.95h0M576.46,392.26h0M574.37,395.14h0M580.88,390.93h0M575.54,404.45h0M574.80,400.98h0M576.73,386.43h0M574.78,377.14h0M579.24,391.33h0M576.12,378.69h0M579.59,399.73h0M578.66,384.36h0M577.46,376.49h0M575.94,389.35h0M575.00,390.38h0M575.92,394.97h0M580.40,373.30h0M579.01,378.54h0M578.61,379.28h0M574.70,403.81h0M576.91,400.59h0M576.33,400.96h0M580.53,396.73h0M574.33,396.54h0M579.52,387.14h0M577.45,396.81h0M575.63,382.97h0M578.25,390.96h0M578.66,379.22h0M579.27,392.83h0M578.94,377.54h0M580.44,399.06h0M578.81,382.64h0M575.40,398.15h0M574.97,386.82h0M574.48,382.17h0M579.26,379.28h0M580.24,403.80h0M575.75,399.88h0M577.01,377.53h0M576.46,378.84h0M580.54,398.08h0M577.63,402.16h0M575.65,403.17h0M575.78,401.48h0M576.25,396.24h0M575.81,402.87h0M576.94,400.58h0M577.79,374.09h0M576.69,386.19h0M577.34,377.87h0M576.31,393.10h0M579.29,392.45h0M577.85,394.82h0M575.67,389.15h0M579.12,383.50h0M576.82,398.52h0M576.41,381.20h0M578.41,391.24h0M579.31,387.51h0M575.54,400.68h0M575.50,398.79h0M574.85,396.12h0M575.59,394.47h0M575.70,380.36h0M575.10,403.75h0M574.55,391.17h0M579.04,387.17h0M578.98,382.42h0M580.75,401.15h0M578.84,403.26h0M579.88,399.12h0M576.20,390.26h0M578.48,379.25h0M580.04,393.31h0M576.38,397.92h0M580.18,387.45h0M580.03,377.44h0M578.29,401.14h0M577.25,397.21h0M576.55,404.02h0M577.53,402.14h0M580.84,374.65h0M579.17,399.02h0M578.42,388.24h0M575.24,390.20h0M578.06,393.25h0M580.38,390.89h0M575.19,379.84h0M579.24,380.50h0M574.98,380.51h0M579.93,373.00h0M577.58,401.33h0M577.66,399.88h0M580.10,380.86h0M578.14,392.49h0M578.27,384.79h0M580.97,380.66h0M575.23,402.71h0M575.50,380.38h0M575.66,374.81h0M579.50,383.39h0M580.53,398.44h0M576.47,395.49h0M579.27,379.35h0M580.51,396.14h0M580.19,403.16h0M576.18,396.19h0M579.41,403.59h0M579.53,378.19h0M579.58,376.08h0M579.11,378.94h0M578.70,378.41h0M577.31,399.06h0M578.01,396.59h0M579.11,401.51h0M574.41,388.99h0M577.28,378.84h0M580.31,382.20h0M577.58,401.34h0M579.55,399.56h0M577.75,383.28h0M577.86,372.76h0M575.28,385.86h0M579.42,386.69h0M580.57,399.73h0M574.62,394.67h0M577.31,386.93h0M578.74,390.94h0M574.93,384.13h0M580.19,398.96h0M575.58,398.09h0M577.54,387.90h0M581.04,382.75h0M575.92,403.51h0M575.94,379.29h0M579.87,393.40h0M574.53,401.32h0M577.54,388.80h0M579.29,387.44h0M576.13,399.70h0M577.03,382.99h0M580.48,401.98h0M579.48,390.16h0M574.47,378.59h0M579.20,388.73h0M578.15,381.89h0M579.20,385.76h0M574.91,388.11h0M577.26,402.37h0M574.60,400.86h0M576.79,403.47h0M577.32,384.68h0M575.66,387.79h0M580.84,398.10h0M578.20,388.95h0M575.71,389.27h0M577.38,398.24h0M578.91,404.17h0M574.72,400.35h0M580.61,397.23h0M577.20,391.85h0M575.60,381.66h0M575.61,391.91h0M577.34,377.29h0M574.40,387.71h0M575.29,399.80h0M575.64,374.27h0M576.67,401.44h0M580.91,397.23h0M577.92,401.54h0M581.01,394.90h0M578.88,392.01h0M581.05,388.87h0M574.82,401.11h0M579.29,381.21h0M579.18,396.14h0M575.12,372.75h0M575.67,385.36h0M580.36,398.73h0M575.55,391.34h0M575.95,389.49h0M580.10,391.97h0M575.51,400.83h0M578.61,402.51h0M580.45,372.60h0M577.27,395.97h0M574.50,387.69h0M575.25,392.64h0M579.91,374.99h0M575.19,392.72h0M577.84,398.07h0M577.39,395.77h0M579.86,394.66h0M577.34,385.41h0M576.92,372.74h0M575.96,403.15h0M575.95,376.26h0M574.83,370.04h0M578.36,376.67h0M575.24,366.27h0M574.46,373.67h0M579.88,376.20h0M577.80,369.18h0M579.66,372.38h0M578.68,379.64h0M577.07,378.82h0M580.66,367.90h0M577.93,368.12h0M577.43,379.15h0M578.23,378.92h0M578.48,375.83h0M580.35,361.55h0M574.65,376.52h0M577.90,373.25h0M578.22,377.90h0M579.96,375.65h0M579.23,374.06h0M579.88,377.65h0M580.81,367.42h0M580.33,378.84h0M579.90,354.36h0M580.25,361.18h0M579.27,367.72h0M575.93,366.18h0M577.26,366.22h0M577.99,373.47h0M580.23,359.16h0M575.54,366.67h0M577.37,375.36h0M578.44,376.75h0M575.93,377.68h0M579.65,331.31h0M577.84,269.53h0M575.05,352.80h0M579.99,350.11h0M578.78,356.82h0M589.93,376.93h0M591.65,393.33h0M593.25,385.33h0M589.26,395.74h0M591.61,380.77h0M593.57,394.97h0M595.13,383.16h0M589.65,403.95h0M589.49,397.65h0M589.00,390.21h0M589.27,392.09h0M595.63,397.97h0M591.45,391.65h0M590.68,404.04h0M594.23,387.26h0M590.47,399.11h0M594.53,401.19h0M589.73,401.51h0M595.15,377.39h0M595.58,388.08h0M594.30,388.17h0M593.82,383.22h0M591.08,381.07h0M590.46,385.93h0M594.09,402.54h0M591.04,373.95h0M590.49,395.50h0M589.07,391.06h0M591.38,402.70h0M593.44,377.75h0M592.07,401.27h0M591.53,390.14h0M593.21,387.11h0M592.76,390.45h0M590.35,386.05h0M591.68,387.54h0M592.00,398.65h0M594.90,404.48h0M589.47,401.19h0M590.27,377.19h0M589.50,372.40h0M595.11,389.01h0M594.32,391.08h0M595.22,389.19h0M594.87,392.36h0M592.95,387.27h0M591.78,401.95h0M591.98,389.80h0M590.04,395.33h0M593.90,390.88h0M592.21,394.43h0M593.40,374.67h0M590.10,385.35h0M592.84,375.74h0M591.18,401.50h0M593.11,400.89h0M589.08,403.92h0M594.53,392.58h0M590.39,373.33h0M591.91,387.24h0M595.66,385.83h0M595.30,387.67h0M595.59,396.71h0M591.10,390.11h0M589.23,389.29h0M594.23,380.00h0M592.82,380.63h0M592.34,400.46h0M591.07,396.51h0M593.63,404.26h0M594.24,387.54h0M593.63,386.93h0M592.77,403.42h0M591.28,374.27h0M591.28,380.43h0M594.85,373.89h0M591.14,404.43h0M592.31,398.14h0M589.66,388.05h0M589.07,403.63h0M594.62,402.01h0M593.94,383.33h0M591.93,387.82h0M589.85,385.50h0M593.66,398.44h0M589.48,395.47h0M593.54,398.57h0M593.86,386.65h0M589.75,391.01h0M594.52,390.51h0M591.60,400.71h0M589.73,385.91h0M594.46,379.44h0M590.12,377.54h0M594.92,390.51h0M593.62,398.79h0M590.25,379.79h0M593.66,393.22h0M589.44,383.61h0M590.07,402.25h0M589.91,389.80h0M589.64,392.35h0M591.02,396.53h0M594.63,394.67h0M592.27,377.35h0M595.67,403.86h0M591.50,401.33h0M592.39,381.73h0M590.02,396.23h0M591.68,403.21h0M592.47,373.02h0M594.99,397.62h0M592.80,388.48h0M589.75,377.58h0M592.92,384.95h0M589.90,387.54h0M589.91,383.79h0M593.39,386.17h0M591.22,376.87h0M595.64,389.48h0M591.49,404.29h0M590.02,385.11h0M593.57,386.18h0M589.46,378.67h0M589.53,403.59h0M595.51,383.73h0M592.69,390.94h0M589.25,396.24h0M592.08,383.54h0M595.69,384.41h0M591.07,403.67h0M589.88,392.79h0M592.04,386.42h0M592.96,380.55h0M591.85,387.91h0M592.97,379.46h0M589.03,397.57h0M590.07,390.81h0M592.31,380.51h0M593.61,402.22h0M590.17,387.18h0M589.75,397.06h0M594.74,389.41h0M592.47,394.36h0M593.61,401.74h0M591.97,403.08h0M593.57,385.02h0M593.11,390.55h0M590.24,397.10h0M591.79,392.54h0M593.96,399.29h0M592.72,384.41h0M590.80,393.44h0M592.48,395.99h0M589.56,390.25h0M590.69,373.31h0M593.76,401.49h0M594.73,402.84h0M590.66,402.32h0M589.34,395.60h0M593.97,403.91h0M594.54,397.95h0M591.01,383.22h0M590.54,385.66h0M594.94,394.58h0M589.83,391.81h0M593.10,387.18h0M593.72,392.63h0M594.81,400.67h0M591.01,401.87h0M589.97,388.17h0M594.31,379.51h0M592.13,376.51h0M593.43,396.17h0M590.37,376.85h0M594.17,382.42h0M594.07,392.33h0M590.28,382.63h0M593.54,389.45h0M590.80,390.85h0M595.58,389.25h0M594.13,384.26h0M595.23,390.51h0M592.78,396.48h0M595.22,393.44h0M591.11,402.74h0M590.61,402.02h0M593.04,386.82h0M595.07,387.06h0M589.25,381.32h0M590.96,401.51h0M589.49,377.25h0M591.11,379.91h0M589.11,379.66h0M589.03,386.96h0M589.34,389.56h0M589.85,400.47h0M594.00,381.81h0M589.69,383.35h0M591.39,402.88h0M593.88,394.41h0M589.80,391.68h0M594.37,392.15h0M591.29,398.48h0M590.19,395.60h0M594.71,394.61h0M594.19,383.12h0M594.07,374.97h0M594.47,388.09h0M590.41,385.70h0M590.39,374.09h0M589.67,385.85h0M590.11,376.38h0M595.60,375.22h0M594.79,377.77h0M589.86,392.20h0M594.87,384.18h0M595.30,375.91h0M590.25,385.87h0M594.59,397.91h0M595.54,393.62h0M593.90,389.54h0M593.96,397.92h0M589.87,379.58h0M591.90,394.64h0M594.17,381.97h0M595.19,395.73h0M592.32,385.43h0M590.27,390.47h0M589.11,402.50h0M590.64,374.06h0M595.14,388.80h0M594.82,395.10h0M592.41,384.78h0M592.74,392.83h0M591.65,397.51h0M592.29,389.71h0M592.62,392.57h0M593.89,401.51h0M591.41,382.22h0M594.14,377.98h0M592.61,395.15h0M594.54,384.05h0M593.72,387.87h0M590.74,400.21h0M589.35,392.38h0M593.03,379.01h0M593.63,389.74h0M590.62,377.72h0M590.14,399.88h0M595.74,390.94h0M594.67,400.21h0M590.47,403.74h0M595.53,396.02h0M590.92,395.81h0M595.52,398.55h0M589.03,387.10h0M595.63,396.68h0M591.98,388.79h0M589.20,383.25h0M589.29,401.62h0M594.07,386.54h0M589.33,399.61h0M592.50,394.01h0M594.15,391.77h0M594.87,385.92h0M594.48,379.54h0M591.99,391.59h0M594.78,383.82h0M591.65,375.54h0M592.82,396.86h0M589.06,402.32h0M591.50,400.74h0M595.46,400.36h0M593.62,391.38h0M593.98,390.20h0M590.49,385.87h0M593.22,381.73h0M591.93,379.13h0M590.01,378.72h0M589.50,384.13h0M592.32,401.38h0M590.81,380.29h0M592.86,393.89h0M591.08,397.59h0M589.67,401.75h0M594.48,372.80h0M595.13,378.90h0M592.83,379.30h0M594.44,399.48h0M591.77,392.26h0M590.35,392.67h0M591.88,383.31h0M591.60,377.38h0M589.19,403.49h0M589.97,374.97h0M595.67,400.67h0M590.40,389.53h0M591.62,402.32h0M594.19,397.12h0M593.54,375.87h0M591.73,391.35h0M590.85,392.91h0M593.69,389.31h0M589.07,390.11h0M591.47,388.84h0M592.29,388.20h0M593.43,380.23h0M590.05,391.54h0M593.45,396.28h0M592.87,402.46h0M591.31,389.89h0M590.60,394.26h0M591.67,381.77h0M593.56,389.24h0M591.86,394.34h0M589.72,390.46h0M590.89,383.29h0M591.32,400.95h0M593.48,385.72h0M589.92,380.92h0M589.87,393.75h0M594.55,388.44h0M589.81,387.14h0M590.97,386.35h0M591.86,404.25h0M591.57,395.88h0M589.79,399.30h0M590.91,381.36h0M593.41,394.34h0M590.15,400.14h0M589.63,382.76h0M591.68,401.03h0M589.70,382.21h0M590.75,400.48h0M593.24,387.22h0M591.49,390.61h0M594.45,375.82h0M591.06,399.57h0M591.98,395.96h0M590.08,403.99h0M592.37,394.45h0M590.13,394.35h0M593.55,392.75h0M591.21,402.23h0M593.30,379.81h0M591.35,401.00h0M594.48,380.23h0M594.96,386.07h0M593.86,394.72h0M590.06,378.00h0M590.71,395.19h0M589.30,373.00h0M593.30,373.57h0M592.62,394.61h0M594.44,393.43h0M591.07,377.32h0M593.67,397.08h0M594.68,382.19h0M589.34,389.37h0M592.43,395.27h0M594.08,393.52h0M593.54,400.20h0M591.39,378.52h0M590.91,378.50h0M591.27,385.50h0M592.63,378.59h0M591.62,372.96h0M595.72,389.70h0M594.21,386.89h0M593.19,384.35h0M595.68,392.71h0M595.56,383.14h0M589.92,402.22h0M590.79,372.76h0M589.26,379.81h0M595.29,394.74h0M591.59,381.55h0M593.12,400.93h0M595.23,377.05h0M594.01,387.51h0M594.35,386.19h0M590.64,386.51h0M593.06,387.89h0M593.79,382.09h0M591.51,393.14h0M592.76,392.68h0M593.21,396.43h0M589.02,394.89h0M589.51,400.03h0M591.93,379.93h0M591.79,400.44h0M590.56,393.46h0M594.56,396.25h0M594.93,402.26h0M595.52,390.81h0M593.62,391.59h0M593.53,403.26h0M594.63,386.12h0M595.44,388.38h0M592.35,380.74h0M591.66,397.06h0M593.45,402.85h0M595.20,401.59h0M594.30,389.10h0M590.67,400.54h0M589.76,381.03h0M594.75,378.90h0M595.54,388.52h0M591.95,392.36h0M590.49,389.14h0M590.74,383.24h0M589.03,381.48h0M591.32,385.67h0M592.37,377.11h0M592.00,376.11h0M592.01,393.48h0M589.13,384.80h0M591.89,401.40h0M590.00,397.76h0M592.87,377.63h0M591.01,378.14h0M595.16,376.86h0M595.73,379.01h0M589.83,377.72h0M590.76,363.94h0M590.81,379.03h0M595.53,376.09h0M594.76,373.32h0M590.59,377.47h0M589.15,378.72h0M590.39,375.63h0M594.79,376.55h0M589.47,377.32h0M589.62,377.03h0M590.62,372.32h0M593.30,379.60h0M593.84,377.67h0M593.88,376.34h0M593.29,379.09h0M591.36,377.42h0M590.85,376.45h0M591.72,372.59h0M593.42,377.71h0M593.09,378.07h0M590.72,373.84h0M593.79,371.05h0M590.96,376.09h0M594.60,375.33h0M594.54,366.30h0M595.35,374.16h0M590.48,378.12h0M591.79,376.57h0M592.81,375.45h0M591.24,356.55h0M592.18,286.99h0M593.20,350.11h0M594.02,352.80h0M591.41,355.48h0M604.13,390.04h0M604.77,400.18h0M604.86,376.57h0M605.67,392.01h0M605.62,389.28h0M606.56,390.34h0M605.68,383.14h0M606.89,402.88h0M609.15,386.42h0M608.43,374.68h0M608.35,391.74h0M609.48,388.14h0M603.80,395.57h0M606.33,374.87h0M607.35,374.74h0M608.39,401.81h0M607.22,404.07h0M605.75,400.52h0M604.29,381.88h0M607.05,402.25h0M605.37,397.89h0M606.68,394.08h0M607.45,376.66h0M610.47,373.90h0M605.97,401.94h0M608.01,399.55h0M608.99,394.02h0M607.77,393.53h0M603.80,382.66h0M605.98,377.95h0M610.15,398.01h0M607.13,400.95h0M606.75,387.69h0M608.99,374.33h0M603.83,392.39h0M605.93,376.75h0M609.95,397.76h0M610.37,383.34h0M604.68,394.06h0M604.80,373.75h0M609.90,404.34h0M607.80,397.67h0M609.39,392.49h0M608.41,395.78h0M610.19,403.33h0M609.68,400.91h0M609.70,393.44h0M607.01,395.60h0M605.63,396.97h0M605.98,390.93h0M610.23,394.91h0M606.41,387.03h0M607.71,388.42h0M607.90,393.67h0M607.69,387.44h0M604.37,386.69h0M607.68,400.99h0M607.55,385.92h0M609.45,396.67h0M605.50,386.59h0M605.80,400.11h0M605.60,392.53h0M606.43,378.87h0M609.29,395.10h0M607.67,404.15h0M609.17,394.96h0M606.69,404.40h0M609.45,390.69h0M608.06,403.75h0M608.80,383.23h0M605.54,393.67h0M607.87,402.51h0M604.60,397.10h0M605.72,404.02h0M608.53,378.23h0M606.86,373.38h0M607.37,393.52h0M606.88,401.36h0M609.56,402.09h0M610.20,383.23h0M606.99,385.24h0M609.26,375.30h0M609.12,372.59h0M609.56,394.16h0M609.05,387.92h0M607.14,375.72h0M606.27,386.14h0M609.45,396.73h0M610.01,387.10h0M607.32,394.07h0M605.35,394.72h0M606.61,389.24h0M605.90,401.92h0M605.07,384.26h0M604.00,380.18h0M605.84,401.81h0M605.17,399.58h0M606.51,397.06h0M610.04,392.97h0M605.16,375.40h0M604.60,404.15h0M604.84,400.85h0M608.33,379.53h0M608.46,389.75h0M608.84,388.27h0M607.81,374.66h0M610.35,391.84h0M610.02,403.31h0M606.45,380.57h0M606.12,384.25h0M607.54,393.64h0M603.72,383.73h0M608.16,398.26h0M607.45,403.57h0M603.82,382.94h0M606.08,400.37h0M609.07,398.79h0M610.10,385.53h0M607.99,389.53h0M608.83,376.53h0M608.55,378.00h0M607.29,391.59h0M609.51,372.89h0M604.53,403.49h0M608.67,383.09h0M606.76,403.16h0M605.25,377.22h0M609.24,395.31h0M609.61,394.04h0M608.27,391.46h0M605.84,387.36h0M603.79,395.87h0M607.27,373.93h0M610.20,402.38h0M607.25,402.74h0M605.70,376.02h0M609.86,383.30h0M606.74,380.31h0M606.24,403.10h0M609.05,394.95h0M605.62,392.86h0M606.40,396.24h0M605.74,388.80h0M609.48,392.47h0M607.23,381.06h0M603.71,392.88h0M605.21,392.03h0M603.93,402.14h0M608.21,398.18h0M609.17,399.06h0M604.47,395.59h0M603.98,395.12h0M607.83,384.68h0M605.20,383.25h0M606.17,377.23h0M610.46,391.58h0M609.97,396.14h0M606.62,398.31h0M608.26,384.95h0M604.19,393.51h0M605.88,403.27h0M609.67,375.74h0M607.17,396.79h0M605.70,394.95h0M604.56,397.52h0M610.02,402.66h0M604.39,391.68h0M609.52,380.52h0M605.56,395.72h0M607.02,386.77h0M606.80,378.02h0M608.73,393.42h0M605.84,394.10h0M606.41,401.59h0M604.67,382.70h0M605.11,389.34h0M606.92,394.64h0M610.06,392.30h0M609.50,374.65h0M608.26,404.39h0M604.11,393.66h0M605.39,387.87h0M607.37,395.32h0M604.21,397.65h0M607.30,402.59h0M604.88,381.92h0M608.02,401.81h0M608.11,399.89h0M609.25,376.93h0M604.35,373.37h0M609.57,395.90h0M604.39,390.51h0M605.89,392.94h0M607.49,378.83h0M609.81,374.99h0M608.25,395.03h0M607.34,378.96h0M607.30,380.19h0M610.05,392.70h0M605.51,389.40h0M609.92,386.20h0M603.77,381.76h0M606.90,400.54h0M610.46,386.96h0M604.76,392.66h0M608.16,401.22h0M603.89,400.41h0M608.31,391.65h0M604.35,385.15h0M609.93,403.74h0M608.75,373.94h0M609.09,394.25h0M607.54,384.90h0M610.39,384.14h0M606.23,390.00h0M605.77,386.53h0M604.89,385.43h0M604.94,372.97h0M607.82,376.44h0M604.33,386.40h0M604.79,389.51h0M604.83,388.18h0M606.85,376.04h0M607.92,378.13h0M610.00,389.28h0M606.71,378.09h0M607.30,401.12h0M607.22,373.26h0M608.62,401.32h0M606.80,381.33h0M607.88,386.49h0M607.55,378.04h0M605.02,381.65h0M604.02,388.12h0M610.45,384.49h0M609.07,391.69h0M604.13,394.35h0M603.96,382.98h0M609.88,379.34h0M607.49,381.34h0M605.55,389.43h0M609.33,388.94h0M610.14,390.78h0M609.91,396.02h0M607.74,373.96h0M608.02,395.47h0M604.78,386.99h0M604.28,389.59h0M609.36,393.15h0M606.58,374.15h0M607.79,379.15h0M606.05,393.15h0M610.03,397.40h0M609.74,395.90h0M606.72,401.67h0M608.04,396.89h0M606.47,382.29h0M610.13,373.39h0M609.03,396.96h0M607.56,400.53h0M609.17,395.27h0M607.62,379.24h0M610.45,396.36h0M604.08,383.90h0M607.71,376.09h0M604.15,375.51h0M607.11,397.10h0M608.47,374.85h0M605.92,392.25h0M605.71,381.11h0M603.97,380.02h0M605.43,392.26h0M606.05,381.68h0M608.20,400.29h0M609.97,403.32h0M606.52,403.03h0M605.27,393.46h0M605.50,384.85h0M606.48,384.75h0M609.95,398.47h0M608.17,377.01h0M606.48,401.07h0M609.55,380.00h0M609.68,395.43h0M605.42,382.59h0M608.68,401.62h0M607.37,381.16h0M606.07,394.11h0M607.72,380.50h0M608.98,396.99h0M607.51,402.40h0M604.57,403.12h0M607.53,391.85h0M607.49,388.90h0M607.95,401.74h0M609.33,402.85h0M604.04,376.91h0M606.80,397.90h0M607.94,377.52h0M605.81,394.78h0M607.99,404.42h0M610.29,394.28h0M606.95,380.54h0M609.04,391.76h0M607.88,373.97h0M608.18,397.35h0M606.55,403.02h0M608.62,402.06h0M610.31,403.33h0M605.72,389.20h0M606.14,387.61h0M603.95,381.91h0M606.00,383.06h0M609.65,378.94h0M609.89,374.90h0M609.08,402.27h0M604.95,403.68h0M609.96,397.66h0M605.18,388.30h0M605.99,402.70h0M605.94,404.23h0M604.07,386.11h0M607.14,401.05h0M605.98,386.25h0M604.60,376.82h0M604.73,394.87h0M605.28,384.70h0M604.21,388.62h0M603.99,402.39h0M607.81,389.32h0M608.37,377.12h0M609.61,387.87h0M604.20,390.50h0M606.52,400.16h0M609.28,392.89h0M608.51,382.88h0M606.83,385.17h0M608.03,380.72h0M603.91,402.46h0M606.79,383.81h0M610.37,379.04h0M606.79,391.87h0M605.31,376.02h0M608.71,394.06h0M606.91,375.16h0M603.92,402.44h0M604.20,393.48h0M609.68,387.85h0M605.91,372.89h0M607.93,379.85h0M607.67,399.16h0M609.49,385.53h0M604.77,384.43h0M603.89,380.16h0M608.11,400.48h0M607.94,382.41h0M606.96,385.71h0M604.82,399.31h0M607.72,372.81h0M607.83,394.11h0M604.62,379.78h0M604.48,379.56h0M607.63,402.85h0M608.69,385.03h0M607.74,379.67h0M606.16,378.22h0M603.85,392.89h0M604.19,378.41h0M609.91,388.92h0M607.34,391.11h0M603.92,382.98h0M609.78,398.84h0M606.94,390.00h0M607.25,377.80h0M604.61,403.60h0M606.15,399.52h0M606.07,379.27h0M608.13,392.30h0M605.44,388.57h0M604.04,375.96h0M608.64,386.67h0M608.43,380.91h0M609.75,395.24h0M610.20,391.00h0M610.20,394.83h0M609.48,382.09h0M608.15,383.77h0M604.16,391.31h0M606.81,379.79h0M606.16,384.03h0M609.71,381.39h0M608.87,381.24h0M606.51,400.58h0M606.91,396.45h0M605.16,387.85h0M605.12,401.82h0M609.21,400.37h0M606.66,399.93h0M604.68,397.43h0M606.31,378.19h0M607.62,389.54h0M607.49,398.34h0M608.73,384.56h0M608.13,398.38h0M609.81,401.65h0M607.04,388.65h0M608.87,388.05h0M605.48,396.35h0M608.54,395.45h0M610.31,392.69h0M604.34,389.54h0M609.72,401.29h0M604.40,394.07h0M608.48,388.95h0M606.65,374.05h0M609.03,376.20h0M605.65,384.80h0M606.90,398.78h0M610.04,386.34h0M609.55,380.85h0M610.09,366.22h0M606.58,373.70h0M605.19,379.13h0M607.81,379.30h0M609.87,377.75h0M605.23,377.86h0M609.85,374.97h0M604.40,368.39h0M607.83,377.31h0M605.22,365.67h0M609.78,377.36h0M607.12,377.79h0M607.65,370.91h0M605.79,372.23h0M606.92,379.12h0M608.27,376.33h0M607.83,375.58h0M606.87,377.39h0M604.38,378.33h0M604.17,378.12h0M604.56,376.97h0M609.04,351.02h0M607.08,335.88h0M607.72,374.07h0M608.63,363.69h0M605.44,373.67h0M610.44,378.31h0M605.20,352.68h0M609.29,379.55h0M609.15,363.73h0M608.49,376.55h0M610.32,375.62h0M608.46,366.58h0M605.34,374.09h0M605.83,365.20h0M607.25,378.44h0M610.15,377.25h0M607.37,362.87h0M605.13,375.24h0M604.83,362.50h0M607.12,369.86h0M607.98,373.61h0M607.16,373.37h0M604.51,379.25h0M609.23,360.74h0M605.05,343.39h0M606.91,352.80h0M605.33,356.82h0M609.55,359.51h0M621.93,377.76h0M624.16,399.62h0M622.57,401.59h0M624.58,381.78h0M619.01,374.47h0M619.06,399.44h0M620.26,395.39h0M620.99,402.75h0M621.70,375.65h0M623.16,396.98h0M620.52,395.00h0M623.96,396.82h0M623.11,384.02h0M621.23,388.12h0M623.80,403.00h0M619.72,389.88h0M623.50,393.45h0M622.32,404.25h0M624.95,390.39h0M622.50,383.50h0M619.55,386.76h0M622.56,394.34h0M622.38,393.64h0M624.40,376.85h0M621.56,390.04h0M620.79,401.64h0M620.15,401.25h0M624.80,385.32h0M622.37,386.92h0M619.81,395.88h0M622.83,387.09h0M621.20,378.42h0M620.39,402.77h0M622.38,402.34h0M624.13,404.15h0M620.29,403.46h0M622.98,394.07h0M622.27,376.08h0M625.19,382.41h0M623.96,377.16h0M620.01,392.39h0M621.23,399.01h0M624.03,396.16h0M624.25,402.26h0M622.09,387.87h0M620.13,380.48h0M622.08,391.14h0M623.58,403.70h0M618.99,399.63h0M619.35,390.57h0M624.52,384.46h0M624.05,389.01h0M621.93,392.00h0M625.15,398.19h0M621.90,382.42h0M621.22,383.40h0M623.88,374.05h0M620.13,373.88h0M623.08,381.56h0M622.52,404.31h0M624.51,376.21h0M621.62,375.05h0M620.86,389.35h0M620.71,401.30h0M623.04,377.34h0M623.72,384.69h0M619.93,379.42h0M619.65,386.32h0M619.98,397.59h0M621.07,400.65h0M620.41,381.03h0M622.71,394.42h0M622.29,379.02h0M619.83,400.69h0M620.90,386.09h0M620.20,387.40h0M621.48,388.80h0M623.25,390.97h0M624.81,381.35h0M619.62,380.70h0M619.29,392.17h0M624.34,402.10h0M621.84,381.76h0M621.19,381.16h0M623.27,387.34h0M622.81,399.70h0M621.68,398.46h0M621.39,382.05h0M619.43,381.50h0M623.07,390.85h0M619.37,378.53h0M620.15,401.86h0M618.89,400.28h0M618.70,392.38h0M621.78,378.07h0M622.53,399.26h0M623.13,396.93h0M620.00,385.76h0M625.11,388.71h0M623.85,403.48h0M619.39,402.27h0M625.12,403.61h0M620.67,374.78h0M624.55,394.05h0M623.15,394.10h0M623.72,380.52h0M622.87,374.24h0M623.37,396.02h0M620.41,399.58h0M619.55,393.92h0M624.06,401.57h0M623.82,383.47h0M624.49,398.00h0M624.55,387.48h0M623.51,376.25h0M620.00,394.70h0M620.86,392.74h0M622.45,398.95h0M618.43,395.48h0M619.91,402.44h0M623.96,377.64h0M621.63,402.95h0M620.55,394.72h0M622.40,398.48h0M624.80,401.28h0M624.32,395.98h0M619.25,399.72h0M621.01,375.15h0M619.04,389.70h0M624.85,384.33h0M618.75,384.11h0M619.00,396.63h0M623.53,399.77h0M624.49,378.84h0M620.92,376.90h0M622.60,400.37h0M623.44,378.84h0M618.48,389.66h0M618.61,378.66h0M619.86,379.76h0M621.70,372.61h0M618.85,374.14h0M620.50,399.90h0M624.37,390.55h0M621.17,377.76h0M621.63,401.10h0M622.59,384.41h0M622.47,387.75h0M620.99,384.72h0M619.18,377.09h0M623.92,389.40h0M623.24,392.27h0M620.11,387.96h0M621.66,398.76h0M619.37,394.72h0M620.16,387.45h0M622.21,395.48h0M619.17,392.37h0M623.09,379.10h0M622.17,378.83h0M622.55,385.62h0M618.45,386.78h0M623.54,400.99h0M622.42,378.11h0M620.32,379.62h0M623.18,398.68h0M620.53,377.91h0M622.81,392.53h0M622.78,395.67h0M619.28,395.49h0M620.79,389.17h0M618.83,386.66h0M620.26,373.91h0M622.33,396.71h0M624.11,382.20h0M623.79,387.75h0M622.08,385.27h0M622.20,391.58h0M622.51,399.66h0M621.83,376.89h0M622.25,398.46h0M619.18,393.89h0M620.25,386.77h0M620.18,385.06h0M619.32,389.97h0M622.89,395.02h0M622.39,402.51h0M618.87,382.76h0M624.33,384.03h0M621.31,374.48h0M625.12,386.65h0M620.29,385.11h0M620.97,383.09h0M618.55,374.61h0M619.31,389.25h0M624.53,388.66h0M624.16,381.85h0M624.70,390.67h0M623.78,382.73h0M624.84,392.16h0M618.54,401.56h0M622.64,401.96h0M623.11,384.23h0M622.34,394.80h0M619.15,396.73h0M624.80,398.52h0M623.99,388.35h0M621.82,376.62h0M619.52,387.29h0M622.45,398.38h0M621.27,404.16h0M623.95,401.15h0M624.36,392.38h0M621.92,391.80h0M622.34,389.18h0M622.04,401.51h0M619.30,403.04h0M622.39,401.73h0M619.01,399.66h0M623.90,392.23h0M618.94,400.39h0M622.27,376.63h0M624.51,389.16h0M618.70,388.24h0M619.64,377.30h0M622.10,393.27h0M618.48,386.82h0M623.30,378.36h0M624.76,399.80h0M623.52,388.17h0M622.22,404.23h0M625.14,377.91h0M622.89,391.98h0M622.61,396.32h0M621.07,376.38h0M624.63,390.25h0M620.12,377.19h0M620.21,401.92h0M621.38,392.14h0M624.66,375.15h0M624.56,377.16h0M622.69,388.70h0M619.99,394.84h0M620.48,376.56h0M621.75,388.71h0M620.50,380.82h0M620.77,388.47h0M623.29,373.15h0M620.50,400.71h0M618.84,397.15h0M620.33,403.85h0M620.29,377.14h0M623.14,384.20h0M624.15,398.62h0M624.18,395.29h0M621.97,393.43h0M618.92,394.29h0M619.43,391.49h0M624.49,373.12h0M624.22,404.08h0M623.93,403.80h0M624.19,389.77h0M619.17,396.76h0M622.89,395.71h0M622.24,387.73h0M619.98,380.21h0M625.20,380.29h0M621.70,373.20h0M624.17,390.92h0M621.50,390.79h0M622.79,402.62h0M624.94,401.88h0M619.05,390.72h0M624.98,376.17h0M622.84,389.74h0M622.51,400.66h0M618.96,389.11h0M623.58,396.09h0M619.27,391.86h0M622.11,377.95h0M622.06,379.54h0M622.96,377.70h0M623.80,373.77h0M618.49,390.01h0M620.45,393.34h0M624.74,404.36h0M623.00,393.76h0M623.27,402.30h0M621.18,402.90h0M618.53,391.28h0M623.70,388.37h0M622.72,396.12h0M619.12,397.42h0M618.95,380.76h0M621.57,386.64h0M620.08,380.49h0M621.72,372.92h0M621.83,398.41h0M624.16,380.95h0M620.94,387.82h0M621.59,393.19h0M620.55,391.73h0M622.64,377.23h0M620.38,395.01h0M624.48,390.99h0M623.78,393.90h0M622.90,402.93h0M622.34,393.10h0M620.54,403.91h0M622.57,393.79h0M623.35,386.72h0M620.16,372.80h0M624.50,389.90h0M623.69,382.83h0M621.08,383.63h0M619.44,400.84h0M624.79,399.95h0M620.23,401.58h0M624.92,387.22h0M621.52,389.71h0M622.31,379.25h0M620.14,402.14h0M622.06,398.52h0M619.05,384.65h0M622.12,390.06h0M624.94,376.23h0M621.26,389.26h0M623.04,382.02h0M622.77,402.72h0M624.54,397.34h0M624.08,403.26h0M618.55,400.56h0M619.20,373.87h0M622.97,387.37h0M625.04,380.11h0M619.78,383.78h0M621.01,401.76h0M620.79,402.82h0M621.39,392.44h0M623.84,393.80h0M620.46,396.53h0M619.70,393.87h0M622.97,404.08h0M623.79,383.40h0M621.82,384.06h0M621.55,401.04h0M622.00,385.01h0M622.93,401.80h0M621.58,385.95h0M621.40,402.10h0M619.45,384.96h0M618.78,373.88h0M623.55,403.76h0M619.21,399.66h0M620.61,402.19h0M623.74,401.72h0M621.36,404.34h0M623.36,399.17h0M622.76,398.26h0M623.12,385.29h0M622.64,400.31h0M622.74,378.65h0M620.90,373.19h0M622.31,386.43h0M620.67,382.53h0M618.60,396.32h0M622.00,384.02h0M624.93,390.88h0M620.94,397.34h0M622.01,402.99h0M625.01,375.79h0M619.65,404.34h0M620.70,398.22h0M624.66,383.90h0M621.21,398.22h0M619.98,377.64h0M619.55,395.78h0M623.27,396.76h0M623.09,375.48h0M624.09,382.88h0M621.74,379.15h0M619.99,376.24h0M621.22,395.57h0M623.32,384.48h0M621.01,376.15h0M620.30,399.55h0M620.26,383.00h0M623.82,386.77h0M619.45,384.78h0M624.83,400.85h0M618.65,381.98h0M620.95,392.56h0M624.67,385.93h0M621.26,394.69h0M619.45,385.20h0M623.44,388.28h0M623.98,379.11h0M624.48,402.14h0M619.75,396.13h0M622.58,391.66h0M619.47,399.87h0M620.72,397.68h0M623.75,401.74h0M624.29,402.99h0M623.33,372.89h0M621.42,376.84h0M622.59,382.71h0M619.52,382.23h0M623.05,393.99h0M622.28,399.54h0M619.37,393.37h0M621.90,374.71h0M620.68,378.59h0M621.49,374.92h0M621.48,398.36h0M623.41,398.47h0M619.75,374.42h0M624.77,396.19h0M625.09,384.73h0M621.82,379.63h0M623.04,377.38h0M624.76,370.51h0M622.61,377.32h0M622.28,378.88h0M622.02,376.35h0M618.98,375.91h0M625.16,374.11h0M623.05,378.92h0M621.33,378.48h0M624.30,374.68h0M622.43,373.01h0M620.16,368.38h0M622.13,374.24h0M622.30,369.72h0M622.28,361.57h0M624.50,377.83h0M624.24,378.83h0M621.01,356.44h0M621.35,377.20h0M624.19,376.77h0M619.86,379.02h0M619.98,366.96h0M623.08,379.65h0M619.93,378.02h0M624.59,368.33h0M620.43,377.95h0M621.88,368.44h0M625.22,378.60h0M618.76,377.28h0M624.78,372.32h0M624.45,369.42h0M619.66,378.57h0M624.04,373.96h0M619.78,331.15h0M620.80,376.61h0M619.30,377.77h0M623.65,377.38h0M621.35,378.70h0M624.87,378.71h0M624.31,378.03h0M622.89,378.75h0M624.02,377.85h0M619.88,376.12h0M623.62,371.82h0M622.88,373.36h0M621.49,347.42h0M621.91,352.80h0M623.15,356.82h0M634.53,382.84h0M633.87,397.08h0M639.17,387.82h0M637.42,381.06h0M636.09,396.70h0M639.69,385.52h0M635.51,374.64h0M634.48,385.86h0M638.42,387.09h0M639.81,391.84h0M636.27,385.13h0M633.42,387.40h0M635.23,379.88h0M638.74,392.87h0M633.51,391.21h0M638.59,395.62h0M635.23,401.52h0M636.63,398.27h0M633.92,400.55h0M638.80,395.54h0M633.68,385.88h0M638.76,389.58h0M636.79,380.71h0M635.44,384.24h0M633.16,387.19h0M634.22,377.82h0M636.95,385.77h0M639.33,388.56h0M633.82,377.35h0M633.89,389.14h0M636.06,389.32h0M635.53,379.14h0M635.57,390.08h0M639.14,403.99h0M638.17,374.81h0M636.41,380.72h0M633.19,379.22h0M638.73,402.89h0M638.67,386.38h0M639.06,400.76h0M635.87,400.03h0M639.57,372.77h0M639.24,396.20h0M635.93,386.94h0M639.03,397.55h0M635.48,396.56h0M639.33,402.85h0M637.52,403.27h0M639.13,381.68h0M639.12,376.07h0M636.39,389.96h0M636.19,380.26h0M636.09,384.31h0M638.29,392.49h0M633.38,402.41h0M635.38,386.19h0M638.80,388.10h0M638.04,376.99h0M637.09,373.73h0M634.85,401.81h0M637.01,398.83h0M637.82,385.96h0M634.22,388.82h0M636.76,389.11h0M635.66,397.05h0M638.96,399.82h0M635.84,400.74h0M635.61,380.77h0M633.51,381.52h0M634.10,379.76h0M637.78,397.54h0M637.86,396.85h0M633.57,392.63h0M636.34,377.85h0M637.77,402.86h0M635.16,402.36h0M635.00,398.66h0M639.70,386.34h0M638.13,394.78h0M637.25,380.72h0M639.31,377.60h0M638.31,375.01h0M634.01,381.23h0M637.79,396.64h0M635.69,392.19h0M635.78,390.99h0M639.33,380.35h0M639.07,402.28h0M636.97,386.40h0M637.45,376.28h0M635.89,377.77h0M639.65,377.24h0M635.72,403.04h0M638.36,398.72h0M635.41,387.25h0M638.71,400.14h0M639.63,394.40h0M635.15,403.22h0M635.11,372.55h0M637.10,373.40h0M635.39,386.07h0M636.40,389.47h0M633.64,384.09h0M638.86,392.56h0M635.59,397.92h0M634.84,386.27h0M639.58,387.54h0M634.45,382.09h0M638.31,381.62h0M639.62,396.37h0M633.62,390.47h0M639.55,393.53h0M636.73,399.07h0M636.24,388.30h0M635.49,374.04h0M639.67,382.58h0M636.77,373.87h0M639.21,392.03h0M639.09,387.56h0M634.04,399.08h0M638.87,401.28h0M636.64,384.01h0M638.07,383.17h0M637.08,388.97h0M634.16,398.51h0M634.64,401.93h0M634.19,397.63h0M634.43,388.68h0M638.64,401.84h0M634.67,400.88h0M633.40,376.84h0M636.25,386.15h0M635.95,377.72h0M638.03,404.01h0M633.24,391.79h0M639.24,388.63h0M634.99,378.96h0M637.72,389.03h0M638.94,379.52h0M633.18,383.36h0M633.27,403.01h0M636.64,396.32h0M635.52,388.61h0M634.32,395.52h0M638.55,403.86h0M636.91,380.43h0M634.45,396.09h0M636.65,401.68h0M639.41,403.57h0M636.05,389.13h0M639.19,379.68h0M637.43,394.29h0M639.76,396.64h0M636.54,397.15h0M633.28,403.16h0M638.69,401.51h0M637.34,374.62h0M637.01,379.19h0M634.39,381.37h0M636.80,389.05h0M633.45,384.15h0M634.20,386.76h0M634.01,395.66h0M634.19,388.49h0M635.57,399.25h0M639.80,376.59h0M633.34,383.31h0M633.90,404.17h0M638.58,391.96h0M634.98,398.51h0M636.93,383.15h0M635.26,386.41h0M639.51,380.22h0M635.67,398.76h0M639.48,400.18h0M637.16,398.98h0M637.46,384.55h0M638.97,386.19h0M639.30,387.30h0M638.95,398.89h0M638.62,377.89h0M636.87,402.87h0M636.56,400.25h0M634.13,395.08h0M636.55,394.53h0M634.36,381.97h0M636.38,398.37h0M635.74,395.15h0M634.50,382.36h0M635.46,401.19h0M635.56,397.86h0M633.17,382.07h0M639.77,392.79h0M637.85,383.87h0M635.15,402.89h0M634.37,372.87h0M634.75,395.67h0M633.31,388.69h0M638.83,375.89h0M636.03,400.05h0M635.72,400.70h0M638.19,380.28h0M638.00,380.75h0M634.50,395.44h0M637.73,380.80h0M636.66,394.21h0M633.41,393.58h0M639.24,385.48h0M637.46,379.69h0M634.87,383.96h0M638.03,387.84h0M635.81,400.29h0M634.63,377.68h0M636.35,376.86h0M633.55,400.73h0M636.30,383.57h0M633.86,385.00h0M633.73,387.43h0M638.32,382.67h0M633.50,390.98h0M634.91,378.45h0M633.63,404.26h0M634.84,395.82h0M637.49,386.47h0M639.92,375.00h0M637.85,392.16h0M636.57,391.95h0M635.98,387.61h0M636.65,388.56h0M639.11,404.06h0M635.48,383.37h0M633.82,393.77h0M634.07,391.84h0M633.19,376.25h0M636.11,391.89h0M634.48,401.53h0M638.30,383.25h0M636.79,401.42h0M634.33,387.85h0M634.46,401.82h0M638.98,394.35h0M636.75,391.39h0M634.37,384.51h0M636.65,378.06h0M634.90,392.05h0M635.67,387.28h0M638.24,384.61h0M638.26,378.96h0M639.42,380.35h0M633.27,385.31h0M633.20,384.59h0M639.87,382.23h0M638.73,375.42h0M635.35,398.70h0M636.55,382.50h0M637.81,397.70h0M635.87,397.87h0M635.47,404.23h0M636.87,377.31h0M638.01,393.18h0M633.44,393.12h0M637.96,389.43h0M638.38,373.33h0M639.55,398.73h0M636.41,374.04h0M633.47,389.09h0M635.95,400.15h0M635.36,386.72h0M633.58,392.63h0M636.02,395.96h0M633.17,385.04h0M633.72,379.73h0M633.27,393.59h0M639.44,393.21h0M634.11,384.18h0M634.08,391.12h0M633.91,400.16h0M637.08,389.68h0M638.53,404.16h0M636.49,374.16h0M636.02,389.00h0M633.76,389.06h0M636.05,400.12h0M639.64,382.41h0M636.73,391.99h0M636.19,388.04h0M635.91,380.16h0M633.39,378.23h0M634.47,382.55h0M633.65,398.78h0M636.11,386.11h0M636.84,399.68h0M634.54,397.83h0M639.69,394.08h0M633.57,394.24h0M636.37,387.61h0M637.66,397.81h0M633.99,380.51h0M638.19,380.27h0M636.90,396.85h0M635.36,385.09h0M639.82,394.54h0M635.82,395.79h0M635.50,389.74h0M638.85,393.31h0M635.01,396.70h0M639.28,402.62h0M633.29,392.23h0M634.28,380.35h0M639.78,375.65h0M634.40,379.84h0M634.29,402.04h0M639.81,385.50h0M636.44,399.30h0M634.24,382.15h0M637.92,381.82h0M638.65,391.50h0M638.76,382.65h0M635.31,382.04h0M639.44,375.98h0M636.47,380.99h0M634.01,374.89h0M636.29,379.80h0M638.35,381.80h0M639.92,401.50h0M635.67,388.27h0M633.24,377.47h0M637.93,381.16h0M633.77,402.21h0M639.13,378.11h0M634.34,395.47h0M638.62,388.27h0M639.44,400.35h0M638.00,384.25h0M637.98,385.95h0M636.14,396.09h0M639.51,380.47h0M633.29,386.15h0M634.53,384.31h0M638.18,392.04h0M637.99,385.71h0M638.15,389.87h0M639.88,374.72h0M636.56,397.38h0M636.40,399.30h0M637.31,393.20h0M634.96,401.87h0M634.13,382.87h0M633.72,391.59h0M636.31,399.05h0M639.11,393.62h0M633.18,396.96h0M639.39,377.73h0M634.03,381.34h0M639.81,398.60h0M634.04,381.61h0M634.74,399.30h0M634.22,397.42h0M636.35,378.39h0M639.77,383.64h0M635.70,383.66h0M636.54,385.41h0M637.57,404.32h0M639.51,400.61h0M633.86,386.09h0M639.17,400.69h0M634.96,392.83h0M637.63,403.15h0M636.14,375.41h0M633.34,388.78h0M639.61,383.50h0M638.04,376.70h0M639.76,378.25h0M634.77,381.53h0M636.22,403.41h0M633.47,378.48h0M635.78,391.27h0M636.01,391.50h0M638.56,399.94h0M638.29,380.81h0M634.99,394.77h0M633.38,390.22h0M633.41,383.14h0M636.10,390.35h0M637.39,396.61h0M633.58,380.12h0M637.32,403.29h0M637.20,392.92h0M635.76,390.24h0M638.42,401.18h0M639.17,379.07h0M633.71,386.91h0M635.98,393.47h0M633.70,395.79h0M638.07,379.02h0M637.75,387.10h0M637.67,393.37h0M635.04,402.71h0M639.91,395.38h0M637.86,399.95h0M633.27,400.17h0M638.09,397.25h0M636.50,388.95h0M634.75,383.58h0M639.21,388.65h0M639.71,384.96h0M637.55,404.36h0M637.15,388.42h0M638.61,392.73h0M638.07,380.69h0M638.88,388.06h0M637.30,387.04h0M638.83,402.40h0M636.20,390.80h0M635.15,398.45h0M635.06,390.20h0M638.16,373.93h0M638.15,385.29h0M636.54,396.10h0M634.54,376.75h0M637.52,377.66h0M638.31,379.15h0M634.18,378.06h0M639.62,375.04h0M633.47,364.51h0M636.10,375.42h0M635.80,377.62h0M636.10,378.78h0M636.71,374.34h0M635.65,369.81h0M636.72,378.70h0M639.67,369.82h0M638.73,379.31h0M636.84,376.56h0M635.77,369.96h0M638.00,351.77h0M633.68,378.02h0M636.07,374.39h0M637.60,375.71h0M637.05,370.38h0M633.47,376.87h0M638.94,376.42h0M638.20,361.79h0M634.91,367.32h0M635.77,378.90h0M636.72,379.21h0M637.87,365.00h0M637.56,377.29h0M636.74,371.52h0M639.67,372.49h0M639.03,370.75h0M633.34,379.47h0M639.27,375.40h0M637.13,379.52h0M636.90,379.02h0M638.17,375.83h0M635.81,374.54h0M633.59,365.58h0M634.37,367.18h0M637.11,372.00h0M639.05,367.87h0M637.90,368.94h0M636.65,379.05h0M633.96,367.97h0M634.98,366.50h0M634.22,347.42h0M636.40,350.11h0M638.08,355.48h0M637.06,359.51h0M649.17,390.42h0M653.39,360.74h0M649.95,400.90h0M648.27,390.01h0M652.20,375.76h0M648.47,377.61h0M653.10,374.22h0M648.92,372.43h0M647.89,378.09h0M654.34,396.47h0M650.49,389.56h0M648.72,394.31h0M649.24,387.97h0M653.13,401.48h0M648.39,369.57h0M651.28,375.55h0M650.53,387.16h0M653.88,384.99h0M650.07,382.94h0M653.61,361.11h0M650.01,365.14h0M649.04,385.27h0M653.04,400.73h0M649.03,380.51h0M653.13,373.02h0M654.28,378.31h0M652.88,394.13h0M650.52,397.94h0M651.19,362.63h0M654.36,369.85h0M648.98,395.65h0M653.20,383.79h0M649.92,365.02h0M649.55,385.61h0M651.62,387.92h0M652.89,379.47h0M649.45,394.41h0M653.64,386.77h0M654.51,377.45h0M650.91,389.59h0M651.02,387.33h0M648.62,361.06h0M651.89,400.95h0M648.41,373.20h0M654.01,359.52h0M650.64,377.28h0M651.49,381.89h0M651.60,384.20h0M648.12,384.92h0M649.31,398.91h0M653.83,383.41h0M649.02,396.64h0M648.76,380.80h0M652.87,358.64h0M654.17,380.86h0M649.80,393.23h0M653.79,386.49h0M648.08,399.03h0M653.39,395.77h0M652.71,396.59h0M653.86,379.38h0M651.19,376.09h0M653.66,375.98h0M647.95,393.34h0M650.56,403.07h0M653.03,399.75h0M652.07,379.14h0M651.28,387.41h0M653.89,395.54h0M649.90,393.50h0M654.53,404.43h0M651.32,368.51h0M653.99,363.39h0M648.21,398.22h0M652.67,373.51h0M652.15,380.02h0M653.52,404.22h0M653.31,384.78h0M651.89,377.42h0M650.37,370.37h0M651.05,382.47h0M652.60,403.08h0M650.33,401.22h0M652.31,381.27h0M649.18,392.30h0M653.74,385.34h0M653.97,402.74h0M649.13,373.94h0M653.62,390.00h0M651.26,401.62h0M651.25,402.54h0M648.19,398.70h0M651.55,396.12h0M648.34,399.63h0M648.38,390.48h0M653.96,382.25h0M648.68,376.67h0M652.30,375.06h0M654.28,384.01h0M653.82,367.26h0M648.07,394.94h0M649.07,364.49h0M648.85,396.14h0M650.37,387.64h0M649.66,388.72h0M651.09,358.33h0M649.98,364.18h0M653.37,362.10h0M652.82,391.48h0M649.77,383.58h0M647.93,401.66h0M649.62,397.22h0M653.44,391.77h0M652.98,388.87h0M652.61,374.96h0M653.37,361.27h0M651.38,391.51h0M653.17,369.53h0M652.63,374.22h0M654.29,369.14h0M652.14,385.88h0M651.94,383.76h0M653.36,381.29h0M652.67,391.26h0M648.71,368.02h0M650.28,387.81h0M653.61,381.05h0M652.11,389.13h0M651.74,388.11h0M649.05,382.33h0M654.31,382.51h0M652.14,397.26h0M652.57,400.25h0M649.01,378.21h0M648.14,371.04h0M651.63,372.72h0M651.83,394.67h0M650.87,391.55h0M650.65,396.46h0M649.98,387.02h0M649.56,375.05h0M653.37,390.38h0M650.88,390.70h0M650.20,368.46h0M653.35,383.78h0M652.32,388.97h0M649.60,397.66h0M654.39,400.42h0M650.10,399.39h0M650.68,392.86h0M650.39,363.25h0M651.41,375.82h0M653.04,387.38h0M650.67,387.34h0M650.05,400.99h0M649.89,404.42h0M654.38,368.59h0M651.33,392.35h0M653.13,365.12h0M654.35,401.89h0M648.80,364.07h0M654.18,398.61h0M651.64,387.15h0M651.19,371.39h0M650.34,383.58h0M651.31,376.37h0M653.40,363.12h0M654.61,365.43h0M648.71,384.57h0M651.32,404.05h0M652.08,385.34h0M653.97,389.54h0M654.57,394.22h0M653.28,386.36h0M654.61,393.79h0M651.37,361.77h0M648.13,387.90h0M652.19,403.64h0M649.98,391.75h0M652.74,398.63h0M648.95,385.21h0M652.59,391.65h0M648.53,391.25h0M652.36,399.08h0M649.40,363.82h0M650.86,371.50h0M654.59,359.54h0M648.09,366.94h0M648.63,398.52h0M652.99,393.90h0M649.22,392.97h0M653.09,403.93h0M651.10,394.24h0M650.07,399.62h0M652.68,374.55h0M652.32,373.50h0M653.81,389.46h0M651.12,385.98h0M649.39,374.36h0M651.62,367.72h0M651.81,366.51h0M651.74,383.16h0M653.88,372.01h0M654.53,366.76h0M650.39,359.56h0M651.12,365.20h0M651.93,404.47h0M649.66,376.74h0M653.23,382.30h0M653.68,396.05h0M650.30,391.32h0M654.54,394.47h0M648.38,383.20h0M652.64,402.92h0M649.51,385.12h0M649.93,401.31h0M652.81,361.00h0M651.90,377.87h0M648.91,401.81h0M651.62,392.16h0M649.35,368.25h0M651.17,370.27h0M651.20,403.24h0M648.21,380.18h0M648.31,392.18h0M654.19,381.23h0M651.75,358.03h0M648.51,393.42h0M654.60,379.74h0M650.88,387.49h0M652.48,394.20h0M652.82,399.63h0M650.46,392.70h0M652.52,360.71h0M652.53,395.79h0M650.53,359.28h0M653.69,368.85h0M653.76,360.99h0M650.08,370.56h0M652.11,378.92h0M648.91,371.86h0M651.81,375.84h0M647.88,402.24h0M654.23,374.73h0M652.04,384.71h0M651.04,395.25h0M650.40,391.47h0M654.00,357.73h0M651.81,388.91h0M649.17,376.39h0M648.64,370.86h0M649.75,392.02h0M654.47,389.64h0M654.11,375.06h0M654.03,400.35h0M652.81,362.90h0M653.73,367.76h0M651.28,385.49h0M649.44,375.37h0M653.13,402.25h0M651.74,368.04h0M653.49,364.61h0M651.43,391.01h0M651.90,374.37h0M651.81,391.08h0M649.19,361.78h0M649.96,380.92h0M648.03,365.59h0M650.03,363.41h0M651.88,395.60h0M648.20,369.85h0M653.97,403.79h0M651.44,361.15h0M652.94,397.57h0M650.47,389.57h0M650.61,377.47h0M649.07,382.29h0M652.26,379.47h0M652.18,388.69h0M651.83,368.07h0M652.50,359.02h0M650.04,386.98h0M651.94,384.42h0M650.57,369.53h0M648.87,368.36h0M649.43,371.46h0M650.55,400.07h0M648.08,392.46h0M651.65,377.05h0M651.35,402.90h0M652.25,394.34h0M653.94,361.73h0M649.87,396.62h0M654.09,380.68h0M648.36,388.69h0M649.80,380.37h0M649.43,398.94h0M653.68,377.77h0M650.19,386.83h0M651.71,401.04h0M654.25,399.22h0M650.96,398.83h0M648.86,369.91h0M649.59,397.00h0M654.07,379.67h0M648.66,385.22h0M647.94,385.29h0M648.46,398.13h0M653.04,380.23h0M652.22,402.26h0M654.33,386.85h0M649.59,396.15h0M651.98,378.96h0M648.12,376.93h0M651.61,363.67h0M652.06,368.99h0M649.86,394.99h0M647.87,363.03h0M651.87,395.27h0M648.65,372.06h0M654.26,368.50h0M651.88,376.77h0M650.84,399.03h0M652.87,397.60h0M648.51,390.61h0M652.97,381.56h0M652.24,401.58h0M649.17,392.82h0M652.20,388.84h0M654.55,397.83h0M651.27,393.45h0M650.49,366.97h0M649.47,394.79h0M654.12,366.59h0M648.19,359.91h0M652.69,381.38h0M650.09,403.80h0M651.48,388.73h0M651.37,403.85h0M650.69,400.79h0M653.06,392.37h0M651.22,393.79h0M654.30,369.51h0M654.22,373.85h0M653.48,390.37h0M653.28,360.34h0M654.36,368.97h0M651.73,385.16h0M654.26,383.27h0M652.13,392.40h0M648.75,377.00h0M654.36,361.26h0M649.12,391.48h0M652.47,377.43h0M649.37,398.00h0M653.99,367.32h0M654.29,366.51h0M650.26,385.62h0M649.20,360.42h0M654.51,388.73h0M649.65,375.56h0M652.61,388.31h0M654.38,392.42h0M651.75,389.18h0M650.57,360.35h0M651.18,388.23h0M652.03,400.15h0M651.21,381.45h0M653.05,372.42h0M654.22,377.49h0M649.61,382.84h0M654.11,362.98h0M652.34,358.13h0M652.92,378.51h0M654.55,387.70h0M650.37,394.61h0M653.00,367.55h0M649.90,394.76h0M650.30,377.36h0M651.06,393.15h0M648.08,395.82h0M650.98,392.91h0M653.43,380.11h0M653.31,380.44h0M650.62,394.59h0M653.02,396.12h0M649.85,376.55h0M649.41,376.91h0M650.00,391.77h0M652.53,392.78h0M650.54,399.20h0M652.85,381.19h0M653.37,391.48h0M650.86,375.89h0M648.45,395.04h0M652.71,374.03h0M654.08,375.46h0M653.18,366.02h0M653.24,390.49h0M650.63,400.76h0M649.25,360.94h0M648.29,369.29h0M650.19,378.29h0M649.77,365.78h0M654.52,394.61h0M649.41,384.57h0M649.24,359.71h0M653.29,399.88h0M652.03,367.85h0M652.04,364.38h0M653.23,374.28h0M649.80,399.06h0M653.63,386.25h0M651.88,374.99h0M650.45,387.17h0M654.58,364.20h0M650.60,358.91h0M650.54,398.60h0M653.30,381.71h0M648.86,399.21h0M651.75,359.75h0M650.62,362.46h0M652.02,363.71h0M652.94,365.68h0M653.95,358.08h0M648.72,364.25h0M652.77,367.81h0M649.70,352.50h0M652.91,362.88h0M651.75,362.29h0M648.87,353.87h0M652.56,368.07h0M652.51,355.17h0M652.02,363.69h0M652.09,287.55h0M653.90,367.74h0M652.83,366.08h0M654.61,365.32h0M654.64,337.24h0M651.50,363.29h0M651.93,366.11h0M651.25,361.86h0M654.15,357.12h0M648.82,358.22h0M653.08,364.98h0M652.60,368.14h0M652.33,361.80h0M650.69,365.64h0M651.33,364.48h0M654.21,357.95h0M651.78,365.77h0M648.52,367.04h0M653.93,364.08h0M654.21,366.72h0M653.78,365.96h0M652.80,366.56h0M654.47,368.10h0M649.83,367.25h0M649.20,340.04h0M649.47,368.27h0M647.93,365.85h0M654.25,366.56h0M653.93,349.38h0M651.81,366.95h0M652.38,363.82h0M651.67,365.86h0M648.05,365.68h0M651.55,362.85h0M653.81,355.84h0M653.28,366.59h0M652.44,360.67h0M653.95,367.39h0M650.87,367.84h0M654.65,350.15h0M650.84,364.05h0M649.09,358.03h0M649.85,357.08h0M652.34,351.06h0M653.79,349.58h0M650.60,364.67h0M650.15,366.39h0M654.31,351.11h0M651.63,364.86h0M654.11,355.82h0M651.35,367.88h0M653.57,359.89h0M650.97,368.30h0M653.09,364.35h0M651.72,366.60h0M648.42,360.84h0M652.68,367.30h0M649.68,361.81h0M651.21,354.25h0M654.49,366.91h0M650.33,367.87h0M653.16,360.84h0M649.99,366.72h0M650.24,355.93h0M649.21,367.95h0M653.61,328.69h0M649.10,336.68h0M649.95,342.05h0M653.18,347.42h0M648.72,344.74h0M648.99,269.53h0M648.80,350.11h0M665.80,399.40h0M662.82,360.54h0M667.15,387.89h0M664.37,383.28h0M667.97,391.72h0M666.56,392.16h0M667.82,345.57h0M665.54,385.44h0M663.60,375.55h0M667.07,363.02h0M666.01,398.33h0M668.96,376.13h0M667.53,401.23h0M668.86,348.10h0M667.35,356.58h0M662.84,391.94h0M665.55,380.72h0M665.29,367.11h0M662.90,341.71h0M665.58,370.19h0M668.66,365.17h0M665.89,338.35h0M664.92,383.47h0M666.50,350.22h0M663.32,403.46h0M667.13,338.33h0M666.99,388.82h0M666.97,362.93h0M667.43,357.30h0M667.89,375.45h0M663.21,358.87h0M669.09,373.25h0M668.64,403.61h0M664.81,371.52h0M668.90,402.26h0M668.39,393.92h0M668.31,381.01h0M668.14,368.61h0M663.50,380.54h0M666.48,394.82h0M664.63,387.91h0M669.22,395.03h0M663.78,391.24h0M667.63,351.28h0M662.75,391.88h0M667.11,345.33h0M669.35,400.77h0M666.26,359.19h0M665.12,383.61h0M665.47,371.60h0M665.83,365.37h0M663.98,379.88h0M669.33,345.00h0M668.47,377.84h0M665.62,390.02h0M667.51,356.69h0M666.45,372.80h0M667.63,369.91h0M664.17,378.29h0M664.21,354.53h0M668.46,373.18h0M665.59,365.13h0M666.36,360.65h0M664.82,355.06h0M666.37,371.60h0M664.07,391.09h0M664.56,394.14h0M666.92,390.75h0M667.99,394.02h0M663.27,365.30h0M667.99,385.51h0M662.83,388.24h0M663.58,366.16h0M664.16,339.19h0M665.18,395.36h0M663.39,384.94h0M665.68,380.19h0M667.68,397.52h0M668.69,345.31h0M664.12,338.51h0M665.72,392.23h0M666.25,368.32h0M668.06,370.86h0M663.64,351.95h0M666.38,358.79h0M669.09,355.43h0M666.36,368.96h0M663.46,366.24h0M664.87,382.49h0M667.92,403.12h0M662.96,378.32h0M662.59,380.78h0M665.66,380.37h0M667.78,404.15h0M665.50,398.16h0M666.85,390.36h0M667.52,372.98h0M668.20,377.69h0M668.66,382.90h0M664.47,385.59h0M668.26,358.97h0M662.63,342.22h0M664.48,372.20h0M668.11,339.78h0M666.96,375.52h0M663.22,343.92h0M664.70,389.99h0M667.92,393.74h0M662.76,338.49h0M669.36,395.28h0M665.62,373.35h0M664.82,384.59h0M668.46,365.18h0M668.28,356.53h0M665.77,348.21h0M664.49,375.43h0M665.84,370.30h0M663.24,391.18h0M666.74,396.93h0M665.36,386.12h0M666.34,349.02h0M666.44,358.36h0M665.87,355.70h0M668.74,355.11h0M665.62,372.21h0M664.06,381.58h0M663.87,361.02h0M663.68,377.93h0M665.06,375.30h0M667.16,393.43h0M667.01,381.04h0M665.57,379.51h0M666.23,344.82h0M664.80,391.63h0M669.19,349.59h0M664.26,396.27h0M666.78,385.80h0M666.43,387.08h0M663.20,341.23h0M664.24,359.10h0M665.07,388.41h0M669.16,390.32h0M669.26,398.31h0M665.47,353.22h0M667.82,396.38h0M665.41,386.60h0M665.35,344.06h0M665.67,373.29h0M669.03,394.01h0M664.04,372.32h0M666.44,368.79h0M667.87,353.97h0M667.39,376.46h0M663.58,374.10h0M666.72,399.58h0M666.12,345.76h0M664.66,357.51h0M668.99,360.92h0M667.29,341.22h0M668.93,404.28h0M665.03,402.86h0M662.99,367.87h0M666.85,401.35h0M664.17,402.19h0M664.99,395.52h0M667.10,362.98h0M665.01,401.75h0M665.54,354.94h0M662.98,391.77h0M664.53,364.48h0M669.33,366.31h0M665.71,398.89h0M665.15,347.06h0M665.09,374.80h0M667.92,388.07h0M663.86,373.94h0M666.80,398.64h0M663.20,371.95h0M665.03,364.00h0M667.40,399.99h0M666.61,375.65h0M668.61,397.93h0M669.31,384.73h0M667.98,364.24h0M668.60,373.83h0M668.71,355.86h0M667.49,398.04h0M663.34,343.17h0M663.75,365.03h0M668.43,382.82h0M665.63,372.88h0M662.68,387.08h0M665.28,395.91h0M662.60,366.97h0M666.98,382.28h0M668.39,385.31h0M664.37,387.37h0M663.53,394.82h0M664.23,357.95h0M667.12,383.32h0M664.89,395.70h0M664.55,376.27h0M666.92,373.04h0M667.20,359.72h0M663.07,398.09h0M665.75,384.00h0M665.04,360.43h0M668.61,391.57h0M669.26,380.40h0M668.68,364.07h0M666.64,343.84h0M667.72,364.24h0M667.43,358.57h0M669.14,387.07h0M666.90,354.98h0M665.97,390.87h0M664.55,390.78h0M665.61,352.28h0M665.18,339.32h0M666.86,388.24h0M667.47,399.66h0M664.69,385.23h0M666.07,386.06h0M668.38,352.05h0M664.68,366.45h0M664.06,376.11h0M668.94,386.88h0M669.21,388.94h0M662.58,370.05h0M664.20,388.51h0M665.38,389.83h0M666.19,385.40h0M664.25,393.58h0M668.70,363.94h0M669.26,358.97h0M665.51,369.22h0M667.31,351.70h0M662.71,377.49h0M663.10,398.09h0M665.92,371.15h0M662.83,357.19h0M663.28,375.11h0M669.30,380.26h0M664.53,400.93h0M665.66,381.49h0M668.21,402.28h0M663.39,367.87h0M669.26,400.67h0M665.17,363.91h0M667.97,355.93h0M667.50,399.28h0M664.48,380.23h0M662.70,391.85h0M663.76,401.32h0M663.75,356.82h0M663.04,397.76h0M664.70,381.95h0M666.13,361.94h0M662.65,394.42h0M664.04,349.31h0M665.42,345.46h0M664.17,350.61h0M668.38,381.90h0M666.72,363.80h0M663.87,339.36h0M665.80,381.33h0M664.33,338.47h0M665.28,378.40h0M667.84,402.85h0M665.04,380.82h0M667.19,367.82h0M667.16,375.15h0M664.04,347.49h0M669.34,371.69h0M664.42,354.54h0M664.02,373.10h0M662.77,375.20h0M668.74,398.90h0M667.56,391.75h0M665.09,340.66h0M664.33,367.81h0M663.69,366.16h0M665.07,403.68h0M665.04,399.34h0M664.00,373.12h0M669.14,355.67h0M663.48,358.35h0M664.37,350.08h0M663.48,388.20h0M666.25,364.85h0M669.25,382.15h0M666.68,401.34h0M665.48,368.85h0M665.68,355.60h0M662.71,349.57h0M666.18,381.92h0M668.85,362.66h0M669.11,359.58h0M665.52,395.33h0M662.86,370.49h0M666.56,386.82h0M669.16,377.00h0M667.94,403.92h0M664.88,387.86h0M668.06,380.24h0M668.74,360.93h0M666.70,402.54h0M665.82,395.93h0M666.80,374.03h0M664.70,397.05h0M663.83,370.64h0M668.08,397.26h0M668.32,366.66h0M669.13,358.12h0M668.71,372.02h0M667.13,370.79h0M669.27,352.85h0M662.72,389.24h0M665.54,378.20h0M666.48,390.82h0M669.33,377.53h0M663.43,369.51h0M665.71,383.54h0M666.34,394.25h0M663.96,340.86h0M669.18,345.50h0M662.76,350.51h0M664.42,373.46h0M669.24,360.70h0M664.36,360.77h0M666.97,401.91h0M665.68,367.84h0M668.05,339.03h0M668.41,402.15h0M665.93,348.35h0M663.06,379.35h0M665.18,395.94h0M663.08,347.93h0M664.51,397.46h0M668.80,399.88h0M665.46,375.29h0M666.91,358.05h0M667.21,351.32h0M668.06,356.40h0M665.32,389.98h0M666.53,359.98h0M663.52,361.23h0M663.67,377.37h0M666.65,382.48h0M663.34,354.29h0M665.84,366.32h0M666.43,403.65h0M664.45,369.44h0M664.20,371.47h0M665.58,356.24h0M664.69,394.47h0M662.81,390.15h0M669.30,394.43h0M666.99,371.05h0M668.34,365.64h0M663.56,392.07h0M663.12,389.58h0M668.23,352.79h0M663.75,386.79h0M665.98,359.81h0M663.59,366.43h0M667.12,402.68h0M667.65,362.35h0M665.00,353.96h0M667.02,345.42h0M667.90,362.43h0M663.82,347.27h0M668.01,386.55h0M667.83,365.26h0M665.34,372.42h0M663.34,366.26h0M666.80,356.92h0M662.71,400.08h0M666.05,384.71h0M662.66,402.22h0M668.67,394.86h0M668.86,368.14h0M667.56,383.74h0M668.21,369.73h0M663.89,355.67h0M667.09,395.36h0M668.00,398.53h0M663.85,359.25h0M663.89,397.81h0M663.63,381.44h0M665.66,382.64h0M664.30,351.06h0M666.89,379.38h0M666.52,345.83h0M668.80,340.93h0M667.79,343.40h0M662.76,341.42h0M667.32,400.72h0M665.87,383.13h0M669.28,363.51h0M664.25,358.59h0M665.96,385.82h0M668.51,349.12h0M666.96,347.01h0M669.17,351.00h0M664.86,386.28h0M668.06,343.01h0M665.29,392.20h0M664.50,392.34h0M666.53,369.55h0M664.80,380.69h0M665.18,367.08h0M662.99,382.34h0M663.76,368.69h0M668.65,371.60h0M666.42,343.12h0M666.70,372.37h0M668.55,355.22h0M669.19,376.17h0M664.55,397.58h0M665.25,347.10h0M666.73,346.06h0M669.20,331.67h0M664.60,345.45h0M664.22,337.55h0M665.27,343.89h0M664.69,342.63h0M666.46,336.37h0M663.57,351.14h0M663.37,345.99h0M665.27,334.60h0M664.14,341.60h0M668.97,336.42h0M666.71,353.12h0M664.69,342.84h0M669.25,347.78h0M667.25,324.32h0M663.08,325.41h0M662.82,331.18h0M666.23,346.19h0M668.22,332.87h0M665.26,331.92h0M667.00,340.01h0M666.69,338.32h0M664.12,350.79h0M666.62,330.35h0M663.31,330.99h0M666.75,340.20h0M666.59,308.00h0M664.06,348.65h0M667.69,314.15h0M667.17,340.59h0M668.20,338.18h0M666.33,347.45h0M664.62,347.55h0M667.27,348.29h0M666.24,342.77h0M667.92,346.48h0M663.13,350.62h0M665.37,347.92h0M665.24,350.62h0M666.64,351.76h0M668.05,348.11h0M668.32,333.08h0M664.44,351.40h0M666.95,334.54h0M663.74,350.49h0M664.36,348.51h0M666.78,350.56h0M663.39,352.17h0M665.87,342.10h0M668.44,334.92h0M667.06,328.79h0M668.94,313.08h0M665.34,325.81h0M667.47,346.12h0M666.00,345.95h0M667.81,347.33h0M664.76,351.77h0M667.13,350.10h0M668.68,348.10h0M666.68,348.71h0M663.47,353.05h0M667.60,284.41h0M665.47,334.33h0M668.75,339.65h0M667.19,311.41h0M665.77,335.11h0M669.25,348.15h0M668.16,347.82h0M666.62,348.75h0M666.16,350.95h0M666.37,349.59h0M667.71,347.84h0M665.60,339.18h0M662.71,352.96h0M667.47,350.68h0M669.21,311.17h0M665.45,342.39h0M665.65,353.30h0M667.12,344.79h0M665.24,352.30h0M667.48,341.39h0M663.39,344.92h0M667.55,345.78h0M665.28,312.73h0M663.60,352.56h0M665.30,317.29h0M666.10,344.12h0M667.09,352.64h0M663.20,350.29h0M665.81,315.15h0M664.69,350.85h0M666.79,342.05h0M664.65,340.42h0M666.61,347.17h0M668.30,349.95h0M662.94,345.83h0M667.94,340.64h0M669.01,352.64h0M664.75,338.99h0M669.22,338.71h0M668.55,349.54h0M669.30,353.40h0M666.90,347.99h0M664.90,341.76h0M663.48,348.05h0M668.10,340.22h0M668.04,314.75h0M663.34,347.60h0M663.43,353.29h0M668.01,333.95h0M664.69,351.16h0M668.25,345.81h0M665.46,352.96h0M668.43,351.83h0M665.48,344.01h0M666.42,340.77h0M663.50,318.62h0M664.52,347.31h0M665.99,290.45h0M668.21,347.25h0M664.36,317.89h0M667.45,343.06h0M666.70,352.56h0M667.63,316.59h0M663.07,342.12h0M665.22,345.82h0M669.15,352.76h0M665.75,325.02h0M663.99,304.93h0M663.92,352.63h0M666.72,339.21h0M663.87,343.20h0M667.56,332.69h0M668.29,352.09h0M663.10,323.52h0M669.31,347.61h0M668.52,346.47h0M667.70,342.30h0M664.24,343.67h0M662.81,352.85h0M666.49,319.01h0M666.60,342.52h0M664.97,352.82h0M668.63,332.50h0M663.20,347.51h0M668.01,348.16h0M663.65,347.09h0M665.19,352.13h0M668.91,269.53h0M666.24,269.53h0M666.69,285.65h0M666.70,289.67h0M663.17,293.70h0M665.67,303.10h0M665.47,309.82h0M664.36,312.51h0M667.92,315.19h0M665.04,307.13h0" stroke="#b5b7b9" stroke-width="2.6" stroke-linecap="round" fill="none"/>
<path d="M520.7,268.6 V404.3 H679.7" stroke="#3a3a3a" stroke-width="1.0" fill="none"/>
<text x="517.40" y="273.78" font-size="13.0" text-anchor="end" font-weight="normal" fill="#231f20" textLength="7.0" lengthAdjust="spacingAndGlyphs" stroke="#231f20" stroke-width="0.4">1</text>
<text x="517.40" y="314.07" font-size="13.0" text-anchor="end" font-weight="normal" fill="#231f20" textLength="17.5" lengthAdjust="spacingAndGlyphs" stroke="#231f20" stroke-width="0.4">0.7</text>
<text x="517.40" y="354.36" font-size="13.0" text-anchor="end" font-weight="normal" fill="#231f20" textLength="17.5" lengthAdjust="spacingAndGlyphs" stroke="#231f20" stroke-width="0.4">0.4</text>
<text x="517.40" y="394.65" font-size="13.0" text-anchor="end" font-weight="normal" fill="#231f20" textLength="17.5" lengthAdjust="spacingAndGlyphs" stroke="#231f20" stroke-width="0.4">0.1</text>
<text x="533.50" y="416.90" font-size="13.0" text-anchor="middle" font-weight="normal" fill="#231f20" textLength="7.0" lengthAdjust="spacingAndGlyphs" stroke="#231f20" stroke-width="0.4">0</text>
<text x="560.00" y="416.90" font-size="13.0" text-anchor="middle" font-weight="normal" fill="#231f20" textLength="17.5" lengthAdjust="spacingAndGlyphs" stroke="#231f20" stroke-width="0.4">0.2</text>
<text x="586.50" y="416.90" font-size="13.0" text-anchor="middle" font-weight="normal" fill="#231f20" textLength="17.5" lengthAdjust="spacingAndGlyphs" stroke="#231f20" stroke-width="0.4">0.4</text>
<text x="613.00" y="416.90" font-size="13.0" text-anchor="middle" font-weight="normal" fill="#231f20" textLength="17.5" lengthAdjust="spacingAndGlyphs" stroke="#231f20" stroke-width="0.4">0.6</text>
<text x="639.50" y="416.90" font-size="13.0" text-anchor="middle" font-weight="normal" fill="#231f20" textLength="17.5" lengthAdjust="spacingAndGlyphs" stroke="#231f20" stroke-width="0.4">0.8</text>
<text x="666.00" y="416.90" font-size="13.0" text-anchor="middle" font-weight="normal" fill="#231f20" textLength="7.0" lengthAdjust="spacingAndGlyphs" stroke="#231f20" stroke-width="0.4">1</text>
<path d="M520.7,269.53h2.2M520.7,309.82h2.2M520.7,350.11h2.2M520.7,390.40h2.2M520.7,282.96h1.7600000000000002M520.7,296.39h1.7600000000000002M520.7,323.25h1.7600000000000002M520.7,336.68h1.7600000000000002M520.7,363.54h1.7600000000000002M520.7,376.97h1.7600000000000002M533.50,404.3v-2.2M560.00,404.3v-2.2M586.50,404.3v-2.2M613.00,404.3v-2.2M639.50,404.3v-2.2M666.00,404.3v-2.2" stroke="#3a3a3a" stroke-width="0.8" fill="none"/>
<path d="M533.50,396.20 L534.84,396.19 L536.18,396.18 L537.51,396.17 L538.85,396.16 L540.19,396.14 L541.53,396.12 L542.87,396.10 L544.21,396.08 L545.54,396.05 L546.88,396.03 L548.22,396.00 L549.56,395.97 L550.90,395.92 L552.23,395.87 L553.57,395.81 L554.91,395.75 L556.25,395.68 L557.59,395.63 L558.93,395.58 L560.26,395.54 L561.60,395.51 L562.94,395.50 L564.28,395.53 L565.62,395.63 L566.95,395.77 L568.29,395.95 L569.63,396.15 L570.97,396.35 L572.31,396.55 L573.65,396.73 L574.98,396.87 L576.32,396.97 L577.66,397.00 L579.00,397.00 L580.34,396.99 L581.67,396.98 L583.01,396.97 L584.35,396.95 L585.69,396.93 L587.03,396.90 L588.37,396.88 L589.70,396.85 L591.04,396.83 L592.38,396.80 L593.72,396.77 L595.06,396.72 L596.39,396.67 L597.73,396.62 L599.07,396.55 L600.41,396.49 L601.75,396.43 L603.09,396.36 L604.42,396.30 L605.76,396.25 L607.10,396.20 L608.44,396.16 L609.78,396.11 L611.11,396.07 L612.45,396.03 L613.79,395.99 L615.13,395.95 L616.47,395.92 L617.81,395.89 L619.14,395.85 L620.48,395.83 L621.82,395.80 L623.16,395.78 L624.50,395.76 L625.83,395.75 L627.17,395.73 L628.51,395.72 L629.85,395.71 L631.19,395.69 L632.53,395.68 L633.86,395.66 L635.20,395.63 L636.54,395.60 L637.88,395.54 L639.22,395.42 L640.55,395.25 L641.89,395.05 L643.23,394.81 L644.57,394.54 L645.91,394.26 L647.25,393.97 L648.58,393.67 L649.92,393.38 L651.26,393.10 L652.60,392.82 L653.94,392.53 L655.27,392.23 L656.61,391.91 L657.95,391.58 L659.29,391.24 L660.63,390.89 L661.97,390.53 L663.30,390.17 L664.64,389.79 L665.98,389.40" stroke="#3a52b0" stroke-width="1.2" fill="none" stroke-linejoin="round" stroke-linecap="round"/>
<rect x="532.20" y="395.20" width="2.6" height="2.0" fill="#1a1a1a"/><rect x="546.92" y="395.00" width="2.6" height="2.0" fill="#1a1a1a"/><rect x="561.64" y="394.50" width="2.6" height="2.0" fill="#1a1a1a"/><rect x="576.36" y="396.00" width="2.6" height="2.0" fill="#1a1a1a"/><rect x="591.08" y="395.80" width="2.6" height="2.0" fill="#1a1a1a"/><rect x="605.80" y="395.20" width="2.6" height="2.0" fill="#1a1a1a"/><rect x="620.52" y="394.80" width="2.6" height="2.0" fill="#1a1a1a"/><rect x="635.24" y="394.60" width="2.6" height="2.0" fill="#1a1a1a"/><rect x="649.96" y="392.10" width="2.6" height="2.0" fill="#1a1a1a"/><rect x="664.68" y="388.40" width="2.6" height="2.0" fill="#1a1a1a"/>
<text x="493.50" y="335.00" font-size="13.4" text-anchor="middle" font-weight="normal" fill="#231f20" textLength="93.0" lengthAdjust="spacingAndGlyphs" transform="rotate(-90 493.50 335.00)" stroke="#231f20" stroke-width="0.4">Pause probability</text>
<text x="533.50" y="432.40" font-size="13.4" text-anchor="start" font-weight="normal" fill="#231f20" textLength="134.0" lengthAdjust="spacingAndGlyphs" stroke="#231f20" stroke-width="0.4">Normalized pupil area</text>
<path d="M63.6,486.6 V622.3 H224.7" stroke="#cfcfcf" stroke-width="1.0" fill="none"/>
<text x="60.60" y="518.65" font-size="13.0" text-anchor="end" font-weight="normal" fill="#231f20" textLength="24.5" lengthAdjust="spacingAndGlyphs" stroke="#231f20" stroke-width="0.4">0.12</text>
<text x="60.60" y="545.75" font-size="13.0" text-anchor="end" font-weight="normal" fill="#231f20" textLength="17.5" lengthAdjust="spacingAndGlyphs" stroke="#231f20" stroke-width="0.4">0.1</text>
<text x="60.60" y="572.85" font-size="13.0" text-anchor="end" font-weight="normal" fill="#231f20" textLength="24.5" lengthAdjust="spacingAndGlyphs" stroke="#231f20" stroke-width="0.4">0.08</text>
<text x="60.60" y="599.95" font-size="13.0" text-anchor="end" font-weight="normal" fill="#231f20" textLength="24.5" lengthAdjust="spacingAndGlyphs" stroke="#231f20" stroke-width="0.4">0.06</text>
<text x="60.40" y="635.20" font-size="13.0" text-anchor="middle" font-weight="normal" fill="#231f20" textLength="12.1" lengthAdjust="spacingAndGlyphs" stroke="#231f20" stroke-width="0.4">-2</text>
<text x="100.67" y="635.20" font-size="13.0" text-anchor="middle" font-weight="normal" fill="#231f20" textLength="12.1" lengthAdjust="spacingAndGlyphs" stroke="#231f20" stroke-width="0.4">-1</text>
<text x="144.15" y="635.20" font-size="13.0" text-anchor="middle" font-weight="normal" fill="#231f20" textLength="7.0" lengthAdjust="spacingAndGlyphs" stroke="#231f20" stroke-width="0.4">0</text>
<text x="184.42" y="635.20" font-size="13.0" text-anchor="middle" font-weight="normal" fill="#231f20" textLength="7.0" lengthAdjust="spacingAndGlyphs" stroke="#231f20" stroke-width="0.4">1</text>
<text x="224.70" y="635.20" font-size="13.0" text-anchor="middle" font-weight="normal" fill="#231f20" textLength="7.0" lengthAdjust="spacingAndGlyphs" stroke="#231f20" stroke-width="0.4">2</text>
<path d="M63.6,514.40h2.2M63.6,541.50h2.2M63.6,568.60h2.2M63.6,595.70h2.2M63.6,500.85h1.7600000000000002M63.6,527.95h1.7600000000000002M63.6,555.05h1.7600000000000002M63.6,582.15h1.7600000000000002M63.6,609.25h1.7600000000000002M63.60,622.3v-2.2M103.88,622.3v-2.2M144.15,622.3v-2.2M184.42,622.3v-2.2M224.70,622.3v-2.2" stroke="#cfcfcf" stroke-width="0.8" fill="none"/>
<path d="M144.15,486.6 V622.3" stroke="#b9b9b9" stroke-width="0.9" stroke-dasharray="4.7 3.4" stroke-dashoffset="1.5" fill="none"/>
<path d="M63.70,576.79 L64.51,576.75 L65.32,576.89 L66.13,576.54 L66.93,576.23 L67.74,575.97 L68.55,575.85 L69.36,575.99 L70.17,576.16 L70.98,575.59 L71.79,574.67 L72.59,574.12 L73.40,573.60 L74.21,572.41 L75.02,571.36 L75.83,570.41 L76.64,569.32 L77.45,568.76 L78.25,567.95 L79.06,567.16 L79.87,566.88 L80.68,566.42 L81.49,566.06 L82.30,565.08 L83.11,564.06 L83.91,564.04 L84.72,564.11 L85.53,563.97 L86.34,563.44 L87.15,563.15 L87.96,563.32 L88.76,563.33 L89.57,562.29 L90.38,561.19 L91.19,561.09 L92.00,561.42 L92.81,560.83 L93.62,560.21 L94.42,559.66 L95.23,559.16 L96.04,558.79 L96.85,558.32 L97.66,557.86 L98.47,557.68 L99.28,557.54 L100.08,556.26 L100.89,555.82 L101.70,555.59 L102.51,555.41 L103.32,554.85 L104.13,554.18 L104.94,554.16 L105.74,553.63 L106.55,552.83 L107.36,552.44 L108.17,552.22 L108.98,552.13 L109.79,551.31 L110.60,550.54 L111.40,550.16 L112.21,549.52 L113.02,548.65 L113.83,547.70 L114.64,546.62 L115.45,545.63 L116.26,544.61 L117.06,543.49 L117.87,542.20 L118.68,541.76 L119.49,541.01 L120.30,539.71 L121.11,538.27 L121.92,536.66 L122.72,535.30 L123.53,534.57 L124.34,534.67 L125.15,533.73 L125.96,532.98 L126.77,531.46 L127.57,529.81 L128.38,528.15 L129.19,526.88 L130.00,524.62 L130.81,523.95 L131.62,523.59 L132.43,522.59 L133.23,522.18 L134.04,521.86 L134.85,521.95 L135.66,521.43 L136.47,521.48 L137.28,521.18 L138.09,521.28 L138.89,521.95 L139.70,522.07 L140.51,521.45 L141.32,521.00 L142.13,521.28 L142.94,521.15 L143.75,520.74 L144.55,521.22 L145.36,520.82 L146.17,519.36 L146.98,519.17 L147.79,518.67 L148.60,518.61 L149.41,517.55 L150.21,517.45 L151.02,516.59 L151.83,515.97 L152.64,515.66 L153.45,515.59 L154.26,515.72 L155.07,515.18 L155.87,515.50 L156.68,515.64 L157.49,515.66 L158.30,516.12 L159.11,516.58 L159.92,517.25 L160.73,517.91 L161.53,519.06 L162.34,519.55 L163.15,520.08 L163.96,521.06 L164.77,521.58 L165.58,522.21 L166.38,523.21 L167.19,524.57 L168.00,525.52 L168.81,526.40 L169.62,526.68 L170.43,527.62 L171.24,528.93 L172.04,530.51 L172.85,531.28 L173.66,532.84 L174.47,533.88 L175.28,534.58 L176.09,535.78 L176.90,536.92 L177.70,537.81 L178.51,538.86 L179.32,539.95 L180.13,541.30 L180.94,542.06 L181.75,542.80 L182.56,543.48 L183.36,544.30 L184.17,545.70 L184.98,546.49 L185.79,547.66 L186.60,549.36 L187.41,550.56 L188.22,550.83 L189.02,550.12 L189.83,550.66 L190.64,550.40 L191.45,550.66 L192.26,550.51 L193.07,550.13 L193.88,550.35 L194.68,550.53 L195.49,550.68 L196.30,550.75 L197.11,551.08 L197.92,551.55 L198.73,552.15 L199.54,552.75 L200.34,553.53 L201.15,553.89 L201.96,554.12 L202.77,554.36 L203.58,554.51 L204.39,554.87 L205.19,556.14 L206.00,556.79 L206.81,557.14 L207.62,557.91 L208.43,558.59 L209.24,559.02 L210.05,559.25 L210.85,560.01 L211.66,560.42 L212.47,560.53 L213.28,560.20 L214.09,561.15 L214.90,561.60 L215.71,561.56 L216.51,561.66 L217.32,561.76 L218.13,561.98 L218.94,561.96 L219.75,561.94 L220.56,562.62 L221.37,563.05 L222.17,563.73 L222.98,564.68 L223.79,565.83 L224.60,566.77 L224.60,572.87 L223.79,571.53 L222.98,570.29 L222.17,569.49 L221.37,569.08 L220.56,568.53 L219.75,567.92 L218.94,568.01 L218.13,568.16 L217.32,567.81 L216.51,567.54 L215.71,567.22 L214.90,567.43 L214.09,566.96 L213.28,566.26 L212.47,566.36 L211.66,566.78 L210.85,565.88 L210.05,565.19 L209.24,564.68 L208.43,564.43 L207.62,563.78 L206.81,562.88 L206.00,562.53 L205.19,561.87 L204.39,560.56 L203.58,560.55 L202.77,560.59 L201.96,560.29 L201.15,559.69 L200.34,559.15 L199.54,558.64 L198.73,557.89 L197.92,557.26 L197.11,556.64 L196.30,556.81 L195.49,556.90 L194.68,556.58 L193.88,556.24 L193.07,555.62 L192.26,556.25 L191.45,556.32 L190.64,556.66 L189.83,556.92 L189.02,556.51 L188.22,556.54 L187.41,556.22 L186.60,555.11 L185.79,553.86 L184.98,552.73 L184.17,552.12 L183.36,550.58 L182.56,549.59 L181.75,548.45 L180.94,547.89 L180.13,547.41 L179.32,545.95 L178.51,544.60 L177.70,543.64 L176.90,542.75 L176.09,542.14 L175.28,540.98 L174.47,540.29 L173.66,538.99 L172.85,537.41 L172.04,536.81 L171.24,535.37 L170.43,534.08 L169.62,533.18 L168.81,532.55 L168.00,531.35 L167.19,530.36 L166.38,529.04 L165.58,528.27 L164.77,527.29 L163.96,526.85 L163.15,525.74 L162.34,525.52 L161.53,525.23 L160.73,523.85 L159.92,523.17 L159.11,522.56 L158.30,522.38 L157.49,521.68 L156.68,521.70 L155.87,521.25 L155.07,521.19 L154.26,521.58 L153.45,521.95 L152.64,522.17 L151.83,522.61 L151.02,522.90 L150.21,522.96 L149.41,523.04 L148.60,524.10 L147.79,525.05 L146.98,525.19 L146.17,525.68 L145.36,526.81 L144.55,527.51 L143.75,527.13 L142.94,527.80 L142.13,528.11 L141.32,527.80 L140.51,528.16 L139.70,528.19 L138.89,527.84 L138.09,527.21 L137.28,527.55 L136.47,527.27 L135.66,527.19 L134.85,527.33 L134.04,527.79 L133.23,527.65 L132.43,528.05 L131.62,528.91 L130.81,529.67 L130.00,530.72 L129.19,532.87 L128.38,534.53 L127.57,535.83 L126.77,537.94 L125.96,539.19 L125.15,540.24 L124.34,540.60 L123.53,540.39 L122.72,540.96 L121.92,542.60 L121.11,544.31 L120.30,545.69 L119.49,547.08 L118.68,547.69 L117.87,548.46 L117.06,549.70 L116.26,551.14 L115.45,551.78 L114.64,552.72 L113.83,553.55 L113.02,554.26 L112.21,555.05 L111.40,555.58 L110.60,556.32 L109.79,557.34 L108.98,557.73 L108.17,558.25 L107.36,558.59 L106.55,559.71 L105.74,560.10 L104.94,560.42 L104.13,560.11 L103.32,560.56 L102.51,561.00 L101.70,561.46 L100.89,562.08 L100.08,562.86 L99.28,563.62 L98.47,563.76 L97.66,563.70 L96.85,564.55 L96.04,565.12 L95.23,565.52 L94.42,566.24 L93.62,566.53 L92.81,567.23 L92.00,567.30 L91.19,566.92 L90.38,566.87 L89.57,568.17 L88.76,569.09 L87.96,569.42 L87.15,569.18 L86.34,569.35 L85.53,569.78 L84.72,569.96 L83.91,569.95 L83.11,569.76 L82.30,570.74 L81.49,571.82 L80.68,572.15 L79.87,572.90 L79.06,573.52 L78.25,574.39 L77.45,575.10 L76.64,575.55 L75.83,576.47 L75.02,577.43 L74.21,578.34 L73.40,579.81 L72.59,580.07 L71.79,580.69 L70.98,581.53 L70.17,581.90 L69.36,581.68 L68.55,581.78 L67.74,582.48 L66.93,583.03 L66.13,583.10 L65.32,583.29 L64.51,583.17 L63.70,583.19Z" fill="#fbe3d0" fill-opacity="1.0" stroke="none"/>
<path d="M63.70,595.66 L64.51,595.14 L65.32,595.17 L66.13,595.12 L66.93,594.45 L67.74,594.15 L68.55,594.25 L69.36,593.78 L70.17,593.07 L70.98,592.51 L71.79,592.29 L72.59,592.30 L73.40,592.17 L74.21,591.64 L75.02,590.62 L75.83,590.39 L76.64,590.49 L77.45,590.02 L78.25,589.65 L79.06,588.59 L79.87,588.05 L80.68,587.42 L81.49,586.21 L82.30,586.25 L83.11,586.03 L83.91,585.65 L84.72,585.00 L85.53,584.85 L86.34,584.32 L87.15,583.83 L87.96,584.34 L88.76,583.88 L89.57,583.14 L90.38,583.42 L91.19,582.68 L92.00,583.04 L92.81,583.73 L93.62,584.62 L94.42,584.99 L95.23,585.39 L96.04,585.74 L96.85,586.34 L97.66,586.18 L98.47,586.98 L99.28,587.34 L100.08,586.86 L100.89,587.23 L101.70,587.85 L102.51,588.60 L103.32,588.54 L104.13,589.09 L104.94,589.66 L105.74,589.63 L106.55,589.96 L107.36,590.54 L108.17,590.99 L108.98,591.40 L109.79,591.85 L110.60,591.78 L111.40,591.55 L112.21,592.13 L113.02,591.75 L113.83,591.75 L114.64,592.82 L115.45,592.67 L116.26,592.56 L117.06,592.91 L117.87,593.42 L118.68,593.52 L119.49,593.58 L120.30,593.46 L121.11,593.01 L121.92,592.66 L122.72,592.61 L123.53,593.10 L124.34,593.48 L125.15,593.87 L125.96,594.03 L126.77,593.34 L127.57,592.77 L128.38,592.22 L129.19,591.88 L130.00,592.07 L130.81,592.18 L131.62,591.88 L132.43,591.62 L133.23,591.75 L134.04,591.94 L134.85,592.25 L135.66,592.35 L136.47,592.70 L137.28,592.60 L138.09,592.43 L138.89,592.81 L139.70,592.84 L140.51,593.30 L141.32,593.65 L142.13,593.49 L142.94,593.71 L143.75,593.43 L144.55,593.82 L145.36,593.87 L146.17,594.20 L146.98,594.64 L147.79,594.92 L148.60,595.24 L149.41,595.74 L150.21,595.62 L151.02,595.77 L151.83,595.94 L152.64,595.43 L153.45,596.01 L154.26,595.66 L155.07,595.35 L155.87,594.56 L156.68,593.74 L157.49,594.04 L158.30,593.90 L159.11,593.54 L159.92,592.67 L160.73,592.97 L161.53,592.87 L162.34,591.89 L163.15,591.45 L163.96,591.20 L164.77,590.55 L165.58,589.55 L166.38,589.39 L167.19,589.20 L168.00,588.77 L168.81,587.92 L169.62,587.77 L170.43,587.71 L171.24,587.81 L172.04,587.36 L172.85,586.57 L173.66,585.59 L174.47,584.88 L175.28,584.74 L176.09,584.95 L176.90,585.11 L177.70,584.31 L178.51,584.16 L179.32,584.82 L180.13,585.34 L180.94,585.06 L181.75,585.18 L182.56,585.05 L183.36,584.97 L184.17,585.31 L184.98,585.22 L185.79,585.93 L186.60,586.18 L187.41,586.71 L188.22,586.83 L189.02,586.31 L189.83,586.66 L190.64,586.71 L191.45,585.87 L192.26,585.99 L193.07,586.19 L193.88,586.08 L194.68,585.65 L195.49,586.39 L196.30,586.25 L197.11,586.63 L197.92,587.01 L198.73,586.88 L199.54,587.36 L200.34,587.31 L201.15,587.29 L201.96,587.16 L202.77,586.88 L203.58,587.24 L204.39,587.48 L205.19,587.05 L206.00,587.02 L206.81,587.45 L207.62,587.52 L208.43,587.13 L209.24,587.41 L210.05,587.50 L210.85,586.96 L211.66,587.45 L212.47,587.50 L213.28,587.50 L214.09,587.85 L214.90,587.79 L215.71,587.81 L216.51,588.42 L217.32,588.17 L218.13,587.35 L218.94,587.25 L219.75,586.80 L220.56,586.52 L221.37,586.91 L222.17,586.78 L222.98,586.89 L223.79,586.38 L224.60,585.56 L224.60,590.12 L223.79,590.78 L222.98,591.17 L222.17,591.27 L221.37,591.61 L220.56,591.39 L219.75,591.68 L218.94,591.88 L218.13,591.62 L217.32,592.43 L216.51,592.92 L215.71,592.49 L214.90,592.12 L214.09,592.02 L213.28,591.70 L212.47,592.21 L211.66,592.18 L210.85,591.49 L210.05,591.87 L209.24,591.92 L208.43,591.53 L207.62,592.03 L206.81,592.15 L206.00,591.74 L205.19,591.96 L204.39,592.37 L203.58,592.52 L202.77,592.13 L201.96,592.17 L201.15,592.11 L200.34,591.93 L199.54,592.26 L198.73,591.85 L197.92,592.10 L197.11,591.34 L196.30,590.72 L195.49,590.56 L194.68,589.77 L193.88,590.23 L193.07,590.69 L192.26,590.59 L191.45,590.93 L190.64,591.31 L189.83,590.90 L189.02,590.32 L188.22,591.33 L187.41,591.40 L186.60,590.86 L185.79,590.45 L184.98,590.18 L184.17,590.15 L183.36,589.77 L182.56,589.51 L181.75,589.69 L180.94,589.67 L180.13,590.17 L179.32,589.76 L178.51,589.01 L177.70,589.04 L176.90,589.55 L176.09,589.57 L175.28,589.78 L174.47,590.07 L173.66,590.62 L172.85,591.26 L172.04,592.12 L171.24,592.40 L170.43,591.80 L169.62,592.09 L168.81,592.52 L168.00,593.36 L167.19,593.81 L166.38,594.16 L165.58,594.61 L164.77,595.24 L163.96,595.99 L163.15,596.24 L162.34,597.04 L161.53,597.65 L160.73,597.92 L159.92,597.72 L159.11,598.47 L158.30,599.18 L157.49,599.02 L156.68,598.99 L155.87,599.43 L155.07,600.02 L154.26,600.19 L153.45,600.56 L152.64,600.17 L151.83,600.71 L151.02,600.50 L150.21,600.08 L149.41,600.06 L148.60,599.39 L147.79,599.19 L146.98,599.23 L146.17,599.06 L145.36,598.85 L144.55,598.64 L143.75,598.53 L142.94,598.78 L142.13,598.57 L141.32,598.54 L140.51,598.41 L139.70,598.01 L138.89,597.77 L138.09,596.87 L137.28,596.77 L136.47,597.07 L135.66,597.17 L134.85,597.39 L134.04,597.08 L133.23,596.53 L132.43,595.89 L131.62,595.75 L130.81,596.24 L130.00,596.36 L129.19,596.37 L128.38,596.71 L127.57,597.43 L126.77,597.93 L125.96,598.45 L125.15,598.52 L124.34,598.32 L123.53,598.18 L122.72,597.75 L121.92,597.97 L121.11,598.34 L120.30,598.44 L119.49,598.18 L118.68,598.07 L117.87,597.98 L117.06,597.78 L116.26,597.38 L115.45,597.45 L114.64,597.52 L113.83,596.71 L113.02,597.25 L112.21,597.42 L111.40,596.62 L110.60,596.11 L109.79,596.06 L108.98,596.08 L108.17,596.01 L107.36,595.81 L106.55,594.66 L105.74,594.69 L104.94,594.43 L104.13,594.09 L103.32,593.19 L102.51,593.40 L101.70,592.62 L100.89,592.00 L100.08,592.15 L99.28,592.34 L98.47,591.96 L97.66,590.72 L96.85,591.04 L96.04,590.44 L95.23,590.12 L94.42,589.81 L93.62,589.59 L92.81,588.99 L92.00,588.52 L91.19,588.23 L90.38,588.44 L89.57,587.70 L88.76,588.28 L87.96,588.99 L87.15,588.62 L86.34,589.31 L85.53,590.13 L84.72,590.37 L83.91,590.73 L83.11,591.00 L82.30,590.99 L81.49,591.06 L80.68,592.26 L79.87,592.86 L79.06,593.29 L78.25,594.25 L77.45,594.55 L76.64,595.01 L75.83,594.96 L75.02,595.50 L74.21,596.44 L73.40,596.65 L72.59,596.89 L71.79,597.07 L70.98,597.30 L70.17,597.54 L69.36,597.74 L68.55,598.29 L67.74,598.64 L66.93,599.37 L66.13,599.93 L65.32,599.71 L64.51,599.82 L63.70,600.57Z" fill="#d9d9d9" fill-opacity="1.0" stroke="none"/>
<path d="M63.70,579.89 L64.51,579.84 L65.32,580.02 L66.13,579.67 L66.93,579.47 L67.74,579.21 L68.55,578.81 L69.36,578.94 L70.17,579.02 L70.98,578.66 L71.79,577.66 L72.59,577.23 L73.40,576.87 L74.21,575.50 L75.02,574.37 L75.83,573.53 L76.64,572.60 L77.45,572.06 L78.25,571.11 L79.06,570.45 L79.87,569.90 L80.68,569.08 L81.49,568.65 L82.30,567.89 L83.11,567.16 L83.91,567.19 L84.72,567.24 L85.53,566.99 L86.34,566.39 L87.15,566.04 L87.96,566.20 L88.76,566.02 L89.57,565.07 L90.38,564.11 L91.19,564.19 L92.00,564.51 L92.81,564.02 L93.62,563.52 L94.42,563.10 L95.23,562.44 L96.04,561.94 L96.85,561.42 L97.66,560.75 L98.47,560.62 L99.28,560.45 L100.08,559.48 L100.89,558.81 L101.70,558.33 L102.51,558.14 L103.32,557.69 L104.13,557.13 L104.94,557.22 L105.74,556.98 L106.55,556.47 L107.36,555.57 L108.17,555.08 L108.98,554.74 L109.79,554.27 L110.60,553.61 L111.40,553.02 L112.21,552.47 L113.02,551.50 L113.83,550.48 L114.64,549.33 L115.45,548.39 L116.26,547.73 L117.06,546.71 L117.87,545.45 L118.68,544.79 L119.49,543.92 L120.30,542.58 L121.11,541.48 L121.92,540.15 L122.72,538.66 L123.53,537.97 L124.34,537.82 L125.15,537.07 L125.96,535.92 L126.77,534.51 L127.57,532.69 L128.38,531.51 L129.19,529.96 L130.00,527.67 L130.81,526.69 L131.62,526.39 L132.43,525.51 L133.23,525.01 L134.04,524.82 L134.85,524.58 L135.66,524.25 L136.47,524.25 L137.28,524.33 L138.09,524.38 L138.89,525.13 L139.70,525.27 L140.51,524.90 L141.32,524.64 L142.13,525.07 L142.94,524.67 L143.75,523.76 L144.55,524.27 L145.36,523.92 L146.17,522.87 L146.98,522.36 L147.79,521.89 L148.60,521.22 L149.41,520.36 L150.21,520.03 L151.02,519.61 L151.83,518.92 L152.64,518.69 L153.45,518.74 L154.26,518.71 L155.07,518.33 L155.87,518.41 L156.68,518.56 L157.49,518.78 L158.30,519.41 L159.11,519.97 L159.92,520.45 L160.73,520.95 L161.53,522.06 L162.34,522.50 L163.15,523.00 L163.96,524.02 L164.77,524.59 L165.58,525.20 L166.38,526.22 L167.19,527.39 L168.00,528.54 L168.81,529.46 L169.62,529.92 L170.43,530.77 L171.24,532.27 L172.04,533.75 L172.85,534.56 L173.66,535.92 L174.47,537.17 L175.28,537.84 L176.09,538.96 L176.90,539.82 L177.70,540.74 L178.51,541.75 L179.32,542.86 L180.13,544.25 L180.94,545.07 L181.75,546.12 L182.56,546.90 L183.36,547.69 L184.17,548.82 L184.98,549.48 L185.79,550.67 L186.60,552.25 L187.41,553.58 L188.22,553.80 L189.02,553.52 L189.83,553.99 L190.64,553.72 L191.45,553.73 L192.26,553.63 L193.07,553.07 L193.88,553.45 L194.68,553.69 L195.49,554.06 L196.30,554.09 L197.11,554.11 L197.92,554.60 L198.73,555.06 L199.54,555.69 L200.34,556.31 L201.15,556.69 L201.96,557.03 L202.77,557.51 L203.58,557.69 L204.39,557.93 L205.19,559.04 L206.00,559.82 L206.81,560.20 L207.62,561.14 L208.43,561.73 L209.24,561.89 L210.05,562.11 L210.85,562.61 L211.66,563.42 L212.47,563.30 L213.28,563.16 L214.09,564.00 L214.90,564.34 L215.71,564.22 L216.51,564.41 L217.32,564.84 L218.13,565.23 L218.94,564.94 L219.75,564.71 L220.56,565.38 L221.37,565.99 L222.17,566.56 L222.98,567.42 L223.79,568.63 L224.60,569.80" stroke="#ef7d28" stroke-width="1.9" fill="none" stroke-linejoin="round" stroke-linecap="round"/>
<path d="M63.70,597.98 L64.51,597.37 L65.32,597.35 L66.13,597.33 L66.93,596.66 L67.74,596.17 L68.55,596.16 L69.36,595.79 L70.17,595.37 L70.98,595.13 L71.79,594.61 L72.59,594.29 L73.40,594.01 L74.21,593.81 L75.02,593.02 L75.83,592.65 L76.64,592.62 L77.45,592.18 L78.25,591.89 L79.06,590.81 L79.87,590.37 L80.68,589.81 L81.49,588.72 L82.30,588.65 L83.11,588.55 L83.91,588.19 L84.72,587.66 L85.53,587.29 L86.34,586.60 L87.15,586.14 L87.96,586.63 L88.76,585.82 L89.57,585.04 L90.38,585.53 L91.19,585.49 L92.00,585.74 L92.81,586.33 L93.62,586.77 L94.42,587.23 L95.23,587.56 L96.04,588.20 L96.85,588.73 L97.66,588.70 L98.47,589.65 L99.28,590.10 L100.08,589.83 L100.89,589.83 L101.70,590.33 L102.51,590.83 L103.32,590.89 L104.13,591.59 L104.94,592.18 L105.74,592.18 L106.55,592.55 L107.36,593.19 L108.17,593.41 L108.98,593.47 L109.79,593.96 L110.60,594.15 L111.40,594.41 L112.21,594.98 L113.02,594.77 L113.83,594.63 L114.64,595.56 L115.45,595.42 L116.26,594.95 L117.06,595.40 L117.87,595.55 L118.68,595.74 L119.49,595.87 L120.30,595.98 L121.11,595.77 L121.92,595.29 L122.72,595.23 L123.53,595.66 L124.34,595.84 L125.15,595.98 L125.96,595.82 L126.77,595.30 L127.57,594.97 L128.38,594.49 L129.19,594.16 L130.00,594.26 L130.81,594.28 L131.62,593.88 L132.43,593.76 L133.23,594.33 L134.04,594.69 L134.85,594.95 L135.66,594.78 L136.47,594.89 L137.28,594.68 L138.09,594.56 L138.89,595.32 L139.70,595.47 L140.51,595.78 L141.32,595.93 L142.13,595.86 L142.94,596.20 L143.75,596.14 L144.55,596.47 L145.36,596.71 L146.17,596.73 L146.98,597.17 L147.79,597.18 L148.60,597.40 L149.41,597.77 L150.21,597.81 L151.02,598.35 L151.83,598.27 L152.64,597.72 L153.45,598.07 L154.26,597.97 L155.07,597.70 L155.87,596.94 L156.68,596.31 L157.49,596.31 L158.30,596.30 L159.11,595.77 L159.92,595.15 L160.73,595.41 L161.53,595.12 L162.34,594.39 L163.15,593.87 L163.96,593.60 L164.77,592.75 L165.58,591.86 L166.38,591.71 L167.19,591.50 L168.00,591.21 L168.81,590.30 L169.62,589.95 L170.43,589.82 L171.24,589.98 L172.04,589.65 L172.85,588.80 L173.66,588.30 L174.47,587.61 L175.28,587.20 L176.09,587.18 L176.90,587.48 L177.70,586.92 L178.51,586.74 L179.32,587.23 L180.13,587.47 L180.94,587.26 L181.75,587.38 L182.56,587.33 L183.36,587.15 L184.17,587.42 L184.98,587.47 L185.79,588.06 L186.60,588.52 L187.41,589.18 L188.22,589.23 L189.02,588.49 L189.83,588.75 L190.64,588.92 L191.45,588.47 L192.26,588.61 L193.07,588.95 L193.88,588.24 L194.68,587.77 L195.49,588.37 L196.30,588.39 L197.11,588.74 L197.92,589.19 L198.73,589.23 L199.54,589.61 L200.34,589.52 L201.15,589.58 L201.96,589.68 L202.77,589.59 L203.58,589.95 L204.39,590.14 L205.19,589.78 L206.00,589.62 L206.81,589.96 L207.62,589.84 L208.43,589.38 L209.24,589.55 L210.05,589.54 L210.85,589.14 L211.66,589.74 L212.47,589.83 L213.28,589.51 L214.09,589.92 L214.90,589.86 L215.71,590.22 L216.51,590.74 L217.32,590.38 L218.13,589.52 L218.94,589.41 L219.75,589.22 L220.56,589.09 L221.37,589.49 L222.17,589.21 L222.98,589.06 L223.79,588.78 L224.60,588.00" stroke="#111" stroke-width="1.9" fill="none" stroke-linejoin="round" stroke-linecap="round"/>
<path d="M94,616.7 H214.4" stroke="#ef7d28" stroke-width="2.0"/>
<path d="M66.8,487.9 H82.3" stroke="#ef7d28" stroke-width="3.2"/>
<path d="M66.8,497.1 H82.3" stroke="#111" stroke-width="3.2"/>
<text x="85.60" y="490.20" font-size="9.4" text-anchor="start" font-weight="normal" fill="#231f20" textLength="126.6" lengthAdjust="spacingAndGlyphs" stroke="#231f20" stroke-width="0.08">transition to pupil area &gt; 0.9</text>
<text x="85.60" y="499.40" font-size="9.4" text-anchor="start" font-weight="normal" fill="#231f20" textLength="124.0" lengthAdjust="spacingAndGlyphs" stroke="#231f20" stroke-width="0.08">transition to pupil area &lt; 0.1</text>
<path d="M137.40,509.70L137.40,507.45M137.40,509.70L139.54,509.00M137.40,509.70L138.72,511.52M137.40,509.70L136.08,511.52M137.40,509.70L135.26,509.00M144.10,509.70L144.10,507.45M144.10,509.70L146.24,509.00M144.10,509.70L145.42,511.52M144.10,509.70L142.78,511.52M144.10,509.70L141.96,509.00M150.60,509.70L150.60,507.45M150.60,509.70L152.74,509.00M150.60,509.70L151.92,511.52M150.60,509.70L149.28,511.52M150.60,509.70L148.46,509.00" stroke="#231f20" stroke-width="1.65" stroke-linecap="round" fill="none"/>
<text x="24.90" y="555.50" font-size="13.4" text-anchor="middle" font-weight="normal" fill="#231f20" textLength="88.7" lengthAdjust="spacingAndGlyphs" transform="rotate(-90 24.90 555.50)" stroke="#231f20" stroke-width="0.4">Pause probability</text>
<text x="71.80" y="653.60" font-size="13.4" text-anchor="start" font-weight="normal" fill="#231f20" textLength="149.0" lengthAdjust="spacingAndGlyphs" stroke="#231f20" stroke-width="0.4">Time from transition (s)</text>
<path d="M292.40,518.13 L293.08,519.56 L293.75,519.76 L294.43,519.83 L295.10,520.38 L295.78,519.74 L296.45,519.61 L297.13,520.60 L297.80,521.24 L298.48,519.77 L299.15,520.11 L299.83,519.14 L300.50,517.48 L301.18,517.53 L301.85,517.07 L302.53,517.36 L303.21,516.19 L303.88,515.93 L304.56,517.02 L305.23,517.45 L305.91,516.20 L306.58,516.05 L307.26,517.26 L307.93,517.62 L308.61,518.61 L309.28,517.58 L309.96,516.77 L310.63,515.85 L311.31,515.16 L311.98,513.38 L312.66,513.82 L313.33,515.76 L314.01,515.59 L314.69,517.27 L315.36,517.63 L316.04,516.30 L316.71,514.43 L317.39,513.20 L318.06,512.91 L318.74,513.80 L319.41,514.23 L320.09,514.50 L320.76,514.38 L321.44,513.74 L322.11,514.72 L322.79,514.52 L323.46,515.26 L324.14,514.81 L324.82,512.93 L325.49,512.05 L326.17,511.95 L326.84,512.72 L327.52,513.04 L328.19,513.93 L328.87,513.93 L329.54,513.50 L330.22,512.22 L330.89,511.50 L331.57,510.45 L332.24,510.88 L332.92,512.54 L333.59,510.97 L334.27,510.56 L334.94,511.41 L335.62,511.19 L336.30,512.37 L336.97,515.32 L337.65,513.77 L338.32,513.14 L339.00,514.65 L339.67,514.15 L340.35,512.62 L341.02,512.21 L341.70,512.84 L342.37,515.11 L343.05,517.18 L343.72,516.54 L344.40,514.16 L345.07,512.61 L345.75,515.32 L346.43,517.92 L347.10,520.27 L347.78,518.87 L348.45,516.80 L349.13,516.93 L349.80,517.91 L350.48,519.00 L351.15,517.69 L351.83,516.97 L352.50,517.42 L353.18,518.76 L353.85,519.49 L354.53,518.48 L355.20,519.02 L355.88,518.57 L356.55,518.89 L357.23,518.60 L357.91,517.78 L358.58,517.20 L359.26,517.38 L359.93,516.97 L360.61,516.41 L361.28,517.20 L361.96,516.22 L362.63,516.90 L363.31,516.77 L363.98,517.10 L364.66,518.99 L365.33,519.76 L366.01,522.59 L366.68,522.37 L367.36,520.22 L368.04,520.09 L368.71,518.73 L369.39,519.70 L370.06,520.23 L370.74,519.10 L371.41,518.59 L372.09,514.78 L372.76,511.22 L373.44,510.89 L374.11,512.27 L374.79,513.01 L375.46,513.62 L376.14,514.12 L376.81,513.88 L377.49,512.82 L378.16,511.99 L378.84,513.96 L379.52,514.85 L380.19,514.88 L380.87,515.80 L381.54,515.26 L382.22,515.05 L382.89,516.54 L383.57,516.31 L384.24,515.86 L384.92,514.59 L385.59,514.69 L386.27,514.87 L386.94,515.15 L387.62,514.80 L388.29,513.73 L388.97,514.52 L389.65,515.41 L390.32,517.15 L391.00,517.34 L391.67,518.27 L392.35,518.02 L393.02,516.26 L393.70,517.03 L394.37,516.43 L395.05,516.59 L395.72,515.33 L396.40,515.46 L397.07,516.26 L397.75,515.26 L398.42,515.98 L399.10,514.86 L399.77,516.07 L400.45,515.75 L401.13,515.83 L401.80,517.52 L402.48,517.87 L403.15,517.40 L403.83,516.60 L404.50,516.28 L405.18,516.10 L405.85,515.79 L406.53,518.07 L407.20,519.91 L407.88,518.34 L408.55,516.52 L409.23,517.01 L409.90,517.69 L410.58,517.24 L411.26,517.53 L411.93,515.40 L412.61,513.52 L413.28,513.50 L413.96,512.03 L414.63,511.68 L415.31,512.61 L415.98,512.44 L416.66,513.20 L417.33,513.12 L418.01,513.98 L418.68,514.44 L419.36,515.03 L420.03,515.86 L420.71,515.44 L421.38,514.49 L422.06,514.54 L422.74,513.73 L423.41,515.23 L424.09,516.75 L424.76,513.01 L425.44,511.77 L426.11,510.03 L426.79,509.62 L427.46,509.67 L428.14,509.10 L428.81,509.98 L429.49,508.97 L430.16,508.45 L430.84,508.76 L431.51,509.66 L432.19,512.12 L432.87,513.09 L433.54,512.21 L434.22,511.90 L434.89,509.93 L435.57,509.30 L436.24,508.88 L436.92,509.60 L437.59,509.02 L438.27,507.99 L438.94,509.60 L439.62,510.38 L440.29,510.63 L440.97,510.51 L441.64,509.35 L442.32,510.14 L442.99,511.79 L443.67,511.17 L444.35,510.79 L445.02,511.15 L445.70,512.07 L446.37,511.95 L447.05,510.54 L447.72,507.90 L448.40,506.58 L449.07,508.57 L449.75,508.80 L450.42,508.51 L451.10,510.30 L451.77,510.83 L452.45,512.05 L453.12,510.66 L453.80,510.16 L453.80,549.31 L453.12,548.70 L452.45,549.49 L451.77,549.24 L451.10,547.80 L450.42,548.22 L449.75,548.05 L449.07,548.41 L448.40,547.38 L447.72,548.21 L447.05,550.19 L446.37,551.42 L445.70,550.42 L445.02,550.11 L444.35,549.26 L443.67,549.56 L442.99,551.61 L442.32,549.83 L441.64,550.93 L440.97,551.69 L440.29,551.37 L439.62,551.88 L438.94,549.41 L438.27,548.72 L437.59,549.13 L436.92,548.19 L436.24,548.24 L435.57,546.89 L434.89,547.71 L434.22,548.30 L433.54,549.16 L432.87,550.50 L432.19,549.16 L431.51,549.08 L430.84,547.06 L430.16,546.17 L429.49,547.30 L428.81,547.05 L428.14,547.49 L427.46,548.52 L426.79,548.25 L426.11,547.44 L425.44,548.64 L424.76,549.90 L424.09,552.38 L423.41,551.80 L422.74,549.31 L422.06,550.73 L421.38,552.17 L420.71,553.70 L420.03,553.59 L419.36,553.19 L418.68,552.64 L418.01,550.68 L417.33,550.47 L416.66,550.67 L415.98,549.14 L415.31,550.71 L414.63,550.40 L413.96,550.49 L413.28,553.66 L412.61,553.93 L411.93,555.41 L411.26,555.88 L410.58,554.30 L409.90,554.26 L409.23,554.67 L408.55,554.60 L407.88,554.83 L407.20,555.81 L406.53,553.87 L405.85,552.10 L405.18,553.80 L404.50,553.64 L403.83,552.81 L403.15,554.21 L402.48,553.14 L401.80,553.41 L401.13,552.87 L400.45,552.60 L399.77,554.10 L399.10,552.52 L398.42,552.84 L397.75,552.04 L397.07,552.62 L396.40,553.68 L395.72,554.89 L395.05,554.16 L394.37,553.75 L393.70,552.46 L393.02,550.12 L392.35,552.44 L391.67,552.75 L391.00,553.23 L390.32,553.21 L389.65,553.73 L388.97,554.20 L388.29,553.00 L387.62,554.37 L386.94,553.16 L386.27,551.84 L385.59,551.47 L384.92,551.22 L384.24,551.80 L383.57,552.83 L382.89,552.14 L382.22,549.73 L381.54,549.75 L380.87,551.13 L380.19,551.69 L379.52,552.44 L378.84,553.88 L378.16,552.52 L377.49,551.83 L376.81,552.21 L376.14,550.58 L375.46,549.16 L374.79,551.35 L374.11,552.70 L373.44,551.75 L372.76,552.79 L372.09,554.23 L371.41,556.18 L370.74,556.95 L370.06,557.06 L369.39,557.63 L368.71,557.57 L368.04,558.10 L367.36,557.93 L366.68,559.00 L366.01,558.47 L365.33,557.29 L364.66,556.72 L363.98,555.05 L363.31,555.47 L362.63,555.80 L361.96,555.75 L361.28,556.70 L360.61,555.97 L359.93,555.16 L359.26,553.94 L358.58,553.23 L357.91,553.80 L357.23,555.56 L356.55,556.56 L355.88,556.91 L355.20,556.18 L354.53,555.50 L353.85,556.11 L353.18,554.16 L352.50,553.26 L351.83,553.19 L351.15,553.08 L350.48,555.02 L349.80,555.30 L349.13,553.60 L348.45,555.61 L347.78,556.94 L347.10,557.18 L346.43,556.13 L345.75,552.88 L345.07,551.49 L344.40,551.57 L343.72,552.74 L343.05,552.82 L342.37,552.60 L341.70,551.82 L341.02,550.20 L340.35,551.06 L339.67,551.49 L339.00,552.99 L338.32,552.80 L337.65,552.76 L336.97,553.77 L336.30,550.58 L335.62,549.60 L334.94,550.96 L334.27,549.36 L333.59,550.44 L332.92,550.21 L332.24,548.22 L331.57,548.14 L330.89,548.63 L330.22,550.96 L329.54,552.08 L328.87,551.15 L328.19,550.27 L327.52,549.53 L326.84,548.98 L326.17,551.00 L325.49,549.98 L324.82,551.01 L324.14,553.24 L323.46,551.87 L322.79,552.27 L322.11,552.26 L321.44,551.43 L320.76,552.00 L320.09,552.44 L319.41,551.33 L318.74,551.05 L318.06,549.92 L317.39,550.86 L316.71,552.59 L316.04,553.99 L315.36,555.58 L314.69,553.24 L314.01,552.62 L313.33,552.91 L312.66,552.15 L311.98,552.12 L311.31,551.56 L310.63,551.55 L309.96,550.11 L309.28,550.84 L308.61,551.53 L307.93,550.76 L307.26,551.73 L306.58,550.42 L305.91,552.31 L305.23,554.25 L304.56,555.19 L303.88,554.95 L303.21,554.96 L302.53,555.25 L301.85,555.04 L301.18,556.91 L300.50,556.85 L299.83,557.43 L299.15,557.65 L298.48,555.68 L297.80,557.52 L297.13,558.30 L296.45,557.96 L295.78,559.24 L295.10,558.63 L294.43,558.90 L293.75,558.11 L293.08,557.03 L292.40,556.43Z" fill="#e4e4e4" fill-opacity="1.0" stroke="none"/>
<path d="M292.40,528.35 L293.08,528.68 L293.75,528.54 L294.43,529.47 L295.10,530.16 L295.78,529.92 L296.45,532.06 L297.13,532.53 L297.80,532.07 L298.48,531.01 L299.15,531.55 L299.83,531.38 L300.50,531.22 L301.18,531.15 L301.85,528.80 L302.53,528.91 L303.21,528.78 L303.88,528.07 L304.56,527.15 L305.23,526.90 L305.91,529.02 L306.58,530.39 L307.26,530.08 L307.93,528.39 L308.61,527.88 L309.28,529.14 L309.96,528.94 L310.63,530.20 L311.31,529.35 L311.98,527.92 L312.66,527.27 L313.33,526.53 L314.01,526.75 L314.69,524.54 L315.36,525.38 L316.04,526.79 L316.71,526.56 L317.39,526.80 L318.06,525.67 L318.74,526.59 L319.41,528.47 L320.09,528.21 L320.76,528.99 L321.44,529.02 L322.11,527.71 L322.79,527.85 L323.46,526.36 L324.14,526.82 L324.82,528.79 L325.49,527.91 L326.17,530.72 L326.84,532.87 L327.52,531.57 L328.19,531.95 L328.87,532.35 L329.54,532.14 L330.22,531.74 L330.89,530.86 L331.57,531.77 L332.24,533.29 L332.92,532.00 L333.59,531.17 L334.27,531.44 L334.94,529.90 L335.62,531.38 L336.30,534.00 L336.97,532.96 L337.65,533.28 L338.32,533.09 L339.00,532.59 L339.67,532.87 L340.35,534.87 L341.02,536.49 L341.70,537.59 L342.37,537.24 L343.05,537.67 L343.72,540.31 L344.40,540.42 L345.07,540.37 L345.75,540.03 L346.43,539.43 L347.10,540.65 L347.78,543.78 L348.45,543.32 L349.13,543.09 L349.80,543.55 L350.48,543.91 L351.15,545.69 L351.83,544.58 L352.50,544.02 L353.18,543.73 L353.85,543.37 L354.53,543.00 L355.20,542.64 L355.88,543.90 L356.55,546.58 L357.23,549.44 L357.91,552.16 L358.58,554.69 L359.26,552.82 L359.93,550.83 L360.61,550.28 L361.28,549.23 L361.96,548.53 L362.63,548.74 L363.31,549.69 L363.98,551.16 L364.66,553.11 L365.33,554.28 L366.01,553.92 L366.68,551.70 L367.36,549.57 L368.04,549.00 L368.71,550.52 L369.39,550.54 L370.06,549.15 L370.74,549.87 L371.41,548.83 L372.09,549.69 L372.76,552.07 L373.44,551.99 L374.11,551.57 L374.79,554.44 L375.46,555.37 L376.14,556.28 L376.81,559.09 L377.49,556.80 L378.16,553.63 L378.84,552.56 L379.52,551.03 L380.19,549.19 L380.87,548.65 L381.54,549.43 L382.22,550.31 L382.89,551.13 L383.57,552.36 L384.24,551.21 L384.92,548.01 L385.59,546.82 L386.27,544.72 L386.94,543.68 L387.62,546.73 L388.29,546.07 L388.97,546.78 L389.65,549.82 L390.32,551.27 L391.00,552.08 L391.67,550.00 L392.35,549.24 L393.02,548.26 L393.70,546.26 L394.37,545.79 L395.05,543.98 L395.72,543.90 L396.40,544.36 L397.07,543.84 L397.75,546.61 L398.42,548.80 L399.10,545.12 L399.77,543.95 L400.45,542.44 L401.13,540.16 L401.80,542.22 L402.48,542.24 L403.15,542.99 L403.83,545.05 L404.50,545.32 L405.18,545.27 L405.85,545.91 L406.53,544.42 L407.20,543.47 L407.88,543.37 L408.55,540.88 L409.23,538.72 L409.90,537.95 L410.58,538.06 L411.26,537.73 L411.93,538.56 L412.61,538.57 L413.28,539.24 L413.96,541.15 L414.63,538.96 L415.31,538.55 L415.98,539.75 L416.66,540.01 L417.33,540.17 L418.01,539.10 L418.68,535.95 L419.36,532.36 L420.03,530.21 L420.71,530.28 L421.38,532.72 L422.06,533.14 L422.74,530.83 L423.41,531.06 L424.09,531.15 L424.76,530.15 L425.44,529.40 L426.11,529.10 L426.79,528.91 L427.46,530.02 L428.14,533.01 L428.81,532.10 L429.49,532.25 L430.16,530.79 L430.84,528.55 L431.51,530.54 L432.19,530.62 L432.87,530.14 L433.54,531.36 L434.22,530.31 L434.89,528.76 L435.57,527.54 L436.24,526.89 L436.92,526.54 L437.59,525.78 L438.27,525.07 L438.94,524.20 L439.62,523.88 L440.29,523.30 L440.97,524.48 L441.64,522.45 L442.32,519.71 L442.99,519.97 L443.67,518.81 L444.35,521.03 L445.02,521.42 L445.70,520.02 L446.37,520.30 L447.05,522.41 L447.72,523.93 L448.40,524.94 L449.07,527.24 L449.75,525.56 L450.42,525.81 L451.10,526.18 L451.77,521.79 L452.45,521.87 L453.12,523.86 L453.80,523.94 L453.80,572.88 L453.12,572.48 L452.45,572.40 L451.77,572.80 L451.10,575.36 L450.42,575.41 L449.75,573.42 L449.07,574.55 L448.40,574.99 L447.72,574.33 L447.05,574.49 L446.37,573.38 L445.70,571.78 L445.02,571.63 L444.35,572.12 L443.67,570.01 L442.99,571.74 L442.32,573.76 L441.64,574.00 L440.97,576.18 L440.29,575.20 L439.62,574.84 L438.94,576.18 L438.27,577.50 L437.59,577.44 L436.92,578.01 L436.24,580.59 L435.57,580.95 L434.89,581.53 L434.22,583.93 L433.54,582.82 L432.87,579.82 L432.19,579.52 L431.51,578.13 L430.84,576.41 L430.16,577.90 L429.49,580.35 L428.81,580.37 L428.14,581.42 L427.46,581.14 L426.79,579.74 L426.11,581.40 L425.44,580.13 L424.76,580.64 L424.09,582.50 L423.41,580.56 L422.74,580.93 L422.06,582.66 L421.38,582.82 L420.71,582.70 L420.03,583.25 L419.36,585.01 L418.68,586.95 L418.01,586.63 L417.33,586.21 L416.66,586.72 L415.98,586.25 L415.31,585.53 L414.63,587.14 L413.96,589.51 L413.28,589.47 L412.61,590.11 L411.93,590.21 L411.26,590.04 L410.58,590.28 L409.90,590.07 L409.23,591.52 L408.55,591.60 L407.88,592.91 L407.20,593.31 L406.53,594.82 L405.85,597.12 L405.18,597.17 L404.50,596.77 L403.83,595.80 L403.15,593.77 L402.48,592.95 L401.80,594.59 L401.13,593.41 L400.45,593.15 L399.77,594.04 L399.10,594.13 L398.42,595.43 L397.75,596.93 L397.07,596.47 L396.40,596.61 L395.72,597.06 L395.05,596.10 L394.37,596.14 L393.70,596.91 L393.02,599.13 L392.35,600.45 L391.67,601.12 L391.00,602.59 L390.32,602.31 L389.65,600.34 L388.97,597.02 L388.29,596.03 L387.62,596.55 L386.94,594.62 L386.27,596.35 L385.59,599.12 L384.92,599.95 L384.24,601.58 L383.57,602.08 L382.89,600.76 L382.22,598.98 L381.54,599.85 L380.87,598.93 L380.19,599.55 L379.52,603.01 L378.84,604.11 L378.16,604.99 L377.49,607.82 L376.81,608.80 L376.14,606.35 L375.46,605.71 L374.79,605.61 L374.11,603.37 L373.44,603.52 L372.76,603.59 L372.09,601.02 L371.41,600.92 L370.74,601.11 L370.06,600.78 L369.39,602.15 L368.71,602.43 L368.04,600.39 L367.36,600.53 L366.68,600.55 L366.01,601.59 L365.33,602.97 L364.66,603.42 L363.98,604.29 L363.31,602.07 L362.63,600.20 L361.96,598.93 L361.28,598.40 L360.61,598.73 L359.93,600.49 L359.26,601.97 L358.58,603.32 L357.91,602.25 L357.23,599.36 L356.55,596.78 L355.88,594.09 L355.20,593.22 L354.53,594.13 L353.85,595.32 L353.18,595.44 L352.50,594.74 L351.83,593.21 L351.15,594.33 L350.48,593.39 L349.80,591.79 L349.13,592.64 L348.45,593.45 L347.78,593.39 L347.10,592.15 L346.43,590.80 L345.75,588.94 L345.07,590.49 L344.40,589.38 L343.72,587.66 L343.05,585.30 L342.37,583.80 L341.70,584.59 L341.02,584.23 L340.35,583.58 L339.67,583.29 L339.00,583.89 L338.32,585.23 L337.65,585.28 L336.97,584.44 L336.30,584.86 L335.62,583.14 L334.94,581.76 L334.27,583.23 L333.59,583.18 L332.92,582.73 L332.24,582.96 L331.57,581.02 L330.89,579.81 L330.22,580.93 L329.54,581.86 L328.87,582.21 L328.19,581.48 L327.52,581.23 L326.84,580.96 L326.17,579.20 L325.49,578.87 L324.82,579.24 L324.14,578.92 L323.46,577.75 L322.79,576.35 L322.11,576.17 L321.44,576.60 L320.76,576.05 L320.09,577.09 L319.41,576.68 L318.74,575.88 L318.06,575.18 L317.39,575.98 L316.71,577.41 L316.04,577.87 L315.36,576.54 L314.69,576.14 L314.01,578.42 L313.33,578.83 L312.66,579.03 L311.98,578.95 L311.31,578.42 L310.63,578.31 L309.96,577.85 L309.28,578.25 L308.61,577.04 L307.93,576.96 L307.26,578.40 L306.58,580.22 L305.91,580.13 L305.23,579.60 L304.56,580.08 L303.88,579.39 L303.21,579.45 L302.53,579.15 L301.85,579.22 L301.18,580.18 L300.50,581.57 L299.83,579.12 L299.15,580.08 L298.48,579.72 L297.80,579.69 L297.13,580.91 L296.45,579.48 L295.78,579.00 L295.10,579.00 L294.43,579.90 L293.75,578.81 L293.08,578.25 L292.40,578.51Z" fill="#f28a3c" fill-opacity="0.11" stroke="none"/>
<path d="M373.20,487.2 V622.4" stroke="#b9b9b9" stroke-width="0.9" stroke-dasharray="4.7 3.4" stroke-dashoffset="1.5" fill="none"/>
<path d="M292.6,487.2 V622.4 H453.8" stroke="#cfcfcf" stroke-width="1.0" fill="none"/>
<text x="290.30" y="491.41" font-size="13.0" text-anchor="end" font-weight="normal" fill="#231f20" textLength="14.0" lengthAdjust="spacingAndGlyphs" stroke="#231f20" stroke-width="0.4">62</text>
<text x="290.30" y="553.93" font-size="13.0" text-anchor="end" font-weight="normal" fill="#231f20" textLength="14.0" lengthAdjust="spacingAndGlyphs" stroke="#231f20" stroke-width="0.4">56</text>
<text x="290.30" y="616.45" font-size="13.0" text-anchor="end" font-weight="normal" fill="#231f20" textLength="14.0" lengthAdjust="spacingAndGlyphs" stroke="#231f20" stroke-width="0.4">50</text>
<text x="289.40" y="635.20" font-size="13.0" text-anchor="middle" font-weight="normal" fill="#231f20" textLength="12.1" lengthAdjust="spacingAndGlyphs" stroke="#231f20" stroke-width="0.4">-2</text>
<text x="329.70" y="635.20" font-size="13.0" text-anchor="middle" font-weight="normal" fill="#231f20" textLength="12.1" lengthAdjust="spacingAndGlyphs" stroke="#231f20" stroke-width="0.4">-1</text>
<text x="373.20" y="635.20" font-size="13.0" text-anchor="middle" font-weight="normal" fill="#231f20" textLength="7.0" lengthAdjust="spacingAndGlyphs" stroke="#231f20" stroke-width="0.4">0</text>
<text x="413.50" y="635.20" font-size="13.0" text-anchor="middle" font-weight="normal" fill="#231f20" textLength="7.0" lengthAdjust="spacingAndGlyphs" stroke="#231f20" stroke-width="0.4">1</text>
<text x="453.80" y="635.20" font-size="13.0" text-anchor="middle" font-weight="normal" fill="#231f20" textLength="7.0" lengthAdjust="spacingAndGlyphs" stroke="#231f20" stroke-width="0.4">2</text>
<path d="M292.6,487.16h2.2M292.6,549.68h2.2M292.6,612.20h2.2M292.6,591.36h1.7600000000000002M292.6,570.52h1.7600000000000002M292.6,528.84h1.7600000000000002M292.6,508.00h1.7600000000000002M292.60,622.4v-2.2M332.90,622.4v-2.2M373.20,622.4v-2.2M413.50,622.4v-2.2M453.80,622.4v-2.2" stroke="#cfcfcf" stroke-width="0.8" fill="none"/>
<path d="M292.40,554.30 L293.08,554.48 L293.75,554.82 L294.43,556.06 L295.10,555.75 L295.78,554.89 L296.45,556.15 L297.13,556.90 L297.80,555.80 L298.48,555.75 L299.15,555.82 L299.83,555.24 L300.50,555.66 L301.18,554.75 L301.85,553.50 L302.53,554.21 L303.21,554.52 L303.88,554.91 L304.56,554.82 L305.23,553.61 L305.91,554.85 L306.58,555.38 L307.26,554.34 L307.93,553.43 L308.61,552.86 L309.28,553.59 L309.96,553.04 L310.63,553.03 L311.31,553.20 L311.98,552.65 L312.66,552.52 L313.33,553.70 L314.01,553.94 L314.69,552.07 L315.36,552.46 L316.04,552.25 L316.71,551.77 L317.39,551.24 L318.06,550.24 L318.74,551.47 L319.41,552.67 L320.09,552.65 L320.76,552.19 L321.44,552.05 L322.11,551.44 L322.79,551.46 L323.46,552.40 L324.14,553.83 L324.82,554.70 L325.49,553.42 L326.17,553.83 L326.84,555.07 L327.52,554.88 L328.19,555.85 L328.87,557.22 L329.54,557.71 L330.22,556.83 L330.89,556.29 L331.57,557.17 L332.24,558.10 L332.92,557.76 L333.59,557.20 L334.27,556.96 L334.94,556.48 L335.62,557.77 L336.30,559.45 L336.97,559.09 L337.65,559.06 L338.32,559.54 L339.00,558.79 L339.67,559.08 L340.35,560.75 L341.02,561.16 L341.70,562.06 L342.37,561.53 L343.05,562.16 L343.72,564.82 L344.40,565.05 L345.07,565.74 L345.75,565.31 L346.43,565.70 L347.10,567.65 L347.78,569.16 L348.45,569.05 L349.13,567.99 L349.80,568.19 L350.48,569.29 L351.15,569.84 L351.83,569.00 L352.50,569.13 L353.18,569.53 L353.85,569.84 L354.53,569.41 L355.20,568.78 L355.88,570.14 L356.55,571.45 L357.23,574.03 L357.91,576.75 L358.58,577.15 L359.26,576.49 L359.93,574.88 L360.61,573.88 L361.28,573.78 L361.96,573.21 L362.63,573.75 L363.31,575.62 L363.98,578.27 L364.66,579.41 L365.33,579.13 L366.01,578.92 L366.68,577.26 L367.36,576.75 L368.04,577.29 L368.71,578.10 L369.39,577.33 L370.06,575.55 L370.74,575.38 L371.41,574.55 L372.09,575.63 L372.76,577.42 L373.44,578.02 L374.11,577.94 L374.79,579.23 L375.46,579.80 L376.14,580.03 L376.81,582.68 L377.49,581.92 L378.16,579.70 L378.84,578.95 L379.52,577.28 L380.19,574.78 L380.87,574.34 L381.54,574.68 L382.22,575.17 L382.89,575.55 L383.57,576.43 L384.24,576.47 L384.92,574.32 L385.59,573.66 L386.27,571.60 L386.94,570.50 L387.62,572.35 L388.29,572.20 L388.97,572.85 L389.65,575.40 L390.32,577.04 L391.00,577.00 L391.67,575.92 L392.35,576.08 L393.02,575.41 L393.70,573.43 L394.37,572.00 L395.05,570.90 L395.72,570.96 L396.40,571.82 L397.07,571.54 L397.75,572.67 L398.42,573.28 L399.10,570.81 L399.77,569.97 L400.45,569.08 L401.13,568.29 L401.80,569.10 L402.48,568.24 L403.15,568.67 L403.83,570.16 L404.50,570.81 L405.18,572.17 L405.85,571.48 L406.53,569.18 L407.20,567.62 L407.88,566.19 L408.55,565.32 L409.23,564.94 L409.90,564.59 L410.58,564.79 L411.26,564.57 L411.93,564.90 L412.61,564.70 L413.28,565.42 L413.96,565.92 L414.63,563.71 L415.31,562.58 L415.98,563.13 L416.66,563.25 L417.33,562.87 L418.01,562.69 L418.68,561.55 L419.36,560.06 L420.03,558.49 L420.71,558.05 L421.38,558.83 L422.06,558.66 L422.74,556.93 L423.41,556.54 L424.09,557.19 L424.76,556.25 L425.44,555.82 L426.11,556.11 L426.79,555.08 L427.46,555.01 L428.14,555.79 L428.81,555.99 L429.49,556.05 L430.16,554.35 L430.84,552.92 L431.51,553.82 L432.19,554.45 L432.87,554.22 L433.54,556.02 L434.22,555.86 L434.89,554.04 L435.57,554.08 L436.24,553.60 L436.92,552.64 L437.59,552.48 L438.27,551.96 L438.94,551.09 L439.62,550.96 L440.29,550.78 L440.97,551.84 L441.64,549.87 L442.32,548.00 L442.99,547.29 L443.67,545.85 L444.35,546.96 L445.02,547.09 L445.70,546.45 L446.37,547.16 L447.05,548.89 L447.72,549.06 L448.40,548.94 L449.07,549.54 L449.75,549.13 L450.42,550.49 L451.10,551.33 L451.77,548.89 L452.45,548.66 L453.12,549.51 L453.80,549.91" stroke="#ef7d28" stroke-width="1.9" fill="none" stroke-linejoin="round" stroke-linecap="round"/>
<path d="M292.40,538.22 L293.08,538.97 L293.75,539.91 L294.43,539.77 L295.10,540.41 L295.78,540.65 L296.45,540.37 L297.13,541.61 L297.80,540.80 L298.48,539.42 L299.15,539.48 L299.83,539.01 L300.50,538.37 L301.18,538.44 L301.85,537.73 L302.53,537.97 L303.21,537.77 L303.88,537.58 L304.56,538.65 L305.23,537.98 L305.91,535.67 L306.58,534.20 L307.26,535.08 L307.93,534.88 L308.61,535.78 L309.28,535.49 L309.96,534.80 L310.63,535.62 L311.31,536.10 L311.98,535.42 L312.66,535.30 L313.33,536.28 L314.01,535.14 L314.69,535.36 L315.36,536.56 L316.04,535.49 L316.71,534.22 L317.39,533.36 L318.06,533.13 L318.74,533.80 L319.41,534.33 L320.09,534.94 L320.76,534.48 L321.44,533.84 L322.11,534.61 L322.79,534.99 L323.46,535.31 L324.14,535.70 L324.82,533.88 L325.49,532.56 L326.17,533.37 L326.84,533.25 L327.52,532.94 L328.19,533.70 L328.87,533.77 L329.54,533.70 L330.22,532.86 L330.89,531.59 L331.57,530.71 L332.24,531.46 L332.92,533.92 L333.59,532.82 L334.27,532.57 L334.94,532.68 L335.62,531.06 L336.30,532.03 L336.97,533.84 L337.65,533.67 L338.32,533.45 L339.00,534.92 L339.67,535.23 L340.35,534.66 L341.02,534.41 L341.70,535.01 L342.37,535.51 L343.05,535.42 L343.72,534.93 L344.40,533.36 L345.07,533.13 L345.75,535.25 L346.43,537.13 L347.10,539.09 L347.78,538.43 L348.45,536.73 L349.13,536.16 L349.80,537.46 L350.48,537.51 L351.15,536.02 L351.83,536.69 L352.50,536.82 L353.18,538.34 L353.85,539.41 L354.53,537.94 L355.20,538.33 L355.88,538.24 L356.55,538.34 L357.23,539.37 L357.91,537.85 L358.58,536.91 L359.26,537.69 L359.93,537.23 L360.61,537.86 L361.28,538.63 L361.96,538.00 L362.63,537.93 L363.31,538.32 L363.98,539.45 L364.66,540.15 L365.33,540.58 L366.01,541.19 L366.68,541.03 L367.36,539.95 L368.04,540.13 L368.71,540.02 L369.39,539.90 L370.06,540.43 L370.74,539.76 L371.41,538.79 L372.09,536.84 L372.76,534.06 L373.44,532.96 L374.11,534.08 L374.79,532.73 L375.46,531.63 L376.14,533.17 L376.81,533.61 L377.49,533.32 L378.16,532.96 L378.84,534.64 L379.52,535.48 L380.19,534.90 L380.87,535.33 L381.54,534.26 L382.22,534.06 L382.89,535.67 L383.57,535.82 L384.24,534.98 L384.92,534.36 L385.59,534.81 L386.27,535.39 L386.94,536.10 L387.62,535.08 L388.29,534.33 L388.97,534.99 L389.65,535.29 L390.32,535.98 L391.00,536.11 L391.67,536.51 L392.35,535.94 L393.02,534.53 L393.70,534.84 L394.37,535.54 L395.05,535.71 L395.72,535.41 L396.40,535.49 L397.07,535.66 L397.75,535.72 L398.42,536.05 L399.10,535.66 L399.77,535.81 L400.45,535.31 L401.13,534.96 L401.80,536.00 L402.48,536.75 L403.15,536.34 L403.83,535.99 L404.50,536.44 L405.18,535.84 L405.85,535.14 L406.53,537.05 L407.20,539.58 L407.88,539.64 L408.55,538.28 L409.23,538.76 L409.90,538.39 L410.58,537.59 L411.26,538.32 L411.93,537.12 L412.61,535.34 L413.28,534.36 L413.96,532.18 L414.63,532.25 L415.31,532.80 L415.98,532.46 L416.66,533.76 L417.33,533.65 L418.01,534.39 L418.68,535.77 L419.36,535.37 L420.03,535.74 L420.71,535.29 L421.38,533.90 L422.06,533.95 L422.74,532.74 L423.41,534.02 L424.09,535.02 L424.76,532.87 L425.44,531.01 L426.11,529.88 L426.79,530.17 L427.46,528.70 L428.14,528.68 L428.81,529.57 L429.49,529.33 L430.16,529.55 L430.84,530.06 L431.51,531.44 L432.19,532.32 L432.87,532.45 L433.54,531.75 L434.22,531.48 L434.89,531.48 L435.57,531.70 L436.24,532.00 L436.92,531.61 L437.59,531.01 L438.27,529.56 L438.94,530.57 L439.62,531.71 L440.29,531.22 L440.97,531.47 L441.64,530.51 L442.32,531.03 L442.99,532.66 L443.67,531.32 L444.35,531.12 L445.02,531.35 L445.70,532.38 L446.37,533.20 L447.05,531.49 L447.72,530.03 L448.40,529.07 L449.07,530.84 L449.75,531.66 L450.42,530.71 L451.10,531.35 L451.77,532.37 L452.45,532.43 L453.12,531.43 L453.80,531.16" stroke="#111" stroke-width="1.9" fill="none" stroke-linejoin="round" stroke-linecap="round"/>
<path d="M335.4,612.6 H422" stroke="#ef7d28" stroke-width="2.0"/><rect x="330" y="611.7" width="1.8" height="1.8" fill="#ef7d28"/>
<path d="M366.30,502.40L366.30,500.15M366.30,502.40L368.44,501.70M366.30,502.40L367.62,504.22M366.30,502.40L364.98,504.22M366.30,502.40L364.16,501.70M372.80,502.40L372.80,500.15M372.80,502.40L374.94,501.70M372.80,502.40L374.12,504.22M372.80,502.40L371.48,504.22M372.80,502.40L370.66,501.70M379.40,502.40L379.40,500.15M379.40,502.40L381.54,501.70M379.40,502.40L380.72,504.22M379.40,502.40L378.08,504.22M379.40,502.40L377.26,501.70" stroke="#231f20" stroke-width="1.65" stroke-linecap="round" fill="none"/>
<text x="267.80" y="554.80" font-size="13.4" text-anchor="middle" font-weight="normal" fill="#231f20" textLength="102.1" lengthAdjust="spacingAndGlyphs" transform="rotate(-90 267.80 554.80)" stroke="#231f20" stroke-width="0.4">Firing rate (spikes/s)</text>
<text x="299.00" y="653.60" font-size="13.4" text-anchor="start" font-weight="normal" fill="#231f20" textLength="149.0" lengthAdjust="spacingAndGlyphs" stroke="#231f20" stroke-width="0.4">Time from transition (s)</text>
<path d="M521.20,524.39 L521.87,524.98 L522.55,526.70 L523.22,528.31 L523.90,529.75 L524.57,530.30 L525.25,529.02 L525.92,527.23 L526.60,525.96 L527.27,526.31 L527.94,526.91 L528.62,528.12 L529.29,527.54 L529.97,523.55 L530.64,522.96 L531.32,523.73 L531.99,523.36 L532.67,522.78 L533.34,523.68 L534.02,524.11 L534.69,521.94 L535.36,521.11 L536.04,520.88 L536.71,520.37 L537.39,520.44 L538.06,520.10 L538.74,519.21 L539.41,520.38 L540.09,520.36 L540.76,519.97 L541.43,519.37 L542.11,518.24 L542.78,515.91 L543.46,520.15 L544.13,518.29 L544.81,515.89 L545.48,515.75 L546.16,519.84 L546.83,521.44 L547.50,518.16 L548.18,517.17 L548.85,516.28 L549.53,514.51 L550.20,514.59 L550.88,514.09 L551.55,514.25 L552.23,513.51 L552.90,514.67 L553.57,515.87 L554.25,517.35 L554.92,515.81 L555.60,515.85 L556.27,516.52 L556.95,515.81 L557.62,517.61 L558.30,515.86 L558.97,514.13 L559.65,514.94 L560.32,516.72 L560.99,516.80 L561.67,514.31 L562.34,513.20 L563.02,515.44 L563.69,516.55 L564.37,520.06 L565.04,519.77 L565.72,518.34 L566.39,519.11 L567.06,520.44 L567.74,520.91 L568.41,521.76 L569.09,521.60 L569.76,522.95 L570.44,522.75 L571.11,522.86 L571.79,523.82 L572.46,525.37 L573.13,526.35 L573.81,525.03 L574.48,524.22 L575.16,522.88 L575.83,523.80 L576.51,524.06 L577.18,522.88 L577.86,524.17 L578.53,526.25 L579.21,526.43 L579.88,524.03 L580.55,522.09 L581.23,522.71 L581.90,524.02 L582.58,525.70 L583.25,524.58 L583.93,523.24 L584.60,523.52 L585.28,526.74 L585.95,526.90 L586.62,526.57 L587.30,522.72 L587.97,524.35 L588.65,524.99 L589.32,526.75 L590.00,522.88 L590.67,519.83 L591.35,519.74 L592.02,523.59 L592.69,523.96 L593.37,522.38 L594.04,523.25 L594.72,523.60 L595.39,525.29 L596.07,526.41 L596.74,526.56 L597.42,524.95 L598.09,524.02 L598.76,521.95 L599.44,524.50 L600.11,524.19 L600.79,525.68 L601.46,528.01 L602.14,526.31 L602.81,522.02 L603.49,521.08 L604.16,521.66 L604.84,520.45 L605.51,520.67 L606.18,520.62 L606.86,522.29 L607.53,520.79 L608.21,521.12 L608.88,519.48 L609.56,520.78 L610.23,519.85 L610.91,520.83 L611.58,522.07 L612.25,522.67 L612.93,524.38 L613.60,525.50 L614.28,525.19 L614.95,522.06 L615.63,519.00 L616.30,523.25 L616.98,524.11 L617.65,524.26 L618.32,525.66 L619.00,523.48 L619.67,524.65 L620.35,521.81 L621.02,523.32 L621.70,524.82 L622.37,524.66 L623.05,521.41 L623.72,518.61 L624.39,518.49 L625.07,518.34 L625.74,521.09 L626.42,523.34 L627.09,522.19 L627.77,520.31 L628.44,518.70 L629.12,518.74 L629.79,520.04 L630.47,519.30 L631.14,517.55 L631.81,516.06 L632.49,517.24 L633.16,518.35 L633.84,518.31 L634.51,518.78 L635.19,518.44 L635.86,516.21 L636.54,516.03 L637.21,517.12 L637.88,516.70 L638.56,517.43 L639.23,515.80 L639.91,516.51 L640.58,516.37 L641.26,515.77 L641.93,515.68 L642.61,516.85 L643.28,517.72 L643.95,518.56 L644.63,516.59 L645.30,518.36 L645.98,519.64 L646.65,519.56 L647.33,517.10 L648.00,516.09 L648.68,515.55 L649.35,512.41 L650.03,513.40 L650.70,513.93 L651.37,516.99 L652.05,516.61 L652.72,518.29 L653.40,514.71 L654.07,514.55 L654.75,513.87 L655.42,516.26 L656.10,513.99 L656.77,513.19 L657.44,511.24 L658.12,513.46 L658.79,516.96 L659.47,514.74 L660.14,512.44 L660.82,510.51 L661.49,513.91 L662.17,514.02 L662.84,513.25 L663.51,515.92 L664.19,514.30 L664.86,513.50 L665.54,513.60 L666.21,514.98 L666.89,515.48 L667.56,517.06 L668.24,516.52 L668.91,516.31 L669.58,518.25 L670.26,515.87 L670.93,515.40 L671.61,513.66 L672.28,513.95 L672.96,517.19 L673.63,517.04 L674.31,515.26 L674.98,513.22 L675.66,511.13 L676.33,514.05 L677.00,513.32 L677.68,513.70 L678.35,512.29 L679.03,510.92 L679.70,511.10 L680.38,514.04 L681.05,514.72 L681.73,515.38 L682.40,514.15 L682.40,552.69 L681.73,552.90 L681.05,552.81 L680.38,552.88 L679.70,550.41 L679.03,551.48 L678.35,551.55 L677.68,553.36 L677.00,552.23 L676.33,552.45 L675.66,552.51 L674.98,555.76 L674.31,558.53 L673.63,559.00 L672.96,558.14 L672.28,553.88 L671.61,551.67 L670.93,551.22 L670.26,553.14 L669.58,555.84 L668.91,555.43 L668.24,555.16 L667.56,553.38 L666.89,552.11 L666.21,552.73 L665.54,555.88 L664.86,553.72 L664.19,554.04 L663.51,553.85 L662.84,553.16 L662.17,553.18 L661.49,552.18 L660.82,551.64 L660.14,551.45 L659.47,554.61 L658.79,553.74 L658.12,552.74 L657.44,551.69 L656.77,551.70 L656.10,552.79 L655.42,553.13 L654.75,553.04 L654.07,551.67 L653.40,553.47 L652.72,555.06 L652.05,555.53 L651.37,554.06 L650.70,554.71 L650.03,553.57 L649.35,553.10 L648.68,554.40 L648.00,553.28 L647.33,553.96 L646.65,553.36 L645.98,554.78 L645.30,554.92 L644.63,555.67 L643.95,557.07 L643.28,556.40 L642.61,555.40 L641.93,556.73 L641.26,556.14 L640.58,556.24 L639.91,556.31 L639.23,558.03 L638.56,559.29 L637.88,558.37 L637.21,556.94 L636.54,558.62 L635.86,557.29 L635.19,558.75 L634.51,556.21 L633.84,557.29 L633.16,556.85 L632.49,556.92 L631.81,556.31 L631.14,557.30 L630.47,559.29 L629.79,560.52 L629.12,561.29 L628.44,560.47 L627.77,559.27 L627.09,557.91 L626.42,558.15 L625.74,556.05 L625.07,555.87 L624.39,556.67 L623.72,558.28 L623.05,558.70 L622.37,560.14 L621.70,558.79 L621.02,558.44 L620.35,560.38 L619.67,563.35 L619.00,564.70 L618.32,565.39 L617.65,564.12 L616.98,562.54 L616.30,563.31 L615.63,562.27 L614.95,562.92 L614.28,564.02 L613.60,562.05 L612.93,563.03 L612.25,561.73 L611.58,561.20 L610.91,559.50 L610.23,559.23 L609.56,558.69 L608.88,559.05 L608.21,559.52 L607.53,560.75 L606.86,557.74 L606.18,558.66 L605.51,557.11 L604.84,559.14 L604.16,559.55 L603.49,559.45 L602.81,561.83 L602.14,563.22 L601.46,565.46 L600.79,562.62 L600.11,566.53 L599.44,566.38 L598.76,565.00 L598.09,565.56 L597.42,565.89 L596.74,566.33 L596.07,565.49 L595.39,564.31 L594.72,563.27 L594.04,562.63 L593.37,562.58 L592.69,564.93 L592.02,563.69 L591.35,561.30 L590.67,559.66 L590.00,562.03 L589.32,564.91 L588.65,565.94 L587.97,565.61 L587.30,565.13 L586.62,566.30 L585.95,567.34 L585.28,564.61 L584.60,561.73 L583.93,563.47 L583.25,564.87 L582.58,564.88 L581.90,560.34 L581.23,558.45 L580.55,559.75 L579.88,561.76 L579.21,564.85 L578.53,564.40 L577.86,563.86 L577.18,562.73 L576.51,566.04 L575.83,565.47 L575.16,565.82 L574.48,563.66 L573.81,564.50 L573.13,564.05 L572.46,562.43 L571.79,561.27 L571.11,561.62 L570.44,562.37 L569.76,561.27 L569.09,560.87 L568.41,561.47 L567.74,560.97 L567.06,558.65 L566.39,556.40 L565.72,553.68 L565.04,556.18 L564.37,556.51 L563.69,555.17 L563.02,553.68 L562.34,553.19 L561.67,553.61 L560.99,556.28 L560.32,555.04 L559.65,555.92 L558.97,554.26 L558.30,557.79 L557.62,556.68 L556.95,557.57 L556.27,557.47 L555.60,558.58 L554.92,555.70 L554.25,555.40 L553.57,553.71 L552.90,553.26 L552.23,554.86 L551.55,553.78 L550.88,555.24 L550.20,552.98 L549.53,552.39 L548.85,552.00 L548.18,552.64 L547.50,553.91 L546.83,557.28 L546.16,559.65 L545.48,558.65 L544.81,558.26 L544.13,556.72 L543.46,556.04 L542.78,553.63 L542.11,556.68 L541.43,558.13 L540.76,558.03 L540.09,560.34 L539.41,561.86 L538.74,562.23 L538.06,562.22 L537.39,561.91 L536.71,560.78 L536.04,561.11 L535.36,560.73 L534.69,563.22 L534.02,564.53 L533.34,564.01 L532.67,560.61 L531.99,560.32 L531.32,562.78 L530.64,564.38 L529.97,567.96 L529.29,568.92 L528.62,568.30 L527.94,565.41 L527.27,567.00 L526.60,567.25 L525.92,568.27 L525.25,569.65 L524.57,571.96 L523.90,572.54 L523.22,569.77 L522.55,565.47 L521.87,563.33 L521.20,563.35Z" fill="#e4e4e4" fill-opacity="1.0" stroke="none"/>
<path d="M521.20,529.95 L521.87,528.40 L522.55,529.34 L523.22,533.59 L523.90,533.88 L524.57,532.77 L525.25,531.70 L525.92,532.67 L526.60,533.19 L527.27,533.98 L527.94,534.07 L528.62,532.04 L529.29,530.36 L529.97,531.30 L530.64,531.20 L531.32,531.34 L531.99,528.11 L532.67,530.23 L533.34,530.67 L534.02,528.98 L534.69,525.77 L535.36,523.42 L536.04,524.96 L536.71,524.39 L537.39,526.09 L538.06,525.94 L538.74,526.25 L539.41,523.20 L540.09,521.11 L540.76,523.46 L541.43,526.73 L542.11,524.95 L542.78,523.92 L543.46,525.69 L544.13,523.37 L544.81,522.20 L545.48,523.82 L546.16,526.83 L546.83,527.40 L547.50,525.91 L548.18,523.33 L548.85,519.64 L549.53,520.92 L550.20,522.60 L550.88,523.19 L551.55,522.29 L552.23,523.81 L552.90,523.30 L553.57,523.91 L554.25,521.10 L554.92,521.34 L555.60,524.60 L556.27,524.88 L556.95,524.25 L557.62,523.40 L558.30,522.87 L558.97,526.86 L559.65,529.14 L560.32,528.13 L560.99,525.36 L561.67,523.60 L562.34,523.58 L563.02,522.53 L563.69,523.97 L564.37,522.46 L565.04,524.22 L565.72,525.68 L566.39,524.61 L567.06,522.85 L567.74,523.71 L568.41,525.83 L569.09,525.46 L569.76,524.78 L570.44,526.18 L571.11,526.30 L571.79,526.06 L572.46,526.42 L573.13,527.94 L573.81,530.96 L574.48,531.26 L575.16,530.02 L575.83,528.62 L576.51,528.66 L577.18,525.61 L577.86,526.02 L578.53,528.09 L579.21,531.52 L579.88,532.76 L580.55,529.02 L581.23,527.96 L581.90,529.46 L582.58,530.50 L583.25,535.04 L583.93,530.71 L584.60,529.88 L585.28,530.32 L585.95,532.16 L586.62,533.21 L587.30,531.33 L587.97,529.95 L588.65,529.83 L589.32,528.19 L590.00,529.76 L590.67,530.33 L591.35,530.16 L592.02,529.36 L592.69,531.82 L593.37,530.09 L594.04,530.03 L594.72,529.32 L595.39,528.46 L596.07,529.03 L596.74,526.96 L597.42,526.88 L598.09,527.47 L598.76,528.81 L599.44,529.24 L600.11,526.76 L600.79,528.98 L601.46,528.41 L602.14,531.60 L602.81,529.29 L603.49,530.30 L604.16,528.80 L604.84,529.15 L605.51,531.48 L606.18,530.33 L606.86,529.82 L607.53,530.39 L608.21,531.65 L608.88,534.13 L609.56,527.99 L610.23,523.56 L610.91,523.20 L611.58,521.40 L612.25,519.58 L612.93,518.04 L613.60,520.47 L614.28,520.47 L614.95,521.11 L615.63,519.14 L616.30,520.53 L616.98,522.06 L617.65,523.48 L618.32,522.13 L619.00,522.76 L619.67,522.56 L620.35,523.95 L621.02,522.54 L621.70,524.24 L622.37,525.75 L623.05,526.02 L623.72,525.85 L624.39,523.94 L625.07,524.58 L625.74,527.22 L626.42,526.02 L627.09,524.50 L627.77,526.07 L628.44,527.19 L629.12,526.66 L629.79,528.88 L630.47,527.97 L631.14,524.85 L631.81,523.79 L632.49,521.85 L633.16,524.01 L633.84,523.67 L634.51,523.77 L635.19,519.24 L635.86,522.02 L636.54,523.60 L637.21,526.87 L637.88,528.19 L638.56,527.55 L639.23,526.16 L639.91,528.05 L640.58,529.39 L641.26,526.12 L641.93,524.25 L642.61,526.14 L643.28,528.77 L643.95,528.39 L644.63,525.56 L645.30,524.46 L645.98,522.81 L646.65,521.03 L647.33,521.51 L648.00,526.77 L648.68,526.04 L649.35,524.32 L650.03,521.80 L650.70,522.34 L651.37,523.62 L652.05,525.50 L652.72,523.55 L653.40,522.06 L654.07,521.63 L654.75,521.87 L655.42,519.65 L656.10,519.58 L656.77,521.04 L657.44,522.54 L658.12,524.83 L658.79,524.35 L659.47,523.25 L660.14,522.71 L660.82,521.16 L661.49,518.70 L662.17,519.51 L662.84,520.55 L663.51,519.15 L664.19,517.56 L664.86,518.57 L665.54,520.83 L666.21,520.10 L666.89,514.77 L667.56,515.42 L668.24,516.19 L668.91,520.15 L669.58,518.07 L670.26,518.07 L670.93,519.05 L671.61,517.76 L672.28,515.87 L672.96,514.98 L673.63,516.08 L674.31,516.16 L674.98,515.87 L675.66,514.85 L676.33,515.92 L677.00,515.43 L677.68,514.40 L678.35,513.45 L679.03,515.55 L679.70,516.17 L680.38,517.73 L681.05,518.62 L681.73,519.22 L682.40,520.00 L682.40,565.98 L681.73,564.90 L681.05,568.48 L680.38,570.84 L679.70,569.53 L679.03,567.05 L678.35,563.74 L677.68,565.47 L677.00,565.56 L676.33,565.51 L675.66,565.50 L674.98,568.12 L674.31,566.20 L673.63,563.50 L672.96,561.32 L672.28,565.50 L671.61,568.25 L670.93,569.75 L670.26,568.30 L669.58,568.15 L668.91,570.04 L668.24,570.23 L667.56,569.34 L666.89,567.39 L666.21,567.81 L665.54,567.38 L664.86,564.65 L664.19,565.89 L663.51,568.81 L662.84,571.76 L662.17,568.43 L661.49,568.08 L660.82,570.53 L660.14,572.03 L659.47,571.06 L658.79,572.58 L658.12,574.21 L657.44,575.12 L656.77,574.40 L656.10,572.39 L655.42,571.34 L654.75,573.64 L654.07,573.42 L653.40,571.99 L652.72,571.10 L652.05,573.44 L651.37,572.24 L650.70,570.37 L650.03,569.84 L649.35,571.11 L648.68,573.97 L648.00,573.10 L647.33,571.91 L646.65,572.28 L645.98,576.02 L645.30,575.80 L644.63,575.58 L643.95,578.01 L643.28,578.29 L642.61,576.67 L641.93,574.25 L641.26,574.82 L640.58,577.11 L639.91,575.96 L639.23,573.34 L638.56,574.05 L637.88,576.41 L637.21,577.22 L636.54,577.56 L635.86,575.14 L635.19,573.46 L634.51,574.16 L633.84,572.02 L633.16,571.41 L632.49,573.31 L631.81,577.31 L631.14,576.79 L630.47,577.29 L629.79,576.67 L629.12,573.85 L628.44,576.59 L627.77,575.93 L627.09,573.50 L626.42,573.57 L625.74,575.27 L625.07,575.04 L624.39,573.58 L623.72,575.47 L623.05,574.06 L622.37,572.19 L621.70,571.67 L621.02,570.85 L620.35,572.64 L619.67,571.94 L619.00,570.64 L618.32,569.93 L617.65,568.67 L616.98,572.79 L616.30,573.32 L615.63,573.58 L614.95,571.21 L614.28,570.89 L613.60,570.10 L612.93,570.51 L612.25,571.00 L611.58,573.65 L610.91,573.15 L610.23,572.43 L609.56,577.34 L608.88,581.43 L608.21,578.68 L607.53,575.26 L606.86,577.06 L606.18,577.97 L605.51,579.03 L604.84,579.05 L604.16,580.22 L603.49,580.43 L602.81,579.69 L602.14,578.98 L601.46,578.54 L600.79,578.21 L600.11,579.36 L599.44,580.86 L598.76,578.47 L598.09,576.94 L597.42,576.04 L596.74,575.69 L596.07,576.50 L595.39,577.19 L594.72,579.01 L594.04,580.50 L593.37,578.89 L592.69,578.67 L592.02,577.51 L591.35,578.26 L590.67,581.99 L590.00,582.44 L589.32,580.61 L588.65,580.00 L587.97,576.72 L587.30,580.82 L586.62,582.07 L585.95,581.87 L585.28,579.71 L584.60,578.14 L583.93,579.51 L583.25,579.67 L582.58,577.67 L581.90,576.67 L581.23,577.50 L580.55,577.22 L579.88,580.03 L579.21,579.25 L578.53,577.43 L577.86,575.65 L577.18,576.53 L576.51,576.92 L575.83,575.26 L575.16,574.25 L574.48,576.10 L573.81,577.21 L573.13,575.33 L572.46,575.59 L571.79,574.84 L571.11,575.00 L570.44,573.72 L569.76,573.83 L569.09,575.31 L568.41,577.90 L567.74,576.42 L567.06,574.30 L566.39,575.26 L565.72,576.80 L565.04,576.47 L564.37,574.92 L563.69,576.04 L563.02,574.27 L562.34,576.20 L561.67,574.65 L560.99,574.82 L560.32,575.07 L559.65,574.17 L558.97,572.85 L558.30,571.71 L557.62,575.76 L556.95,576.77 L556.27,574.57 L555.60,571.53 L554.92,570.87 L554.25,570.91 L553.57,574.71 L552.90,573.77 L552.23,574.72 L551.55,574.56 L550.88,571.87 L550.20,571.58 L549.53,570.69 L548.85,572.26 L548.18,575.05 L547.50,574.22 L546.83,574.27 L546.16,574.34 L545.48,574.38 L544.81,572.74 L544.13,573.94 L543.46,575.06 L542.78,572.19 L542.11,570.92 L541.43,573.15 L540.76,572.57 L540.09,572.07 L539.41,571.46 L538.74,573.96 L538.06,575.59 L537.39,576.23 L536.71,576.74 L536.04,575.80 L535.36,578.06 L534.69,573.64 L534.02,574.78 L533.34,575.25 L532.67,577.54 L531.99,575.86 L531.32,575.22 L530.64,577.14 L529.97,579.10 L529.29,580.94 L528.62,582.95 L527.94,584.41 L527.27,583.95 L526.60,582.96 L525.92,582.07 L525.25,582.44 L524.57,579.91 L523.90,581.81 L523.22,582.48 L522.55,581.45 L521.87,579.21 L521.20,578.81Z" fill="#f28a3c" fill-opacity="0.11" stroke="none"/>
<path d="M601.80,487.2 V622.4" stroke="#b9b9b9" stroke-width="0.9" stroke-dasharray="4.7 3.4" stroke-dashoffset="1.5" fill="none"/>
<path d="M521.2,487.2 V622.4 H682.4" stroke="#cfcfcf" stroke-width="1.0" fill="none"/>
<text x="518.80" y="491.43" font-size="13.0" text-anchor="end" font-weight="normal" fill="#231f20" textLength="14.0" lengthAdjust="spacingAndGlyphs" stroke="#231f20" stroke-width="0.4">66</text>
<text x="518.80" y="553.95" font-size="13.0" text-anchor="end" font-weight="normal" fill="#231f20" textLength="14.0" lengthAdjust="spacingAndGlyphs" stroke="#231f20" stroke-width="0.4">60</text>
<text x="518.80" y="616.47" font-size="13.0" text-anchor="end" font-weight="normal" fill="#231f20" textLength="14.0" lengthAdjust="spacingAndGlyphs" stroke="#231f20" stroke-width="0.4">54</text>
<text x="518.00" y="635.20" font-size="13.0" text-anchor="middle" font-weight="normal" fill="#231f20" textLength="12.1" lengthAdjust="spacingAndGlyphs" stroke="#231f20" stroke-width="0.4">-2</text>
<text x="558.30" y="635.20" font-size="13.0" text-anchor="middle" font-weight="normal" fill="#231f20" textLength="12.1" lengthAdjust="spacingAndGlyphs" stroke="#231f20" stroke-width="0.4">-1</text>
<text x="601.80" y="635.20" font-size="13.0" text-anchor="middle" font-weight="normal" fill="#231f20" textLength="7.0" lengthAdjust="spacingAndGlyphs" stroke="#231f20" stroke-width="0.4">0</text>
<text x="642.10" y="635.20" font-size="13.0" text-anchor="middle" font-weight="normal" fill="#231f20" textLength="7.0" lengthAdjust="spacingAndGlyphs" stroke="#231f20" stroke-width="0.4">1</text>
<text x="682.40" y="635.20" font-size="13.0" text-anchor="middle" font-weight="normal" fill="#231f20" textLength="7.0" lengthAdjust="spacingAndGlyphs" stroke="#231f20" stroke-width="0.4">2</text>
<path d="M521.2,487.18h2.2M521.2,549.70h2.2M521.2,612.22h2.2M521.2,591.38h1.7600000000000002M521.2,570.54h1.7600000000000002M521.2,528.86h1.7600000000000002M521.2,508.02h1.7600000000000002M521.20,622.4v-2.2M561.50,622.4v-2.2M601.80,622.4v-2.2M642.10,622.4v-2.2M682.40,622.4v-2.2" stroke="#cfcfcf" stroke-width="0.8" fill="none"/>
<path d="M521.20,555.79 L521.87,556.30 L522.55,556.99 L523.22,559.03 L523.90,558.82 L524.57,559.03 L525.25,559.02 L525.92,558.43 L526.60,558.89 L527.27,559.60 L527.94,559.78 L528.62,558.45 L529.29,557.83 L529.97,557.07 L530.64,556.71 L531.32,555.08 L531.99,553.07 L532.67,552.62 L533.34,553.07 L534.02,552.78 L534.69,551.38 L535.36,550.91 L536.04,550.07 L536.71,550.30 L537.39,550.36 L538.06,549.91 L538.74,549.51 L539.41,548.14 L540.09,547.03 L540.76,548.08 L541.43,550.39 L542.11,549.66 L542.78,549.74 L543.46,550.53 L544.13,548.88 L544.81,547.65 L545.48,549.41 L546.16,550.46 L546.83,550.21 L547.50,550.85 L548.18,550.60 L548.85,548.38 L549.53,547.79 L550.20,548.82 L550.88,549.40 L551.55,550.98 L552.23,550.68 L552.90,549.61 L553.57,549.80 L554.25,548.33 L554.92,547.82 L555.60,549.19 L556.27,548.93 L556.95,549.60 L557.62,549.32 L558.30,547.66 L558.97,549.47 L559.65,550.90 L560.32,550.33 L560.99,549.84 L561.67,550.21 L562.34,550.69 L563.02,550.24 L563.69,550.66 L564.37,550.36 L565.04,550.20 L565.72,551.22 L566.39,550.96 L567.06,550.72 L567.74,552.07 L568.41,552.76 L569.09,551.25 L569.76,551.76 L570.44,553.62 L571.11,553.33 L571.79,551.92 L572.46,551.86 L573.13,553.02 L573.81,555.18 L574.48,554.83 L575.16,553.37 L575.83,553.53 L576.51,553.68 L577.18,553.05 L577.86,552.75 L578.53,553.74 L579.21,555.38 L579.88,555.00 L580.55,552.42 L581.23,552.74 L581.90,553.13 L582.58,554.40 L583.25,556.16 L583.93,555.23 L584.60,554.67 L585.28,555.23 L585.95,555.61 L586.62,556.83 L587.30,556.09 L587.97,554.67 L588.65,555.75 L589.32,555.94 L590.00,556.86 L590.67,557.38 L591.35,555.14 L592.02,554.78 L592.69,554.82 L593.37,554.99 L594.04,556.79 L594.72,556.37 L595.39,554.04 L596.07,553.26 L596.74,553.22 L597.42,553.40 L598.09,554.78 L598.76,554.93 L599.44,554.93 L600.11,553.21 L600.79,553.30 L601.46,554.74 L602.14,554.88 L602.81,555.05 L603.49,555.64 L604.16,555.89 L604.84,555.66 L605.51,556.63 L606.18,556.02 L606.86,555.52 L607.53,554.18 L608.21,554.24 L608.88,555.30 L609.56,552.54 L610.23,550.14 L610.91,550.43 L611.58,548.94 L612.25,546.80 L612.93,546.47 L613.60,546.62 L614.28,546.71 L614.95,547.28 L615.63,547.40 L616.30,546.89 L616.98,547.51 L617.65,546.91 L618.32,546.57 L619.00,546.15 L619.67,547.10 L620.35,547.44 L621.02,546.60 L621.70,547.49 L622.37,549.45 L623.05,550.39 L623.72,549.90 L624.39,549.08 L625.07,549.60 L625.74,551.34 L626.42,549.82 L627.09,549.45 L627.77,551.72 L628.44,551.13 L629.12,550.01 L629.79,552.33 L630.47,552.77 L631.14,552.00 L631.81,553.29 L632.49,552.06 L633.16,550.60 L633.84,551.29 L634.51,550.39 L635.19,548.82 L635.86,549.76 L636.54,551.06 L637.21,551.54 L637.88,552.65 L638.56,553.09 L639.23,552.11 L639.91,552.00 L640.58,552.79 L641.26,550.00 L641.93,549.00 L642.61,550.42 L643.28,552.20 L643.95,552.18 L644.63,549.89 L645.30,550.64 L645.98,551.07 L646.65,548.82 L647.33,548.61 L648.00,551.08 L648.68,550.75 L649.35,548.75 L650.03,548.35 L650.70,548.54 L651.37,549.63 L652.05,550.55 L652.72,549.68 L653.40,549.22 L654.07,549.55 L654.75,548.94 L655.42,546.90 L656.10,545.50 L656.77,546.60 L657.44,547.09 L658.12,547.91 L658.79,547.22 L659.47,545.20 L660.14,546.60 L660.82,546.73 L661.49,544.90 L662.17,545.37 L662.84,546.16 L663.51,545.22 L664.19,543.42 L664.86,542.81 L665.54,545.11 L666.21,545.28 L666.89,543.79 L667.56,543.77 L668.24,543.84 L668.91,544.75 L669.58,544.25 L670.26,544.23 L670.93,545.13 L671.61,542.96 L672.28,540.78 L672.96,539.55 L673.63,539.99 L674.31,541.57 L674.98,541.73 L675.66,540.86 L676.33,540.56 L677.00,540.90 L677.68,541.09 L678.35,540.71 L679.03,541.43 L679.70,542.32 L680.38,542.96 L681.05,544.18 L681.73,543.70 L682.40,545.15" stroke="#ef7d28" stroke-width="1.9" fill="none" stroke-linejoin="round" stroke-linecap="round"/>
<path d="M521.20,546.80 L521.87,547.77 L522.55,548.69 L523.22,549.66 L523.90,550.21 L524.57,550.16 L525.25,549.33 L525.92,547.86 L526.60,548.36 L527.27,548.15 L527.94,547.72 L528.62,548.80 L529.29,549.12 L529.97,547.83 L530.64,546.14 L531.32,545.79 L531.99,544.11 L532.67,543.01 L533.34,545.12 L534.02,545.53 L534.69,544.13 L535.36,542.34 L536.04,541.38 L536.71,541.70 L537.39,541.94 L538.06,542.23 L538.74,541.73 L539.41,541.63 L540.09,540.90 L540.76,538.57 L541.43,539.68 L542.11,539.18 L542.78,537.26 L543.46,539.20 L544.13,539.06 L544.81,537.53 L545.48,537.46 L546.16,538.99 L546.83,539.34 L547.50,537.21 L548.18,536.12 L548.85,536.09 L549.53,535.18 L550.20,535.62 L550.88,536.45 L551.55,536.35 L552.23,536.57 L552.90,536.08 L553.57,536.87 L554.25,538.74 L554.92,537.85 L555.60,537.71 L556.27,536.82 L556.95,535.52 L557.62,536.67 L558.30,536.71 L558.97,535.78 L559.65,536.71 L560.32,537.96 L560.99,537.55 L561.67,535.56 L562.34,534.76 L563.02,536.13 L563.69,537.62 L564.37,539.32 L565.04,539.57 L565.72,538.50 L566.39,539.82 L567.06,541.04 L567.74,541.30 L568.41,542.32 L569.09,542.39 L569.76,543.03 L570.44,542.97 L571.11,541.99 L571.79,542.33 L572.46,543.39 L573.13,544.03 L573.81,543.28 L574.48,542.94 L575.16,543.69 L575.83,545.14 L576.51,545.60 L577.18,543.43 L577.86,543.54 L578.53,545.43 L579.21,546.25 L579.88,545.36 L580.55,544.43 L581.23,543.98 L581.90,544.87 L582.58,546.12 L583.25,546.31 L583.93,544.16 L584.60,543.58 L585.28,545.45 L585.95,546.81 L586.62,546.98 L587.30,545.64 L587.97,545.64 L588.65,546.00 L589.32,547.02 L590.00,546.22 L590.67,542.97 L591.35,542.76 L592.02,545.27 L592.69,546.14 L593.37,545.66 L594.04,545.92 L594.72,546.50 L595.39,546.35 L596.07,546.42 L596.74,545.97 L597.42,546.25 L598.09,546.95 L598.76,546.60 L599.44,547.91 L600.11,547.28 L600.79,546.12 L601.46,547.66 L602.14,546.66 L602.81,544.16 L603.49,543.53 L604.16,543.15 L604.84,541.38 L605.51,540.41 L606.18,540.56 L606.86,541.21 L607.53,542.22 L608.21,541.81 L608.88,541.29 L609.56,541.21 L610.23,541.14 L610.91,541.94 L611.58,542.29 L612.25,543.37 L612.93,544.21 L613.60,544.04 L614.28,545.02 L614.95,543.86 L615.63,543.86 L616.30,545.31 L616.98,544.34 L617.65,543.71 L618.32,544.61 L619.00,544.87 L619.67,544.47 L620.35,543.37 L621.02,542.30 L621.70,543.83 L622.37,542.91 L623.05,541.03 L623.72,541.70 L624.39,541.90 L625.07,540.38 L625.74,540.32 L626.42,541.67 L627.09,541.97 L627.77,541.34 L628.44,540.65 L629.12,540.75 L629.79,541.46 L630.47,541.01 L631.14,539.46 L631.81,539.06 L632.49,539.49 L633.16,540.34 L633.84,539.41 L634.51,540.28 L635.19,540.80 L635.86,539.59 L636.54,540.00 L637.21,538.92 L637.88,538.33 L638.56,538.67 L639.23,538.03 L639.91,538.02 L640.58,537.53 L641.26,536.61 L641.93,537.22 L642.61,537.76 L643.28,538.36 L643.95,537.47 L644.63,535.61 L645.30,536.28 L645.98,537.44 L646.65,537.45 L647.33,537.28 L648.00,538.11 L648.68,538.14 L649.35,536.34 L650.03,536.33 L650.70,537.30 L651.37,536.97 L652.05,537.97 L652.72,538.81 L653.40,537.06 L654.07,535.31 L654.75,534.88 L655.42,534.65 L656.10,533.65 L656.77,534.20 L657.44,534.38 L658.12,534.23 L658.79,534.36 L659.47,533.67 L660.14,533.25 L660.82,533.02 L661.49,534.28 L662.17,534.81 L662.84,535.07 L663.51,537.27 L664.19,536.03 L664.86,534.71 L665.54,536.56 L666.21,535.09 L666.89,534.40 L667.56,535.43 L668.24,535.65 L668.91,537.00 L669.58,537.15 L670.26,535.62 L670.93,534.99 L671.61,534.74 L672.28,535.26 L672.96,536.85 L673.63,536.43 L674.31,536.07 L674.98,535.13 L675.66,534.28 L676.33,535.02 L677.00,535.21 L677.68,535.41 L678.35,535.49 L679.03,534.39 L679.70,534.42 L680.38,535.53 L681.05,536.06 L681.73,535.49 L682.40,535.18" stroke="#111" stroke-width="1.9" fill="none" stroke-linejoin="round" stroke-linecap="round"/>
<path d="M594.90,502.40L594.90,500.15M594.90,502.40L597.04,501.70M594.90,502.40L596.22,504.22M594.90,502.40L593.58,504.22M594.90,502.40L592.76,501.70M601.40,502.40L601.40,500.15M601.40,502.40L603.54,501.70M601.40,502.40L602.72,504.22M601.40,502.40L600.08,504.22M601.40,502.40L599.26,501.70M608.10,502.40L608.10,500.15M608.10,502.40L610.24,501.70M608.10,502.40L609.42,504.22M608.10,502.40L606.78,504.22M608.10,502.40L605.96,501.70" stroke="#231f20" stroke-width="1.65" stroke-linecap="round" fill="none"/>
<text x="479.90" y="555.20" font-size="13.4" text-anchor="middle" font-weight="normal" fill="#231f20" textLength="73.9" lengthAdjust="spacingAndGlyphs" transform="rotate(-90 479.90 555.20)" stroke="#231f20" stroke-width="0.4">Pause-omitted</text>
<text x="496.40" y="553.80" font-size="13.4" text-anchor="middle" font-weight="normal" fill="#231f20" textLength="99.3" lengthAdjust="spacingAndGlyphs" transform="rotate(-90 496.40 553.80)" stroke="#231f20" stroke-width="0.4">firing rate (spikes/s)</text>
<text x="530.20" y="653.60" font-size="13.4" text-anchor="start" font-weight="normal" fill="#231f20" textLength="148.8" lengthAdjust="spacingAndGlyphs" stroke="#231f20" stroke-width="0.4">Time from transition (s)</text>
</svg></body></html>
